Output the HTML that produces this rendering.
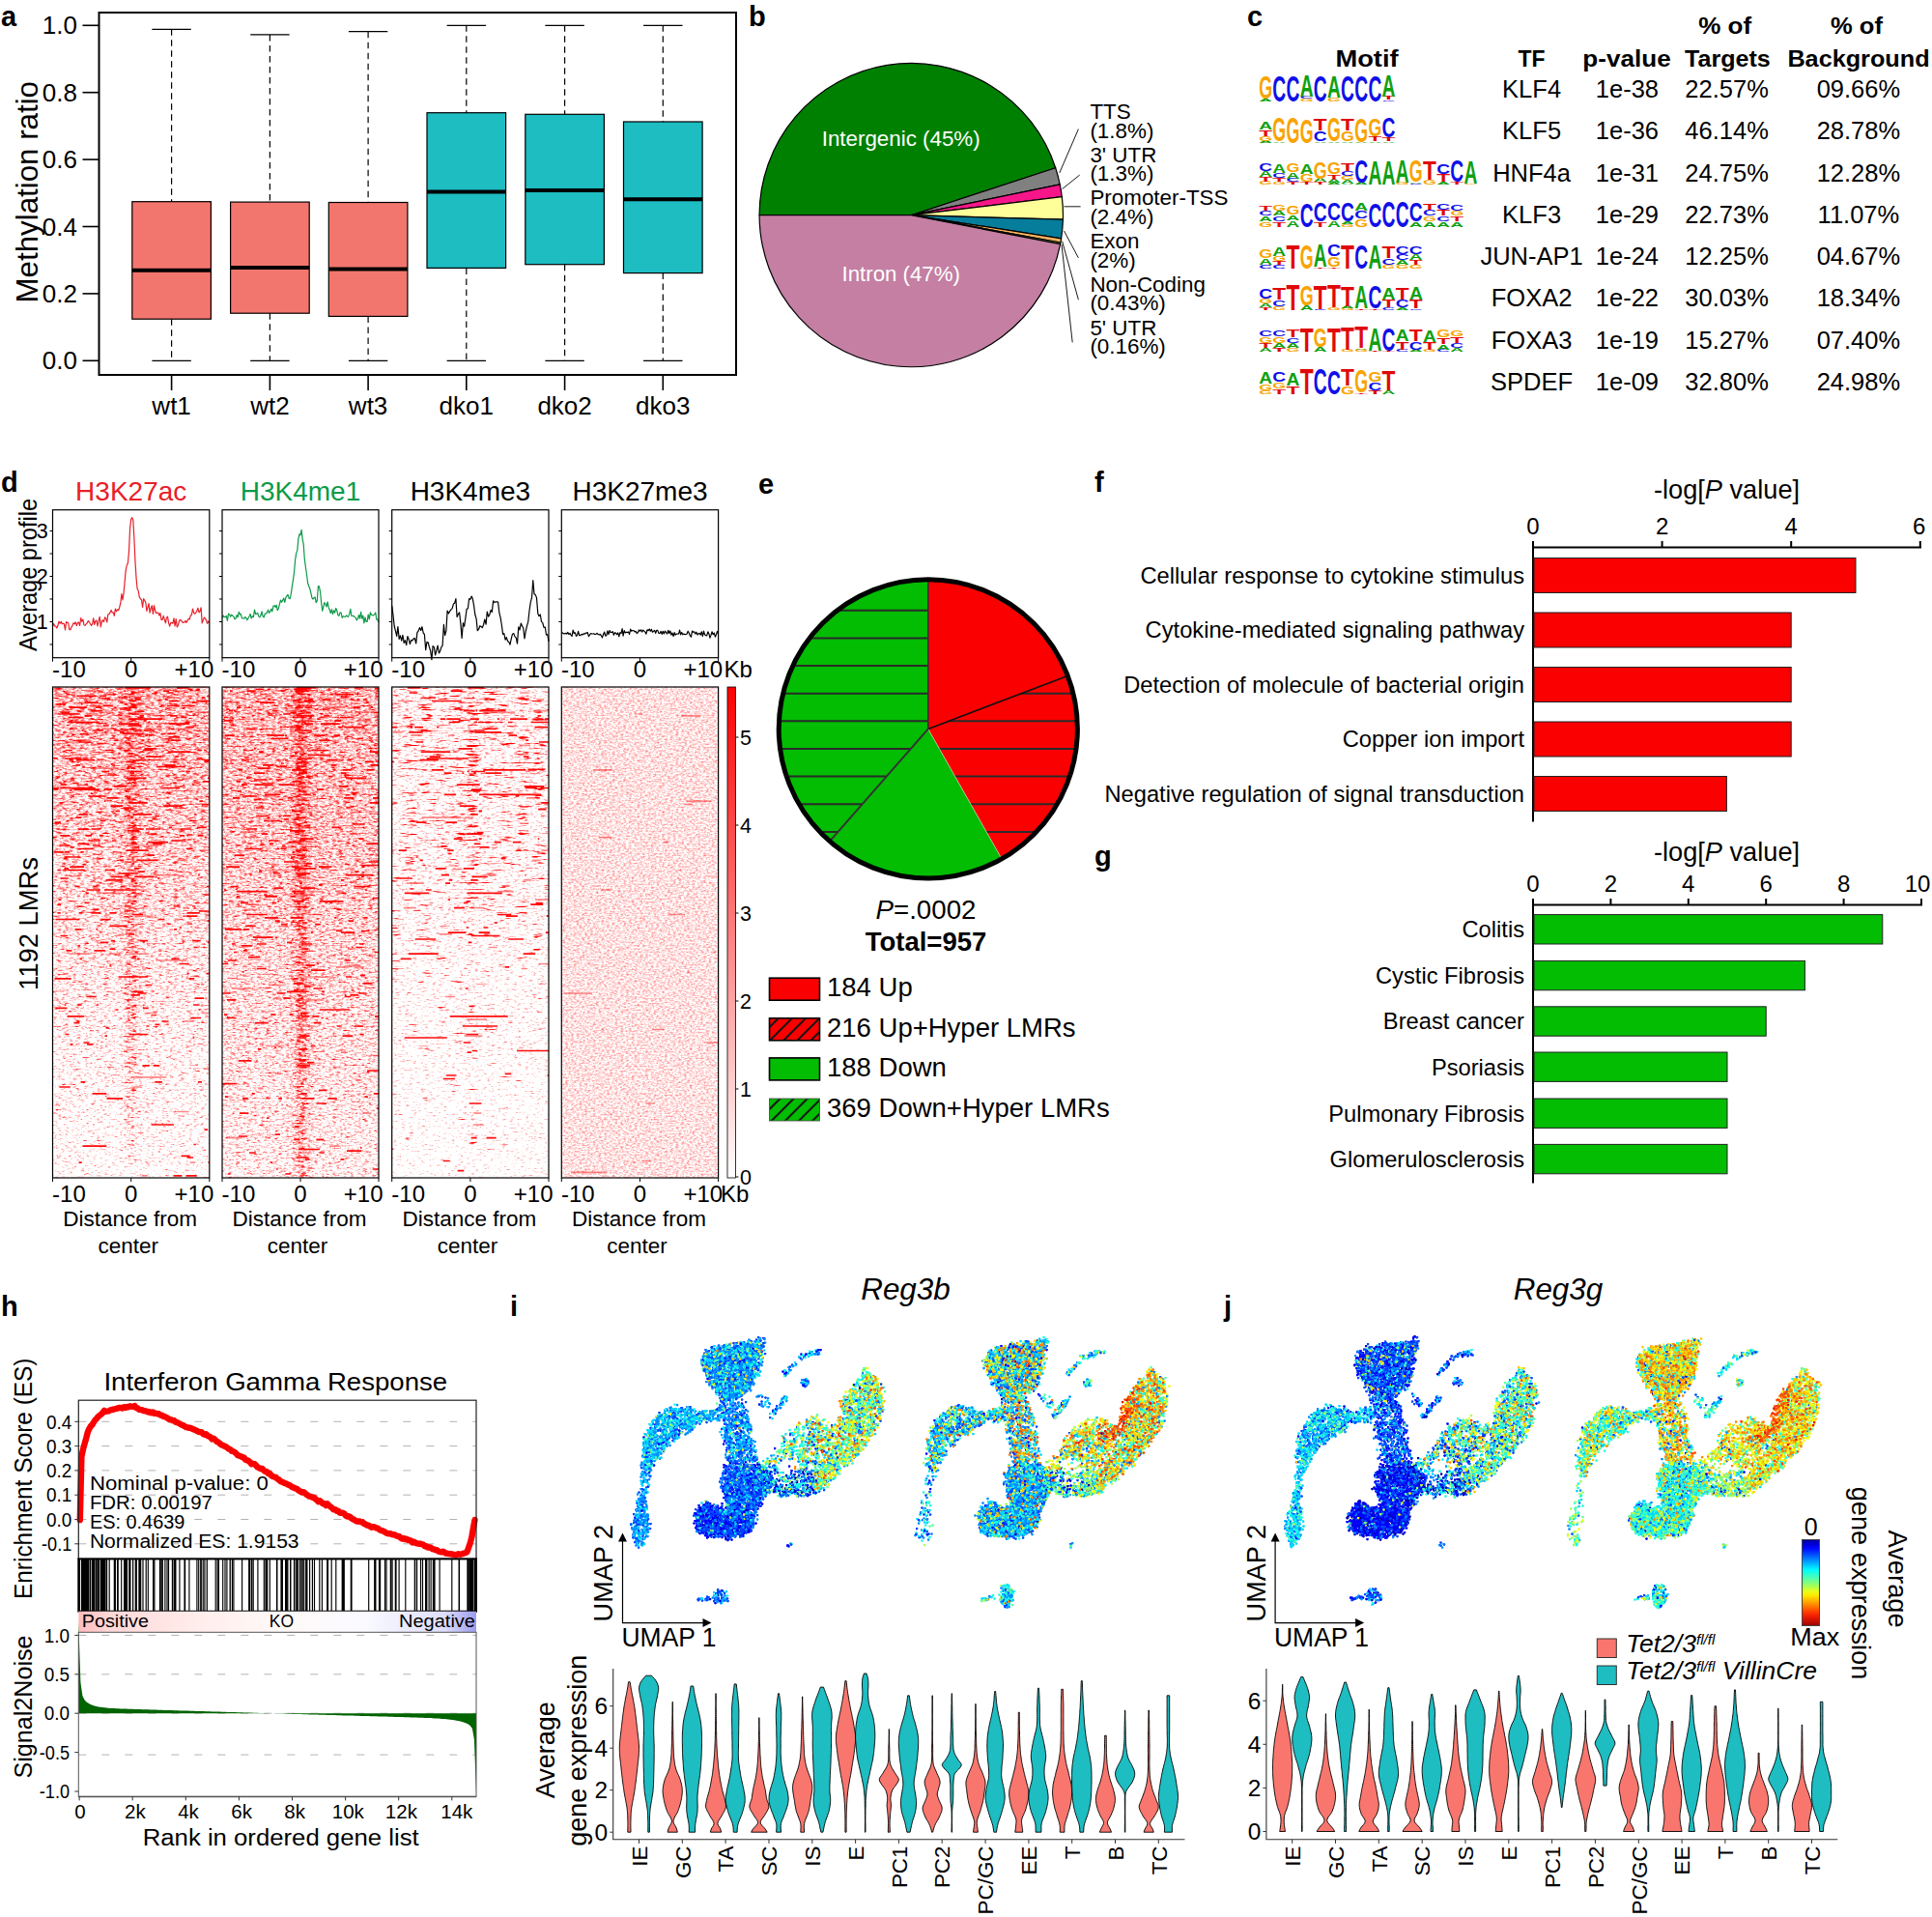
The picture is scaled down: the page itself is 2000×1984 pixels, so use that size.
<!DOCTYPE html>
<html><head><meta charset="utf-8"><title>Figure</title>
<style>html,body{margin:0;padding:0;background:#fff}svg{display:block}text{font-family:"Liberation Sans",sans-serif}</style>
</head><body>
<svg width="2000" height="1984" viewBox="0 0 2000 1984">
<rect width="2000" height="1984" fill="#fff"/>
<text x="1" y="26.5" font-size="29" font-weight="bold">a</text>
<path d="M177.6 30.3V208.7M177.6 330.2V373.3" stroke="#000" stroke-width="1.2" stroke-dasharray="6.5 4.5" fill="none"/>
<path d="M157.4 30.3h40.4M157.4 373.3h40.4" stroke="#000" stroke-width="1.3"/>
<rect x="136.8" y="208.7" width="81.6" height="121.5" fill="#F3766E" stroke="#000" stroke-width="1.2"/>
<path d="M136.8 279.8L218.4 279.8" stroke="#000" stroke-width="4"/>
<path d="M177.6 388L177.6 404" stroke="#000" stroke-width="1.6"/>
<text x="177.6" y="428.7" font-size="26" text-anchor="middle">wt1</text>
<path d="M279.4 35.9V209.1M279.4 324.2V373.3" stroke="#000" stroke-width="1.2" stroke-dasharray="6.5 4.5" fill="none"/>
<path d="M259.2 35.9h40.4M259.2 373.3h40.4" stroke="#000" stroke-width="1.3"/>
<rect x="238.6" y="209.1" width="81.6" height="115.1" fill="#F3766E" stroke="#000" stroke-width="1.2"/>
<path d="M238.6 277L320.2 277" stroke="#000" stroke-width="4"/>
<path d="M279.4 388L279.4 404" stroke="#000" stroke-width="1.6"/>
<text x="279.4" y="428.7" font-size="26" text-anchor="middle">wt2</text>
<path d="M381.1 32.7V209.5M381.1 327.4V373.3" stroke="#000" stroke-width="1.2" stroke-dasharray="6.5 4.5" fill="none"/>
<path d="M360.9 32.7h40.4M360.9 373.3h40.4" stroke="#000" stroke-width="1.3"/>
<rect x="340.3" y="209.5" width="81.6" height="117.9" fill="#F3766E" stroke="#000" stroke-width="1.2"/>
<path d="M340.3 278.6L421.9 278.6" stroke="#000" stroke-width="4"/>
<path d="M381.1 388L381.1 404" stroke="#000" stroke-width="1.6"/>
<text x="381.1" y="428.7" font-size="26" text-anchor="middle">wt3</text>
<path d="M482.8 26.3V116.7M482.8 277.4V373.3" stroke="#000" stroke-width="1.2" stroke-dasharray="6.5 4.5" fill="none"/>
<path d="M462.6 26.3h40.4M462.6 373.3h40.4" stroke="#000" stroke-width="1.3"/>
<rect x="442" y="116.7" width="81.6" height="160.7" fill="#1DBDC2" stroke="#000" stroke-width="1.2"/>
<path d="M442 198.6L523.6 198.6" stroke="#000" stroke-width="4"/>
<path d="M482.8 388L482.8 404" stroke="#000" stroke-width="1.6"/>
<text x="482.8" y="428.7" font-size="26" text-anchor="middle">dko1</text>
<path d="M584.6 26.3V118.3M584.6 273.7V373.3" stroke="#000" stroke-width="1.2" stroke-dasharray="6.5 4.5" fill="none"/>
<path d="M564.4 26.3h40.4M564.4 373.3h40.4" stroke="#000" stroke-width="1.3"/>
<rect x="543.8" y="118.3" width="81.6" height="155.4" fill="#1DBDC2" stroke="#000" stroke-width="1.2"/>
<path d="M543.8 197L625.4 197" stroke="#000" stroke-width="4"/>
<path d="M584.6 388L584.6 404" stroke="#000" stroke-width="1.6"/>
<text x="584.6" y="428.7" font-size="26" text-anchor="middle">dko2</text>
<path d="M686.3 26.3V126M686.3 282.6V373.3" stroke="#000" stroke-width="1.2" stroke-dasharray="6.5 4.5" fill="none"/>
<path d="M666.1 26.3h40.4M666.1 373.3h40.4" stroke="#000" stroke-width="1.3"/>
<rect x="645.5" y="126" width="81.6" height="156.6" fill="#1DBDC2" stroke="#000" stroke-width="1.2"/>
<path d="M645.5 206.3L727.1 206.3" stroke="#000" stroke-width="4"/>
<path d="M686.3 388L686.3 404" stroke="#000" stroke-width="1.6"/>
<text x="686.3" y="428.7" font-size="26" text-anchor="middle">dko3</text>
<rect x="102.5" y="13" width="659.5" height="375" fill="none" stroke="#000" stroke-width="2"/>
<path d="M85.5 373.3L102.5 373.3" stroke="#000" stroke-width="1.6"/>
<text x="80" y="382.3" font-size="26" text-anchor="end">0.0</text>
<path d="M85.5 303.9L102.5 303.9" stroke="#000" stroke-width="1.6"/>
<text x="80" y="312.9" font-size="26" text-anchor="end">0.2</text>
<path d="M85.5 234.5L102.5 234.5" stroke="#000" stroke-width="1.6"/>
<text x="80" y="243.5" font-size="26" text-anchor="end">0.4</text>
<path d="M85.5 165.1L102.5 165.1" stroke="#000" stroke-width="1.6"/>
<text x="80" y="174.1" font-size="26" text-anchor="end">0.6</text>
<path d="M85.5 95.7L102.5 95.7" stroke="#000" stroke-width="1.6"/>
<text x="80" y="104.7" font-size="26" text-anchor="end">0.8</text>
<path d="M85.5 26.3L102.5 26.3" stroke="#000" stroke-width="1.6"/>
<text x="80" y="35.3" font-size="26" text-anchor="end">1.0</text>
<text font-size="32" textLength="229.5" lengthAdjust="spacingAndGlyphs" transform="translate(38.7 313.5) rotate(-90)">Methylation ratio</text>
<text x="775" y="27" font-size="29" font-weight="bold">b</text>
<path d="M943.3 222.7L786.1 222.7A157.2 157.2 0 0 1 1092.7 173.7Z" fill="#008000" stroke="#000" stroke-width="1.2" stroke-linejoin="round"/>
<path d="M943.3 222.7L1092.7 173.7A157.2 157.2 0 0 1 1097.2 190.9Z" fill="#808080" stroke="#000" stroke-width="1.2" stroke-linejoin="round"/>
<path d="M943.3 222.7L1097.2 190.9A157.2 157.2 0 0 1 1099.3 203.6Z" fill="#F7168A" stroke="#000" stroke-width="1.2" stroke-linejoin="round"/>
<path d="M943.3 222.7L1099.3 203.6A157.2 157.2 0 0 1 1100.4 227.2Z" fill="#FFFF99" stroke="#000" stroke-width="1.2" stroke-linejoin="round"/>
<path d="M943.3 222.7L1100.4 227.2A157.2 157.2 0 0 1 1098.6 246.8Z" fill="#067D9B" stroke="#000" stroke-width="1.2" stroke-linejoin="round"/>
<path d="M943.3 222.7L1098.6 246.8A157.2 157.2 0 0 1 1097.9 251Z" fill="#FDB462" stroke="#000" stroke-width="1.2" stroke-linejoin="round"/>
<path d="M943.3 222.7L1097.9 251A157.2 157.2 0 0 1 1097.6 252.6Z" fill="#B3DE69" stroke="#000" stroke-width="1.2" stroke-linejoin="round"/>
<path d="M943.3 222.7L1097.6 252.6A157.2 157.2 0 0 1 786.1 222.7Z" fill="#C47FA3" stroke="#000" stroke-width="1.2" stroke-linejoin="round"/>
<text x="932.7" y="150.9" font-size="22.6" text-anchor="middle" fill="#fff" textLength="164" lengthAdjust="spacingAndGlyphs">Intergenic (45%)</text>
<text x="932.7" y="290.7" font-size="22.6" text-anchor="middle" fill="#fff" textLength="122.4" lengthAdjust="spacingAndGlyphs">Intron (47%)</text>
<text x="1128.4" y="123" font-size="22.4">TTS</text>
<text x="1128.4" y="142.5" font-size="22.4">(1.8%)</text>
<text x="1128.4" y="167.7" font-size="22.4">3' UTR</text>
<text x="1128.4" y="187.3" font-size="22.4">(1.3%)</text>
<text x="1128.4" y="212.4" font-size="22.4">Promoter-TSS</text>
<text x="1128.4" y="232" font-size="22.4">(2.4%)</text>
<text x="1128.4" y="257.1" font-size="22.4">Exon</text>
<text x="1128.4" y="276.7" font-size="22.4">(2%)</text>
<text x="1128.4" y="301.8" font-size="22.4">Non-Coding</text>
<text x="1128.4" y="321.4" font-size="22.4">(0.43%)</text>
<text x="1128.4" y="346.6" font-size="22.4">5' UTR</text>
<text x="1128.4" y="366.1" font-size="22.4">(0.16%)</text>
<path d="M1096.8 178.9L1116.4 133.6" stroke="#000" stroke-width="0.9"/>
<path d="M1099.6 195.6L1117.7 181.1" stroke="#000" stroke-width="0.9"/>
<path d="M1101.5 213.8L1118.6 213.8" stroke="#000" stroke-width="0.9"/>
<path d="M1101.5 239L1116.4 266.9" stroke="#000" stroke-width="0.9"/>
<path d="M1099.6 249.6L1116.4 310.2" stroke="#000" stroke-width="0.9"/>
<path d="M1099 252.9L1110.2 354.4" stroke="#000" stroke-width="0.9"/>
<text x="1291" y="27" font-size="29" font-weight="bold">c</text>
<text x="1415" y="69" font-size="24" text-anchor="middle" font-weight="bold" textLength="65.2" lengthAdjust="spacingAndGlyphs">Motif</text>
<text x="1585.6" y="69" font-size="24" text-anchor="middle" font-weight="bold" textLength="28" lengthAdjust="spacingAndGlyphs">TF</text>
<text x="1684" y="69" font-size="24" text-anchor="middle" font-weight="bold" textLength="91.3" lengthAdjust="spacingAndGlyphs">p-value</text>
<text x="1785.7" y="35.4" font-size="24" text-anchor="middle" font-weight="bold" textLength="55" lengthAdjust="spacingAndGlyphs">% of</text>
<text x="1788.4" y="69" font-size="24" text-anchor="middle" font-weight="bold" textLength="88.7" lengthAdjust="spacingAndGlyphs">Targets</text>
<text x="1922" y="35.4" font-size="24" text-anchor="middle" font-weight="bold" textLength="54" lengthAdjust="spacingAndGlyphs">% of</text>
<text x="1924" y="69" font-size="24" text-anchor="middle" font-weight="bold" textLength="147.2" lengthAdjust="spacingAndGlyphs">Background</text>
<text x="1585.6" y="100.9" font-size="25.5" text-anchor="middle">KLF4</text>
<text x="1684.4" y="100.9" font-size="25.5" text-anchor="middle">1e-38</text>
<text x="1787.6" y="100.9" font-size="25.5" text-anchor="middle">22.57%</text>
<text x="1923.9" y="100.9" font-size="25.5" text-anchor="middle">09.66%</text>
<text x="1585.6" y="144.2" font-size="25.5" text-anchor="middle">KLF5</text>
<text x="1684.4" y="144.2" font-size="25.5" text-anchor="middle">1e-36</text>
<text x="1787.6" y="144.2" font-size="25.5" text-anchor="middle">46.14%</text>
<text x="1923.9" y="144.2" font-size="25.5" text-anchor="middle">28.78%</text>
<text x="1585.6" y="187.5" font-size="25.5" text-anchor="middle">HNF4a</text>
<text x="1684.4" y="187.5" font-size="25.5" text-anchor="middle">1e-31</text>
<text x="1787.6" y="187.5" font-size="25.5" text-anchor="middle">24.75%</text>
<text x="1923.9" y="187.5" font-size="25.5" text-anchor="middle">12.28%</text>
<text x="1585.6" y="230.8" font-size="25.5" text-anchor="middle">KLF3</text>
<text x="1684.4" y="230.8" font-size="25.5" text-anchor="middle">1e-29</text>
<text x="1787.6" y="230.8" font-size="25.5" text-anchor="middle">22.73%</text>
<text x="1923.9" y="230.8" font-size="25.5" text-anchor="middle">11.07%</text>
<text x="1585.6" y="274.1" font-size="25.5" text-anchor="middle">JUN-AP1</text>
<text x="1684.4" y="274.1" font-size="25.5" text-anchor="middle">1e-24</text>
<text x="1787.6" y="274.1" font-size="25.5" text-anchor="middle">12.25%</text>
<text x="1923.9" y="274.1" font-size="25.5" text-anchor="middle">04.67%</text>
<text x="1585.6" y="317.4" font-size="25.5" text-anchor="middle">FOXA2</text>
<text x="1684.4" y="317.4" font-size="25.5" text-anchor="middle">1e-22</text>
<text x="1787.6" y="317.4" font-size="25.5" text-anchor="middle">30.03%</text>
<text x="1923.9" y="317.4" font-size="25.5" text-anchor="middle">18.34%</text>
<text x="1585.6" y="360.7" font-size="25.5" text-anchor="middle">FOXA3</text>
<text x="1684.4" y="360.7" font-size="25.5" text-anchor="middle">1e-19</text>
<text x="1787.6" y="360.7" font-size="25.5" text-anchor="middle">15.27%</text>
<text x="1923.9" y="360.7" font-size="25.5" text-anchor="middle">07.40%</text>
<text x="1585.6" y="404" font-size="25.5" text-anchor="middle">SPDEF</text>
<text x="1684.4" y="404" font-size="25.5" text-anchor="middle">1e-09</text>
<text x="1787.6" y="404" font-size="25.5" text-anchor="middle">32.80%</text>
<text x="1923.9" y="404" font-size="25.5" text-anchor="middle">24.98%</text>
<text transform="translate(1310.1 104.60) scale(0.961 0.192)" text-anchor="middle" font-size="20" font-weight="bold" fill="#10A010">A</text><text transform="translate(1310.1 101.80) scale(0.892 1.632)" text-anchor="middle" font-size="20" font-weight="bold" fill="#F8A400">G</text><text transform="translate(1324.2 104.60) scale(0.961 1.824)" text-anchor="middle" font-size="20" font-weight="bold" fill="#1010E8">C</text><text transform="translate(1338.4 104.60) scale(0.961 1.824)" text-anchor="middle" font-size="20" font-weight="bold" fill="#1010E8">C</text><text transform="translate(1352.6 104.60) scale(0.892 0.154)" text-anchor="middle" font-size="20" font-weight="bold" fill="#F8A400">G</text><text transform="translate(1352.6 102.36) scale(0.961 0.134)" text-anchor="middle" font-size="20" font-weight="bold" fill="#1010E8">C</text><text transform="translate(1352.6 100.40) scale(0.961 1.536)" text-anchor="middle" font-size="20" font-weight="bold" fill="#10A010">A</text><text transform="translate(1366.7 104.60) scale(0.961 1.824)" text-anchor="middle" font-size="20" font-weight="bold" fill="#1010E8">C</text><text transform="translate(1380.9 104.60) scale(0.892 0.230)" text-anchor="middle" font-size="20" font-weight="bold" fill="#F8A400">G</text><text transform="translate(1380.9 101.24) scale(0.961 1.536)" text-anchor="middle" font-size="20" font-weight="bold" fill="#10A010">A</text><text transform="translate(1395 104.60) scale(0.961 1.824)" text-anchor="middle" font-size="20" font-weight="bold" fill="#1010E8">C</text><text transform="translate(1409.2 104.60) scale(0.961 1.824)" text-anchor="middle" font-size="20" font-weight="bold" fill="#1010E8">C</text><text transform="translate(1423.4 104.60) scale(0.961 1.824)" text-anchor="middle" font-size="20" font-weight="bold" fill="#1010E8">C</text><text transform="translate(1437.5 104.60) scale(0.961 0.115)" text-anchor="middle" font-size="20" font-weight="bold" fill="#1010E8">C</text><text transform="translate(1437.5 102.92) scale(1.136 0.230)" text-anchor="middle" font-size="20" font-weight="bold" fill="#E00808">T</text><text transform="translate(1437.5 99.56) scale(0.961 1.536)" text-anchor="middle" font-size="20" font-weight="bold" fill="#10A010">A</text>
<text transform="translate(1310.1 147.90) scale(0.961 0.134)" text-anchor="middle" font-size="20" font-weight="bold" fill="#10A010">A</text><text transform="translate(1310.1 145.94) scale(0.892 0.346)" text-anchor="middle" font-size="20" font-weight="bold" fill="#F8A400">G</text><text transform="translate(1310.1 140.90) scale(1.136 0.480)" text-anchor="middle" font-size="20" font-weight="bold" fill="#E00808">T</text><text transform="translate(1310.1 133.90) scale(0.961 0.576)" text-anchor="middle" font-size="20" font-weight="bold" fill="#10A010">A</text><text transform="translate(1324.2 147.90) scale(0.961 0.115)" text-anchor="middle" font-size="20" font-weight="bold" fill="#10A010">A</text><text transform="translate(1324.2 146.22) scale(0.892 1.728)" text-anchor="middle" font-size="20" font-weight="bold" fill="#F8A400">G</text><text transform="translate(1338.4 147.90) scale(0.892 1.824)" text-anchor="middle" font-size="20" font-weight="bold" fill="#F8A400">G</text><text transform="translate(1352.6 147.90) scale(0.892 1.728)" text-anchor="middle" font-size="20" font-weight="bold" fill="#F8A400">G</text><text transform="translate(1366.7 147.90) scale(0.961 0.115)" text-anchor="middle" font-size="20" font-weight="bold" fill="#10A010">A</text><text transform="translate(1366.7 146.22) scale(0.961 0.768)" text-anchor="middle" font-size="20" font-weight="bold" fill="#1010E8">C</text><text transform="translate(1366.7 135.02) scale(1.136 0.864)" text-anchor="middle" font-size="20" font-weight="bold" fill="#E00808">T</text><text transform="translate(1380.9 147.90) scale(0.961 0.115)" text-anchor="middle" font-size="20" font-weight="bold" fill="#10A010">A</text><text transform="translate(1380.9 146.22) scale(0.892 1.728)" text-anchor="middle" font-size="20" font-weight="bold" fill="#F8A400">G</text><text transform="translate(1395 147.90) scale(0.961 0.115)" text-anchor="middle" font-size="20" font-weight="bold" fill="#10A010">A</text><text transform="translate(1395 146.22) scale(0.892 0.768)" text-anchor="middle" font-size="20" font-weight="bold" fill="#F8A400">G</text><text transform="translate(1395 135.02) scale(1.136 0.864)" text-anchor="middle" font-size="20" font-weight="bold" fill="#E00808">T</text><text transform="translate(1409.2 147.90) scale(0.961 0.096)" text-anchor="middle" font-size="20" font-weight="bold" fill="#10A010">A</text><text transform="translate(1409.2 146.50) scale(0.892 1.728)" text-anchor="middle" font-size="20" font-weight="bold" fill="#F8A400">G</text><text transform="translate(1423.4 147.90) scale(0.961 0.115)" text-anchor="middle" font-size="20" font-weight="bold" fill="#10A010">A</text><text transform="translate(1423.4 146.22) scale(1.136 0.384)" text-anchor="middle" font-size="20" font-weight="bold" fill="#E00808">T</text><text transform="translate(1423.4 140.62) scale(0.892 1.248)" text-anchor="middle" font-size="20" font-weight="bold" fill="#F8A400">G</text><text transform="translate(1437.5 147.90) scale(0.961 0.115)" text-anchor="middle" font-size="20" font-weight="bold" fill="#10A010">A</text><text transform="translate(1437.5 146.22) scale(1.136 0.288)" text-anchor="middle" font-size="20" font-weight="bold" fill="#E00808">T</text><text transform="translate(1437.5 142.02) scale(0.961 1.440)" text-anchor="middle" font-size="20" font-weight="bold" fill="#1010E8">C</text>
<text transform="translate(1310.1 191.20) scale(0.892 0.230)" text-anchor="middle" font-size="20" font-weight="bold" fill="#F8A400">G</text><text transform="translate(1310.1 187.84) scale(1.136 0.346)" text-anchor="middle" font-size="20" font-weight="bold" fill="#E00808">T</text><text transform="translate(1310.1 182.80) scale(0.961 0.422)" text-anchor="middle" font-size="20" font-weight="bold" fill="#10A010">A</text><text transform="translate(1310.1 176.64) scale(0.961 0.538)" text-anchor="middle" font-size="20" font-weight="bold" fill="#1010E8">C</text><text transform="translate(1324.2 191.20) scale(0.892 0.192)" text-anchor="middle" font-size="20" font-weight="bold" fill="#F8A400">G</text><text transform="translate(1324.2 188.40) scale(1.136 0.288)" text-anchor="middle" font-size="20" font-weight="bold" fill="#E00808">T</text><text transform="translate(1324.2 184.20) scale(0.961 0.384)" text-anchor="middle" font-size="20" font-weight="bold" fill="#1010E8">C</text><text transform="translate(1324.2 178.60) scale(0.961 0.672)" text-anchor="middle" font-size="20" font-weight="bold" fill="#10A010">A</text><text transform="translate(1338.4 191.20) scale(1.136 0.192)" text-anchor="middle" font-size="20" font-weight="bold" fill="#E00808">T</text><text transform="translate(1338.4 188.40) scale(0.961 0.230)" text-anchor="middle" font-size="20" font-weight="bold" fill="#1010E8">C</text><text transform="translate(1338.4 185.04) scale(0.961 0.480)" text-anchor="middle" font-size="20" font-weight="bold" fill="#10A010">A</text><text transform="translate(1338.4 178.04) scale(0.892 0.634)" text-anchor="middle" font-size="20" font-weight="bold" fill="#F8A400">G</text><text transform="translate(1352.6 191.20) scale(1.136 0.192)" text-anchor="middle" font-size="20" font-weight="bold" fill="#E00808">T</text><text transform="translate(1352.6 188.40) scale(0.892 0.576)" text-anchor="middle" font-size="20" font-weight="bold" fill="#F8A400">G</text><text transform="translate(1352.6 180.00) scale(0.961 0.768)" text-anchor="middle" font-size="20" font-weight="bold" fill="#10A010">A</text><text transform="translate(1366.7 191.20) scale(1.136 0.192)" text-anchor="middle" font-size="20" font-weight="bold" fill="#E00808">T</text><text transform="translate(1366.7 188.40) scale(0.961 0.230)" text-anchor="middle" font-size="20" font-weight="bold" fill="#10A010">A</text><text transform="translate(1366.7 185.04) scale(0.892 1.152)" text-anchor="middle" font-size="20" font-weight="bold" fill="#F8A400">G</text><text transform="translate(1380.9 191.20) scale(0.961 0.154)" text-anchor="middle" font-size="20" font-weight="bold" fill="#10A010">A</text><text transform="translate(1380.9 188.96) scale(0.961 0.230)" text-anchor="middle" font-size="20" font-weight="bold" fill="#10A010">A</text><text transform="translate(1380.9 185.60) scale(1.136 0.384)" text-anchor="middle" font-size="20" font-weight="bold" fill="#E00808">T</text><text transform="translate(1380.9 180.00) scale(0.892 0.864)" text-anchor="middle" font-size="20" font-weight="bold" fill="#F8A400">G</text><text transform="translate(1395 191.20) scale(0.961 0.096)" text-anchor="middle" font-size="20" font-weight="bold" fill="#10A010">A</text><text transform="translate(1395 189.80) scale(0.961 0.230)" text-anchor="middle" font-size="20" font-weight="bold" fill="#10A010">A</text><text transform="translate(1395 186.44) scale(0.892 0.288)" text-anchor="middle" font-size="20" font-weight="bold" fill="#F8A400">G</text><text transform="translate(1395 182.24) scale(0.961 0.384)" text-anchor="middle" font-size="20" font-weight="bold" fill="#1010E8">C</text><text transform="translate(1395 176.64) scale(1.136 0.576)" text-anchor="middle" font-size="20" font-weight="bold" fill="#E00808">T</text><text transform="translate(1409.2 191.20) scale(0.961 0.154)" text-anchor="middle" font-size="20" font-weight="bold" fill="#10A010">A</text><text transform="translate(1409.2 188.96) scale(0.961 1.632)" text-anchor="middle" font-size="20" font-weight="bold" fill="#1010E8">C</text><text transform="translate(1423.4 191.20) scale(0.961 1.728)" text-anchor="middle" font-size="20" font-weight="bold" fill="#10A010">A</text><text transform="translate(1437.5 191.20) scale(0.961 1.728)" text-anchor="middle" font-size="20" font-weight="bold" fill="#10A010">A</text><text transform="translate(1451.7 191.20) scale(0.892 0.154)" text-anchor="middle" font-size="20" font-weight="bold" fill="#F8A400">G</text><text transform="translate(1451.7 188.96) scale(0.961 1.632)" text-anchor="middle" font-size="20" font-weight="bold" fill="#10A010">A</text><text transform="translate(1465.8 191.20) scale(0.961 0.115)" text-anchor="middle" font-size="20" font-weight="bold" fill="#1010E8">C</text><text transform="translate(1465.8 189.52) scale(0.961 0.115)" text-anchor="middle" font-size="20" font-weight="bold" fill="#10A010">A</text><text transform="translate(1465.8 187.84) scale(0.892 1.536)" text-anchor="middle" font-size="20" font-weight="bold" fill="#F8A400">G</text><text transform="translate(1480 191.20) scale(0.892 0.384)" text-anchor="middle" font-size="20" font-weight="bold" fill="#F8A400">G</text><text transform="translate(1480 185.60) scale(1.136 1.344)" text-anchor="middle" font-size="20" font-weight="bold" fill="#E00808">T</text><text transform="translate(1494.2 191.20) scale(0.961 0.192)" text-anchor="middle" font-size="20" font-weight="bold" fill="#10A010">A</text><text transform="translate(1494.2 188.40) scale(1.136 0.576)" text-anchor="middle" font-size="20" font-weight="bold" fill="#E00808">T</text><text transform="translate(1494.2 180.00) scale(0.961 0.768)" text-anchor="middle" font-size="20" font-weight="bold" fill="#1010E8">C</text><text transform="translate(1508.3 191.20) scale(1.136 0.192)" text-anchor="middle" font-size="20" font-weight="bold" fill="#E00808">T</text><text transform="translate(1508.3 188.40) scale(0.961 1.536)" text-anchor="middle" font-size="20" font-weight="bold" fill="#1010E8">C</text><text transform="translate(1522.5 191.20) scale(0.892 0.115)" text-anchor="middle" font-size="20" font-weight="bold" fill="#F8A400">G</text><text transform="translate(1522.5 189.52) scale(0.961 1.632)" text-anchor="middle" font-size="20" font-weight="bold" fill="#10A010">A</text>
<text transform="translate(1310.1 234.50) scale(0.892 0.384)" text-anchor="middle" font-size="20" font-weight="bold" fill="#F8A400">G</text><text transform="translate(1310.1 228.90) scale(0.961 0.384)" text-anchor="middle" font-size="20" font-weight="bold" fill="#10A010">A</text><text transform="translate(1310.1 223.30) scale(0.961 0.384)" text-anchor="middle" font-size="20" font-weight="bold" fill="#1010E8">C</text><text transform="translate(1310.1 217.70) scale(1.136 0.384)" text-anchor="middle" font-size="20" font-weight="bold" fill="#E00808">T</text><text transform="translate(1324.2 234.50) scale(1.136 0.384)" text-anchor="middle" font-size="20" font-weight="bold" fill="#E00808">T</text><text transform="translate(1324.2 228.90) scale(0.961 0.384)" text-anchor="middle" font-size="20" font-weight="bold" fill="#1010E8">C</text><text transform="translate(1324.2 223.30) scale(0.961 0.384)" text-anchor="middle" font-size="20" font-weight="bold" fill="#10A010">A</text><text transform="translate(1324.2 217.70) scale(0.892 0.480)" text-anchor="middle" font-size="20" font-weight="bold" fill="#F8A400">G</text><text transform="translate(1338.4 234.50) scale(0.961 0.480)" text-anchor="middle" font-size="20" font-weight="bold" fill="#10A010">A</text><text transform="translate(1338.4 227.50) scale(0.961 0.384)" text-anchor="middle" font-size="20" font-weight="bold" fill="#10A010">A</text><text transform="translate(1338.4 221.90) scale(0.892 0.672)" text-anchor="middle" font-size="20" font-weight="bold" fill="#F8A400">G</text><text transform="translate(1352.6 234.50) scale(0.961 1.728)" text-anchor="middle" font-size="20" font-weight="bold" fill="#1010E8">C</text><text transform="translate(1366.7 234.50) scale(1.136 0.384)" text-anchor="middle" font-size="20" font-weight="bold" fill="#E00808">T</text><text transform="translate(1366.7 228.90) scale(0.961 1.344)" text-anchor="middle" font-size="20" font-weight="bold" fill="#1010E8">C</text><text transform="translate(1380.9 234.50) scale(0.961 0.480)" text-anchor="middle" font-size="20" font-weight="bold" fill="#10A010">A</text><text transform="translate(1380.9 227.50) scale(0.961 1.248)" text-anchor="middle" font-size="20" font-weight="bold" fill="#1010E8">C</text><text transform="translate(1395 234.50) scale(0.892 0.192)" text-anchor="middle" font-size="20" font-weight="bold" fill="#F8A400">G</text><text transform="translate(1395 231.70) scale(0.961 0.192)" text-anchor="middle" font-size="20" font-weight="bold" fill="#10A010">A</text><text transform="translate(1395 228.90) scale(0.961 1.344)" text-anchor="middle" font-size="20" font-weight="bold" fill="#1010E8">C</text><text transform="translate(1409.2 234.50) scale(0.892 0.576)" text-anchor="middle" font-size="20" font-weight="bold" fill="#F8A400">G</text><text transform="translate(1409.2 226.10) scale(0.961 0.576)" text-anchor="middle" font-size="20" font-weight="bold" fill="#1010E8">C</text><text transform="translate(1409.2 217.70) scale(0.961 0.576)" text-anchor="middle" font-size="20" font-weight="bold" fill="#10A010">A</text><text transform="translate(1423.4 234.50) scale(0.961 1.728)" text-anchor="middle" font-size="20" font-weight="bold" fill="#1010E8">C</text><text transform="translate(1437.5 234.50) scale(0.961 1.824)" text-anchor="middle" font-size="20" font-weight="bold" fill="#1010E8">C</text><text transform="translate(1451.7 234.50) scale(0.961 1.824)" text-anchor="middle" font-size="20" font-weight="bold" fill="#1010E8">C</text><text transform="translate(1465.8 234.50) scale(0.961 0.384)" text-anchor="middle" font-size="20" font-weight="bold" fill="#10A010">A</text><text transform="translate(1465.8 228.90) scale(0.961 1.344)" text-anchor="middle" font-size="20" font-weight="bold" fill="#1010E8">C</text><text transform="translate(1480 234.50) scale(0.961 0.384)" text-anchor="middle" font-size="20" font-weight="bold" fill="#10A010">A</text><text transform="translate(1480 228.90) scale(0.892 0.384)" text-anchor="middle" font-size="20" font-weight="bold" fill="#F8A400">G</text><text transform="translate(1480 223.30) scale(0.961 0.422)" text-anchor="middle" font-size="20" font-weight="bold" fill="#1010E8">C</text><text transform="translate(1480 217.14) scale(1.136 0.422)" text-anchor="middle" font-size="20" font-weight="bold" fill="#E00808">T</text><text transform="translate(1494.2 234.50) scale(0.961 0.384)" text-anchor="middle" font-size="20" font-weight="bold" fill="#10A010">A</text><text transform="translate(1494.2 228.90) scale(0.961 0.384)" text-anchor="middle" font-size="20" font-weight="bold" fill="#1010E8">C</text><text transform="translate(1494.2 223.30) scale(1.136 0.422)" text-anchor="middle" font-size="20" font-weight="bold" fill="#E00808">T</text><text transform="translate(1494.2 217.14) scale(0.961 0.422)" text-anchor="middle" font-size="20" font-weight="bold" fill="#1010E8">C</text><text transform="translate(1508.3 234.50) scale(0.961 0.384)" text-anchor="middle" font-size="20" font-weight="bold" fill="#10A010">A</text><text transform="translate(1508.3 228.90) scale(1.136 0.384)" text-anchor="middle" font-size="20" font-weight="bold" fill="#E00808">T</text><text transform="translate(1508.3 223.30) scale(0.892 0.384)" text-anchor="middle" font-size="20" font-weight="bold" fill="#F8A400">G</text><text transform="translate(1508.3 217.70) scale(0.961 0.422)" text-anchor="middle" font-size="20" font-weight="bold" fill="#1010E8">C</text>
<text transform="translate(1310.1 277.80) scale(0.961 0.288)" text-anchor="middle" font-size="20" font-weight="bold" fill="#1010E8">C</text><text transform="translate(1310.1 273.60) scale(0.961 0.480)" text-anchor="middle" font-size="20" font-weight="bold" fill="#10A010">A</text><text transform="translate(1310.1 266.60) scale(0.892 0.672)" text-anchor="middle" font-size="20" font-weight="bold" fill="#F8A400">G</text><text transform="translate(1324.2 277.80) scale(0.961 0.230)" text-anchor="middle" font-size="20" font-weight="bold" fill="#1010E8">C</text><text transform="translate(1324.2 274.44) scale(1.136 0.288)" text-anchor="middle" font-size="20" font-weight="bold" fill="#E00808">T</text><text transform="translate(1324.2 270.24) scale(0.892 0.384)" text-anchor="middle" font-size="20" font-weight="bold" fill="#F8A400">G</text><text transform="translate(1324.2 264.64) scale(0.961 0.672)" text-anchor="middle" font-size="20" font-weight="bold" fill="#10A010">A</text><text transform="translate(1338.4 277.80) scale(1.136 1.728)" text-anchor="middle" font-size="20" font-weight="bold" fill="#E00808">T</text><text transform="translate(1352.6 277.80) scale(0.892 1.728)" text-anchor="middle" font-size="20" font-weight="bold" fill="#F8A400">G</text><text transform="translate(1366.7 277.80) scale(1.136 0.096)" text-anchor="middle" font-size="20" font-weight="bold" fill="#E00808">T</text><text transform="translate(1366.7 276.40) scale(0.961 1.690)" text-anchor="middle" font-size="20" font-weight="bold" fill="#10A010">A</text><text transform="translate(1380.9 277.80) scale(1.136 0.115)" text-anchor="middle" font-size="20" font-weight="bold" fill="#E00808">T</text><text transform="translate(1380.9 276.12) scale(0.892 0.768)" text-anchor="middle" font-size="20" font-weight="bold" fill="#F8A400">G</text><text transform="translate(1380.9 264.92) scale(0.961 0.807)" text-anchor="middle" font-size="20" font-weight="bold" fill="#1010E8">C</text><text transform="translate(1395 277.80) scale(1.136 1.728)" text-anchor="middle" font-size="20" font-weight="bold" fill="#E00808">T</text><text transform="translate(1409.2 277.80) scale(0.961 1.728)" text-anchor="middle" font-size="20" font-weight="bold" fill="#1010E8">C</text><text transform="translate(1423.4 277.80) scale(0.961 1.728)" text-anchor="middle" font-size="20" font-weight="bold" fill="#10A010">A</text><text transform="translate(1437.5 277.80) scale(0.892 0.288)" text-anchor="middle" font-size="20" font-weight="bold" fill="#F8A400">G</text><text transform="translate(1437.5 273.60) scale(0.961 0.480)" text-anchor="middle" font-size="20" font-weight="bold" fill="#1010E8">C</text><text transform="translate(1437.5 266.60) scale(1.136 0.864)" text-anchor="middle" font-size="20" font-weight="bold" fill="#E00808">T</text><text transform="translate(1451.7 277.80) scale(0.892 0.230)" text-anchor="middle" font-size="20" font-weight="bold" fill="#F8A400">G</text><text transform="translate(1451.7 274.44) scale(0.961 0.384)" text-anchor="middle" font-size="20" font-weight="bold" fill="#10A010">A</text><text transform="translate(1451.7 268.84) scale(0.961 0.422)" text-anchor="middle" font-size="20" font-weight="bold" fill="#1010E8">C</text><text transform="translate(1451.7 262.68) scale(0.961 0.538)" text-anchor="middle" font-size="20" font-weight="bold" fill="#1010E8">C</text><text transform="translate(1465.8 277.80) scale(0.892 0.230)" text-anchor="middle" font-size="20" font-weight="bold" fill="#F8A400">G</text><text transform="translate(1465.8 274.44) scale(1.136 0.384)" text-anchor="middle" font-size="20" font-weight="bold" fill="#E00808">T</text><text transform="translate(1465.8 268.84) scale(0.961 0.422)" text-anchor="middle" font-size="20" font-weight="bold" fill="#10A010">A</text><text transform="translate(1465.8 262.68) scale(0.961 0.538)" text-anchor="middle" font-size="20" font-weight="bold" fill="#1010E8">C</text>
<text transform="translate(1310.1 321.10) scale(1.136 0.192)" text-anchor="middle" font-size="20" font-weight="bold" fill="#E00808">T</text><text transform="translate(1310.1 318.30) scale(0.961 0.288)" text-anchor="middle" font-size="20" font-weight="bold" fill="#10A010">A</text><text transform="translate(1310.1 314.10) scale(0.892 0.384)" text-anchor="middle" font-size="20" font-weight="bold" fill="#F8A400">G</text><text transform="translate(1310.1 308.50) scale(0.961 0.730)" text-anchor="middle" font-size="20" font-weight="bold" fill="#1010E8">C</text><text transform="translate(1324.2 321.10) scale(0.892 0.288)" text-anchor="middle" font-size="20" font-weight="bold" fill="#F8A400">G</text><text transform="translate(1324.2 316.90) scale(0.961 0.480)" text-anchor="middle" font-size="20" font-weight="bold" fill="#1010E8">C</text><text transform="translate(1324.2 309.90) scale(1.136 0.864)" text-anchor="middle" font-size="20" font-weight="bold" fill="#E00808">T</text><text transform="translate(1338.4 321.10) scale(1.136 1.824)" text-anchor="middle" font-size="20" font-weight="bold" fill="#E00808">T</text><text transform="translate(1352.6 321.10) scale(0.961 0.346)" text-anchor="middle" font-size="20" font-weight="bold" fill="#10A010">A</text><text transform="translate(1352.6 316.06) scale(0.892 1.440)" text-anchor="middle" font-size="20" font-weight="bold" fill="#F8A400">G</text><text transform="translate(1366.7 321.10) scale(0.961 0.096)" text-anchor="middle" font-size="20" font-weight="bold" fill="#1010E8">C</text><text transform="translate(1366.7 319.70) scale(1.136 1.728)" text-anchor="middle" font-size="20" font-weight="bold" fill="#E00808">T</text><text transform="translate(1380.9 321.10) scale(0.892 0.192)" text-anchor="middle" font-size="20" font-weight="bold" fill="#F8A400">G</text><text transform="translate(1380.9 318.30) scale(1.136 1.632)" text-anchor="middle" font-size="20" font-weight="bold" fill="#E00808">T</text><text transform="translate(1395 321.10) scale(0.892 0.154)" text-anchor="middle" font-size="20" font-weight="bold" fill="#F8A400">G</text><text transform="translate(1395 318.86) scale(0.961 0.154)" text-anchor="middle" font-size="20" font-weight="bold" fill="#10A010">A</text><text transform="translate(1395 316.62) scale(1.136 1.498)" text-anchor="middle" font-size="20" font-weight="bold" fill="#E00808">T</text><text transform="translate(1409.2 321.10) scale(1.136 0.115)" text-anchor="middle" font-size="20" font-weight="bold" fill="#E00808">T</text><text transform="translate(1409.2 319.42) scale(0.961 1.632)" text-anchor="middle" font-size="20" font-weight="bold" fill="#10A010">A</text><text transform="translate(1423.4 321.10) scale(1.136 0.115)" text-anchor="middle" font-size="20" font-weight="bold" fill="#E00808">T</text><text transform="translate(1423.4 319.42) scale(0.961 1.632)" text-anchor="middle" font-size="20" font-weight="bold" fill="#1010E8">C</text><text transform="translate(1437.5 321.10) scale(0.961 0.192)" text-anchor="middle" font-size="20" font-weight="bold" fill="#1010E8">C</text><text transform="translate(1437.5 318.30) scale(1.136 0.576)" text-anchor="middle" font-size="20" font-weight="bold" fill="#E00808">T</text><text transform="translate(1437.5 309.90) scale(0.961 0.864)" text-anchor="middle" font-size="20" font-weight="bold" fill="#10A010">A</text><text transform="translate(1451.7 321.10) scale(0.961 0.192)" text-anchor="middle" font-size="20" font-weight="bold" fill="#10A010">A</text><text transform="translate(1451.7 318.30) scale(0.961 0.576)" text-anchor="middle" font-size="20" font-weight="bold" fill="#1010E8">C</text><text transform="translate(1451.7 309.90) scale(1.136 0.864)" text-anchor="middle" font-size="20" font-weight="bold" fill="#E00808">T</text><text transform="translate(1465.8 321.10) scale(0.961 0.115)" text-anchor="middle" font-size="20" font-weight="bold" fill="#1010E8">C</text><text transform="translate(1465.8 319.42) scale(1.136 0.615)" text-anchor="middle" font-size="20" font-weight="bold" fill="#E00808">T</text><text transform="translate(1465.8 310.46) scale(0.961 0.903)" text-anchor="middle" font-size="20" font-weight="bold" fill="#10A010">A</text>
<text transform="translate(1310.1 364.40) scale(0.961 0.288)" text-anchor="middle" font-size="20" font-weight="bold" fill="#10A010">A</text><text transform="translate(1310.1 360.20) scale(1.136 0.384)" text-anchor="middle" font-size="20" font-weight="bold" fill="#E00808">T</text><text transform="translate(1310.1 354.60) scale(0.892 0.422)" text-anchor="middle" font-size="20" font-weight="bold" fill="#F8A400">G</text><text transform="translate(1310.1 348.44) scale(0.961 0.480)" text-anchor="middle" font-size="20" font-weight="bold" fill="#1010E8">C</text><text transform="translate(1324.2 364.40) scale(1.136 0.288)" text-anchor="middle" font-size="20" font-weight="bold" fill="#E00808">T</text><text transform="translate(1324.2 360.20) scale(0.961 0.384)" text-anchor="middle" font-size="20" font-weight="bold" fill="#10A010">A</text><text transform="translate(1324.2 354.60) scale(0.892 0.422)" text-anchor="middle" font-size="20" font-weight="bold" fill="#F8A400">G</text><text transform="translate(1324.2 348.44) scale(0.961 0.480)" text-anchor="middle" font-size="20" font-weight="bold" fill="#1010E8">C</text><text transform="translate(1338.4 364.40) scale(0.892 0.288)" text-anchor="middle" font-size="20" font-weight="bold" fill="#F8A400">G</text><text transform="translate(1338.4 360.20) scale(0.961 0.384)" text-anchor="middle" font-size="20" font-weight="bold" fill="#10A010">A</text><text transform="translate(1338.4 354.60) scale(0.961 0.384)" text-anchor="middle" font-size="20" font-weight="bold" fill="#1010E8">C</text><text transform="translate(1338.4 349.00) scale(1.136 0.538)" text-anchor="middle" font-size="20" font-weight="bold" fill="#E00808">T</text><text transform="translate(1352.6 364.40) scale(1.136 1.728)" text-anchor="middle" font-size="20" font-weight="bold" fill="#E00808">T</text><text transform="translate(1366.7 364.40) scale(0.961 0.384)" text-anchor="middle" font-size="20" font-weight="bold" fill="#10A010">A</text><text transform="translate(1366.7 358.80) scale(0.892 1.344)" text-anchor="middle" font-size="20" font-weight="bold" fill="#F8A400">G</text><text transform="translate(1380.9 364.40) scale(1.136 1.767)" text-anchor="middle" font-size="20" font-weight="bold" fill="#E00808">T</text><text transform="translate(1395 364.40) scale(0.892 0.154)" text-anchor="middle" font-size="20" font-weight="bold" fill="#F8A400">G</text><text transform="translate(1395 362.16) scale(1.136 1.690)" text-anchor="middle" font-size="20" font-weight="bold" fill="#E00808">T</text><text transform="translate(1409.2 364.40) scale(0.892 0.192)" text-anchor="middle" font-size="20" font-weight="bold" fill="#F8A400">G</text><text transform="translate(1409.2 361.60) scale(0.961 0.115)" text-anchor="middle" font-size="20" font-weight="bold" fill="#10A010">A</text><text transform="translate(1409.2 359.92) scale(1.136 1.536)" text-anchor="middle" font-size="20" font-weight="bold" fill="#E00808">T</text><text transform="translate(1423.4 364.40) scale(1.136 0.115)" text-anchor="middle" font-size="20" font-weight="bold" fill="#E00808">T</text><text transform="translate(1423.4 362.72) scale(0.961 1.632)" text-anchor="middle" font-size="20" font-weight="bold" fill="#10A010">A</text><text transform="translate(1437.5 364.40) scale(1.136 0.115)" text-anchor="middle" font-size="20" font-weight="bold" fill="#E00808">T</text><text transform="translate(1437.5 362.72) scale(0.961 1.632)" text-anchor="middle" font-size="20" font-weight="bold" fill="#1010E8">C</text><text transform="translate(1451.7 364.40) scale(0.961 0.192)" text-anchor="middle" font-size="20" font-weight="bold" fill="#1010E8">C</text><text transform="translate(1451.7 361.60) scale(1.136 0.576)" text-anchor="middle" font-size="20" font-weight="bold" fill="#E00808">T</text><text transform="translate(1451.7 353.20) scale(0.961 0.864)" text-anchor="middle" font-size="20" font-weight="bold" fill="#10A010">A</text><text transform="translate(1465.8 364.40) scale(0.961 0.192)" text-anchor="middle" font-size="20" font-weight="bold" fill="#10A010">A</text><text transform="translate(1465.8 361.60) scale(0.961 0.576)" text-anchor="middle" font-size="20" font-weight="bold" fill="#1010E8">C</text><text transform="translate(1465.8 353.20) scale(1.136 0.864)" text-anchor="middle" font-size="20" font-weight="bold" fill="#E00808">T</text><text transform="translate(1480 364.40) scale(0.892 0.154)" text-anchor="middle" font-size="20" font-weight="bold" fill="#F8A400">G</text><text transform="translate(1480 362.16) scale(1.136 0.576)" text-anchor="middle" font-size="20" font-weight="bold" fill="#E00808">T</text><text transform="translate(1480 353.76) scale(0.961 0.864)" text-anchor="middle" font-size="20" font-weight="bold" fill="#10A010">A</text><text transform="translate(1494.2 364.40) scale(0.961 0.192)" text-anchor="middle" font-size="20" font-weight="bold" fill="#1010E8">C</text><text transform="translate(1494.2 361.60) scale(0.961 0.384)" text-anchor="middle" font-size="20" font-weight="bold" fill="#10A010">A</text><text transform="translate(1494.2 356.00) scale(1.136 0.480)" text-anchor="middle" font-size="20" font-weight="bold" fill="#E00808">T</text><text transform="translate(1494.2 349.00) scale(0.892 0.538)" text-anchor="middle" font-size="20" font-weight="bold" fill="#F8A400">G</text><text transform="translate(1508.3 364.40) scale(0.961 0.288)" text-anchor="middle" font-size="20" font-weight="bold" fill="#10A010">A</text><text transform="translate(1508.3 360.20) scale(0.961 0.384)" text-anchor="middle" font-size="20" font-weight="bold" fill="#1010E8">C</text><text transform="translate(1508.3 354.60) scale(1.136 0.422)" text-anchor="middle" font-size="20" font-weight="bold" fill="#E00808">T</text><text transform="translate(1508.3 348.44) scale(0.892 0.480)" text-anchor="middle" font-size="20" font-weight="bold" fill="#F8A400">G</text>
<text transform="translate(1310.1 407.70) scale(0.892 0.288)" text-anchor="middle" font-size="20" font-weight="bold" fill="#F8A400">G</text><text transform="translate(1310.1 403.50) scale(0.892 0.480)" text-anchor="middle" font-size="20" font-weight="bold" fill="#F8A400">G</text><text transform="translate(1310.1 396.50) scale(0.961 0.864)" text-anchor="middle" font-size="20" font-weight="bold" fill="#10A010">A</text><text transform="translate(1324.2 407.70) scale(1.136 0.384)" text-anchor="middle" font-size="20" font-weight="bold" fill="#E00808">T</text><text transform="translate(1324.2 402.10) scale(0.892 0.480)" text-anchor="middle" font-size="20" font-weight="bold" fill="#F8A400">G</text><text transform="translate(1324.2 395.10) scale(0.961 0.768)" text-anchor="middle" font-size="20" font-weight="bold" fill="#1010E8">C</text><text transform="translate(1338.4 407.70) scale(1.136 0.576)" text-anchor="middle" font-size="20" font-weight="bold" fill="#E00808">T</text><text transform="translate(1338.4 399.30) scale(0.961 0.960)" text-anchor="middle" font-size="20" font-weight="bold" fill="#10A010">A</text><text transform="translate(1352.6 407.70) scale(1.136 1.824)" text-anchor="middle" font-size="20" font-weight="bold" fill="#E00808">T</text><text transform="translate(1366.7 407.70) scale(0.961 1.824)" text-anchor="middle" font-size="20" font-weight="bold" fill="#1010E8">C</text><text transform="translate(1380.9 407.70) scale(0.961 1.767)" text-anchor="middle" font-size="20" font-weight="bold" fill="#1010E8">C</text><text transform="translate(1395 407.70) scale(0.892 0.576)" text-anchor="middle" font-size="20" font-weight="bold" fill="#F8A400">G</text><text transform="translate(1395 399.30) scale(1.136 1.152)" text-anchor="middle" font-size="20" font-weight="bold" fill="#E00808">T</text><text transform="translate(1409.2 407.70) scale(1.136 0.115)" text-anchor="middle" font-size="20" font-weight="bold" fill="#E00808">T</text><text transform="translate(1409.2 406.02) scale(0.892 1.632)" text-anchor="middle" font-size="20" font-weight="bold" fill="#F8A400">G</text><text transform="translate(1423.4 407.70) scale(1.136 0.288)" text-anchor="middle" font-size="20" font-weight="bold" fill="#E00808">T</text><text transform="translate(1423.4 403.50) scale(0.961 0.576)" text-anchor="middle" font-size="20" font-weight="bold" fill="#1010E8">C</text><text transform="translate(1423.4 395.10) scale(0.892 0.768)" text-anchor="middle" font-size="20" font-weight="bold" fill="#F8A400">G</text><text transform="translate(1437.5 407.70) scale(0.961 0.288)" text-anchor="middle" font-size="20" font-weight="bold" fill="#10A010">A</text><text transform="translate(1437.5 403.50) scale(1.136 1.498)" text-anchor="middle" font-size="20" font-weight="bold" fill="#E00808">T</text>
<text x="1" y="509" font-size="29" font-weight="bold">d</text>
<text x="135.7" y="518.4" font-size="28" text-anchor="middle" fill="#E8202A">H3K27ac</text>
<path d="M54.5 648.1L55.6 645.5L56.7 647.9L57.7 648.1L58.8 650L59.9 647.6L61 643.2L62.1 645.3L63.2 643.2L64.2 645.8L65.3 645.2L66.4 645.8L67.5 651.8L68.6 643.5L69.6 644.5L70.7 644.5L71.8 651.6L72.9 651.7L74 648.8L75.1 647.4L76.1 644.7L77.2 645.8L78.3 643.9L79.4 647.6L80.5 644.4L81.5 644.1L82.6 647.5L83.7 639.6L84.8 643.3L85.9 641.1L87 647L88 647.3L89.1 645.9L90.2 645L91.3 642.5L92.4 643.7L93.5 645.8L94.5 647.4L95.6 645.8L96.7 639.9L97.8 646.4L98.9 642.8L99.9 642L101 648L102.1 642.7L103.2 638.3L104.3 648.9L105.4 642.9L106.4 641.8L107.5 643.6L108.6 638.8L109.7 640.1L110.8 644L111.8 635.8L112.9 635.6L114 633.9L115.1 631.4L116.2 634L117.3 633.8L118.3 637.4L119.4 630L120.5 632.8L121.6 630.8L122.7 631.7L123.7 628.5L124.8 624.2L125.9 614.5L127 620.8L128.1 613.3L129.2 601.4L130.2 590.4L131.3 585L132.4 582.7L133.5 571.1L134.6 546.3L135.7 537.6L136.7 535.6L137.8 538.4L138.9 557.2L140 581.6L141.1 598.7L142.1 609.2L143.2 611.5L144.3 617.9L145.4 619.8L146.5 620.8L147.6 628.5L148.6 619.7L149.7 621.4L150.8 623.5L151.9 632.4L153 628.7L154 624.6L155.1 634.1L156.2 629.7L157.3 626.7L158.4 635.3L159.5 626.7L160.5 631.3L161.6 634.7L162.7 634.2L163.8 634.2L164.9 636.9L165.9 634.5L167 641.3L168.1 641.3L169.2 637.3L170.3 641.3L171.4 644.8L172.4 639.3L173.5 638.1L174.6 644.7L175.7 648.1L176.8 644.3L177.8 644.6L178.9 645.3L180 639.8L181.1 648L182.2 640.6L183.3 649L184.3 647.5L185.4 642.9L186.5 641.3L187.6 642.2L188.7 643.9L189.8 644.4L190.8 644.2L191.9 642.4L193 644.4L194.1 642.2L195.2 640.3L196.2 641L197.3 637.1L198.4 636.3L199.5 630L200.6 634.1L201.7 635.3L202.7 634.2L203.8 632.4L204.9 629.3L206 633.9L207.1 632.4L208.1 628.9L209.2 644.9L210.3 641.9L211.4 639L212.5 640.1L213.6 642L214.6 645.4L215.7 642.9L216.8 644.8" fill="none" stroke="#E8202A" stroke-width="1.2" stroke-linejoin="round"/>
<rect x="54.5" y="527.7" width="162.3" height="153" fill="none" stroke="#000" stroke-width="1.2"/>
<path d="M51.5 667L54.5 667" stroke="#000" stroke-width="1"/>
<path d="M51.5 643.5L54.5 643.5" stroke="#000" stroke-width="1"/>
<path d="M51.5 620L54.5 620" stroke="#000" stroke-width="1"/>
<path d="M51.5 596.5L54.5 596.5" stroke="#000" stroke-width="1"/>
<path d="M51.5 573L54.5 573" stroke="#000" stroke-width="1"/>
<path d="M51.5 549.5L54.5 549.5" stroke="#000" stroke-width="1"/>
<path d="M54.5 680.7L54.5 684.7" stroke="#000" stroke-width="1"/>
<path d="M54.5 1219L54.5 1223" stroke="#000" stroke-width="1"/>
<path d="M135.7 680.7L135.7 684.7" stroke="#000" stroke-width="1"/>
<path d="M135.7 1219L135.7 1223" stroke="#000" stroke-width="1"/>
<path d="M216.8 680.7L216.8 684.7" stroke="#000" stroke-width="1"/>
<path d="M216.8 1219L216.8 1223" stroke="#000" stroke-width="1"/>
<text x="54.1" y="701" font-size="24">-10</text>
<text x="135.7" y="701" font-size="24" text-anchor="middle">0</text>
<text x="221.3" y="701" font-size="24" text-anchor="end">+10</text>
<text x="54.1" y="1244.4" font-size="24">-10</text>
<text x="135.7" y="1244.4" font-size="24" text-anchor="middle">0</text>
<text x="221.3" y="1244.4" font-size="24" text-anchor="end">+10</text>
<filter id="hf00" x="0" y="0" width="1" height="1" color-interpolation-filters="sRGB"><feTurbulence type="fractalNoise" baseFrequency="0.25 0.55" numOctaves="3" seed="3"/><feColorMatrix type="matrix" values="0 0 0 0 1  0 0 0 0 0  0 0 0 0 0  1 0 0 0 0"/><feComposite in2="SourceGraphic" operator="arithmetic" k1="0" k2="1" k3="1" k4="-1"/><feColorMatrix type="matrix" values="0 0 0 0 1  0 0 0 0 0  0 0 0 0 0  0 0 0 1.5 0"/></filter>
<linearGradient id="hg00" x1="0" y1="0" x2="0" y2="1"><stop offset="0" stop-color="#f00" stop-opacity="0.63"/><stop offset="0.25" stop-color="#f00" stop-opacity="0.585"/><stop offset="0.5" stop-color="#f00" stop-opacity="0.53"/><stop offset="0.75" stop-color="#f00" stop-opacity="0.46"/><stop offset="1" stop-color="#f00" stop-opacity="0.42"/></linearGradient>
<linearGradient id="hg00c" x1="0" y1="0" x2="0" y2="1"><stop offset="0" stop-color="#f00" stop-opacity="0.083"/><stop offset="0.8" stop-color="#f00" stop-opacity="0.067"/><stop offset="1" stop-color="#f00" stop-opacity="0.033"/></linearGradient>
<g filter="url(#hf00)"><rect x="54.5" y="711" width="162.3" height="508" fill="url(#hg00)"/><rect x="126.2" y="711" width="20" height="508" fill="url(#hg00c)"/><rect x="130.2" y="711" width="12" height="508" fill="url(#hg00c)"/><rect x="133.2" y="711" width="6" height="508" fill="url(#hg00c)"/></g>
<filter id="hf01" x="0" y="0" width="1" height="1" color-interpolation-filters="sRGB"><feTurbulence type="fractalNoise" baseFrequency="0.14 0.5" numOctaves="3" seed="21"/><feColorMatrix type="matrix" values="0 0 0 0 1  0 0 0 0 0  0 0 0 0 0  1 0 0 0 0"/><feComposite in2="SourceGraphic" operator="arithmetic" k1="0" k2="1" k3="1" k4="-1"/><feColorMatrix type="matrix" values="0 0 0 0 1  0 0 0 0 0  0 0 0 0 0  0 0 0 4.0 0"/></filter>
<linearGradient id="hg01" x1="0" y1="0" x2="0" y2="1"><stop offset="0" stop-color="#f00" stop-opacity="0.48"/><stop offset="0.25" stop-color="#f00" stop-opacity="0.455"/><stop offset="0.5" stop-color="#f00" stop-opacity="0.405"/><stop offset="0.75" stop-color="#f00" stop-opacity="0.36"/><stop offset="1" stop-color="#f00" stop-opacity="0.31"/></linearGradient>
<linearGradient id="hg01c" x1="0" y1="0" x2="0" y2="1"><stop offset="0" stop-color="#f00" stop-opacity="0.067"/><stop offset="0.8" stop-color="#f00" stop-opacity="0.053"/><stop offset="1" stop-color="#f00" stop-opacity="0.027"/></linearGradient>
<g filter="url(#hf01)"><rect x="54.5" y="711" width="162.3" height="508" fill="url(#hg01)"/><rect x="128.2" y="711" width="16" height="508" fill="url(#hg01c)"/><rect x="131.3" y="711" width="9.6" height="508" fill="url(#hg01c)"/><rect x="133.8" y="711" width="4.8" height="508" fill="url(#hg01c)"/></g>
<path d="M89.5 715.2h12.7M143.1 715.2h5.8M181.2 715.2h11.2M116.5 717h1.7M122.2 717h5M107.3 718.6h11.4M150.3 722h7.1M171.4 722h14.5M73.5 723.8h2.3M134.4 723.8h3.1M155.9 727.1h3M136.1 728.9h14M203.2 728.9h1.7M82.5 734h4.5M67.5 735.6h4M103 737.4h14.1M203 737.4h13.8M89.6 739h11.9M146.1 739h14.4M130.3 740.8h2.3M184.6 740.8h5.8M214.8 744.1h2M70.5 745.9h11.1M163.3 751h2.8M104.5 754.4h15.4M149.9 754.4h18.3M182.4 754.4h13.9M80.5 756h2.2M199.9 756h9.5M97.5 757.8h3.6M153.7 757.8h3M92.4 759.5h5.9M140.5 761.1h6.9M171.5 764.5h4.4M78.5 766.2h14.8M210.5 766.2h5.6M66.5 768h12.8M123.5 769.6h5.3M122.8 771.4h2.2M184.6 779.9h4.2M75.5 781.5h15.6M130.5 783.2h5.6M156.5 786.6h16M176.5 786.6h17.1M143.5 790h3.4M161.1 791.8h2.2M152.7 793.5h2.2M93.5 795.1h29.1M148.8 795.1h3.4M94.5 798.5h1.6M178.9 802h2.5M212.4 802h2.1M191.3 805.4h5.6M181.9 807h6.6M141.6 808.8h14.3M168.1 812.1h9.6M206.2 812.1h1.8M181.2 813.9h10.7M98.5 820.6h2.3M142.8 824h5.1M212.5 827.5h1.8M85.5 829.1h2.4M132.4 829.1h4.9M124.4 830.9h3.1M61.5 832.5h3.5M137.2 834.2h4.1M212.7 834.2h2.2M134.8 837.6h3.3M161 839.4h1.7M207.5 841h2.5M100.5 847.9h11.3M135.5 856.4h6.5M139.5 861.5h6.6M154.6 866.5h3.3M74.5 868.2h4.3M65.5 870h4.9M203.5 870h3.1M131.3 873.4h10.1M142.9 875h24.7M152.4 876.8h5.6M215 876.8h1.8M206.7 880.1h10.1M119.7 881.9h5.5M175.5 883.5h7.3M95.6 888.6h6.8M168.5 890.4h3.1M183.6 890.4h10.4M74.5 892h5.9M129.4 892h6.5M137.9 892h4M182 902.2h6.1M158.5 905.6h26.6M96.8 909h6.5M127.4 909h11.6M137.4 917.5h12.4M62.5 919.2h4.1M96.6 919.2h5.6M142.5 921h9.5M99.9 924.4h25.9M190.7 924.4h2.7M138.5 926h9.1M132.5 939.6h6.7M189.2 939.6h7M212 946.5h4.8M142.5 948.1h15.6M181.4 951.5h8.5M144.5 960h3.6M133.5 965.1h4.1M98.5 973.6h3.4M133 973.6h3.6M71.5 987.2h21.5M113 987.2h11.1M137.1 987.2h17.1M161.5 994h31.2M102.5 1000.8h5.4M146.9 1000.8h2.7M68.5 1007.6h2.2M188 1011h1.6M80.5 1016.1h4.6M149.5 1048.5h12.7M209.2 1048.5h6.8M189.5 1057h11.5M78.3 1080.8h1.7M99.4 1080.8h2M200.4 1080.8h1.9M133.5 1099.5h7.4M111.5 1104.5h6.6M210.5 1106.2h6.3M135.5 1114.8h36.8M137.8 1125h8.7M143.5 1150.5h2.6M183.1 1150.5h12.6M173.5 1160.7h2.2M196.8 1203.2h5.6M147.5 1216.8h5" stroke="#f00" stroke-opacity="0.45" stroke-width="1.7" fill="none"/>
<path d="M129.5 711.9h26.3M182.8 711.9h12.7M194.5 713.5h4.9M203.4 713.5h3.6M128.2 715.2h1.9M168.9 715.2h6.2M159.2 717h4M173.2 717h6.3M68.5 718.6h3.8M79.5 720.4h17.7M103.2 720.4h7.1M92.5 722h1.7M102.2 722h1.5M122.8 722h8.7M139.5 722h6.8M208.9 722h3.6M110.8 723.8h3.6M139.4 723.8h6.2M170.7 723.8h3.1M133.5 725.5h5.3M174.8 725.5h10.5M203.3 725.5h13.5M87.5 727.1h14.4M198.8 727.1h4.9M212.8 727.1h1.5M57.5 728.9h10.4M83.9 728.9h1.6M128.5 728.9h3.6M106.5 730.5h10.3M172.8 730.5h13M187.9 730.5h14M71.5 732.2h18.4M98.9 732.2h6.6M133.5 732.2h7.9M124 734h11.7M170.7 734h1.8M94.5 735.6h11.8M62.5 737.4h9.5M63.5 739h19.1M138.6 739h5.6M199.5 739h3M87.5 740.8h7.8M144.6 740.8h4.4M176.1 740.8h7.6M70.5 742.5h15.8M187.3 742.5h6M133.5 744.1h34.3M148.6 745.9h3.1M69.5 747.5h32.9M191.4 747.5h4.8M122.5 749.2h21.6M175.1 749.2h21.2M106.5 751h6.2M132.7 751h13.6M192.5 752.6h8.4M177.2 754.4h3.2M84.7 756h1.8M95.5 756h11.4M117.9 756h14.8M139.8 756h7M148.8 756h11.1M183.9 756h2M124.1 757.8h4.6M82.5 759.5h8.9M126.4 759.5h22.2M166.6 759.5h4.8M173.4 759.5h8M210.4 759.5h3.9M150.4 761.1h2.8M154.2 761.1h3.3M174.5 762.9h11.6M118.3 766.2h4.2M146.5 766.2h3M173.5 766.2h1.9M176.4 766.2h10.1M81.3 768h12.7M100.5 769.6h7.1M117.6 769.6h1.9M131.8 769.6h3.1M69.5 771.4h3.3M133.9 771.4h1.8M135.5 773h2.2M149.5 774.8h12.7M70.5 776.5h4.3M108.8 776.5h8.4M128.2 776.5h5.6M147.8 776.5h10.5M204.3 776.5h4.8M211.1 776.5h2.6M173.5 778.1h24.1M122.5 779.9h2.2M132.7 779.9h4.9M139.1 781.5h4.4M151.1 783.2h16.2M181.3 783.2h3.6M55.5 785h4.3M66.8 785h17.6M203.4 785h5.3M71.5 786.6h4.3M78.8 786.6h19.3M141 786.6h10.4M210.6 786.6h6.2M130.5 788.4h10.2M211.7 788.4h4.2M78.5 791.8h4.6M170.2 791.8h11.3M85.5 793.5h2M101.5 793.5h3.5M132 793.5h4.4M141.4 793.5h5.3M161.9 793.5h30M130.6 795.1h3.6M136.2 795.1h3.6M105.1 798.5h8M140.1 798.5h6.5M192.6 798.5h4.6M67.5 800.2h2M134.5 800.2h4.5M111.5 802h9.4M73.5 805.4h2.4M130.9 805.4h20.4M214.9 805.4h1.9M75.5 807h1.8M132.3 807h3.5M65.5 808.8h3.1M209.8 808.8h7M75.5 810.5h5.3M62.5 812.1h6.2M87.7 812.1h3.4M198.7 812.1h2.5M117.5 813.9h13.7M54.5 815.5h6.7M62.2 815.5h36.4M168.6 815.5h17.3M55.5 817.2h4.6M77.1 817.2h25.7M107.8 817.2h8.3M139.5 822.4h5.1M91.5 824h17.3M110.5 825.8h11.8M107.9 829.1h1.6M206.4 829.1h3.7M61.5 830.9h3.9M133.5 830.9h19.3M209 832.5h7.4M114.5 834.2h12.7M169.3 834.2h19.4M127.5 836h8.7M185.2 836h4.4M128.5 837.6h5.3M119.5 839.4h4.5M81.5 842.8h9.3M137.8 842.8h19.5M201.3 842.8h2.3M118.5 844.5h2M160.5 844.5h4.6M78.5 846.1h5.8M135.3 846.1h2.8M68.5 849.5h3.2M103.7 849.5h5.6M153.3 849.5h4.7M195.9 849.5h7.5M56.5 851.2h6.4M175 856.4h3M204 856.4h9.8M58.5 858h3.3M80.8 858h10.7M94.5 858h9.7M137.2 858h11.7M150.9 858h15.3M187.1 858h10.6M120.5 859.8h2.1M131.6 859.8h12.6M155.5 863.1h7M62.5 864.9h10M88.5 864.9h6.5M103 864.9h4M186 864.9h5M205 864.9h4.8M54.5 866.5h4.1M211.9 866.5h2.4M91.4 870h12.5M115.9 870h4.5M177.5 870h15M153.5 871.6h20.6M80.5 873.4h11.8M151.4 873.4h1.7M158.1 873.4h9.7M61.5 875h10.5M96 875h7.9M72.5 876.8h4.4M138.9 876.8h5.5M80.5 878.5h15.7M193.2 878.5h6.6M130.5 880.1h23.2M55.5 881.9h10.2M66.7 881.9h5.6M83.4 881.9h3.3M152.5 885.2h7.4M66.5 887h16.2M65.5 888.6h4.1M123.5 890.4h4.7M141.2 890.4h22.3M72.5 897.1h14.5M66.5 898.9h4.5M139 898.9h5.2M59.5 900.5h3.3M69.8 900.5h18.1M108.9 900.5h10.1M174.9 900.5h4.7M142.5 902.2h7.5M122.5 904h20.3M205.1 905.6h1.7M114.5 907.4h12.8M139.3 907.4h19.9M62.5 909h8.3M163 909h2.3M109.5 910.8h17.7M136.2 910.8h2.6M139.5 914.1h2.9M77.5 917.5h5M96.5 917.5h4.2M124.7 917.5h4.7M213.8 917.5h3M89.5 921h14.5M108 921h33.5M88.5 924.4h3.4M211.6 926h5.2M138.5 927.8h2.5M104.5 929.5h4.9M60.5 931.1h3M137.5 932.9h4M87.5 934.5h4.8M59.5 936.2h3.7M79.5 938h5.3M128.8 938h6.9M148.7 938h2.9M179.6 938h6.6M199.2 938h3.2M95.5 941.4h7M128.5 943h4.4M205.9 943h10.9M59.5 944.8h3.2M81.7 944.8h3.5M94.3 944.8h10.1M113.4 944.8h7.3M193.6 944.8h13.2M136.5 946.5h11.5M193.1 948.1h10.8M57.5 951.5h25.1M104.6 951.5h10M163.6 951.5h6.8M214.5 953.2h2.3M113.5 958.4h17.8M186.1 960h1.7M77.5 961.8h7M99.5 961.8h1.5M180.1 961.8h2.9M133.5 966.9h5.6M62.5 968.5h7.7M114.9 973.6h4.1M144.6 973.6h8.5M199.1 973.6h8.5M103.5 975.3h8.7M148.2 975.3h1.5M214.7 975.3h2.1M80.5 978.8h2.4M200.5 980.5h4M210.5 980.5h1.6M113.5 982.1h5.8M68.5 983.8h5.9M97.4 983.8h11.6M130.5 985.5h2.2M139.7 985.5h3.1M137.5 990.6h3.6M82.5 992.3h2.5M142 992.3h2.4M177.4 992.3h8.4M185.5 997.5h10.3M113.5 999.1h1.8M193.7 1007.6h2.1M213.8 1007.6h3M122.5 1011h30.5M56.5 1012.8h17.2M195.7 1012.8h5.4M150.5 1019.5h6.9M138.5 1026.3h9.9M142.5 1028h9M135.5 1029.8h9.4M89.5 1031.5h10.4M201.5 1033.2h9.4M66.5 1040h1.9M80.4 1040h4.3M99.7 1040h2.4M200.1 1040h6.4M57.5 1043.3h12M130.5 1043.3h4.3M147.8 1043.3h6M119.5 1045h3M205.5 1045h2M69.5 1051.8h17.7M137.5 1053.5h2.8M197.3 1053.5h10.7M79.5 1057h2.8M167.3 1057h7.2M76.5 1058.7h5.8M160.5 1060.3h4.7M151.5 1062h2.8M109.5 1063.8h3.3M67.5 1070.5h4M133.5 1070.5h20M108.5 1072.2h2.5M199.5 1074h1.7M86.5 1079h5.9M72.5 1080.8h2.8M90 1080.8h6.4M147.5 1102.8h7.3M158.8 1102.8h6.1M83.5 1119.8h4.8M160.3 1119.8h7.6M204.9 1119.8h4.1M61.5 1125h11.3M95.5 1131.8h14.4M110.5 1136.8h16.5M156.5 1164h23.5M211.5 1169.2h3.4M200.5 1184.5h2.4M85.5 1186.2h24.8M187.5 1196.3h9.2M193.5 1198h6.7M81.5 1203.2h3.3M215.4 1203.2h1.4M179.5 1216.8h8.9M192.4 1216.8h11.4" stroke="#f00" stroke-opacity="0.95" stroke-width="1.7" fill="none"/>
<rect x="54.5" y="711" width="162.3" height="508" fill="none" stroke="#000" stroke-width="1.2"/>
<text x="134.7" y="1268.7" font-size="22.5" text-anchor="middle">Distance from</text>
<text x="132.7" y="1297" font-size="22.5" text-anchor="middle">center</text>
<text x="311" y="518.4" font-size="28" text-anchor="middle" fill="#0B9A48">H3K4me1</text>
<path d="M230 639.4L231.1 637L232.2 638.6L233.2 638.7L234.3 637.5L235.4 642.3L236.5 635.1L237.6 636.1L238.6 638.2L239.7 636.2L240.8 637.2L241.9 637.9L243 640.8L244 640.3L245.1 636.6L246.2 638.6L247.3 633.3L248.4 635.9L249.4 635.7L250.5 639.9L251.6 640L252.7 640.2L253.8 638.6L254.8 639.5L255.9 641.8L257 639.8L258.1 637.8L259.2 635.6L260.2 640L261.3 637.7L262.4 638.6L263.5 631.1L264.6 635.5L265.6 635.3L266.7 634.4L267.8 637.9L268.9 638.8L270 636.8L271 632.8L272.1 638L273.2 638.8L274.3 635.3L275.4 634.9L276.4 634.2L277.5 631.1L278.6 634.4L279.7 632.9L280.8 630.3L281.8 632.8L282.9 627.3L284 626.7L285.1 628.4L286.2 626.2L287.2 631.6L288.3 629.7L289.4 625.3L290.5 621L291.6 623.3L292.6 621.4L293.7 619L294.8 623.3L295.9 618.3L297 616.6L298 615.4L299.1 619.2L300.2 619.7L301.3 614.5L302.4 606.9L303.4 600.3L304.5 592.8L305.6 579.7L306.7 572.6L307.8 569.6L308.8 558.1L309.9 552.8L311 553.8L312.1 548.4L313.2 558.1L314.2 563.4L315.3 578.7L316.4 587L317.5 594.5L318.6 603.2L319.6 606.2L320.7 609L321.8 613.4L322.9 618.7L324 620.1L325 618.7L326.1 617.9L327.2 623.6L328.3 621.9L329.4 606.5L330.4 606.8L331.5 612.3L332.6 623.5L333.7 632.3L334.8 628L335.8 623.6L336.9 625.2L338 627.9L339.1 622.9L340.2 628.7L341.2 631.1L342.3 634.5L343.4 630.6L344.5 635.6L345.6 631.9L346.6 634.1L347.7 629.5L348.8 631.9L349.9 636.7L351 637.3L352 633.8L353.1 634L354.2 639.5L355.3 637.7L356.4 638.2L357.4 638.5L358.5 636.9L359.6 638.2L360.7 638.1L361.8 635.1L362.8 630.3L363.9 637.5L365 637.5L366.1 637.4L367.2 638.8L368.2 639.1L369.3 642L370.4 640.4L371.5 636.5L372.6 640.2L373.6 633.4L374.7 640.2L375.8 637.2L376.9 644.8L378 638.9L379 643.3L380.1 643.3L381.2 636.1L382.3 640.9L383.4 633.8L384.4 636.2L385.5 636.6L386.6 636.9L387.7 635.9L388.8 634L389.8 641.2L390.9 641L392 644" fill="none" stroke="#0B9A48" stroke-width="1.2" stroke-linejoin="round"/>
<rect x="230" y="527.7" width="162" height="153" fill="none" stroke="#000" stroke-width="1.2"/>
<path d="M227 667L230 667" stroke="#000" stroke-width="1"/>
<path d="M227 643.5L230 643.5" stroke="#000" stroke-width="1"/>
<path d="M227 620L230 620" stroke="#000" stroke-width="1"/>
<path d="M227 596.5L230 596.5" stroke="#000" stroke-width="1"/>
<path d="M227 573L230 573" stroke="#000" stroke-width="1"/>
<path d="M227 549.5L230 549.5" stroke="#000" stroke-width="1"/>
<path d="M230 680.7L230 684.7" stroke="#000" stroke-width="1"/>
<path d="M230 1219L230 1223" stroke="#000" stroke-width="1"/>
<path d="M311 680.7L311 684.7" stroke="#000" stroke-width="1"/>
<path d="M311 1219L311 1223" stroke="#000" stroke-width="1"/>
<path d="M392 680.7L392 684.7" stroke="#000" stroke-width="1"/>
<path d="M392 1219L392 1223" stroke="#000" stroke-width="1"/>
<text x="229.6" y="701" font-size="24">-10</text>
<text x="311" y="701" font-size="24" text-anchor="middle">0</text>
<text x="396.5" y="701" font-size="24" text-anchor="end">+10</text>
<text x="229.6" y="1244.4" font-size="24">-10</text>
<text x="311" y="1244.4" font-size="24" text-anchor="middle">0</text>
<text x="396.5" y="1244.4" font-size="24" text-anchor="end">+10</text>
<filter id="hf10" x="0" y="0" width="1" height="1" color-interpolation-filters="sRGB"><feTurbulence type="fractalNoise" baseFrequency="0.27 0.55" numOctaves="3" seed="8"/><feColorMatrix type="matrix" values="0 0 0 0 1  0 0 0 0 0  0 0 0 0 0  1 0 0 0 0"/><feComposite in2="SourceGraphic" operator="arithmetic" k1="0" k2="1" k3="1" k4="-1"/><feColorMatrix type="matrix" values="0 0 0 0 1  0 0 0 0 0  0 0 0 0 0  0 0 0 1.5 0"/></filter>
<linearGradient id="hg10" x1="0" y1="0" x2="0" y2="1"><stop offset="0" stop-color="#f00" stop-opacity="0.645"/><stop offset="0.25" stop-color="#f00" stop-opacity="0.61"/><stop offset="0.5" stop-color="#f00" stop-opacity="0.57"/><stop offset="0.75" stop-color="#f00" stop-opacity="0.53"/><stop offset="1" stop-color="#f00" stop-opacity="0.495"/></linearGradient>
<linearGradient id="hg10c" x1="0" y1="0" x2="0" y2="1"><stop offset="0" stop-color="#f00" stop-opacity="0.1"/><stop offset="0.7" stop-color="#f00" stop-opacity="0.1"/><stop offset="1" stop-color="#f00" stop-opacity="0.083"/></linearGradient>
<g filter="url(#hf10)"><rect x="230" y="711" width="162" height="508" fill="url(#hg10)"/><rect x="300.5" y="711" width="22" height="508" fill="url(#hg10c)"/><rect x="304.9" y="711" width="13.2" height="508" fill="url(#hg10c)"/><rect x="308.2" y="711" width="6.6" height="508" fill="url(#hg10c)"/></g>
<filter id="hf11" x="0" y="0" width="1" height="1" color-interpolation-filters="sRGB"><feTurbulence type="fractalNoise" baseFrequency="0.16 0.5" numOctaves="3" seed="27"/><feColorMatrix type="matrix" values="0 0 0 0 1  0 0 0 0 0  0 0 0 0 0  1 0 0 0 0"/><feComposite in2="SourceGraphic" operator="arithmetic" k1="0" k2="1" k3="1" k4="-1"/><feColorMatrix type="matrix" values="0 0 0 0 1  0 0 0 0 0  0 0 0 0 0  0 0 0 4.0 0"/></filter>
<linearGradient id="hg11" x1="0" y1="0" x2="0" y2="1"><stop offset="0" stop-color="#f00" stop-opacity="0.465"/><stop offset="0.25" stop-color="#f00" stop-opacity="0.445"/><stop offset="0.5" stop-color="#f00" stop-opacity="0.41"/><stop offset="0.75" stop-color="#f00" stop-opacity="0.385"/><stop offset="1" stop-color="#f00" stop-opacity="0.36"/></linearGradient>
<linearGradient id="hg11c" x1="0" y1="0" x2="0" y2="1"><stop offset="0" stop-color="#f00" stop-opacity="0.083"/><stop offset="0.7" stop-color="#f00" stop-opacity="0.083"/><stop offset="1" stop-color="#f00" stop-opacity="0.067"/></linearGradient>
<g filter="url(#hf11)"><rect x="230" y="711" width="162" height="508" fill="url(#hg11)"/><rect x="302.5" y="711" width="18" height="508" fill="url(#hg11c)"/><rect x="306.1" y="711" width="10.8" height="508" fill="url(#hg11c)"/><rect x="308.8" y="711" width="5.4" height="508" fill="url(#hg11c)"/></g>
<path d="M259 717h7.1M263 718.6h1.6M274 720.4h7.3M301.3 720.4h3.4M239 725.5h2.1M341.3 725.5h6M367.3 725.5h5.2M333.9 732.2h22.9M305.4 734h4.2M380.8 734h3M294.9 735.6h14.7M343.2 735.6h3.4M239 737.4h3.3M257.3 737.4h3.1M283.4 737.4h6M357.8 737.4h7.5M374.3 737.4h7.4M256 739h1.9M295 744.1h2.3M311.4 745.9h12M369.1 745.9h14.3M345 752.6h2.4M365.9 754.4h4.5M251.9 761.1h2.1M309 762.9h5.6M305 766.2h3.4M309.4 766.2h7.9M314 773h5.1M276.6 774.8h3.9M252 783.2h5.7M353.3 785h2.6M377 785h1.7M391.4 786.6h0.6M314 791.8h3.6M375.9 810.5h6.5M306.2 812.1h7.4M248 813.9h4.8M307.8 813.9h6.1M344 815.5h2.9M284 819h8.4M272.3 824h12.1M306.5 824h3.4M271.6 827.5h4M346 829.1h3.9M242 841h2.2M347.2 841h5.8M362 841h6.8M320.1 844.5h6.2M232 846.1h12.5M296 851.2h11.1M299 853h1.7M312.5 856.4h15M249 861.5h15.1M354.1 863.1h3.3M361.4 863.1h8.3M259 866.5h5.3M235 870h2.9M264.9 870h6M316.3 871.6h11.8M299.4 875h4.1M350.5 875h1.8M291 876.8h6.1M342.6 878.5h2.4M369 878.5h1.9M246 881.9h2.7M298.3 885.2h3M368 890.4h3.1M384.1 890.4h7.9M242 892h4M332.1 898.9h7.6M359.7 898.9h7.2M278 900.5h19.2M343.2 904h3.5M309 909h10.6M379.6 909h5.5M362 912.5h7.7M366.2 919.2h9.5M318.4 922.6h15.9M347.4 922.6h8.5M339.3 924.4h2.7M294.7 926h29.4M268 929.5h3.8M313 931.1h6.7M237 932.9h4.5M246.5 932.9h5.1M264.6 932.9h4.8M254 936.2h14.3M312 939.6h6.8M253 941.4h12.8M318.4 946.5h13.3M304.8 956.6h5.3M318.7 960h2.3M310.2 975.3h6.3M319.3 978.8h2.2M358 980.5h3M360 982.1h7.7M313.8 985.5h1.7M379 989h10.4M357 992.3h2.3M360.9 999.1h12.5M318 1000.8h4.9M347.9 1000.8h13.5M368.4 1000.8h8.4M293 1011h1.9M313.9 1011h31.2M309.9 1012.8h5.1M286 1014.5h2.2M278 1019.5h14.3M315.3 1019.5h11.9M240 1023h22.4M364.9 1026.3h3M318 1029.8h6.8M283 1033.2h8.4M309.4 1034.8h26M309 1038.2h8.1M272.5 1053.5h4.3M306.8 1053.5h11.8M313 1062h12.9M311 1063.8h2M308.1 1065.5h4.3M275 1082.5h19.6M353 1089.2h6.8M385.9 1092.7h6.1M305 1096h3.6M306 1101.2h20.7M306 1104.5h6M345 1104.5h6.8M237 1108h4.2M285 1111.3h5.9M236 1116.5h1.8M368 1118.2h6.5M251.2 1121.5h6.3M347.3 1121.5h1.8M267 1126.7h5.6M291 1143.7h2.2M311.4 1152.2h3.6M375 1152.2h9.5M312 1159h3.8M234 1177.7h16.4M274.4 1177.7h5.1M314.6 1177.7h3.5M341 1186.2h10.7M310.9 1193h11.5M310 1216.8h3.4" stroke="#f00" stroke-opacity="0.45" stroke-width="1.7" fill="none"/>
<path d="M307 711.9h19.7M366.7 711.9h9.3M265 713.5h8.2M277.2 713.5h3M304.2 713.5h14M238 715.2h2.6M255.6 715.2h9M290.6 715.2h3.7M305.3 715.2h14.6M341.6 718.6h3.8M346.4 718.6h19.8M353 722h5.9M277 723.8h3.2M308.2 723.8h3.6M318.9 723.8h5M334.9 723.8h7.5M348.4 723.8h3.3M369.7 723.8h2.4M376.1 723.8h3.6M303.1 725.5h4M315 725.5h10.3M269 727.1h14.9M378.9 727.1h2.9M298 730.5h5.3M309.3 730.5h5.5M357.7 730.5h2M245 732.2h4M257 732.2h1.7M315.6 732.2h7.3M365.8 732.2h6.7M383.5 732.2h2.7M234 734h3.4M333.6 734h8.1M237 735.6h4M242 735.6h1.9M281.8 735.6h5M310.6 735.6h2.6M300.5 737.4h6.3M316.7 737.4h5M386.7 737.4h5.3M276.9 739h5.4M293.3 739h7.1M261 740.8h1.6M306.6 740.8h18.6M335.2 740.8h5.7M232 742.5h4.5M250.5 742.5h3.3M283.8 742.5h1.5M320.3 742.5h2.6M351.9 742.5h10.3M328.3 744.1h3.5M232 745.9h9.4M346.4 745.9h6.7M314 747.5h2.8M315 749.2h9M332 749.2h19.7M354 751h1.6M232 752.6h1.9M289.9 752.6h2.4M300.3 752.6h11.7M356.4 752.6h21M255 754.4h9.2M336.2 754.4h1.7M305 756h17.8M233 761.1h9.9M278.9 761.1h15.2M295.1 761.1h1.9M325.1 761.1h11.6M345.6 761.1h6.5M235 764.5h3.4M280.4 764.5h18.1M369.6 764.5h6.2M330.3 766.2h11.2M387 771.4h2.9M263 774.8h1.6M294.5 774.8h3.6M252 776.5h1.6M322.6 776.5h17.3M383 776.5h1.5M268 778.1h4.7M382.7 778.1h9.3M305 779.9h2.8M312 781.5h1.8M318.8 781.5h23.4M354.7 783.2h1.9M308 785h15.1M331.1 785h3.3M233 786.6h2.8M249.8 786.6h8.2M295.1 786.6h2.8M338.9 786.6h10.6M360.6 786.6h2.8M378 788.4h8.6M291 790h2.7M310.7 790h2.2M313.9 790h5.6M272 791.8h11M342.6 791.8h5.9M383.5 791.8h8.5M286 793.5h11M311 793.5h6.3M267 795.1h12.5M306.5 795.1h4.3M247 796.9h4M302 796.9h13.5M344.6 796.9h3M354.6 796.9h9M379.6 796.9h7.8M313 798.5h4.5M263 800.2h11M309 800.2h9.2M353.1 800.2h5.3M307 802h4.2M356.2 802h4.9M317 803.6h6.8M339.8 803.6h4.8M356.7 803.6h1.8M255 805.4h2M308 805.4h3.9M357.9 805.4h21.5M263 807h13.6M285.6 807h5M362.6 807h2.1M245 808.8h4.2M304.2 808.8h7.7M310 810.5h5.9M250 812.1h6.3M263.3 812.1h19.3M288.7 812.1h16.5M350.9 813.9h9.5M328 817.2h7.1M365.1 817.2h2.6M246 819h4M308.3 819h4.4M364 820.6h6.3M274 822.4h16.4M314.4 822.4h7.4M323.8 822.4h3.1M364.9 822.4h3.7M251 824h15.3M241 825.8h7.1M298.1 825.8h5M356.1 825.8h9.9M386 825.8h6M263 827.5h6.6M288.5 827.5h4.7M313.2 827.5h2.5M383 830.9h9M265 836h8.3M358.3 836h4.9M302 839.4h10.6M265 844.5h10M293 844.5h8.1M276.5 846.1h3.1M306.5 846.1h3.7M294 847.9h4.9M304.9 847.9h4.3M273 849.5h5.9M279.9 849.5h10.2M365.7 853h12.2M315 854.6h6.2M391.2 854.6h0.8M300 856.4h2.5M343.4 856.4h9.6M255 858h11.1M300 859.8h15.6M305.1 861.5h5M271 863.1h6.1M311 868.2h13.5M371.5 868.2h4.9M277.9 870h10.4M309.4 870h6.5M299 871.6h13.3M279 873.4h4.1M379.1 873.4h12.6M292 875h3.4M364.3 875h2.8M253 878.5h18.7M286.7 878.5h2.6M291.3 878.5h5.3M306 880.1h6.2M313.2 880.1h5.1M302.7 881.9h2.3M243 885.2h10.3M307.3 885.2h8.8M301 887h4.5M311.5 887h5.8M294 892h14.9M381.9 892h10M317 893.8h6.2M315 895.5h3.3M373.3 895.5h18.7M234 897.1h14.1M281.1 897.1h2.7M301.8 897.1h8M329.8 897.1h13.8M374.6 897.1h2.9M305 898.9h22.1M268 902.2h3.3M367.3 902.2h4.1M283 904h6.9M306.9 904h14.3M390.7 904h1.3M311 905.6h6.3M358.3 905.6h28.3M374 907.4h2.8M353 910.8h3.3M310 914.1h3M330 915.9h3.5M239 917.5h7.7M366.7 917.5h15.5M284 919.2h9.4M311.4 919.2h14.8M232 921h2M378 921h1.9M245 922.6h31.3M302.3 922.6h9.1M304 924.4h2M311 924.4h4.3M354 924.4h3.7M273 926h3.7M245 927.8h3.4M274.4 927.8h12.8M302.2 927.8h3.7M315.8 929.5h4M363.9 929.5h4.1M385.9 929.5h6.1M287.3 932.9h1.9M304.2 932.9h10.4M330.6 932.9h24.9M249 934.5h7.9M281.9 934.5h4.3M341.2 934.5h3.1M307.8 941.4h3.7M348.5 941.4h5M255 946.5h21.4M274 949.9h14M301 949.9h13.1M346.1 949.9h2.3M376.4 949.9h4.2M285 953.2h4.8M302.8 953.2h1.8M360.6 953.2h5.5M313 955h5.1M291 956.6h6.8M326.2 956.6h5.7M254 958.4h10.8M312 960h4.7M233 961.8h16.9M251.9 961.8h6.3M309.2 961.8h1.6M348 963.5h5.9M373.9 963.5h8.6M322 965.1h2.2M353.2 965.1h14.2M262 970.2h20.6M302 972h1.9M297 975.3h5.2M240 977h3.9M265.9 977h10M311.9 977h11.2M372 977h4.3M250 978.8h11.3M364 980.5h1.5M368.5 980.5h6.9M315 982.1h4M252 983.8h4.3M242 985.5h2.8M387.5 985.5h4.5M257 990.6h12.3M236 994h9.6M357.6 994h5.3M230 997.5h6.2M328.2 997.5h2M317 999.1h8.9M266 1002.5h9.8M322 1004.2h14.5M251 1006h1.8M311.8 1006h2.9M319 1009.3h1.8M372.8 1009.3h5.4M358 1011h6.2M304 1012.8h4.9M304 1017.8h10.4M375.4 1017.8h10.1M315 1021.2h6.7M324.4 1023h9.6M304 1024.7h4.6M363.6 1024.7h2.5M297 1026.3h17.1M333.1 1026.3h2.8M230 1028h8.6M286.6 1028h8.5M371.1 1028h8.4M356.8 1029.8h1.7M362.5 1029.8h8.5M357 1031.5h6.3M293.4 1033.2h7.4M310.8 1033.2h3.4M235 1034.8h9.4M306 1040h2.2M331 1045h31.1M311 1048.5h7.8M232 1050.2h3.2M280.2 1050.2h5.2M299.4 1050.2h3.8M311.3 1050.2h1.8M312 1051.8h8.4M323.4 1051.8h6.5M387.9 1051.8h4.1M235 1053.5h9.5M332.7 1053.5h2M264 1058.7h13.7M324.7 1058.7h7.6M348.9 1062h4.7M366.6 1062h9.7M254 1065.5h2.1M373 1070.5h3.6M310 1072.2h10.5M354.5 1072.2h10.8M311 1074h6M321.6 1082.5h4.9M284 1084.2h1.8M267 1085.8h3.2M310.2 1085.8h8.1M309 1091h2.8M315 1092.7h1.9M329.6 1096h1.7M247 1097.8h13.5M309.5 1097.8h6.8M318 1099.5h7.3M308 1102.8h12.9M380.2 1108h11.8M380 1109.7h2.1M230 1121.5h15.2M311.4 1121.5h2.9M307 1125h3.5M330 1128.3h8.5M261 1131.8h2.8M311.8 1131.8h6M386.8 1131.8h5.2M233 1135.2h3.4M377.4 1135.2h3.5M251 1136.8h6.2M288.2 1136.8h3.7M312.9 1136.8h12.6M339.5 1136.8h9.4M317 1142h1.7M327.7 1142h10.5M390 1147h2M248 1152.2h9.4M310 1155.5h5M276 1157.2h2.5M305 1165.8h4.7M311 1172.5h3M285 1174.2h5M247 1176h9.3M304 1179.3h6.5M327.5 1179.3h7.8M373 1187.8h1.6M309 1189.5h21.9M359 1191.2h15.2M258 1193h6.9M330.4 1193h5.4M307 1198h12.5M316 1199.8h4.6M352.6 1199.8h3.8M280 1203.2h2.2M286 1210h1.7M385.7 1210h6.3M236 1215h2.2M295.2 1215h5.7" stroke="#f00" stroke-opacity="0.95" stroke-width="1.7" fill="none"/>
<rect x="230" y="711" width="162" height="508" fill="none" stroke="#000" stroke-width="1.2"/>
<text x="310" y="1268.7" font-size="22.5" text-anchor="middle">Distance from</text>
<text x="308" y="1297" font-size="22.5" text-anchor="middle">center</text>
<text x="486.9" y="518.4" font-size="28" text-anchor="middle" fill="#000">H3K4me3</text>
<path d="M405.7 626.8L406.9 636.1L408.2 648L409.4 652.9L410.7 658.4L411.9 648.6L413.2 661.4L414.4 657.9L415.7 663.1L416.9 657.3L418.2 665.3L419.4 662.8L420.7 667.7L421.9 658.6L423.2 661.7L424.4 666.7L425.7 662.4L426.9 663L428.2 660.9L429.4 660.7L430.7 666L431.9 654.6L433.2 652.9L434.4 649.6L435.7 652.5L436.9 648.7L438.2 655.2L439.4 656.5L440.7 672.7L441.9 664.6L443.2 664.9L444.4 669.7L445.7 673.6L446.9 682.6L448.1 668.6L449.4 669.9L450.6 678L451.9 673.1L453.1 668.2L454.4 675.8L455.6 674.1L456.9 669.7L458.1 668.2L459.4 646.4L460.6 657.5L461.9 652.9L463.1 632.1L464.4 634.9L465.6 632.7L466.9 630.9L468.1 629.9L469.4 625.1L470.6 624.3L471.9 619.6L473.1 638.5L474.4 635.4L475.6 634L476.9 645.6L478.1 660.4L479.4 644.8L480.6 648.3L481.9 639.7L483.1 630.4L484.4 629.8L485.6 619.7L486.9 620.3L488.1 617.1L489.3 619.6L490.6 626.9L491.8 636L493.1 640.3L494.3 652.7L495.6 651.2L496.8 647.7L498.1 648.5L499.3 649.5L500.6 646.5L501.8 641L503.1 646.2L504.3 633.1L505.6 638.2L506.8 636.1L508.1 631.4L509.3 633.5L510.6 621.9L511.8 623.6L513.1 622.8L514.3 622.8L515.6 623.1L516.8 633.8L518.1 639.1L519.3 646.5L520.6 656.3L521.8 655.6L523.1 662.2L524.3 659.6L525.6 663.8L526.8 664.3L528 667.2L529.3 660.9L530.5 656.2L531.8 655.6L533 658.9L534.3 660.2L535.5 666.1L536.8 648.8L538 651.9L539.3 645L540.5 647.8L541.8 650.3L543 661L544.3 653L545.5 647.8L546.8 643.3L548 632L549.3 623.1L550.5 618.7L551.8 600.7L553 614.7L554.3 615.6L555.5 618.6L556.8 635L558 637.7L559.3 636L560.5 643.4L561.8 644.6L563 649.3L564.3 649L565.5 657L566.8 656.6L568 663.9" fill="none" stroke="#000" stroke-width="1.2" stroke-linejoin="round"/>
<rect x="405.7" y="527.7" width="162.3" height="153" fill="none" stroke="#000" stroke-width="1.2"/>
<path d="M402.7 667L405.7 667" stroke="#000" stroke-width="1"/>
<path d="M402.7 643.5L405.7 643.5" stroke="#000" stroke-width="1"/>
<path d="M402.7 620L405.7 620" stroke="#000" stroke-width="1"/>
<path d="M402.7 596.5L405.7 596.5" stroke="#000" stroke-width="1"/>
<path d="M402.7 573L405.7 573" stroke="#000" stroke-width="1"/>
<path d="M402.7 549.5L405.7 549.5" stroke="#000" stroke-width="1"/>
<path d="M405.7 680.7L405.7 684.7" stroke="#000" stroke-width="1"/>
<path d="M405.7 1219L405.7 1223" stroke="#000" stroke-width="1"/>
<path d="M486.9 680.7L486.9 684.7" stroke="#000" stroke-width="1"/>
<path d="M486.9 1219L486.9 1223" stroke="#000" stroke-width="1"/>
<path d="M568 680.7L568 684.7" stroke="#000" stroke-width="1"/>
<path d="M568 1219L568 1223" stroke="#000" stroke-width="1"/>
<text x="405.3" y="701" font-size="24">-10</text>
<text x="486.9" y="701" font-size="24" text-anchor="middle">0</text>
<text x="572.5" y="701" font-size="24" text-anchor="end">+10</text>
<text x="405.3" y="1244.4" font-size="24">-10</text>
<text x="486.9" y="1244.4" font-size="24" text-anchor="middle">0</text>
<text x="572.5" y="1244.4" font-size="24" text-anchor="end">+10</text>
<filter id="hf20" x="0" y="0" width="1" height="1" color-interpolation-filters="sRGB"><feTurbulence type="fractalNoise" baseFrequency="0.25 0.55" numOctaves="3" seed="5"/><feColorMatrix type="matrix" values="0 0 0 0 1  0 0 0 0 0  0 0 0 0 0  1 0 0 0 0"/><feComposite in2="SourceGraphic" operator="arithmetic" k1="0" k2="1" k3="1" k4="-1"/><feColorMatrix type="matrix" values="0 0 0 0 1  0 0 0 0 0  0 0 0 0 0  0 0 0 1.5 0"/></filter>
<linearGradient id="hg20" x1="0" y1="0" x2="0" y2="1"><stop offset="0" stop-color="#f00" stop-opacity="0.48"/><stop offset="0.3" stop-color="#f00" stop-opacity="0.46"/><stop offset="0.6" stop-color="#f00" stop-opacity="0.43"/><stop offset="1" stop-color="#f00" stop-opacity="0.39"/></linearGradient>
<linearGradient id="hg20c" x1="0" y1="0" x2="0" y2="1"><stop offset="0" stop-color="#f00" stop-opacity="0.02"/><stop offset="0.6" stop-color="#f00" stop-opacity="0.017"/><stop offset="1" stop-color="#f00" stop-opacity="0.01"/></linearGradient>
<g filter="url(#hf20)"><rect x="405.7" y="711" width="162.3" height="508" fill="url(#hg20)"/><rect x="477.4" y="711" width="20" height="508" fill="url(#hg20c)"/><rect x="481.4" y="711" width="12" height="508" fill="url(#hg20c)"/><rect x="484.4" y="711" width="6" height="508" fill="url(#hg20c)"/></g>
<filter id="hf21" x="0" y="0" width="1" height="1" color-interpolation-filters="sRGB"><feTurbulence type="fractalNoise" baseFrequency="0.06 0.45" numOctaves="3" seed="33"/><feColorMatrix type="matrix" values="0 0 0 0 1  0 0 0 0 0  0 0 0 0 0  1 0 0 0 0"/><feComposite in2="SourceGraphic" operator="arithmetic" k1="0" k2="1" k3="1" k4="-1"/><feColorMatrix type="matrix" values="0 0 0 0 1  0 0 0 0 0  0 0 0 0 0  0 0 0 6.0 0"/></filter>
<linearGradient id="hg21" x1="0" y1="0" x2="0" y2="1"><stop offset="0" stop-color="#f00" stop-opacity="0.41"/><stop offset="0.3" stop-color="#f00" stop-opacity="0.37"/><stop offset="0.6" stop-color="#f00" stop-opacity="0.31"/><stop offset="1" stop-color="#f00" stop-opacity="0.25"/></linearGradient>
<linearGradient id="hg21c" x1="0" y1="0" x2="0" y2="1"><stop offset="0" stop-color="#f00" stop-opacity="0.04"/><stop offset="0.6" stop-color="#f00" stop-opacity="0.033"/><stop offset="1" stop-color="#f00" stop-opacity="0.017"/></linearGradient>
<g filter="url(#hf21)"><rect x="405.7" y="711" width="162.3" height="508" fill="url(#hg21)"/><rect x="480.4" y="711" width="14" height="508" fill="url(#hg21c)"/><rect x="483.2" y="711" width="8.4" height="508" fill="url(#hg21c)"/><rect x="485.2" y="711" width="4.2" height="508" fill="url(#hg21c)"/></g>
<path d="M512.8 711.9h2.3M486.4 717h5.6M538.1 717h9.6M555.4 723.8h7.7M411.7 725.5h6.2M419.7 734h2.8M515.5 734h1.6M537.5 735.6h3.9M552.5 735.6h15.5M499.7 737.4h33.4M538.7 740.8h3.9M518.7 744.1h4.3M411.7 756h2.3M543.5 756h5.2M406.7 757.8h9.6M425.7 761.1h11.4M464.1 761.1h6.4M539.7 764.5h4.9M514.7 766.2h1.5M537.7 771.4h11.2M469.1 778.1h3.3M502.7 779.9h3.2M540.9 779.9h5.9M451.7 781.5h7.9M507.7 791.8h3.2M544 798.5h5.2M544.7 825.8h14M431.7 830.9h1.6M563.7 836h3.4M425.7 841h4.6M436.7 846.1h40.4M481.1 846.1h8.4M473.7 849.5h7.3M460.7 861.5h4.8M490.5 861.5h2.2M483.7 876.8h3M560.5 880.1h7.5M550.8 890.4h8.9M461.7 892h5.8M419.7 893.8h8.3M543 905.6h2M541.8 910.8h8.3M420.7 914.1h18.4M514.7 922.6h17.1M554 931.1h14M498.7 936.2h5.6M417.7 939.6h13.2M486.9 939.6h14.4M454.7 966.9h13.5M505.7 980.5h9M557.7 997.5h10.3M539.7 1002.5h5.8M460.7 1031.5h10.5M565.2 1031.5h2.8M485.7 1041.7h3.6M486.7 1045h2M483.7 1055.2h20.4M490.7 1067.2h2.1M480.7 1072.2h18.8M490.7 1152.2h7.7M489.7 1164h11" stroke="#f00" stroke-opacity="0.45" stroke-width="1.7" fill="none"/>
<path d="M421.7 711.9h13.7M484.4 711.9h16.4M466.7 715.2h10.8M423.7 717h8.7M443.7 722h7.4M489.1 722h1.7M501.7 723.8h3.8M506.5 723.8h6M446.9 725.5h30.8M479.7 735.6h11.9M492.6 735.6h1.6M496.2 735.6h27.3M556.6 740.8h3.3M455.7 744.1h5.6M462.3 744.1h14.4M486.7 744.1h9.2M514.9 744.1h1.8M528.1 744.1h17.8M563.9 744.1h4.1M474.7 745.9h5M464.7 747.5h10.9M490.6 747.5h3.5M495.1 747.5h5.8M517.8 747.5h2.1M525.9 747.5h4.6M549.6 747.5h18.4M405.7 752.6h5.8M424.5 752.6h2.7M429.1 752.6h9M452.1 752.6h2.3M553.4 752.6h13.6M491 756h10.6M423.3 757.8h14.5M491.8 757.8h27.2M526.6 761.1h8.5M544.2 766.2h2.7M430.7 768h7.2M557.9 768h10.1M474.7 774.8h14.5M435.7 778.1h30.4M444.7 783.2h11.2M541.9 783.2h5.5M441.7 785h43.1M555.8 785h2.7M434.7 786.6h19.1M405.7 788.4h2.2M455.7 793.5h3.2M446.7 796.9h12.6M500.3 796.9h44.2M546.5 796.9h9.2M483.7 798.5h2M487.7 798.5h14.4M459.7 800.2h7.8M478.5 800.2h1.7M490.2 800.2h2.6M502.8 800.2h16.5M472.7 812.1h24M542.7 813.9h20.4M543.7 815.5h12.1M559.8 815.5h8.2M487.7 817.2h10.8M557.5 817.2h3M489.7 819h7.2M459.7 822.4h12.4M496.1 822.4h64M533.7 824h3.7M560.3 830.9h7.7M475.7 834.2h15.7M484.7 837.6h2.4M557.1 837.6h8.4M495.7 839.4h3.4M486.7 842.8h8.1M430.7 851.2h10.9M461.6 851.2h11.5M486.7 854.6h1.7M493.7 861.5h6.9M482.7 863.1h16.8M469.7 868.2h9.1M495.8 868.2h2.9M556.7 868.2h1.6M511.7 871.6h7.1M530.8 871.6h8.8M490.7 873.4h6.6M496.7 876.8h9.6M412.7 880.1h8.4M463.1 880.1h6.6M534.6 880.1h4.8M463.7 883.5h4M430.7 887h2M518.7 888.6h4.8M434.7 890.4h3.1M437.7 895.5h2.7M450.7 898.9h11M479.7 898.9h11.2M456.7 905.6h8.3M488.7 907.4h16M409.7 909h17.2M464.7 910.8h3.6M487.3 910.8h7.5M461.1 914.1h4.9M440.7 921h5.9M418.7 924.4h25.6M483.3 924.4h36.6M463.7 931.1h2.3M482.7 932.9h4.4M479.7 934.5h4.8M554.5 934.5h7.2M549.3 936.2h13M469.9 939.6h11M514.7 946.5h14.5M523.7 948.1h12.1M565.8 948.1h2.2M511.7 955h3.3M482.7 960h2.7M500.4 960h5M463.7 965.1h18.9M495.6 965.1h11.4M565 965.1h3M487.7 968.5h29.8M429.7 972h21.5M526.2 972h16M484.7 975.3h3.8M422.7 987.2h31M541.7 987.2h12.5M414.7 992.3h10.9M522.7 1000.8h4.5M481.7 1023h2.9M465.7 1051.8h60M478.7 1062h36.4M501.7 1065.5h2.7M482.7 1070.5h12.5M418.7 1074h44.1M479.7 1079h7.7M488.7 1087.5h5.3M535 1087.5h33M483.7 1089.2h4.2M522.7 1111.3h6.3M461.7 1113h10.8M566.5 1113h1.5M458.7 1116.5h12.2M485.7 1142h12.8M487.7 1177.7h5.9M503.6 1177.7h10.1M458.7 1201.5h7.1M473.7 1211.7h6.6" stroke="#f00" stroke-opacity="0.95" stroke-width="1.7" fill="none"/>
<rect x="405.7" y="711" width="162.3" height="508" fill="none" stroke="#000" stroke-width="1.2"/>
<text x="485.9" y="1268.7" font-size="22.5" text-anchor="middle">Distance from</text>
<text x="483.9" y="1297" font-size="22.5" text-anchor="middle">center</text>
<text x="662.5" y="518.4" font-size="28" text-anchor="middle" fill="#000">H3K27me3</text>
<path d="M581.3 655.9L582.4 654.9L583.5 655.9L584.5 655.8L585.6 655.4L586.7 656.1L587.8 654.4L588.9 656.6L590 655.3L591 657.1L592.1 658.5L593.2 652.1L594.3 655.5L595.4 654.9L596.4 658.3L597.5 657.7L598.6 653.4L599.7 657.6L600.8 657.6L601.9 656.4L602.9 657L604 655.9L605.1 656.2L606.2 655.2L607.3 655.2L608.3 654.6L609.4 658.6L610.5 657.2L611.6 655.5L612.7 655.9L613.8 656L614.8 655.7L615.9 656.6L617 656.2L618.1 655.3L619.2 656.7L620.3 656.9L621.3 656.3L622.4 657.8L623.5 659.9L624.6 656.5L625.7 654.1L626.7 658L627.8 657.9L628.9 652.8L630 656.6L631.1 652.5L632.2 654.6L633.2 654.5L634.3 653.6L635.4 657.2L636.5 654.7L637.6 655.3L638.6 656.7L639.7 654.9L640.8 658.8L641.9 654.7L643 655.6L644.1 650.7L645.1 658.2L646.2 652.5L647.3 655L648.4 654.2L649.5 654.6L650.5 654L651.6 656.5L652.7 651.2L653.8 653.3L654.9 652.5L656 652.5L657 653.9L658.1 653.3L659.2 655.6L660.3 654.8L661.4 652L662.5 653.1L663.5 651.8L664.6 654L665.7 652.1L666.8 653.1L667.9 654.1L668.9 656.2L670 651.8L671.1 652.7L672.2 651.1L673.3 653.3L674.4 651.3L675.4 654.2L676.5 653.4L677.6 652.3L678.7 655.4L679.8 652.3L680.8 652.4L681.9 655.4L683 655.5L684.1 653.4L685.2 656.4L686.3 653.3L687.3 656L688.4 653.1L689.5 654.6L690.6 656L691.7 652.3L692.7 655.5L693.8 653L694.9 657.1L696 655L697.1 658.5L698.2 654.7L699.2 657.2L700.3 656L701.4 656L702.5 656.1L703.6 652.2L704.6 656.8L705.7 654.5L706.8 656.8L707.9 656L709 656.6L710.1 656.5L711.1 655.9L712.2 653.2L713.3 655.2L714.4 658L715.5 659.2L716.5 653L717.6 654.3L718.7 653.8L719.8 656L720.9 654.2L722 657L723 655.9L724.1 655.3L725.2 657.1L726.3 653.8L727.4 658.5L728.5 653.2L729.5 656.8L730.6 657.6L731.7 657.8L732.8 653.9L733.9 655.9L734.9 660.2L736 657.4L737.1 653.8L738.2 656.7L739.3 655.1L740.4 659.1L741.4 657L742.5 653.4L743.6 655.9" fill="none" stroke="#000" stroke-width="1.2" stroke-linejoin="round"/>
<rect x="581.3" y="527.7" width="162.3" height="153" fill="none" stroke="#000" stroke-width="1.2"/>
<path d="M578.3 667L581.3 667" stroke="#000" stroke-width="1"/>
<path d="M578.3 643.5L581.3 643.5" stroke="#000" stroke-width="1"/>
<path d="M578.3 620L581.3 620" stroke="#000" stroke-width="1"/>
<path d="M578.3 596.5L581.3 596.5" stroke="#000" stroke-width="1"/>
<path d="M578.3 573L581.3 573" stroke="#000" stroke-width="1"/>
<path d="M578.3 549.5L581.3 549.5" stroke="#000" stroke-width="1"/>
<path d="M581.3 680.7L581.3 684.7" stroke="#000" stroke-width="1"/>
<path d="M581.3 1219L581.3 1223" stroke="#000" stroke-width="1"/>
<path d="M662.5 680.7L662.5 684.7" stroke="#000" stroke-width="1"/>
<path d="M662.5 1219L662.5 1223" stroke="#000" stroke-width="1"/>
<path d="M743.6 680.7L743.6 684.7" stroke="#000" stroke-width="1"/>
<path d="M743.6 1219L743.6 1223" stroke="#000" stroke-width="1"/>
<text x="580.9" y="701" font-size="24">-10</text>
<text x="662.5" y="701" font-size="24" text-anchor="middle">0</text>
<text x="748.1" y="701" font-size="24" text-anchor="end">+10</text>
<text x="580.9" y="1244.4" font-size="24">-10</text>
<text x="662.5" y="1244.4" font-size="24" text-anchor="middle">0</text>
<text x="748.1" y="1244.4" font-size="24" text-anchor="end">+10</text>
<filter id="hf30" x="0" y="0" width="1" height="1" color-interpolation-filters="sRGB"><feTurbulence type="fractalNoise" baseFrequency="0.35 0.6" numOctaves="3" seed="12"/><feColorMatrix type="matrix" values="0 0 0 0 1  0 0 0 0 0  0 0 0 0 0  1 0 0 0 0"/><feComposite in2="SourceGraphic" operator="arithmetic" k1="0" k2="1" k3="1" k4="-1"/><feColorMatrix type="matrix" values="0 0 0 0 1  0 0 0 0 0  0 0 0 0 0  0 0 0 1.0 0"/></filter>
<linearGradient id="hg30" x1="0" y1="0" x2="0" y2="1"><stop offset="0" stop-color="#f00" stop-opacity="0.62"/><stop offset="1" stop-color="#f00" stop-opacity="0.61"/></linearGradient>
<g filter="url(#hf30)"><rect x="581.3" y="711" width="162.3" height="508" fill="url(#hg30)"/></g>
<path d="M660.3 739h4.8M705.3 740.8h20M614.3 796.9h19.3M710.3 829.1h26.3M708.3 832.5h8.9M620.3 866.5h12.9M686.3 871.6h5.9M703.3 900.5h1.9M701.3 909h1.7M622.3 921h11.4M692.3 946.5h16.8M738.3 985.5h2.8M711.3 1006h2.4M583.3 1028h29.6M622.3 1065.5h2.7M675 1065.5h12.8M731.3 1079h12.3M668.3 1142h9.4M664.3 1201.5h9.8M655.3 1203.2h2.9M591.3 1213.3h37" stroke="#f00" stroke-opacity="0.45" stroke-width="1.7" fill="none"/>
<rect x="581.3" y="711" width="162.3" height="508" fill="none" stroke="#000" stroke-width="1.2"/>
<text x="661.5" y="1268.7" font-size="22.5" text-anchor="middle">Distance from</text>
<text x="659.5" y="1297" font-size="22.5" text-anchor="middle">center</text>
<text x="749.5" y="701" font-size="24">Kb</text>
<text x="746" y="1244.4" font-size="24">Kb</text>
<text x="43.8" y="557.1" font-size="21.5" text-anchor="middle">3</text>
<text x="43.8" y="604.1" font-size="21.5" text-anchor="middle">2</text>
<text x="43.8" y="651.1" font-size="21.5" text-anchor="middle">1</text>
<text font-size="25" textLength="158" lengthAdjust="spacingAndGlyphs" transform="translate(38.4 674) rotate(-90)">Average profile</text>
<text font-size="27" textLength="138" lengthAdjust="spacingAndGlyphs" transform="translate(39 1025) rotate(-90)">1192 LMRs</text>
<linearGradient id="cbg" x1="0" y1="0" x2="0" y2="1"><stop offset="0" stop-color="#f00"/><stop offset="1" stop-color="#fff"/></linearGradient>
<rect x="753" y="711" width="8.4" height="508" fill="url(#cbg)" stroke="#000" stroke-width="0.8"/>
<path d="M761.4 1218L764.5 1218" stroke="#000" stroke-width="1"/>
<text x="766" y="1225.5" font-size="21.5">0</text>
<path d="M761.4 1127L764.5 1127" stroke="#000" stroke-width="1"/>
<text x="766" y="1134.5" font-size="21.5">1</text>
<path d="M761.4 1036L764.5 1036" stroke="#000" stroke-width="1"/>
<text x="766" y="1043.5" font-size="21.5">2</text>
<path d="M761.4 945L764.5 945" stroke="#000" stroke-width="1"/>
<text x="766" y="952.5" font-size="21.5">3</text>
<path d="M761.4 854L764.5 854" stroke="#000" stroke-width="1"/>
<text x="766" y="861.5" font-size="21.5">4</text>
<path d="M761.4 763L764.5 763" stroke="#000" stroke-width="1"/>
<text x="766" y="770.5" font-size="21.5">5</text>
<text x="785" y="511" font-size="29" font-weight="bold">e</text>
<clipPath id="ecl"><circle cx="960.8" cy="754.4" r="154.6"/></clipPath>
<path d="M960.8 754.4L960.8 599.8A154.6 154.6 0 0 1 1105.3 699.5Z" fill="#FB0000"/>
<path d="M960.8 754.4L1105.3 699.5A154.6 154.6 0 0 1 1037 888.9Z" fill="#FB0000"/>
<clipPath id="ec1"><path d="M960.8 754.4L1105.3 699.5A154.6 154.6 0 0 1 1037 888.9Z"/></clipPath>
<path d="M806.2 631.7h309.2M806.2 660.4h309.2M806.2 689h309.2M806.2 717.7h309.2M806.2 746.3h309.2M806.2 775h309.2M806.2 803.6h309.2M806.2 832.2h309.2M806.2 860.9h309.2" stroke="#2a2a2a" stroke-width="2" clip-path="url(#ec1)"/>
<path d="M960.8 754.4L1037 888.9A154.6 154.6 0 0 1 859 870.7Z" fill="#02BD02"/>
<path d="M960.8 754.4L859 870.7A154.6 154.6 0 0 1 960.8 599.8Z" fill="#02BD02"/>
<clipPath id="ec3"><path d="M960.8 754.4L859 870.7A154.6 154.6 0 0 1 960.8 599.8Z"/></clipPath>
<path d="M806.2 631.7h309.2M806.2 660.4h309.2M806.2 689h309.2M806.2 717.7h309.2M806.2 746.3h309.2M806.2 775h309.2M806.2 803.6h309.2M806.2 832.2h309.2M806.2 860.9h309.2" stroke="#2a2a2a" stroke-width="2" clip-path="url(#ec3)"/>
<path d="M960.8 754.4L960.8 599.8" stroke="#333" stroke-width="1.6"/>
<path d="M960.8 754.4L1105.3 699.5" stroke="#111" stroke-width="1.6"/>
<path d="M960.8 754.4L1037 888.9" stroke="#ddd" stroke-width="0.6"/>
<path d="M960.8 754.4L859 870.7" stroke="#333" stroke-width="2"/>
<circle cx="960.8" cy="754.4" r="154.6" fill="none" stroke="#000" stroke-width="5"/>
<text x="958.5" y="951.2" font-size="27.7" text-anchor="middle"><tspan font-style="italic">P</tspan>=.0002</text>
<text x="958.5" y="983.7" font-size="27.5" text-anchor="middle" font-weight="bold">Total=957</text>
<pattern id="hat" width="10" height="10" patternUnits="userSpaceOnUse" patternTransform="rotate(-45)"><path d="M0 5h10" stroke="#151515" stroke-width="2.1"/></pattern>
<rect x="796.5" y="1012.2" width="52" height="23" fill="#FB0000" stroke="#000" stroke-width="1.6"/>
<text x="856" y="1031" font-size="27.5">184 Up</text>
<rect x="796.5" y="1053.8" width="52" height="23" fill="#FB0000" stroke="#000" stroke-width="1.6"/>
<rect x="797" y="1054.3" width="51" height="22" fill="url(#hat)"/>
<text x="856" y="1072.6" font-size="27.5">216 Up+Hyper LMRs</text>
<rect x="796.5" y="1094.9" width="52" height="23" fill="#02BD02" stroke="#000" stroke-width="1.6"/>
<text x="856" y="1113.7" font-size="27.5">188 Down</text>
<rect x="796.5" y="1137" width="52" height="23" fill="#02BD02" stroke="#444" stroke-width="0.8"/>
<rect x="797" y="1137.5" width="51" height="22" fill="url(#hat)"/>
<text x="856" y="1155.8" font-size="27.5">369 Down+Hyper LMRs</text>
<text x="1133" y="509" font-size="29" font-weight="bold">f</text>
<text x="1133" y="896" font-size="29" font-weight="bold">g</text>
<text x="1787.5" y="516" font-size="27.2" text-anchor="middle">-log[<tspan font-style="italic">P</tspan> value]</text>
<text x="1787.5" y="890.5" font-size="27.2" text-anchor="middle">-log[<tspan font-style="italic">P</tspan> value]</text>
<path d="M1586 566.6L1989 566.6" stroke="#000" stroke-width="2"/>
<path d="M1587 562L1587 850.5" stroke="#000" stroke-width="2"/>
<path d="M1587 560L1587 566.6" stroke="#000" stroke-width="2"/>
<text x="1587" y="553" font-size="24" text-anchor="middle">0</text>
<path d="M1720.6 560L1720.6 566.6" stroke="#000" stroke-width="2"/>
<text x="1720.6" y="553" font-size="24" text-anchor="middle">2</text>
<path d="M1854.2 560L1854.2 566.6" stroke="#000" stroke-width="2"/>
<text x="1854.2" y="553" font-size="24" text-anchor="middle">4</text>
<path d="M1987.8 560L1987.8 566.6" stroke="#000" stroke-width="2"/>
<text x="1986.8" y="553" font-size="24" text-anchor="middle">6</text>
<rect x="1588" y="577.5" width="333" height="36" fill="#FB0000" stroke="#222" stroke-width="1"/>
<text x="1578" y="603.8" font-size="23.7" text-anchor="end">Cellular response to cytokine stimulus</text>
<rect x="1588" y="634" width="266.2" height="36" fill="#FB0000" stroke="#222" stroke-width="1"/>
<text x="1578" y="660.3" font-size="23.7" text-anchor="end">Cytokine-mediated signaling pathway</text>
<rect x="1588" y="690.5" width="266.2" height="36" fill="#FB0000" stroke="#222" stroke-width="1"/>
<text x="1578" y="716.8" font-size="23.7" text-anchor="end">Detection of molecule of bacterial origin</text>
<rect x="1588" y="747" width="266.2" height="36" fill="#FB0000" stroke="#222" stroke-width="1"/>
<text x="1578" y="773.3" font-size="23.7" text-anchor="end">Copper ion import</text>
<rect x="1588" y="803.5" width="199.4" height="36" fill="#FB0000" stroke="#222" stroke-width="1"/>
<text x="1578" y="829.8" font-size="23.7" text-anchor="end">Negative regulation of signal transduction</text>
<path d="M1586 936.6L1990 936.6" stroke="#000" stroke-width="2"/>
<path d="M1587 932L1587 1224.5" stroke="#000" stroke-width="2"/>
<path d="M1587 930L1587 936.6" stroke="#000" stroke-width="2"/>
<text x="1587" y="923" font-size="24" text-anchor="middle">0</text>
<path d="M1667.4 930L1667.4 936.6" stroke="#000" stroke-width="2"/>
<text x="1667.4" y="923" font-size="24" text-anchor="middle">2</text>
<path d="M1747.8 930L1747.8 936.6" stroke="#000" stroke-width="2"/>
<text x="1747.8" y="923" font-size="24" text-anchor="middle">4</text>
<path d="M1828.2 930L1828.2 936.6" stroke="#000" stroke-width="2"/>
<text x="1828.2" y="923" font-size="24" text-anchor="middle">6</text>
<path d="M1908.6 930L1908.6 936.6" stroke="#000" stroke-width="2"/>
<text x="1908.6" y="923" font-size="24" text-anchor="middle">8</text>
<path d="M1989 930L1989 936.6" stroke="#000" stroke-width="2"/>
<text x="1985" y="923" font-size="24" text-anchor="middle">10</text>
<rect x="1588" y="946.6" width="360.8" height="30.4" fill="#02BD02" stroke="#222" stroke-width="1"/>
<text x="1578" y="970.1" font-size="23.7" text-anchor="end">Colitis</text>
<rect x="1588" y="994.4" width="280.4" height="30.4" fill="#02BD02" stroke="#222" stroke-width="1"/>
<text x="1578" y="1017.9" font-size="23.7" text-anchor="end">Cystic Fibrosis</text>
<rect x="1588" y="1041.8" width="240.2" height="30.4" fill="#02BD02" stroke="#222" stroke-width="1"/>
<text x="1578" y="1065.3" font-size="23.7" text-anchor="end">Breast cancer</text>
<rect x="1588" y="1089" width="200" height="30.4" fill="#02BD02" stroke="#222" stroke-width="1"/>
<text x="1578" y="1112.5" font-size="23.7" text-anchor="end">Psoriasis</text>
<rect x="1588" y="1137" width="200" height="30.4" fill="#02BD02" stroke="#222" stroke-width="1"/>
<text x="1578" y="1160.5" font-size="23.7" text-anchor="end">Pulmonary Fibrosis</text>
<rect x="1588" y="1184.4" width="200" height="30.4" fill="#02BD02" stroke="#222" stroke-width="1"/>
<text x="1578" y="1207.9" font-size="23.7" text-anchor="end">Glomerulosclerosis</text>
<text x="1" y="1362" font-size="29" font-weight="bold">h</text>
<text x="285.3" y="1439" font-size="25" text-anchor="middle" textLength="355.8" lengthAdjust="spacingAndGlyphs">Interferon Gamma Response</text>
<path d="M81.3 1471.3L493 1471.3" stroke="#aaa" stroke-width="0.9" stroke-dasharray="8 16"/>
<path d="M77.3 1471.3L81.3 1471.3" stroke="#333" stroke-width="1"/>
<text x="74.3" y="1478.5" font-size="20.5" text-anchor="end" textLength="26.3" lengthAdjust="spacingAndGlyphs">0.4</text>
<path d="M81.3 1496.6L493 1496.6" stroke="#aaa" stroke-width="0.9" stroke-dasharray="8 16"/>
<path d="M77.3 1496.6L81.3 1496.6" stroke="#333" stroke-width="1"/>
<text x="74.3" y="1503.8" font-size="20.5" text-anchor="end" textLength="26.3" lengthAdjust="spacingAndGlyphs">0.3</text>
<path d="M81.3 1521.9L493 1521.9" stroke="#aaa" stroke-width="0.9" stroke-dasharray="8 16"/>
<path d="M77.3 1521.9L81.3 1521.9" stroke="#333" stroke-width="1"/>
<text x="74.3" y="1529.1" font-size="20.5" text-anchor="end" textLength="26.3" lengthAdjust="spacingAndGlyphs">0.2</text>
<path d="M81.3 1547.2L493 1547.2" stroke="#aaa" stroke-width="0.9" stroke-dasharray="8 16"/>
<path d="M77.3 1547.2L81.3 1547.2" stroke="#333" stroke-width="1"/>
<text x="74.3" y="1554.4" font-size="20.5" text-anchor="end" textLength="26.3" lengthAdjust="spacingAndGlyphs">0.1</text>
<path d="M81.3 1572.5L493 1572.5" stroke="#aaa" stroke-width="0.9" stroke-dasharray="8 16"/>
<path d="M77.3 1572.5L81.3 1572.5" stroke="#333" stroke-width="1"/>
<text x="74.3" y="1579.7" font-size="20.5" text-anchor="end" textLength="26.3" lengthAdjust="spacingAndGlyphs">0.0</text>
<path d="M81.3 1597.8L493 1597.8" stroke="#aaa" stroke-width="0.9" stroke-dasharray="8 16"/>
<path d="M77.3 1597.8L81.3 1597.8" stroke="#333" stroke-width="1"/>
<text x="74.3" y="1605" font-size="20.5" text-anchor="end" textLength="31.2" lengthAdjust="spacingAndGlyphs">-0.1</text>
<path d="M82.8 1573.1L84.4 1507.5L85.9 1500.3L87.5 1494.5L89.1 1489L90.7 1482.6L92.2 1479.1L93.8 1476.2L95.4 1474.7L96.9 1472.1L98.5 1469.6L100.1 1468.1L101.7 1466.1L103.2 1464.8L104.8 1463.7L106.4 1462.2L108 1459.9L109.5 1460.8L111.1 1460.6L112.7 1460.4L114.2 1459.4L115.8 1459L117.4 1458.8L119 1458.3L120.5 1457.8L122.1 1457.4L123.7 1456.9L125.2 1457L126.8 1457.6L128.4 1456.2L130 1456.9L131.5 1456L133.1 1456.3L134.7 1455.3L136.2 1455.6L137.8 1455.8L139.4 1455L141 1457.1L142.5 1457.3L144.1 1458.9L145.7 1459.1L147.2 1459.2L148.8 1460.1L150.4 1460.3L152 1460.7L153.5 1461.6L155.1 1461.3L156.7 1462.3L158.3 1461.4L159.8 1462.8L161.4 1462.7L163 1463.3L164.5 1463.3L166.1 1464.7L167.7 1464.7L169.3 1466L170.8 1466.1L172.4 1467.1L174 1468L175.5 1469.2L177.1 1469.2L178.7 1470.1L180.3 1470.3L181.8 1471.9L183.4 1472.2L185 1473L186.5 1473.8L188.1 1474.6L189.7 1475.3L191.3 1476.3L192.8 1477.1L194.4 1477.5L196 1477.7L197.6 1477.9L199.1 1478.8L200.7 1479.4L202.3 1480.2L203.8 1480.9L205.4 1481.8L207 1482.1L208.6 1482.3L210.1 1483.9L211.7 1484.8L213.3 1484.2L214.8 1485.9L216.4 1486.5L218 1487.5L219.6 1489.4L221.1 1488.8L222.7 1490.1L224.3 1491.8L225.8 1492.5L227.4 1493.7L229 1495.2L230.6 1495.8L232.1 1496.5L233.7 1497.2L235.3 1498.3L236.8 1499.6L238.4 1500L240 1501.9L241.6 1502.2L243.1 1503L244.7 1504.6L246.3 1506.3L247.9 1506.8L249.4 1507.3L251 1508.1L252.6 1508.6L254.1 1510.8L255.7 1511.3L257.3 1512L258.9 1513.3L260.4 1515.3L262 1514.8L263.6 1515.1L265.1 1516.7L266.7 1518.5L268.3 1519.3L269.9 1520L271.4 1519.9L273 1521.7L274.6 1522.9L276.1 1523.2L277.7 1525L279.3 1525L280.9 1527.2L282.4 1528.1L284 1528.5L285.6 1529.1L287.1 1530.5L288.7 1531.4L290.3 1533.2L291.9 1533.6L293.4 1534.3L295 1535.1L296.6 1535.5L298.2 1536.7L299.7 1537L301.3 1538.2L302.9 1539.2L304.4 1539.8L306 1540.5L307.6 1541.1L309.2 1542.6L310.7 1543.3L312.3 1544.6L313.9 1544.1L315.4 1545L317 1546.6L318.6 1547.5L320.2 1548.7L321.7 1548.9L323.3 1549.7L324.9 1549.6L326.4 1551.3L328 1552.6L329.6 1554.2L331.2 1553.3L332.7 1554.7L334.3 1556.3L335.9 1556.3L337.5 1558L339 1556.5L340.6 1558.4L342.2 1559.4L343.7 1560.6L345.3 1562.3L346.9 1562.2L348.5 1563.7L350 1563.6L351.6 1565.6L353.2 1565.9L354.7 1565.8L356.3 1566.4L357.9 1568.5L359.5 1569.5L361 1569.2L362.6 1570.1L364.2 1571.7L365.7 1572.4L367.3 1573.3L368.9 1574.3L370.5 1574.7L372 1574.4L373.6 1575.3L375.2 1575.3L376.7 1576.8L378.3 1577.5L379.9 1578.5L381.5 1578.7L383 1579.8L384.6 1580.7L386.2 1580.1L387.8 1580.4L389.3 1581.3L390.9 1581.7L392.5 1582.8L394 1583.8L395.6 1584.1L397.2 1584.9L398.8 1585.8L400.3 1586.7L401.9 1587.2L403.5 1587.1L405 1587.6L406.6 1588.4L408.2 1588.1L409.8 1589.3L411.3 1589.7L412.9 1589.9L414.5 1591.4L416 1592.5L417.6 1591.9L419.2 1593.1L420.8 1592.7L422.3 1593.8L423.9 1594L425.5 1594.7L427.1 1596.5L428.6 1595.7L430.2 1596.8L431.8 1597.4L433.3 1597.7L434.9 1597.6L436.5 1598.1L438.1 1598.5L439.6 1600.2L441.2 1600.2L442.8 1601.6L444.3 1601.3L445.9 1601.7L447.5 1603L449.1 1603.3L450.6 1604L452.2 1604.2L453.8 1605.5L455.3 1606L456.9 1606.4L458.5 1605.8L460.1 1606.5L461.6 1607.6L463.2 1607.8L464.8 1608.1L466.3 1608.2L467.9 1608.5L469.5 1608.8L471.1 1609.3L472.6 1609.2L474.2 1608.3L475.8 1608.7L477.4 1608.5L478.9 1608.1L480.5 1607.5L482.1 1606.9L483.6 1606.1L485.2 1601.3L486.8 1596.9L488.4 1590.4L489.9 1581.6L491.5 1573" fill="none" stroke="#FA0000" stroke-width="6.4" stroke-linejoin="round" stroke-linecap="round"/>
<rect x="81.3" y="1449.2" width="411.7" height="164.2" fill="none" stroke="#222" stroke-width="1.2"/>
<text x="92.9" y="1542" font-size="19.5" textLength="185" lengthAdjust="spacingAndGlyphs">Nominal p-value: 0</text>
<text x="92.9" y="1561.7" font-size="19.5" textLength="127" lengthAdjust="spacingAndGlyphs">FDR: 0.00197</text>
<text x="92.9" y="1581.6" font-size="19.5" textLength="98.5" lengthAdjust="spacingAndGlyphs">ES: 0.4639</text>
<text x="92.9" y="1601.6" font-size="19.5" textLength="216.7" lengthAdjust="spacingAndGlyphs">Normalized ES: 1.9153</text>
<path d="M82.4 1613.4V1667.7M84.5 1613.4V1667.7M85.2 1613.4V1667.7M85.4 1613.4V1667.7M85.8 1613.4V1667.7M85.9 1613.4V1667.7M85.9 1613.4V1667.7M86.4 1613.4V1667.7M87.2 1613.4V1667.7M87.3 1613.4V1667.7M87.5 1613.4V1667.7M87.8 1613.4V1667.7M88.6 1613.4V1667.7M89.1 1613.4V1667.7M89.7 1613.4V1667.7M90.6 1613.4V1667.7M91 1613.4V1667.7M92 1613.4V1667.7M93.6 1613.4V1667.7M93.6 1613.4V1667.7M95.4 1613.4V1667.7M96.2 1613.4V1667.7M96.3 1613.4V1667.7M96.7 1613.4V1667.7M97.4 1613.4V1667.7M99 1613.4V1667.7M99.3 1613.4V1667.7M99.8 1613.4V1667.7M101.2 1613.4V1667.7M102.3 1613.4V1667.7M104.2 1613.4V1667.7M104.6 1613.4V1667.7M105.3 1613.4V1667.7M105.4 1613.4V1667.7M106.3 1613.4V1667.7M107.4 1613.4V1667.7M108.1 1613.4V1667.7M108.9 1613.4V1667.7M109.1 1613.4V1667.7M110.6 1613.4V1667.7M113.2 1613.4V1667.7M118.3 1613.4V1667.7M119.4 1613.4V1667.7M121.6 1613.4V1667.7M122.2 1613.4V1667.7M125.7 1613.4V1667.7M128.6 1613.4V1667.7M129.3 1613.4V1667.7M129.4 1613.4V1667.7M130.3 1613.4V1667.7M131.5 1613.4V1667.7M133.8 1613.4V1667.7M134.9 1613.4V1667.7M134.9 1613.4V1667.7M137.6 1613.4V1667.7M137.7 1613.4V1667.7M140.3 1613.4V1667.7M140.6 1613.4V1667.7M141.3 1613.4V1667.7M143.9 1613.4V1667.7M144.2 1613.4V1667.7M144.5 1613.4V1667.7M145.7 1613.4V1667.7M148 1613.4V1667.7M151.2 1613.4V1667.7M153.3 1613.4V1667.7M158.6 1613.4V1667.7M159.9 1613.4V1667.7M165.5 1613.4V1667.7M165.7 1613.4V1667.7M166.2 1613.4V1667.7M167.7 1613.4V1667.7M168.3 1613.4V1667.7M170.9 1613.4V1667.7M173 1613.4V1667.7M174.5 1613.4V1667.7M178.4 1613.4V1667.7M180.1 1613.4V1667.7M180.9 1613.4V1667.7M181.9 1613.4V1667.7M185.9 1613.4V1667.7M191 1613.4V1667.7M191.6 1613.4V1667.7M195.9 1613.4V1667.7M203.9 1613.4V1667.7M205.7 1613.4V1667.7M207.7 1613.4V1667.7M208.3 1613.4V1667.7M210.2 1613.4V1667.7M211.9 1613.4V1667.7M214.2 1613.4V1667.7M214.3 1613.4V1667.7M223.2 1613.4V1667.7M225.1 1613.4V1667.7M226.4 1613.4V1667.7M230.7 1613.4V1667.7M233 1613.4V1667.7M234.9 1613.4V1667.7M238.1 1613.4V1667.7M238.3 1613.4V1667.7M240.4 1613.4V1667.7M241.9 1613.4V1667.7M250.6 1613.4V1667.7M257.7 1613.4V1667.7M258.5 1613.4V1667.7M260.3 1613.4V1667.7M260.7 1613.4V1667.7M262.2 1613.4V1667.7M266.9 1613.4V1667.7M273.3 1613.4V1667.7M275 1613.4V1667.7M276.1 1613.4V1667.7M276.7 1613.4V1667.7M279.3 1613.4V1667.7M286.5 1613.4V1667.7M286.9 1613.4V1667.7M291 1613.4V1667.7M291.1 1613.4V1667.7M291.7 1613.4V1667.7M292.4 1613.4V1667.7M295.6 1613.4V1667.7M296.7 1613.4V1667.7M297.9 1613.4V1667.7M300.6 1613.4V1667.7M300.9 1613.4V1667.7M304.5 1613.4V1667.7M304.9 1613.4V1667.7M306.8 1613.4V1667.7M307.6 1613.4V1667.7M308.2 1613.4V1667.7M310.3 1613.4V1667.7M311.9 1613.4V1667.7M313.2 1613.4V1667.7M314.7 1613.4V1667.7M316.7 1613.4V1667.7M317.2 1613.4V1667.7M317.9 1613.4V1667.7M320.6 1613.4V1667.7M323.4 1613.4V1667.7M325.5 1613.4V1667.7M330.8 1613.4V1667.7M333.4 1613.4V1667.7M338.7 1613.4V1667.7M339.5 1613.4V1667.7M343.2 1613.4V1667.7M347.8 1613.4V1667.7M354.2 1613.4V1667.7M355.2 1613.4V1667.7M356.3 1613.4V1667.7M363.3 1613.4V1667.7M364 1613.4V1667.7M381.7 1613.4V1667.7M387.7 1613.4V1667.7M388.1 1613.4V1667.7M388.9 1613.4V1667.7M392.5 1613.4V1667.7M393.3 1613.4V1667.7M393.6 1613.4V1667.7M398.5 1613.4V1667.7M400 1613.4V1667.7M404.3 1613.4V1667.7M404.7 1613.4V1667.7M406.1 1613.4V1667.7M409.3 1613.4V1667.7M409.3 1613.4V1667.7M410 1613.4V1667.7M413.1 1613.4V1667.7M419.8 1613.4V1667.7M429.3 1613.4V1667.7M429.7 1613.4V1667.7M431.6 1613.4V1667.7M435.5 1613.4V1667.7M437.5 1613.4V1667.7M440.6 1613.4V1667.7M441.2 1613.4V1667.7M441.4 1613.4V1667.7M441.7 1613.4V1667.7M441.8 1613.4V1667.7M444.1 1613.4V1667.7M446.1 1613.4V1667.7M448.4 1613.4V1667.7M448.8 1613.4V1667.7M449.4 1613.4V1667.7M450 1613.4V1667.7M455.1 1613.4V1667.7M467.8 1613.4V1667.7M475.1 1613.4V1667.7M475.3 1613.4V1667.7M475.5 1613.4V1667.7M483.9 1613.4V1667.7M484.4 1613.4V1667.7M485.7 1613.4V1667.7M486.1 1613.4V1667.7M486.7 1613.4V1667.7M487.3 1613.4V1667.7M487.8 1613.4V1667.7M488.7 1613.4V1667.7M488.7 1613.4V1667.7M489.8 1613.4V1667.7M491.4 1613.4V1667.7M491.6 1613.4V1667.7M492.2 1613.4V1667.7" stroke="#000" stroke-width="1.15"/>
<rect x="81.3" y="1613.4" width="411.7" height="54.3" fill="none" stroke="#000" stroke-width="2"/>
<linearGradient id="posneg" x1="0" y1="0" x2="1" y2="0"><stop offset="0" stop-color="#FFBCBC"/><stop offset="0.08" stop-color="#FFD8D8"/><stop offset="0.3" stop-color="#FFEDEB"/><stop offset="0.5" stop-color="#FFF9F7"/><stop offset="0.72" stop-color="#FAFAFF"/><stop offset="0.92" stop-color="#DEDEFC"/><stop offset="1" stop-color="#9C9CEE"/></linearGradient>
<rect x="81.3" y="1667.7" width="411.7" height="21.6" fill="url(#posneg)"/>
<text x="84.8" y="1684.4" font-size="17.5" textLength="69.2" lengthAdjust="spacingAndGlyphs">Positive</text>
<text x="291.5" y="1684.4" font-size="17.5" text-anchor="middle">KO</text>
<text x="492" y="1684.4" font-size="17.5" text-anchor="end" textLength="79" lengthAdjust="spacingAndGlyphs">Negative</text>
<path d="M81.3 1692.4L493 1692.4" stroke="#aaa" stroke-width="0.9" stroke-dasharray="8 16"/>
<path d="M77.3 1692.4L81.3 1692.4" stroke="#333" stroke-width="1"/>
<text x="72" y="1699.6" font-size="20.5" text-anchor="end" textLength="26.3" lengthAdjust="spacingAndGlyphs">1.0</text>
<path d="M81.3 1732.8L493 1732.8" stroke="#aaa" stroke-width="0.9" stroke-dasharray="8 16"/>
<path d="M77.3 1732.8L81.3 1732.8" stroke="#333" stroke-width="1"/>
<text x="72" y="1740" font-size="20.5" text-anchor="end" textLength="26.3" lengthAdjust="spacingAndGlyphs">0.5</text>
<path d="M81.3 1773.2L493 1773.2" stroke="#aaa" stroke-width="0.9" stroke-dasharray="8 16"/>
<path d="M77.3 1773.2L81.3 1773.2" stroke="#333" stroke-width="1"/>
<text x="72" y="1780.4" font-size="20.5" text-anchor="end" textLength="26.3" lengthAdjust="spacingAndGlyphs">0.0</text>
<path d="M81.3 1816.1L493 1816.1" stroke="#aaa" stroke-width="0.9" stroke-dasharray="8 16"/>
<path d="M77.3 1813.6L81.3 1813.6" stroke="#333" stroke-width="1"/>
<text x="72" y="1820.8" font-size="20.5" text-anchor="end" textLength="31.2" lengthAdjust="spacingAndGlyphs">-0.5</text>
<path d="M77.3 1854L81.3 1854" stroke="#333" stroke-width="1"/>
<text x="72" y="1861.2" font-size="20.5" text-anchor="end" textLength="31.2" lengthAdjust="spacingAndGlyphs">-1.0</text>
<path d="M81.3 1773.2L81.3 1678.3L83.4 1740.9L85.4 1754.9L87.5 1759.2L89.5 1761.4L91.6 1762.8L93.7 1763.9L95.7 1764.8L97.8 1765.5L99.8 1766L101.9 1766.4L103.9 1766.8L106 1767.1L108.1 1767.3L110.1 1767.5L112.2 1767.7L114.2 1767.9L116.3 1768L118.4 1768.1L120.4 1768.2L122.5 1768.3L124.5 1768.4L126.6 1768.5L128.6 1768.5L130.7 1768.6L132.8 1768.7L134.8 1768.8L136.9 1768.8L138.9 1768.9L141 1769L143.1 1769L145.1 1769.1L147.2 1769.2L149.2 1769.2L151.3 1769.3L153.3 1769.3L155.4 1769.4L157.5 1769.5L159.5 1769.5L161.6 1769.6L163.6 1769.7L165.7 1769.7L167.8 1769.8L169.8 1769.9L171.9 1769.9L173.9 1770L176 1770L178 1770.1L180.1 1770.2L182.2 1770.2L184.2 1770.3L186.3 1770.4L188.3 1770.4L190.4 1770.5L192.5 1770.5L194.5 1770.6L196.6 1770.7L198.6 1770.7L200.7 1770.8L202.8 1770.9L204.8 1770.9L206.9 1771L208.9 1771.1L211 1771.1L213 1771.2L215.1 1771.2L217.2 1771.3L219.2 1771.4L221.3 1771.4L223.3 1771.5L225.4 1771.6L227.5 1771.6L229.5 1771.7L231.6 1771.7L233.6 1771.8L235.7 1771.9L237.7 1771.9L239.8 1772L241.9 1772.1L243.9 1772.1L246 1772.2L248 1772.3L250.1 1772.3L252.2 1772.4L254.2 1772.4L256.3 1772.5L258.3 1772.6L260.4 1772.6L262.4 1772.7L264.5 1772.8L266.6 1772.8L268.6 1772.9L270.7 1772.9L272.7 1773L274.8 1773.1L276.9 1773.1L278.9 1773.2L281 1773.3L283 1773.3L285.1 1773.4L287.1 1773.4L289.2 1773.5L291.3 1773.5L293.3 1773.6L295.4 1773.7L297.4 1773.7L299.5 1773.8L301.6 1773.8L303.6 1773.9L305.7 1774L307.7 1774L309.8 1774.1L311.9 1774.1L313.9 1774.2L316 1774.2L318 1774.3L320.1 1774.4L322.1 1774.4L324.2 1774.5L326.3 1774.5L328.3 1774.6L330.4 1774.7L332.4 1774.7L334.5 1774.8L336.6 1774.8L338.6 1774.9L340.7 1774.9L342.7 1775L344.8 1775.1L346.8 1775.1L348.9 1775.2L351 1775.2L353 1775.3L355.1 1775.4L357.1 1775.4L359.2 1775.5L361.3 1775.5L363.3 1775.6L365.4 1775.6L367.4 1775.7L369.5 1775.8L371.5 1775.8L373.6 1775.9L375.7 1775.9L377.7 1776L379.8 1776.1L381.8 1776.1L383.9 1776.2L386 1776.2L388 1776.3L390.1 1776.3L392.1 1776.4L394.2 1776.5L396.3 1776.5L398.3 1776.6L400.4 1776.6L402.4 1776.7L404.5 1776.8L406.5 1776.8L408.6 1776.9L410.7 1776.9L412.7 1777L414.8 1777.1L416.8 1777.1L418.9 1777.2L421 1777.3L423 1777.3L425.1 1777.4L427.1 1777.4L429.2 1777.5L431.2 1777.6L433.3 1777.7L435.4 1777.7L437.4 1777.8L439.5 1777.9L441.5 1778L443.6 1778.1L445.7 1778.1L447.7 1778.2L449.8 1778.4L451.8 1778.5L453.9 1778.6L455.9 1778.7L458 1778.9L460.1 1779.1L462.1 1779.2L464.2 1779.5L466.2 1779.7L468.3 1780L470.4 1780.3L472.4 1780.7L474.5 1781.1L476.5 1781.6L478.6 1782.1L480.6 1782.8L482.7 1783.5L484.8 1784.5L486.8 1785.9L488.9 1789L490.9 1800.3L493 1854.4L493 1773.2Z" fill="#006400"/>
<rect x="81.3" y="1689.3" width="411.7" height="170.1" fill="none" stroke="#555" stroke-width="1"/>
<path d="M81.3 1859.4L493 1859.4" stroke="#555" stroke-width="1.5"/>
<path d="M82.1 1859.4L82.1 1863.4" stroke="#333" stroke-width="1"/>
<text x="82.9" y="1881.6" font-size="20.5" text-anchor="middle">0</text>
<path d="M137.2 1859.4L137.2 1863.4" stroke="#333" stroke-width="1"/>
<text x="139.9" y="1881.6" font-size="20.5" text-anchor="middle">2k</text>
<path d="M192.3 1859.4L192.3 1863.4" stroke="#333" stroke-width="1"/>
<text x="195" y="1881.6" font-size="20.5" text-anchor="middle">4k</text>
<path d="M247.4 1859.4L247.4 1863.4" stroke="#333" stroke-width="1"/>
<text x="250.1" y="1881.6" font-size="20.5" text-anchor="middle">6k</text>
<path d="M302.5 1859.4L302.5 1863.4" stroke="#333" stroke-width="1"/>
<text x="305.2" y="1881.6" font-size="20.5" text-anchor="middle">8k</text>
<path d="M357.6 1859.4L357.6 1863.4" stroke="#333" stroke-width="1"/>
<text x="360.3" y="1881.6" font-size="20.5" text-anchor="middle">10k</text>
<path d="M412.7 1859.4L412.7 1863.4" stroke="#333" stroke-width="1"/>
<text x="415.4" y="1881.6" font-size="20.5" text-anchor="middle">12k</text>
<path d="M467.8 1859.4L467.8 1863.4" stroke="#333" stroke-width="1"/>
<text x="472.8" y="1881.6" font-size="20.5" text-anchor="middle">14k</text>
<text x="290.7" y="1910" font-size="23" text-anchor="middle" textLength="286" lengthAdjust="spacingAndGlyphs">Rank in ordered gene list</text>
<text font-size="26" textLength="249.5" lengthAdjust="spacingAndGlyphs" transform="translate(32.8 1655) rotate(-90)">Enrichment Score (ES)</text>
<text font-size="26" textLength="148" lengthAdjust="spacingAndGlyphs" transform="translate(32.8 1840.5) rotate(-90)">Signal2Noise</text>
<text x="528" y="1362" font-size="29" font-weight="bold">i</text>
<text x="1267" y="1362" font-size="29" font-weight="bold">j</text>
<text x="937.5" y="1345.2" font-size="31.4" text-anchor="middle" font-style="italic">Reg3b</text>
<text x="1613" y="1345.2" font-size="31.4" text-anchor="middle" font-style="italic">Reg3g</text>
<marker id="m0" markerUnits="userSpaceOnUse" markerWidth="6" markerHeight="6" refX="3" refY="3"><circle cx="3" cy="3" r="2.75" fill="#0000b3"/></marker><marker id="m1" markerUnits="userSpaceOnUse" markerWidth="6" markerHeight="6" refX="3" refY="3"><circle cx="3" cy="3" r="2.75" fill="#0000fc"/></marker><marker id="m2" markerUnits="userSpaceOnUse" markerWidth="6" markerHeight="6" refX="3" refY="3"><circle cx="3" cy="3" r="2.75" fill="#0046ff"/></marker><marker id="m3" markerUnits="userSpaceOnUse" markerWidth="6" markerHeight="6" refX="3" refY="3"><circle cx="3" cy="3" r="2.75" fill="#008fff"/></marker><marker id="m4" markerUnits="userSpaceOnUse" markerWidth="6" markerHeight="6" refX="3" refY="3"><circle cx="3" cy="3" r="2.75" fill="#00d8ff"/></marker><marker id="m5" markerUnits="userSpaceOnUse" markerWidth="6" markerHeight="6" refX="3" refY="3"><circle cx="3" cy="3" r="2.75" fill="#1effe1"/></marker><marker id="m6" markerUnits="userSpaceOnUse" markerWidth="6" markerHeight="6" refX="3" refY="3"><circle cx="3" cy="3" r="2.75" fill="#5fffa0"/></marker><marker id="m7" markerUnits="userSpaceOnUse" markerWidth="6" markerHeight="6" refX="3" refY="3"><circle cx="3" cy="3" r="2.75" fill="#a6ff5a"/></marker><marker id="m8" markerUnits="userSpaceOnUse" markerWidth="6" markerHeight="6" refX="3" refY="3"><circle cx="3" cy="3" r="2.75" fill="#f1ff0e"/></marker><marker id="m9" markerUnits="userSpaceOnUse" markerWidth="6" markerHeight="6" refX="3" refY="3"><circle cx="3" cy="3" r="2.75" fill="#ffc800"/></marker><marker id="m10" markerUnits="userSpaceOnUse" markerWidth="6" markerHeight="6" refX="3" refY="3"><circle cx="3" cy="3" r="2.75" fill="#ff8500"/></marker><marker id="m11" markerUnits="userSpaceOnUse" markerWidth="6" markerHeight="6" refX="3" refY="3"><circle cx="3" cy="3" r="2.75" fill="#ff4200"/></marker><marker id="m12" markerUnits="userSpaceOnUse" markerWidth="6" markerHeight="6" refX="3" refY="3"><circle cx="3" cy="3" r="2.75" fill="#e41700"/></marker><marker id="m13" markerUnits="userSpaceOnUse" markerWidth="6" markerHeight="6" refX="3" refY="3"><circle cx="3" cy="3" r="2.75" fill="#a90800"/></marker>
<g transform="scale(.5)" fill="none"><path d="M1571 2796l-53 251 2 0 25-6 39 3 2-1 73-2 3 5-22 11-102-2-35 11 46 0 34-2 49-4 18 6 32 1-63 11-19-6-12 7-4 0-8-4-6-5-60 2 64 13 46 0 9-2 45 1 8-1-8 11-42 1-90 14-81 8 31 8 33 3 1-6 18 17-24-7-5 5-11-3-33 3-5 8 11-2 9-1 0 4 19-5 7-1 8 5 8-5 12 6 10-6 2 15-1 4-5-8-24 0-9 5-8-6-6 6-5-1-22-2-29 4 43 5 28 4 6 0 4-2 12 5-8 6-4-4-2-1-2 1-4 5-26 1" marker-start="url(#m0)" marker-mid="url(#m0)" marker-end="url(#m0)"/><path d="M1581 2770l-26 19 8 4-44-1-4 7 44 6 0-4 4-1-23 14-84 0 21 7 9-1 15 2 70-1-95 14 25 13 61-1 235 12-248-3-33-3-32 10 7 1-8 18 11-1 31 9-14 4 25 13 81-2 160-2-171 14-110 8 45 0-17 6-9 4-5 1-78-2-64-3-11 18 143-2 21-4 24 3-163 4 151 21-147 1-50 12 211-4-22 19-2-9 15 13 25 0 184 12-410 9 172-4 28 4 7 2 90 9-71-2-2-1-10 2-28 5-3-1-21-1 3 8 6 2 1-6 10 7 1 0 2-5 1-2 8-1 2 3 38 4 16 2 15-7 37 2 77 5-8 1-87 8-36-4-15 3-10-4-6 1-2 0-12-2-15 2-6 2-14 11 7-1 17 2 17-3 14 1 7-6 2 1 5-1 4 8 2-1 3 1 11 0 64-2 7-2 13 2-101 7-4-3-53 9-13 0-1-9-3 0-6 7-155 0 167 3 1 5 15 2 5-7 3 8 16-7 23 0 3 2 13-2 84 15-48-3-40-3-15 4-2-4-13 3-1-1 0 3-7 2 0 1-3-2-1-3-3 0-9 0-2 2-19-1-2 3-5 0 1 8 4 4 3-2 12-2 7 3 41-7 5 16-53 2-11-4-2-4-4 8-10-7-31 1-1 4-1-6-3 3-1 5-1-3-7 5 4-1 11 9 11 0 18-3 0 0 1 3 16-8 11 1 11 4 2-5 4 8 8-8 2 0 11 4 4 1 5-3-19 16-22-9-5 7-3 0-8-2-1 2-3 1-2-7-11 3-4 1-2 0-2 2-2 2-2-4-3 3 0-7-6 1-3 5-2-7-3 4-6-3-5 6-5 1-1-1-8-5 13 11 3 5 5-3 12 3 2 0 9-2 9-3 11 4 1-3 2-3 6 8 13-2 0-6 7 7 3-6 8 2 2-3 9 4 2 1 2-3-1 11-4-4-7 2-5 3-7-5-5 1-4 2-2-1 0 0-4 4-11 0-1-2-9 4-1-6 0 4-7 0-9 0-1 3-2-4-17 0 0-2-1 6-8-4-129 1 130 6 4-1 9 6 2-1 17 3 4 0 3-4 6-1 1-1 29-1 7 2 5 4 14-8-26 12-6-2-32 4-8-1-7-2-7 4-2-5-1 4-1 0-5-3-10 1-2 2-136 4 177 2 5 2-32 127 31 2" marker-start="url(#m1)" marker-mid="url(#m1)" marker-end="url(#m1)"/><path d="M1582 2770l-72 15 23-3 10 5 2-2 2-1 2-3 1 8 3-2 24-4 100 16-106-9-20 5-4 2-1-6 0 1-2 0-20 3-3 2-1-3-19 1-2 0-19-1-19 0 16 15 3-3 2 2 1-6 9 1 0-3 35 6 18 3 27-9 92 9-94 1-19 9-13-8-10 3-14 2-11-2 0-3-13 8-5-3-6-4-1-2-1 9-15 0-5-1 2 3 2 7 1-3 5 2 29-7 12 9 3-8 1 3 4 1 6 0 1 1 7-6 7 2 17 4 12 0 4 2 78-4-14 11-79 2-30-1-10 0-1-4 0 1-9 6-3 0-11-6-3 6-1-2-23 9 3 1 13-3 1 2 0-3 2 2 4 4 5-1 19-6 17 6 1-7 0 5 11-1 9-4 4 5 75-4 175 8-247 8-5-8-2 4-8-3-3 5-3-4-9 4-2 0 0-2-6-3 0-1-2 4-7-3-15 5-16 5 14 4 1 4 2-1 9-8 1 4 2 5 6-7 20 1 2 0 15-1 113 0 7 5 109 0 9 8-121-5-115 4-1-1-10 4-8 0-5-5-2 6-8-7-7 3-6-4-16 13 32-2 5 5 3-4 49 9-54 5-23-2 0 4-2-2-5-4-4 16 2-8 30 5 6-1 1-1 91 0 0 2 168 5-197 2-53-2-1 0-12 5-102-3-35 7-12 6 28-1 45 3 50-4 10 3 8-5 1 8 7-5 13 5 62-7 227-1-233 13-87 5-7-3-1 1-9-6-2 2-1 6-7-3-10-3-22 4-12-4-12-3-31 5-29 0-5-2-7 14 6-7 14 0 24 9 10-4 23-4 3 6 10-1 10-4 60 5 2-1 22-5 5 7 7-4 142 2 98-2 25 4-163 6-107-2-119-1-22 8-1-6-1 5-15-5-3 0-15-3 17 19 28-5 111 3 3-3 151 0 57 0 12-3 37 1-241 9-9 4-9 1-9 2-120-1-2-1-8 0 0 1-14-6-32 18 19-3 3-1 3 3 11-3 129 2 8 2 12-9 30 5 210 12-23-2-16 3-53-6-141 3-157 9 159 4 96-8 42 4 88 13-118 2-87-9-14 9-10-4-2-2-162 6-10-2 154 8 24-4 101-1 113 14-19-3-123 7-6-3-34 3-14-5-6-1-6 4 0-1-13 3-4-3-4 0-4 3-1 0-166-6-2 7-3 0-15-1 172 7 3-4 6 6 19-1 17-5 0 0 1-1 8 9 3-7 0-1 21 1 2 4 1-6 22 0 57 3 78 0-41 9-1 3-30-2-23 3-5-4-49 5-12 2-4-3-19-1-2 2-8-7-3 4-24 0 0-4-2 7-1-3-2 4-1-6-14-2-162 14 160 5 11 0 5-4 6 2 23-2 7-1 0 2 12 3 23-6 20 6 36-1 66-5-25 7-64 7-25-6-17 5-3-6-3 4-3 4-6-7-2 3-5 0-5 5-11-9-3 2-18 0-7 5-173 7 163 0 1-4 1 5 5 2 5-1 3 3 9-2 12-6 3 1 14 0 4-2 2 8 7 1 19-1 6 0 12-2 6-6 31 7 2-3 13 13-37-5-41 2-7-3-6-1-20 9-1-7-8 4-6-2-7 1-187 3-4 9 3-4 6 5 171-3 1 2 2 2 1-3 22 2 3-1 21-2 6 4 2-5-12 7-3 4-26-5-2 2-2 0-1 3-3 4-4-4-4-2-39 3-3 1-3-7-4 5-1 2-140-6-2 14 4-2 5 5 6-4 1-1 114-2 5 2 8 4 6-5 0 0 14 3 3-1 1 0 3 0 1-2 9 2 11-1 9-2 3 4 2 2 5 1 8-4 1-2 2 7 5 0 1-1 1-6 3 2 0-1 1-2 14-1 1 6-5 8-7-2-2-2-2 8-1-8-1 1-1 3-1-4-2 1-4 0-10 3-6-1-4-1-3-2-4 9-2-5-7-4-13 7-6-1-16-2-3-3 0 0-17 0-115 5-2-2-11 1-2 5 16 6 119 1 6 0 6-7 10 9 5-6 8 4 1-7 5 8 10-4 18-4 1 2 1 7 10-8 4 1 2 6 3-5 3 5 4 0 3-1 6 0-2 4-3 3-15-2-37 5-2-6-6 0-3 4-3 4-28 0-13-4-4-3-114 2-13 12 17 3 7-9 108 7 6 0 5-2 2 3 9-2 3-5 1 7 3-3 2 2 10-7 3 0 44 7 2 0 6-7 2 13-15 0-3 1-4 0-4-3 0 6-1-6-11 1-7 6-10-3-3-5-5 0-1 0-2 2-3 0-11 0-8 2 0-3-140 2-6 3 5 8 206-3-208 11 319 9-142 97-9 0-18 7 3 1 36 4-16 2-26-2" marker-start="url(#m2)" marker-mid="url(#m2)" marker-end="url(#m2)"/><path d="M1583 2772l-9-2-18 7-5-4-24 16 7-6 4 4 5-1 6-2 9-1 0 0 20 2-12 13-1-7 0 4-2-2-8-1-22-1-2 1-14 2-1-2-2 5-9-6-2 7-1-6-8 5-20-3-16 14 18-3 17-4 1 0 0 0 21 4 3-4 8 3 14-3 6 6 9-7 15 2-5 14-8-6-1 8-3-1-3-1-16 2-2 0-3-5-3-2-1-1-17 9-10-9-1 3-11 1-8 2-7-5-11 1 15 8 9 4 13 0 20-4 12 7 21-5 83 8-64 6-10-5-8 0-18 3-10-1-8 2-17-3-1 5-31-7-2 11 15 1 1 3 13-2 3 5 5-1 1 2 2-9 12 2 1-2 12 1 7 8 12-4 2-4 5 8 2-4 67 1 173 6-241 5-8-5-5-1-7 0-2 2-4-2-28 1-12 0-7 2 0-2-2 2-8 7 9 0 4 8 12-8 15-1 5 5 10-1 16 0 15-3 1 5 249-3 8 2 3 10-15 1-23 1-2-7-230 0-3 9-9-6-11 4-1-7-2 4-12-2 252 16 24 9-169-1-52-5-36-1-10 2-16 7-3-7-2 0-4 0-5 17 4-6 28 6 5-4 87 3 4-1 2-1 161-2 39-1-72 12-172-5-41 2-10 0-6 3-90 1-1 2-5 0-12-4-19 4-4 4 11-2 30 9 0-8 0 3 19-1 6-2 2 7 1 1 14-7 5-2 15 9 24-6 11 3 21-5 245 0 3 1 14 9-2-1-26 2-6 2-14-4-15 7-198 0-1-5-5 2-6-2-21 5-8 0-21-1-29 1-1-1-15-6-7 9-49-8-9 8-4 4 11-3 22 5 12-2 11-3 18 1 1 1 73-2 11 3 3-3 162 8 80-8 40 10-7 5-1 0-37 2-19 0-214-6-13 0-22 5-70-3-12 3-1-6-13 4-5-4-25 9-11-3-11-4-6 13 21 0 1-3 17 2 35 1 341 5-8 8-62 1-53-9-94 7-8-1-1 3-9 0-36-9-94 7-17 2-3-8-2 6 0-3-20-2-4 1-8 0 0 6-3-2 5 8 9 0 2 3 8-3 5 0 129-4 12 1 18 4 7 0 1 0 133 1 25-7 21 0-187 17-167 0-16-6-2 8-4-7-3 12 14-3 157 4 2-3 7 2 9 4 3-4 4-3 21 6 85-6 27 2 0-1 85 1-28 13-115-2-4 5-74-2-8-3-161-3-4 3-11 0-8 3 4 6 14-3 171 3 10 1 13 1 5-4 5 1 0-1 107 2 93 0-43 9-7 6-147 0-18-7-9 6-1 0-26-5-9 5-154-3-14 1-7-2 3 14 16-3 160 2 19-4 34-2 4 4 5 3 4-1 101 1 6 1 45 5-42 6-16-1-80-4-13-1-14 4-5-4-221 6-4 10 0-3 174-5 7 6 8-5 4 6 5-4 9 0 15-1 1 5 11-6 16 1 52 3 61 1 15-5-21 16-45 0-47-2-15-5-16 3-5-4-4 2-33 4-3 3-16-5 0-4-172 17 184-3 20 4 15-8 2 0 7 7 10-5 14-2 116 2-119 17-1-4-25-3-6 6-11 0-3-1-14-2-1-5-1 7 0-4-10 5-1-3-184 9 228-4 1 7 0-1 8-1 1-3 2 5 3 0 9 0-9 8-4 4-9-8-7 8-12 0-2-2-2-1-4 2-1 1-5-7-4-1-6 2-31 1-13 1-134 4-4-5-3 13 11-7 3 2 1 1 108 4 19-5 11 7 9-7 10 3 16-4 6 8 12-5 5 0 1 5 4 0 8-1 7-5 7 4 4 3-3 3-3 4-8-6-4 1-2-1-4 6-8-2-8-2-4 3-35 0-3-2-13-1-3 4-2 1-11 1-118 0-3-8-4 8-15 8 0-5 5 5 4 2 4-4 9-2 1 0 125 3 17-5 4-1 5 3 20-2 31 3 3-2 9-2 6 0 1 4 1 5 0-5-4 10-12-1-2 0-15 4-9-5-8 3-1-2-4-2-17 6-10-7-14 6-12-3-133 8 0 3 130-1 15 2 7 4 3-2 0 0 12-7 10 2 32-1 1 2 8-1-3 16-9-3-7-5-24 1-26 0-4 1-126 7-1-7-6-2-18 4-2 6 8 5 6-2 16-3 166 3-177 10-11-2-1 4 171 101-11 6 20 5 3-4-7 12-1 1" marker-start="url(#m3)" marker-mid="url(#m3)" marker-end="url(#m3)"/><path d="M1549 2776l-29 10 8 2 19 0 6 0 24 1 115 5-135 2-8-3 0-1-18 5-7-5-37 4-10 1-3-6-19 18 4-7 0 0 20 6 14-2 20-1 16 0 36-5 3 8 128-5-121 16-10 0-14-4-6 2-8-6-3 2-2 3-20 3-24 3 31 1 8 2 13 0 4-4 2 0 1 0 20 3-22 7-6 7-46 1-29 4 24 4 10-1 13-3 32 6 1-1 11-1 5-5 12 5 59-5 0 1 171 12-10-5-3 1-256 2-10-2-3 2-29-1-7 5 0 0-11-6 61 13 4 4 3-8 4 8 258 11-257-5-17-4-1 3-13 6-8-8-16 1-4 4 16 9 28 3 237-5 5-2 32 10-49 1-244 12 108-1 179 2 22 5-16 0-268 9-1-9-129 6-30 6 16 1 7 5 2-6 8 6 48 1 14 0 31-4 31 0 67-5 1 4 169 0 18 5 20 3-119 0-144-1-67 5-22 1-28-3-4 3-8-1-6 0-1-6-1 0-7 7-6-3-6 11 9 4 3-4 1-5 3 8 2-8 6 8 11-7 3 3 9-2 11-1 88 2 12 3 3 2 131 0 82-5 19-3 1 19-18-1-244-5-27 4-61 1-4-5-2-1-1 2-27-2-9 3-4-2-28 1-11 2 0-6-4 14 2 1 3 3 3-1 19 1 4 0 34-3 91-3 7 2 40-4 93 6 47 0 119-6-283 17-14-3-103 1-33 3-8-1-6-7-7 0-19 16 9-5 3 5 17-1 3-2 13 6 4-6 133-1 22 3 109 1 140-1-151 13-3-6-8 0-97 0-14-1-140 3-3 0-16 4-5-4-4 2-4 0-6 8 3-1 25-2 11 0 142 1 1 6 20-1 80-6 20 7 79-6 46 6-42 11-102-3-81 1-26-5-155 2-19 6 7 2 5-1 170 6 6 1 17-6 5-2 89 0 19 5 31 3 2 9 0-4-28-2-63 7-64-5-2-3-190 8-1 0 207 7 30 3 130-5 25 2 3 4-33 9-148-2-207-1-2 0-12-1-2 0 193 13 21 0 9-5 3 0 29 1 10 2 19-3 67 2 24 3 20-6-36 18-122-6-65 5 7 2 55 7 15-7 0 2 34-1 62 5-48 10-1 0-9-5-45 1-49 7 0-8-1-1-187 10 192 1 44 6-17 6-234 3 11 10 175-3 37 15-18-3-3-2-57 5-17 1-108 0-25 10 136-7 54 6 35 0-204 5-10 2-20 1 12 4 14 1 184 6-179 7-3-4-6 3-6 4-1 11 8 11-10-5 164 111 15 5-5 8" marker-start="url(#m4)" marker-mid="url(#m4)" marker-end="url(#m4)"/><path d="M1509 2789l179 6-131-2-10 0-12 6-49-1 0 1-25 5 55-4 55 10-77 3-24-2-1 4-17 4 6 2 40 4 52-5 10 1 229 11-252-2-5 4-14 3 8 12 260-4 1 3 8-1 8 2-5 9-18-2-285 3-10-1-12-6 5 14 32-2 4 3 22-3 233 4 4-3 2-3 16 1-258 13-25-2-5 8 8 1 21 4 266 1 9-5 9 0 3 9-16-2-5 9-18-5-158 13 128 2 33-1 25-8 5 6 3 1-16 5-401 4-13 7 35 1 346 1 11-3 32 6-24 4-11-1-15 2-231 5-96-4-67 15 330-3 83-5 23 15-34-6-65 6-51-5-6 8-253-4-28 2-17 0 50 9 107 0 132 0 145 6-80 5-19 0-285-6-7 3-53 7 178 5 163-3 77 3 7-1 16 2-24 3-15 7-6-2-21-2-22 1-5-1-20-3-6 0-41 4-81-2-21 4-1 3-4-3 126 12 26-7 12-1 9 9 14-9 31 8 41 6-24 2-15-3-28-2-11 8-20-1-7-1-42 0-270 1-18 4 199 5 77 1 51-3 39-3 37 17-16-3-16-5-1 6-35-2-63 3-16-7-16 2-1 5-27-1-201-4-2 4 238 11 27-7 6 7 52-2 41-4 1-2-2 19-11-9-12 3-102 4-248 4 176 1 186 4 16-3 2-2-73 17-56 0-28-7-36 17 69-4 31 3 36-1-23 7-100 3-27 7 5 5 63-4-3 10-30 19-27 6-199-5 5 13 202 11-212 8 176 11 31 3-187 16 143 111" marker-start="url(#m5)" marker-mid="url(#m5)" marker-end="url(#m5)"/><path d="M1487 2793l60 7 4 9 3 5-95 12 8-6 67 3 16-3 240 16-228 3-22-1-38-7-47 2 29 10 310 2 7-2 0 3 14 7-10 1-264 4-19-4 13 8 259 17-1-8 0 3-274-2 288 17 1-5 11 1 6 14-2-3-28-1-8 4-3-3-1 2-7-4-28 8 8-1 6 1 15 2 12 2 15-1 4 2 12 2 6-4-430 23 63-4 312-3 5 6 10-4 25 16-11-8-127 11 73 1 40 4 25 7-53 1-3 4-44-1-59-3-236-1-29 2 19 5 246 6 1-3 65-4 5 7 15 4-21 2-35 1-9-3-9 1-6 5-39-5-272 14 314-1 109 2 9-3-14 12-23-6-10 5-23-3-1-1-17 0-15 0-38 15 14 3 63-4 11-1 2 3 5-3 41 3-29 8-33 4-53-8-2 8-34 0-25 0-44-4-194-2-2 8 316 2 23 2 26 3 12-1 23-2-10 7-2-1-28 0-23 0-30 2-9-1-304-1 229 13 71-1 80 6-13 3-95 4-80 3 38 7 60-4 80-1-85 17-66 11 47-5 30-3 47 3-183 18 22 0-89 27 70 0 16-8-16 10-22 8 15 34-45-2" marker-start="url(#m6)" marker-mid="url(#m6)" marker-end="url(#m6)"/><path d="M1494 2804l-9 18 33 13-8 3-19 1 310 13-14 1-288 12 1-3 269 4 38 1-277 6-42-3 279 16 38-6 16 0 2 8-57 12 40 1 5 3 7 3-7 7-383 13 48-5 340-1-18 13-338 5-76-4-15 3 2 3 375 4 27 2 11 5-1 3-3-1-20-4-17 6-67 3 18 5 46-4-236 19 211 10 35-1 2 9-16 1-57 1-304 3 282 3 55 2 13-3 13 8-15 2-28 4-188-3 4 13 146-8 46 13-4 1-116 5 1 8 141 3-136 16 34-6 13 8 42-6 10 6 14 5-4-1-76 8 32 3 8 5 0 3-201 16 9 15 26 5-8 13" marker-start="url(#m7)" marker-mid="url(#m7)" marker-end="url(#m7)"/><path d="M1570 2775l-35 18-28-1-1 5-16 9 307 41-11 3-232 7-24 4 246-1 15 10-8 5-3 2-2 1-253 1 236 9 21-4 39 0-18 6-2 1-3 0-2 20-7 3-1 0-15 5-4-2-10 0-259 0 274 4-96 18-8 6 91 4 23-1 33 7-14-3-30 1-6 6-1-8-34 5-9 2-28 1-27-8 9 17 125-5-43 8-129 14 7-1 8-1 3-3 1 3 0 2 14-3 26-1 94 8 16-9-20 14-15 3-6 1-44-5-53 1-33 1-11 7 19 6 116 6-22-3-10 5-133 11 58-7 18 3 64 14-7 1-13-2-20 11 12-1 24 0 0 3 3-3-28 11-48 1 44 3 10 6 8-3-14 9-9 3-29 18-95 5-92 50" marker-start="url(#m8)" marker-mid="url(#m8)" marker-end="url(#m8)"/><path d="M1527 2779l-46 20-10 43 38 24 289 4-9 6-2 1-8 2 31 3-63 10 30 8 1 11 27 28 2 1-58 11-104 14 50 4 31 0 38-9 8 5 4 10-26 3-24-6-3 3-20 2-15-3-14 1-26 11 113-6 26 8-82 7-23-2-17 16 77-3 2 1 43-7-239 19-12-3 172 10 56-3-29 11-7 3-62 1 38 20 6 3" marker-start="url(#m9)" marker-mid="url(#m9)" marker-end="url(#m9)"/><path d="M1563 2802l-47 23 278 44 22 6-54 1-259 13 269-5 11-2-45 18 16 5 67 8-314 6 276 5 39 1-4 7-62 3-17 13 33 5-11 16 27-4-97 9-50 15 60-9 53 17-73-5-10 7 68 12-24 4-111 20 103 12" marker-start="url(#m10)" marker-mid="url(#m10)" marker-end="url(#m10)"/><path d="M1799 2892l-39 5-21 43-27 17-5-1-14 1 24 7 55 2 31-6 8 0-133 64 65 4-35 21" marker-start="url(#m11)" marker-mid="url(#m11)" marker-end="url(#m11)"/><path d="M1812 2927l-32 8" marker-start="url(#m12)" marker-mid="url(#m12)" marker-end="url(#m12)"/><path d="M1534 3028l43 8-6-3-46 5-12-3 18 14 73-5 6 4 59-3 6 2-21 7-26 0-31 0-16-1-80 8 107 1 5 3 48-1 15 2 5 2-41 7-41-5-9 3-60 11 16 3 102-2 12 4 3-6 10-2-58 14-80 6 14 7 12 3-10 1-76 5-8 1-9 3 23 1 5 0 28 5 7 2 18 9-9-6-62 4-10-5-11 5 5 4 2 7 14 0 58 0 21-2 4-1 9 12-22 0-39 1-26-1-19 0-10-1 30 6 68 2-33 12-8-4-1-1-10 0-3 9-7-1-7-1-1 1-12-8 43 16" marker-start="url(#m0)" marker-mid="url(#m0)" marker-end="url(#m0)"/><path d="M1474 2788l225 6-122 4-72-6-42 10 98 6-40 5-21 0-6 6-27 5 8-3 13 4 20-5 47 4-63 10-18 5 29 6 4 0 46-1-61 13 2 12 60-3-51 8-12-4 14 10 15 2 52 25 37 9-105 4 101 6-103 9-139 14 171-6-25 7-92 5-62 14 12-8 259 7 53 10-274-8-57 6 150 13 47-3 136-1 4 5-142 1-31 5-8 6 124 6 26 11-132 5 5 5 66 0 80-2 15 3-123 9-6-1-7-3-3-1-24 3-16 7 15 1 0-4 5 6 11-3 34-1 5 6 9-4 85 4-78 7-12-2-1-2-2 4-4-4-4 1 0 5-25-5-8 3-18 0-22 2-6 3 31 6 1-1 3 3 1-3 16-6 0 5 13 1 18 3 8-2 9-1 3-3 1-2 104 2-55 12-40 1-14-1-1-4-6 7-10-6-7 3-3 3-6-1-45 0-3 1-6 0-5 1 25 6 42 0 6-5 0 8 2-4 6 5 1-2 20 1 2-8 39 8 9-4 18 10-102 3-10-6-5-1-3 1-4-1-7 3-27 5 19 9 7 2 1 0 15-2 8-6 4-1 1 0 11 13-7 4-10-4 0 1-2 2-6 1-8-1-3-2-10-2-4 0-3 6-6-1-2-3-45 4-6-6-1-2-7 8-11-2 1 10 7-5 4 1 6-1 1 5 9-5 5 0 0 4 9 2 3-6 2 0 9 0 2 1 4 3 3-3 10 7 4-6 2-3 3 9 18 0 11-5 6-2-8 17-2-4-6 2-2 2-10-4-7 3-1-2-7-4-3 2-11 3 0 2-13-1-4-1-4-6-11 2-11 1-3 1-2 3-5 1-11-3 1 12 4 1 10 0 6-2 1-4 4 5 32-2 2 3 5-7 1 1 4 4 6 1 2-4 6-1 6 1 1 2 5 0 1-4 5-1 1 5 0 2 1-1 10 9-8-2 0 3-7-6-5 8-2 0-20-8-15-1-7 1-1-1-13 2-13 1-3 0-2-2-14 8-4-4-106-3 101 10 10 3 3 1 5-2 0 5 6-2 5-6 9 1 7-2 4 1 3 7 0-2 8-1 24-5 13 6 5 1 4-7 4 0 0 11-17 4-2-5-2 1-8 3-4 5-2-7-2-1-4 5-16-3-1 1-5 1-1-4-8 2-2 0-2-2-3 6-9-3-2 4-8 130" marker-start="url(#m1)" marker-mid="url(#m1)" marker-end="url(#m1)"/><path d="M1570 2768l-15 8-36 13 0-9 2 6 5 0 8-3 14 4 5-1 0-1 25-2 113 16-115-4-22-3-17 5-7 1-4-6-16 1-25-1-6 0-3 5-8 10 4 0 19 1 2-2 39-1 1 0 14-3 10 2 0 1 3-4 106 6 24-6 3 2 2-3-117 19-23-4-4-2-2-3-1 9-4-8-12 6-9-2-3 1-2 3-9-3-8 1-26 0-23 5 5 0 13 3 20-4 4 6 17-6 6 0 18-1 7 1 7 7 10-6 7 6-1 4-1 1-29-2-9 4-6-4-7 3-4 3-8-3-1 3-1-3 0-3-18 5-7 3-15-6 4 9 41-2 8 0 10 7 34 1 70-1 182 1-140 7-123 4-24-2-5 2-4-5 0 0-2 5-3-6-6-3-1 2-2 2-12-3-1 8 0-8-3 5-2-5-13 9 13 6 1-5 12-1 1 1 21 8 2-3 4 0 9 3 2-6 4 4 10-7 2 5 114-1 11-1 117-1 3 3 12 0 4-2-265 16-11-4-1 4-24-1-6 1-4-1-1 1 0-4-6-4-2 8-4-1-4-6 19 9 2 6 25-1 3-3 6-2 0 7 279-2-290 7-16 4-10 1-1-6 122 10-4 12-8-4-81 3-31-1-77 5-8-3-31 3-15 7 2 5 26 0 4-4 23-1 32 2 1 1 26 0 28-7 2 7 2-3 21-2 230 1-218 10-46 1-47 1-25-3-30 5-11-6-18 0 15 14 10 2 17-6 0 8 21-9 19 7 53-1 21 3 11-7 1 5 1-5 0 1 236 5 51-7-53 11-215 7-53-3-73 3-2-6-7 5-14-8-8 6 0 2-23 1-19-4-20 13 12 0 5-3 5-4 12 2 30 6 103-4 16 2 14-6 103 7 59-4 82-1 11 6-118 8-120-1 0-2-27-2-22 2-124 5-10-5-15-4-8 14 11 3 1-5 24 7 130-2 3-1 12-5 28 4 177 13-196-7-29 6-154-2-11-2 194 15 3-8 2 0 12 8 72-2-80 11-7-4-13 4-17 0-147 0-3-1-1-3-8 8 159 0 6 5 176-2-21 15-74-3-13 3-42-1-1-2-8-6-4 6-7 1-2 2-2-4-9 2-8 12 2-2 11-2 13 2 8-5 58 7 49-1 17-3 49 3 29-6-33 9-67 8-29-9-20 8-4-5-3 3-17-6-2 1-5-1-19 5-10-2-12 1-6 3-1 0-9-4-165 15 9-4 150 3 4-7 9 4 7-2 1 1 7-2 3 2 2 6 4-7 6 0 4 7 0-7 1 6 0 0 1-6 2 3 3-2 7 4 16-4 4 2 4-5 2 0 4 5 8-5 10 0 38 0 38 2-32 11-1 1-46-4-11 7-1-1-21-3-1 4-8-5-2 0-3 3-1-3-4 7-5-4-7-3-1-1-3 8-4-5-5 3-14-3-1 2-166 3 187 5 1-4 16 1 1-1 0 0 8 4 1 5 5-1 1-5 6 0 6 0 13 6 1-4 22 3 8-2 82 1-44 5-4-2-28 6-36-1-20 4-4-1-2-6-2-2-8 5-11 1-7-4-11-1-9 8-183 4 179-3 15 2 3 7 3-1 1 1 1-6 2 1 3 5 1-6 3 0 7 0 6-3 0 2 5 3 3-5 8 3 5-1-5 13-1-5-5 6-4-6-12 2-1 7-2-4-9 4-14-3 0-3-49 2-1-1-3 3-145 1 2 8 2-5 3 6 6 1 106-4 12 1 1 4 0-7 6 4 7 2 13-4 1 3 3-2 2-5 5 5 23-5 4 8 3-7 12 7 4-1 8-3 5 4 1 1 6-6 1-2 5 1 6 14-6-5-10 3-1 4-1 0 0-8-4 9-1-4-12 1-6-6-14 8-2-4-6-4-4 5-15 3-8-3-3-5-1 9 0-3-5-4-3-1-2 8-11-1-15-6-97 5-6 2-22 8 4 1 9-7 14 6 117 0 2-6 17 4 7-3 4 6 25-5 2 1 8 3 4-1 14-2 16-2 0-1 3 14-4-4-2 5-1-5-1-1-3 3-1 3-1-4-8 7-2-7-2-2-2 9-3-1 0 1-3-7-8 6-6 0-8-1-3 2-5-7-2 5-6 2-1-2-9-3-24-3-5 5-1-3-4 5-110-8-2 2 0 5-6-7-2 4-12-2 134 8 14 9 4-7 7 6 2-2 15-3 2 3 17-5 2 1 2 2 16 0 9 0 3 4 1-1 9-7-7 12-7 4-2 1-8-2-1-4-2-1-3 4-29-3-1 0-8 1-3-2-5 2-25-2 0 0-117 16 156-5 23 4-188 18 165 93-40 13 47-1 13 6-8-1-7 0-27-2-20 0" marker-start="url(#m2)" marker-mid="url(#m2)" marker-end="url(#m2)"/><path d="M1573 2774l-53 11 5 3 15-5 20 3 1-3 11 1 120 15-134 0-15-2-3 2-10-5-11-2-44 3-19 11 13 2 2 1 2-6 33 2 11-2 19 1 16-2 9 6 12-6 83 8-91 7-2-3-2-2-12 6-1-3-2-3-8 3-1 4-2-9-16 9-12-8 0 3-32 1-5 1 7 4 10 6 0 3 23-1 9-4 27 4 5-3 25-4-8 9-20 2 0-2-1 7-2-5-1 3-9-1-45-4-7 5-3-1-1 1-1 2-13 1-2 8 8-3 15 6 15-5 1 4 4-3 0-3 17 5 11 0 1-4 7-2 2 0 12 5 5 1 7-3 231 15-242-1-24-3-14-5-2 8-29-8-5 8-1 0-6-7-2 8-12 1 21 8 6-7 19 7 7-8 10 3 0-1 10-1 3 6 9-1 1 0 0 0 7-1 6-1 98-2 138 8-243 8-14-1-3-5-4 5-14 2-5-5-2-3-1 3-2 2-2 3-5 0-10-2-9 1-8-4 31 10 5 5 2-2 12-4 8 5 2 1 8-7 245 7 13-6 9 3-57 12-125-4-107-2-15 4-104 12 104-1 6-7 2 5 294-4 11 18-18-1-14 1-300 0-61-2-3 2-7-1-7 1-9-2-18 2 16 9 20-1 6-2 16-4 8 2 1 3 30-3 42 6 3-1 15 0 68-8 141 6 59 2 14-2-20 12-131 1-143-7-8 4-14 2-3-1-19-1-7 1-7 1 0-8-1 3-4-3-8 6-1 0-7 3-4-1-19-1-3 1-13-7-13 0-10 5-27 5 4 2 7 5 7-2 1-5 12 2 4 5 10-7 15 1 10 1 87-1 24 4 130-1 27 0 68 0 14 3-3 5-1 3-85 1-12-4-15 1-108-1-7 3 0 2-18-1-1-4-8-1-15 1-113-3-2 1-8-1-20 10 16 4 3 3 15-7 11 3 110-3 167 9 52-3 1-1 21 0 37-4-65 14-45-2-24-2-40 4-74-2-18 4-2-4-23 3-3 3-1-8-120 1-1 6-7 0-3-3-3 4-6-7 0 7-2-6-2-3-1 13 9 4 1-3 2 4 5-8 134 5 27 4 18 0 227 8-16 0-30-6-56-1-11 9-104-6-33 1-1-3-9 5-132-4-29 1-5-2-8 0 8 9 6 4 151-4 7 9 10-4 13 1 12 1 160 0 25-6-18 12-34-2-130 1-21 5 0-6-177 5-2-1-18-3-1 0 12 17 165-6 4-2 2 6 22-7 7 1 22 7 24-4 74 1 86 8-31-3-173 4-7 3-2 0-203-3-5-1 6 10 9 0 156 2 10 1 11 1 9 1 0-8 5 3 1-2 5 3 4-1 1 6 1-9 11 2 14-2 22 7 57 0 56 0 6 0-84 9-55 0-7-5-10 2-1 0-2-3-16 8-2-3-3 4-30-4-11 2-3 12 1-8 28 4 16-2 8 0 18 6 7-1 19-1 33-2 23-3 14 4 7-4 0-1 44 6-22 4-30-1-3 7-73-3-15 4-23-6-1 3 0-5-15 9-15-4-11 2-165 11 162-5 0-2 5 4 2 3 3-4 1-4 3 4 16 4 4-6 5 0 27 6 1-5 13-2 49 6 2 1 32-8 3 7 18 0-15 5-1 1-15-3-36 8-33-8-6 9-21-3-1-2-1 3 0-5-34-2 0 0-12 9-1-5-180-1-1 7 3 0 2 2 189 6 14-5 2 6 4-1 1-3 17 3 13-3-10 7-1-2-2 0-14 9-6-1-13-3-198 0-3-2-3 5 133 9 4-4 18 2 4-3 5 1 8 2 5 4 17-6 2 1 1 3 15 1 14 0-4 6-1 4-4-5-2-2-4 1-3 2-3-1-33 2-1-2-23-3-3 0-1 2-12 5-113 2-7-1 0-3-15 1 16 11 107 2 1-3 6-4 4-2 0 7 62-1 4-6 3 2 2 7 14-4 12 4 5 6-5 3-19 1-22-4-6-3 0 2-5 3-8 1-11-8-9 6-21-4-5-2-119 3-3 1 0-2-14 10 1 3 4 3 0-5 22 2 6-3 125 1 4-2 2 1 0 7 13-7 12 7 5-1 10-2 3-6 4 7 3-7 4 9 9-6 6 4-10 6-35 4-31-1-123-5-14 2 0 2-6-1-10-3 154 10 73-1 98 15-309 2 0-6 148 116 10-7 4 14-29-2" marker-start="url(#m3)" marker-mid="url(#m3)" marker-end="url(#m3)"/><path d="M1533 2778l-32 7 23 4 17-1 2-4 1-3 37 6-22 9-2 2-2 1-9-8-2 8-6-8-13 3-21 5-4-9-10 7-1 2-25 8 24-5 5-2 10 1 4 5 13 0 6 2 15-1 8 0 21-3 5 10-24-4-8 7-2 2-32-3-23-4-17-2-5 5-4 2-2-5-6 10 18 7 8-9 14 2 1 0 2 4 57 2 4 0 2-5 76 15-86 1-65-8-9 17 24-2 20 2 9-2 1-2 1-2 17 5 7-7 5 7 243 11-15-7-252 2-5 6-2-1-4-6-4 3-2-2-29 7 9 7 22-6 5 4 2-5 8 0 1 0 137 3 157 9-32 2-244-3-12 4-7 1-16 3-12 0-20-1 11 8 21 1 1-1 245-2-175 15-91-8 16 12 70 4 168-3 47 5-185 4-5 3-100-2-85-2-34 4-16 11 18 1 33-3 1-1 7 5 5-5 25-4 2 8 6-7 7 4 3 1 6 3 37-1 2 0 8-6 255 12-105 1-85 1-51-1-1 3-5-6-2 2-14 5-23-3-7-6-7 3-1 0-23 2-20 2-4-1-1 1-7-4-15-2-14 7-6-2-16-1-12 2-7 0-1-7 10 14 20 5 12-8 1 6 24-2 8-5 48 0 16 4 39 0 3-1 149-2 66-1 45 12-272 2-8 1-6-5-6 3-88 3-4-3-40 4-1-4-43 15 6-8 18 2 21 6 14-4 161-2 209 2 31 10-41 3-33-2-211 0-5-1-8 2-128 3-32 9 15-6 5 5 8-4 191 4 190-3 33 0-228 12-219-4 18 12 1 4 5-6 11 6 1-3 162 0 0-2 16-3 3 0 123 5 20 3 13-8 56 0-19 10-86 1-97 7-18 0-178-5-5 0-6 4 0-7-2 1-9 8-8-4 1 10 9-2 6 2 214-2 17 1 83-3 88 4-15 10-36-2-140 6-29-4-197-3 236 13 5-5 0 5 1-3 18 5 118-6 5 1-156 17-7-3-221-6 179 15 45-1 7-2 12 0 13 5 33-1 25 2 13 0 20-1 11 2 2-8-21 14-5 2-16-5-17 6-87 0-30-8-14 5-159-1-15-1 8 9 2 7 2 0 177-6 48 4 19 0 22 0 2-6 34 6 32-7-102 12-19 2-39 1-5 11 23 2 4-5 18 8-231 6-5 9 161 0 32 2 22-3 17-1 4-4-30 19-191-3-3-2-12 5 3 10 159-8 28 6 8 1 6-4 5 1-190 6-18-1-13 5 10 14 5-3 13-5 138 0 31 14-180-1-2 25 166 97-4 4 3 8" marker-start="url(#m4)" marker-mid="url(#m4)" marker-end="url(#m4)"/><path d="M1572 2778l-64 8 58-6 0 4 6 4 4-3-21 6-23 5-14-1-32 4-3 0-22 4 206 7-91 5-20 1-52-3-23 4-4 9 8 2 46 0 8 0 20-3-53 17 63 5 223-1-228 5-2 1-34 6-24 0-7-4-21 5 294 10 5-9 12 5 1-5 1 16-28 1-1 5 26-2 22 12-26-2-3 7-21-3-9-4-231 4-121 13 138 0 220 0 40 2 29-7-12 8-6 3-5 4-14-5-34 1-230 3-25 2-61-1-38 1-19 10 66-4 300 0 1-4 67 12-13-2-43 4-2 0-293 4-11-2-6-4-15 6-15-1-29 3 29 0 31 0 74 6 26 0 232 6-20 1-49 3-4 1-14 0-16-5-13 1-283-1-15-2-6 1-17 11 8 1 191 3 103 2 95-3 11-3 40 7-30 5-66 4-1-8-30 7-8-7-11 8-107-5-202 6 15 5 4 3 13-4 5 2 250 2 38 1 7-4 7-2 3 0 1 5 44 1 14-1 51 5-15 6-13-6-394-1-30 18 27-1 161-8 91 4 24 2 3 0 2-4 1 2 21-1 94 1 13-4-11 18-8 1-31-6-29 1-5 1-8-3-8 5-13 2-4-5-53 7 59-1 82 7 3-3 0 2-28 10-13-5-41 0-149-1-166 4 185 7 140 7 7-5 10-1 15 3 3 3 7 11-6-3-8-4-106 3-7 11 40-2 48 2 8 1 13-3 1 2 1 0 2 4-109 4-14 11 33-2 25 6 6-5-58 11-29 37-64 2-44 0-5 32 10 142 53-5" marker-start="url(#m5)" marker-mid="url(#m5)" marker-end="url(#m5)"/><path d="M1551 2787l22-6-42 17-36-7 26 12 40 16 230 13-5 4-280 2 23 8 274 7-1 1-269 1-16-5-29 13 2 1 0 2 44 3 0-4 254 3 8-3 21 3 4 8-26-3-6-1-260 4-12 3-1 3 18 3 232 1 2-2 41 5 15 4-25 5-35 1 0-2-244-5-17 1-6-3-13 15 269 4 6-6 1 0 20 6 3 0 7-5 32 12-3 0-7-1-7 3-3-5-19 6-303 0 11 10 262-8 13 0 1 3 20 0 35 5-2 8-31-7-23 8-5-6-363 15 346-5 14 7 47 2-54 0-40 8-18-2 75 7 32-1-30 8-23 2 0 2-40-1-26 4-157-7 195 17 32 1 37 2-22 8-35-4-64-4-58 14 3-3 8 1 9-3 5 1 87 8 0-9 23 9 38-6-29 15-11-8-119 0-52 17 36-3 72 4 50 8-17 1-28-6-78 3-3 2-25-3 5 8 19 1 67 5 26-3 16 2 8 6-9 5-139 0 2 5 10 5 21 0 97-2 1-2 14 10-6-1-43 1-18 5-123 11 72-4 12 2 44 2 19-8 6 2-142 20-24 22 34 13-25 1-70 10 41 8-18 4" marker-start="url(#m6)" marker-mid="url(#m6)" marker-end="url(#m6)"/><path d="M1558 2784l-62 21 290 32-294 0-21 5 318 16-14-1-9 10 50-4-5 14-11-5-308 8 25 8 279-2 4-1-13 13-20-2 28 10 16 6-25-2-2 2-38 8 52 12-8 3-10-5-73 8-261-8 296 13 37 2 1-3 13 4 13 7-46 5-5 1-10-9-67 18 7-1 9 2 57-5 23-3 31 3-54 11-11 1-65 2-311 11 337-7 59 3 25 3-11 11-6 0-9-8-412 14 283 1 143-1 2-3-18 14 0-2-90 0-7 2-325 1 349 6 27 10-187 7 21 2 170 2-116 15 107 9 11-7-81 12-29 0-80 6-9-1 79 8-37 47-11-2-48 30" marker-start="url(#m7)" marker-mid="url(#m7)" marker-end="url(#m7)"/><path d="M1536 2789l29-2 13-7-29 13-39 23 40 6 246 10-2 0-291 10 314 12-304-2-32 5-11 3 8 4 60 2 281-3 6 2-4 11-13-3-1 1-45 4-212-5-13 1-17 12 241-3 47 1-46 15 14 5 26-4 3 12-56 6 30 8 0 0 0-6 8 3 30-2 2 16-12-6-124 16 19-6 63 6 7-4-19 10-6-1-70 7-146 5 22 1 102 0 104-1 6 1 32 8-28 2-21 9 23-2 7 1 3 14-41-6-16 5-17 1-10-5-7 3-77 13 46-8 21 9 14-8 27 0 22 3 20 4-30 7-2 3-93-7-53 16 127-7 10 4 35 5-10 2-23 6-57-1 53 16-17 3-148 17 93 9 47-1-152 50-81 38 8-1 28 0" marker-start="url(#m8)" marker-mid="url(#m8)" marker-end="url(#m8)"/><path d="M1513 2781l24 12-6-1-23 49 33-1 255 5 24 44-58 1-22 15 15-5 54 3-9 10-15 4-21 1 1 7 28-5 3 1 26 16-301-5 169 12 1 0 44-4 18 6-56 11 41 8 58 5-30 1-49-1-1 6-37-5-18 11 38 2 7-4 49 19-26 7 10 3 21 7-123-1-31 12 99-4 37 4-24 24-188-1 159 12 1 7" marker-start="url(#m9)" marker-mid="url(#m9)" marker-end="url(#m9)"/><path d="M1499 2830l300 30 19 32-64 0-11 8 19 0 47 14-10-3-24 21-39 2 1 9 3 13-18-2-40 14 71 9-21-1-28 3 30 6 34-1 8 0-2 14-11 1-99 0 3 5 91 13-44-4-21 34 20 2-25 5-162 86" marker-start="url(#m10)" marker-mid="url(#m10)" marker-end="url(#m10)"/><path d="M1825 2873l-5 6-17-2-23-2 25 39-108 36 6 12 38 10-40 9 71 18-59 23-5 51" marker-start="url(#m11)" marker-mid="url(#m11)" marker-end="url(#m11)"/><path d="M1736 2967l-35 35" marker-start="url(#m12)" marker-mid="url(#m12)" marker-end="url(#m12)"/><path d="M1558 2825l256 65-214 30-65 43-23 66 83 17 86 12-1-6-17-2-16 9-48 0-53 1 34 3 60 5 29-4-19 6-22 4-18 4-63-8-19 5-20 13 96-2 22 0 0-5 11 2 35 10-21-2-26-1-2 2-6-2-66 2-4-2-22 27-72 10 8-1 7-3 79 9-9 6-14-5-13 3-9-1-9-4-21 0 5 11 22 4 36-5 14 6 8 7-60 3-16-2-1 3-2-5-3 6-3-6-21 9 1 4 6-3 4 3 20 0 8-2 23 5 18-9 1 1 1 18-2-8-23-1-61 1 47 121-6 10-18 8" marker-start="url(#m0)" marker-mid="url(#m0)" marker-end="url(#m0)"/><path d="M1499 2785l196 9-136-3-13 6-12-6-19 6 44 4 7 8 93-6-128 7-11 6-50 5 15 3 29 1 107 14-78-9-78 13 62 1-19 12-11-6 8 17 1-7 17 9 12 8-26 20-15 29 31 2 10 1-138 24 9 8 118 7 201 1-215 9-158-2-19-1 186 12 35-7 123 19-73-1-50-5-5 4-210 10 192-1 200 2 3 9-174 2-37 10 193 6-144 4-2-7-3 6-4-4-8 5-31-1-3 1-18-5-167-3 8 17 159-3 9 2 48-3 1 1 6 3 6-2 6-4 26 0 48 5 20 12-86-4-17-4-2-1-13 1-8 1 0 3-12-5-24 4 3 14 2 1 6 0 11-1 2-8 12 3 2 5 1 0 2-4 12 1 2 1 5 1 6-4 10 4 4 0 71-2 2 2 14 11-6 1-10-5-53 3-44 0-3-3-4 0-8 4-2-1-14 1-10-4-9 2-5 5 2 6 5-4 2 6 15-6 3 1 0-1 32 6 6-6 9 0 21 0 7 2 53 2 16-6-35 10-74 2-3 4-4-4-2 6-2-6-7 0-33 6-5-8-2 6-13-7 33 15 18 0 22-3 1 8-3 2-43 4-1-3-8 6 0-8-1 4-33 2-29 2-127 5 119-3 4 7 6-1 1-2 7 2 4-4 1-1 6 6 9-4 6 3 2 0 14 0 4 0 7-4 4 4 4 1 2 1 9-6 2-1 4 7 1-1 8 8-3 1-1-2-2-5-3 6-2-1-2-5-7 6-6 2-1 0-7 1-5 0-9-8-1 4-8 0-4-1-2 2-6 3-3-4-5-5-4 4 0-4-4 6-6 2 0 0-19 3 5 2 13 2 0 3 12 1 6-3 8 0 3 0 1-6 5 0 16 1 13 6 5-5 12 4 6-3 3-2 0 7 1-1 2-6 2 1 8 11-12 4-13 2-9-1-3-6-5-2-4 4-2 4-3 0-5-7-2 4 0 2-11-5-35 1-10 2-1 2-2 0-11-4 8 13 5-5 2 6 3-7 8 7 0-4 4 5 14-2 0-3 3 5 7-5 3 3 6-1 0-5 4 3 3 5 22 1 9-1 4 1 6-8 1 7 5-3-2 5-4 0-10 9-1-3-11-6-9 2-3 3-6 0-1 4-31-8-2 2-4 4-7 2-1-6 2 10 38-1 13 5-29 110-2 15-3 6" marker-start="url(#m1)" marker-mid="url(#m1)" marker-end="url(#m1)"/><path d="M1566 2773l-26 5-42 10 12-3 15-5 3 6 13 2 7-5 4 6 17-4 7 0-9 14-1-2 0 1-5 1-17-1-16-5-5 5-37-1-2-1-1 1-9 1-8 1-3-2-4 4 12 1 0 7 9-3 23-6 1 6 3-2 17 5 3-5 7 5 1-8 4-1 17 5 7-2 1 3 1 2 19-6 71 7 16-6-13 9-89-2-8 6-11-5-13 6-4-5-16 3-10 2-1 0 0-1-15 0-2-6-21 16 8-4 12 6 11-4 3-4 9 5 16-5 0 2 5 0 8-2 4 2 13 7 3-8 3 5 10-4 67 3-70 11-1-4-11 5 0-3-2 4-9-1-29-4-9-2-19 6-18 2-13-1 8 11 6-6 11-3 33 6 14 0 2-5 9 6 25-4-16 9-3-1-3 0 0 3-11 1-7 1-12-4-1 4-2 2-6-2-3-5-1 4-5 0-28 0 0 10 7-4 7 5 8-2 10 0 1-4 7 7 7 2 5-9 4 7 1 1 6 0 4-6 1 2 4 0 4 1 7-4 3 1 241 5-272 7-10-2-4 7 0-9-20 14 13-1 13 3 5 2 8-7 1-1 1 6 9-2 278 15-39 0-5 0-146 0-2-4-2-4-39 2-52-3-22 6-1-6-19 4 4 7 49 1 33-1 41-1 180 9 10-3 9-4 7 15-223 2-57-1-21-1-7-7-11 8-3-5-1-3-129 19 18-2 4-3 49 4 3-2 302-6 53 14-56 2-201-1-20-1-6 3-9-5-9 1-69 2-3-1-32-3-8 1-28 13 12 4 5-5 1 2 4 3 60-5 63 5 41-6 3 1 200 3 30 0 30-4-24 13-7 3-39-2-58 0-142-1-8-6-8 0 0 7-3-5-26 6-64-5-35 2-28 4-5 2 29 2 1 6 3-7 12 5 120 1 12-3 9-4 2 5 174 2 73-1-85 4-68 8-8-9-102 6-22-1-157 1-5 2-6-8 10 16 23-5 4-1 126 0 22 9 1-8 8 4 137-5 110 1-11 13-80 4-13-7-134 1-38 5-140 1-8 0-14-6 8 9 180 2 1 5 9-7 8 3 153 0 62 13-43 1-161-3-20 3-14-7-12 7-172 1-12-4 15 10 158-3 11 7 7-4 6-2 21 0 16 6 115-4 32 2 2 2-147 5-30 4 0-5-22 6-176-4 167 14 1 0 15-6 0-3 12 7 12-7 16 7 8-2 2-1 11 0 61 2 54-4-2 12-15 5-9-2-15 0-28-1-2 1-46 0-1-6-10 2-9 6-2-8-12 5-7 0-2-6-9 1-7 4-1 1-16-2-162 2-13 9 160-5 11 5 8-4 2 7 21-2 17-4 3 2 4 2 1 2 1-3 7 0 11-2 15 0 12 5 72-2-42 5-20 2-25 6-3-6-3 1-1-4-1 1-10 6-1 0-3-4-6 3-9 2-9 1-10-7-9 1-11 6-6-7 0 5-8 2-9-1-169 11 14 0 160-9 27 2 2 7 2-3 9 1 1 0 31-3 2 5 0-8 1 2 11 1 0 4 20-5 40 2 63-1-29 9-7 1-10 2-3-1-8-5-9 0-55 7-6-6-6 3-5 0-1 5-17-6-6 0-21 1-2 4 0-3-5 1-6-1-3 1-3-6-2 4-175 9 8-3 183 1 5 0 4-1 2 2 1 0 20 7 1-5 8 2 2-4 2 1 5-1-12 11-7 4-2-1-9 2-9-1-8 2-4-4-53 3-134-3-3 1 2 9 2-5 123 0 6 8 36 1 12-1 0-1 5-3 3-3 5-1 3 9 6-5 8 3 5 1 1-5 2-2 6 0 5 16-4 1 0-5-1 2-1 4-10-5-4 0 0 2-2 3-9 0-1-9-2 0-14 9-5-9-1 0-8 1-1 0-2 2-2-3-3 3 0 5 0-2-2-3-6 2 0 2-4-6-4 5-9-1-7-3-3 5-3 2-8-1-5-1-124-3 8 11 1 2 21-3 99 4 3 0 2-4 23-1 7 1 9-3 1 8 5-9 6 5 3 3 2-6 3 2 2 3 9-2 1-1 14-4 10 1 4 2 1 2 5-4 1 7 2-3 2-3-1 14-6-1-1 0-9 2-20-5-15 5-3-2-2-1-11 1 0 2-2-2-15-5-2 4-2-2-137 4-11 0 3 12 0-6 19 4 5-2 115 4 7 0 7-8 2 6 2-4 3 5 5 1 1-4 2 4 6 1 18-2 8-5 10 2 3 1 2-2 1 1 0 6-2 4 0-2-13 7-7-9-1 5-3 1-1-6-8 6-180-6 13 12 137-1 35 4 4-3 3-2 20 0-212 10 163 101-6 18 7-1 0 1 7-6-14 8" marker-start="url(#m2)" marker-mid="url(#m2)" marker-end="url(#m2)"/><path d="M1584 2779l-12-9-78 19 8-1 3-3 1 1 4-3 20 5 5-5 8 5 1-4 14 0 2 3 0 0 3-2 17-5 115 19-14-1-1 1-103-9-22 6-9 3-26-9-8 7-6 2-6-4-9 1-1 0-7 1-8-2-13 0-2 13 5-3 16 3 4-3 4-1 18 1 1 4 0-3 4 1 13-2 2 2 1-4 3 5 5-5 3-2 6 1 12 3 3 2 1-7 2 1 4 0 5 4 2 0 88 0 26-2-28 11-81-3-23 2-10-2-2 3-34 3-5-6 0 1-1-1-5 6-2 1-9 0-10-8-10 9-16-4 20 5 10 7 10-7 0 9 3 0 16-6 0 6 3-6 20-2 10 3 2-2 7-2 3 3 7-3 9 6 70 2-5 8-63 3-10-9-13 1-4 5-7 0-23 0-25-6-5 2-6 1 0-3-16 8-5-3-3 2 31 5 3-2 8 8 16-2 1-2 2-2 15 3 20-4 117 15-6 0-129-1-21 4-4-1-27 0-3-8-1 8 21 11 1-9 16 9 7-9 8 8 18-5 117 1-139 8-11 4-1-6-5 9-15-1-2-4-2-4-10 11 12 3 10-2 11 4 6-4 249 3 54 3-29 8-46 1-220-5-2-2-7 0-5 0-3 3 0 14 65-1 15-2 2 2 152 0 65 6-28 5-17 1-16-8-170 1-65 1-19 0-2 6-2-6-1 2 0 5-8-1-49 1-20-1-20-2-5-3-12 6 35 10 14 0 4-4 44-4 11 0 17 6 1-3 10 0 25-4 8 8 209-5 6 4 7-7 4 18-223 1-11-6-22 0-59-3-39 7-3 1-21 1-4-8-9 2-5 2-11-1-2 13 9 1 12 0 11-6 19 7 26-2 70-2 25-1 18 5 128-2 123-2-16 8-27-1 0 7-76 0-12-3-131-1-7-5-30 9-85-2-7 0-1-1-4-2-53 3-2 5 4 3 15 4 2-6 3-1 1 3 2-2 13-2 26 8 2-2 81-5 31 5 6-4 211 2 29 2-10 11-26-1-34-2-154 3-6 0-5-7-4 2-34-1-2-1-111 0-16 0 1 12 133-2 1 7 0-7 14 6 0-2 15-3 5 0 3 1 8 6 2-7 4 2 73-1 58-3 76 10-39 5-97-3-87 5-1-2-5 2-4-7-156 3-34-3-6 4-8 6 4 0 17 2 5 0 2 7 143-4 13 3 8-2 15 2 1-1 1-6 82 0 17 6 104 0 17-6 15 9-136 2-44 1-30 4-4-4-45 0-3-3-12 7-1-6-141 2-4-3-16 4-12 13 15-2 2-5 9 4 182 2 12-6 154 8 13-1 13 0 6 2-7 5-58-4-99 1-54 5-4-4-164-2-8 6-6 5 164 4 10 0 9 2 2-5 16 3 8-4 3 7 18-6 2-1 8 2 79 5 26-4 4 0 5 4 8 6-34 2-11 1-10-2-47 2-1 2-5-2 0-3-11-1-2-2-1 0-4 8-7-6-15 5-9-2-2 3-1-9-20 1-173 3-4-4-3 0-8 2 10 15 5-5 152 0 10 4 6 2 1-4 13 1 53 2 21 0 62-2 16-4 36 5-26 5-10 0-22 1-60 6-16-1-9 0-2-3-4 2-13-6-16 8-20-2-1 1 0 1-8-1-7-4-7 6-166 3 173 6 1-8 4 6 24-5 6 4 0-3 4 1 2 0 4 6 0-8 5 8 12-3 1 2 5-2 25 1 94 0-71 8-65-1-7 3-19-3-8 5-16-7-181 1 11 10 3 4 1-2 173-3 4-2 8 2 14-1 1 2-13 15-1-1-16-7-22 7-14-4-130 5-5-7-9-1-3 1 4 13 4-1 4 2 121 0 20 3 20 1 0-2 9 2 8-8 22 7 14 1 17-9-17 16-7-4-4 1-12-1-4-1-3 2-77 6-107-9-9 5-2 6 119 2 2-2 20 2 10 2 3-2 8 3 3-3 7-3 20 2 11 6 3-4 6-2 4 4 29-1-48 11 0-6-26 3-9 0-20 5-4-1-118-3-2 2-14-1-10 2 12 9 129-2 10 1 2-3 9 7 17-8 11 3 17-2 15-1 4 5 10 0 6-4-28 11-7 4-8 2-7-5-18 4-5-8-3 1-5 0-3 2-142-1-1 4-12 7 4-2 7 4 3 0-12 8 182 116-20 5-2-3-32-1-4 2" marker-start="url(#m3)" marker-mid="url(#m3)" marker-end="url(#m3)"/><path d="M1573 2773l-3 4-91 9 45-3 15-1 32-2 120 19-141-1-25-8-42 7-14 7 2 2 17-2 15 0 7 2 17-3 13 1 12 0 4 2 117-3 9 1-121 14-47-2-20 0-2-3-1-2-2-1-3 1-7 14 18-4 12-1 9 7 5 0 13-7 11 1 17 2 3 1 58 12-95-1-9-3-10-2-8 5-2-5-27 16 12-6 12 1 18 4 33-4 3 2 1 6 16-4 0-1 56 2 183 13-138-4-110-5-12 6-7 0-4-4-15-2-39 9 5 5 3-4 14 6 18-1 148-4 103 2-229 7-10 3-4 5-2-6-1 5-12 2-20 7 2 1 4 0 12-3 4 5 13-9 3 3 3 0 254 10-23 3-144-2-120 2 258 9 17-5 48 12-19 2-281-1-15 1-22-3-110 18 26-8 0 8 8-1 38-1 8-7 2 1 8 4 15-5 15 9 8-7 86 4 10-6 169 3 17 7-2 1-271 5-27-5-3-1-25 6-14 3-4-7-4 1-5 2-3 2-2-6-22 0-35 0-7 6-21 11 6-4 22-3 2 3 12 5 13-5 25 1 8 2 1-5 86-2 181 9 28 0 26-5 51 14-9-7-11 5 0 3-7-5-36-1-192 0-18-2-17-1-6 1-11 7-61-4-7-4-3 5-10-4-7 1-10-1-14 6-6-5-22 0-18 8 2 2 3 5 1-7 5 8 35 1 6-3 7-2 26-4 85 3 1 6 39-2 250-1 11 2-11 4-81 3-24 4-157-2-11 1-21 1-127-9-31 2-10-1-3 11 4 2 2 3 5 2 3-6 7 3 19-6 9 7 1-1 146 0 20-6 91 2 73 6 28-1 28-5 17 0 4 4-55 6-94 3-97 0-13 3-8-4-19-3-132 4-39-5 15 12 7 3 190 3 74-4 40 2 68-1 19 3 26 4-80 2-106 5-24-1-19-1-29-6-172 8-5-7-2 5-7-1 2 12 8-1 8-6 163-1 46 6 5-4 175 0 9 8-142 7-34-2-14 0-19 3-17-1-184 2 185 8 14 1 14 0 71 0 118-5-20 14-135 1-5-6-76-2-168 11 1 6 175-1 63-2 8-3 11 2 114-1 12-1-66 15-39 0-30-6-56 3-191 13 235-3 41-2 87 0-113 11-44 6-225 9 197 1 31-4-4 11-220-2 2 14 4-4 6 2 1-2 126-3 14 2 20 6 42-2 1-1 7 6-2 1-16-2-59 9-144-7 13 11 160 2 32 3-196 5-4-3-7 12 12 3 1 1 0 2-13 10 159 3 0-1 18 116-21 0 16 17" marker-start="url(#m4)" marker-mid="url(#m4)" marker-end="url(#m4)"/><path d="M1564 2789l-41 7-40-4-7 3 4 6 14-1 59 0 8 6 9 2 8-5 84 2-87 14-76-5 44 15 7-7 7 2 11 0 58 13-72-7-44 5-43 0-8 0 13 6 18-1 62 0 251 16-269-3-10 0-11 3-48-6 0 1 15 17 18-1 48-1 233-1 32-4-32 18-227-6-67 4-1-2-1 11 53-5 235 5 9-1 7 1 33 8-17 4-45-1-141 3 141 3 4 2 1 2 5-6 9 2 28 6 6-1 0-5 18 15-43-1-9-6-265 2-90 4-27-1-17 1 117 11 29-2 255-6 40 2-12 15-10-4-34-2-5 7-53 1-234-8-70 8 3 6 10-2 7-2 29 3 72-1 7-1 163 6 67 0 17-7-70 16-14-7-26 5-123 1-45-2-66-4-34 6-28 9 143 2 122-7 16 5 13 2 48-1 7-6 3 3 35 4 7-6 0 6 29 1 2 1-27 5-10 4-2-2-5-1-6-2-2-3-47 3-19 3-289-5-55 14 175 1 42-4 135 0 28-1 39-1 38 4-12 8-24-2-11 7-45 0-20-6-5-1-154 1-143 5-12-2-23-2 177 10 102 3 29-2 4-1 10 0 79 1-21 10-72-3-95 1-32 6 25 3 218 9-69 7-110-6-45 1 36 14 93 1 59 12-18-8 0 1-94 8-26-4-14 2-14 4 13 0 12 1 8 6 32-3 28-5 53 3-5 8-20 2-19-3-14 2-18 2-47-3-1 8 4 5 102 5-3 3-362 27 12 5 194 7-35 23-21 1-29-1 192 42-149 105" marker-start="url(#m5)" marker-mid="url(#m5)" marker-end="url(#m5)"/><path d="M1566 2785l-4 13-25 0-81 9 48-5 30 8-54 7 66 4-6 11 247 16 14-2-285 6 19 11 247 3 13 3 7-2 16 5-5 2-27 4-245-7 217 17 62 1-4 7-16-6-33 9-1-4 21 13 20 3-10 7-20-3-9 3-18-2-3 2-251-4-10 1 264 9 29 4 13-6 15 5-1 5-6-2-1 5-18-4-4-1-10 5-3 4-6-2-312-6-58 11 130 4 227 0 7 1 0-2 17 4 6-9 11 5 18-3 2-1-9 16-20-1-28 0-37 3-1-8-22-1-26 9-14-1-263 1 119 10 204-9 52 9 34-3 11-6-46 17-15-4-13 5-336-5-27-3-17 14 285-2 11-2 27 2 5 7 7-5 37 3 23-1 2-4 11 7-3 1-9 0-22 2-8 0-22 7-65-8-287 10 2 1 391 1 14 2 7-2 4-2 4 6-40 10-14-6-54 4-300 2-19 12 378-5 8 0 17-3 8 7-14 3-2 6-24-4-126 4-1-3 25 11 103-4 2 2-172 10 23 13 123-2 29-1-7 8-13 6-7-2-18-2-1 1-35 5-133 9 67-4 120-3-167 24-13 15-54 14 93 25-78-3" marker-start="url(#m6)" marker-mid="url(#m6)" marker-end="url(#m6)"/><path d="M1529 2803l-42 22 36-5 278 36-10 2-289 0-18-8 334 16-24 4-15 4-9-4-236 8 224 2 31 0 19 9-36 3-11 2 0 8 38 7-1 1-13 6-40-2 11 15 48-9-11 16-4 0-431-4 31 17 268-2 80-4 61-2-47 16-1-2-38 0-337-4 397 13 16 6-76 9-74 10 73-4 6 0 9 1 46-6 6 3 2 16-56 0-46 0 64 8 19 11-2 1-5 0-66-7-31 2-323-2 258 16 86-8 39 2-30 12-30 4 7 2 4 15-155 13 48-4 12-2 133-2-9 10-5 8-24 3-117 27-11 10-33-2 2 6 16 3 16 0-58 14-30 20" marker-start="url(#m7)" marker-mid="url(#m7)" marker-end="url(#m7)"/><path d="M1509 2796l-42 5 111 8-118 16 86-4-82 23 80 15-22-4 258 10 4 3 16-5 10 4 3 0-22 21 23 0 11-2-64 8 0-2 0 24-8-2 49 9 13 5 6 5-4 0-7-3-10 8-49-1-61-4 24 11 28 4 3-1 0-2 23-5 17 1 13 2 2 11-9-2-2 5-29-4-246 13 209-6 38 2 12 17-52-3-59 1-39 4 91 7 2-1 63-1-6 8-16-4-17 3-28-1-9 3-65-3-9 11 64-1 31 5 22-1 7-5 7 6 9 1-2 8-72-3-24 2-157 4 99 1 43 0 47 2 13 0 19 1 13 5-3 2-26 6-141 4 114 9 29-7 2-1 7 12-10 6-11-2-4-1 6 10 4 7-26-1-129 16-19 56" marker-start="url(#m8)" marker-mid="url(#m8)" marker-end="url(#m8)"/><path d="M1483 2803l-26 19 36-1 22 34 245 22-239-7 305 23-10-3-27 18 26-4 11 6-38 1-10 8-18-3 44 13-135 14 23-2 3 8 58-5 14 0-18 15-17-8-33 0-18 3 123 18-24-2-13 2-75 1 38 14 68-5-29 12 9 10-14 11-10-5-65 0-8 0-29 5-62 10 7 0-45 9 149 7 28 13-10 5-27 7-232 77" marker-start="url(#m9)" marker-mid="url(#m9)" marker-end="url(#m9)"/><path d="M1549 2782l263 68-13 1-31 31 13 9-22 13 66 15-80-2 22 12 40 19-72 4-204 4 236 4 5 5-149 12 134 5 33 8-48 0-17 4-21-1-12 10 74 1-58 8-93 9 92 6-61 9 82 5-33 14 5 22-4 3" marker-start="url(#m10)" marker-mid="url(#m10)" marker-end="url(#m10)"/><path d="M1576 2796l184 104 2 41 22 26-23 7-123 15 137-1-95 19 22-1-40 18 47 30-3 5" marker-start="url(#m11)" marker-mid="url(#m11)" marker-end="url(#m11)"/><path d="M1511 2808l59 1 1 81-173 81 174 61-3 0 12 15 1-1 12 0 69-4 10 8-28 2-55 5-70-6 152 23-65-1-12 5-24-5-42 10 95 6 11-2 8-3 2 3 25-2 7 3 7-4-20 12-129-5 38 9-124 27 1-5 3 4 0 0 12-2 22-1 35 3 23-1-24 14-6-5-2 5-4-4-5-3-46-1-2 4 20 10 9-4 21-1 15 8 23 9-19-5-3 0-5 3-4 2-2-7-5 9-1-6-3 0-1-1-43 5-5 8 14-4 26 5 13 3 12-1 9 0 24 0-26 4-8 0-9 7-52-8" marker-start="url(#m0)" marker-mid="url(#m0)" marker-end="url(#m0)"/><path d="M1534 2781l14 1 143 15-199 8 176-2 9-2-137 15-8 1-1 1-11-4-22 14 35-3 35 5-21 2-69 0-2-1 23 18 20-2 15-7 91 3 3-2-105 9-1 5-33 2-24-3 10 15 25-5 39 3 124 1 2-1 103-1 12 7-271 12-11 20 38 0 223 8-152 3-122 1-55 7 93 15-24 1 184 4-157 8-22 8 3 5 216 7-359 17 9-3 127-3 44-3 150 5-5 14-148-5-30 11 30-4 21 15-21 15-3 7-15 1-24-7-145 1 173 13 40 3 105 2-78 0-29 5-2 3-7-7-5-1-7 6-7-3-35-4 3 16 1 3 1-8 9 5 6-6 3 5 16-3 8 4 6 2 0-8 15 5 4 4 8-7 2-1 106 4 19 1-38 8-84 2-4-6-11 0-24 4-17-3-16 8-18 8 30-1 2-1 2 3 1-1 17-5 8 7 2-6 2-2 4 6 6-3 15 0 2-1 32 5 49-8 20 10-104 0-8 2-11 0-20 4-15-4-1 6-4 0-1-5-18 0-2 1-7 6 6 6 33-2 21 1 8 9-15 1-7 3-12-3-1-1-59 5 0 0-2-7-13 4-128 11 118 0 3 1 11-1 2-7 1 8 2 0 2-5 5 2 0 1 12-6 9 5 4 1 28-2 15 4 1-8 6 6 2-2 12 15-3-2 0-1-3 0-5 2 0-1-9-5-4 2-1-3-4 7-6 1-3-7-9 0-9 0-2 2-1 3-8-6 0 6-12-2-2 3-16-1-2-7-1 5-10 4-2-9-9 4-2-1-124 8 124 7 5-1 9-5 1-2 0 9 3-7 3 5 14 0 1-6 1 3 2 1 1-3 5 4 1-4 3 6 2-3 3 1 9 3 3-5 22 4 3-4 5 2 6 2 3 1 7-9 4 5-10 9-2 1-4-3-5-1-3 8-11-6-6 0-3 1 0 0-1-3-3 7-2-4-1-1-1 0-3 6-14-7-1 0-2 2-1-1-11-2-1 0-5 7-9 0-4 0-10 1 1 6 5 3 4-4 6-3 5 7 30-5 4 1 1-1 8 3 5 0 0-2 1 3 7-3 5 5 1-2 4-5 19 1 2 2 1 0 4 3-15 6-12 0-19-3-1 4-13-4 0 5-3-3-11-2-3 5-14-2-11-2-1 0 14 9 12 1 29 6 125 11-2 0-139 115" marker-start="url(#m1)" marker-mid="url(#m1)" marker-end="url(#m1)"/><path d="M1575 2775l-102 14 15-1 0-3 37 1 43-1 1 0 12 2 0-7-18 16-13-4 0 3-7-2-14 5-7-8-2 0-5 1-17 7-7-6-1-2-22 6-1 13 36 0 20-2 9-3 1-4 13 2 27 0-3 10-15 3-8-2-2 3-24-1-1-5-3 6-5-4 0-1-4 5-7-2-8 4-3 1 0-9 0 1-4 1-12-1-8-1-5 0-6 16 5-2 1-1 0 1 6 4 0 1 3-6 21 3 7-2 2-3 7 1 9 7 1-8 0 0 18 5 11-1 0 3 90 1-66 3-21 4-12 1-5 1-3-5 0-2-1 7-1-7-5 5-31-2 0 0-13-1-8 6-3-5-8 1-1 1 12 5 1 0 16 8 8-7 23 7 1-1 1-4 7-2 7 4 20 1 3-4 4 6 65-3 175 5-128 8-5-1-1-1-109-6-1 2 0 1-17 2-30 0-1-3-36-2-4-1 3 13 2-1 16 3 16-5 11 7 8 2 14 0 5-8 2 2 2 0 1 2 275 0-5 14-8-1-11-8-249 4-23-1-2 2-19-5-19 0-13 0 16 14 5 4 3-3 3-5 8 7 11-1 270-6 6 1 2 6-27 12-19-1-217-1-11-3-17 0-13-1-1-2 5 14 0 2 19 2 15 0 255 8-3-2-245-2-9-3-5 5-15 1-22-2-60-2-21 9 2 1 34 6 73-7 8 8 7-1 2-3 280 6-40 4-17 3-221 0-1 1-7-5-12 5-16-1-10-7-4 0-22 5-62 0-4-3-4 1 18 13 7 0 16-3 28 0 9-3 65 3 234 2 10 7-59-3-168 8-1 0-38-3-1-5-81 9-35 0-23-7-14-2-14 6 164 6 2-2 15 7 147 2 112 3-103 1-182 0-110 0-43 2 11 12 9 2 24-7 116 2 18-4 97 4 90-3 54 7 2-6 5-1-220 18-11-2-2-1-9-3-14 3-10-4-168 6-7-1 10 9 20-1 169 0 23-4 8 4 200-4-43 10-29-1-132 6-5-4-7 4-1-4-29 3-5 3-3-3-170 1-3 0 11 8 166 1 7-2 17 4 20-6 5 3 4-3 50 2 124-2-44 11-27 7-67-6-11-3-32 8-3-3-1-2-8 3-1-1-2 0-1 2-35-2-165 4-9 8 189 1 5-1 9-7 3 9 10-5 19-3 1 8 2-1 2-4 3 3 115 0-4 7-13-4-80 6-12 1-5-6-5 3-15 5-16-2 0-7-1 6 0 3-12-3-4 1-6 0-1-7-19 9-171-9 168 12 14 3 0-5 1 4 16 3 2 1 1-2 1-4 6 3 8 1 11 2 20-6 18 0 4-1 21 3 64-1 0 3-4 11-11-3-22 5-2-4-2 3-47-1-7 1-9-6-5 6-4-2-4 0-4-2-10-2-1 7-5-1-2-6-6 5-7-4-1 4-1-6-10 1-18 1-2 0-6 2-164 7 167-1 6 3 1 0 3 2 23-6 14 3 4 2 1 4 2-3 10 3 13-5 1-3 1 7 10-8 6 0 41 0 24 6 12 0 15 4-57 2-11 2-51-1-6 4-9-5-10 0-23 5-17-5-173 4 4 13 132 0 39-9 0 5 3 1 19 2 6-5 2 2 7 0 2-2 21-3 3 6 15-3-9 7-4 2-11 2-5-3-6 2-5 1-11-4-1 8-3-1-30 0-34 1-139 8 122 0 1 3 10-4 3 3 9-6 5 7 2-7 8 1 0 3 1 3 0-4 2-2 11 2 13-1 1 3 0-4 4 0 6-2 7 4 1 2 6 1 15-7 3 2 3 8-4 1-3 4-6 2 0-3-2 4-13-3-2-5-3 3-2-3-1 4-1-4-8 4-2 0-6-1-1-1-7 4-8-6-3 2-8-2-22 2-6 2-116 3-5-2-1 0 122 7 6 0 4 1 3-3 10 1 6 6 4-2 8 2 4-5 3 5 3 0 2-8 5 4 18-1 6 5 15-6 13-2 3 13-1 1-6-2-7 5 0-6-4 6-16 0-8 2-2-4-4-4-6 7-8-1-19-1-9 0-17-3-5 1-101 0-15-1-11 2-2 4-2-8-11 4 13 8 20 4 114-1 4-6 0 9 4-6 3 4 1-2 1-1 1 0 6 0 8 4 1-1 5-4 8 6 8-7 2 7 3-2 4 2 8-4 1 2 3-6 16 5 4 2 3-8 4 2 4 7-25 2-1 1-4 0-2 2-8 2 0-4-4 5-3-7-1 3-7-1-1 6-4-6-27 0-157 11 7 2 3 0 10-5 151 0 50 1 106 16-138 101-4-5-5 1-4 0 0 2-1-6-22 18 29-8 1 1 12 8-28 5-14-2-10 1-8-1" marker-start="url(#m2)" marker-mid="url(#m2)" marker-end="url(#m2)"/><path d="M1565 2776l-2 1-76 10 14-2 9 0 35 0 2 0 1 3 3-6 3 1 10 2 4 0 6 6-8 0-15 5-37-6-4 7-1 0-3 1-21 1-1-1-28 10 2-1 3 1 1-2 2-5 3 5 13 3 4-6 1-3 7 3 2 3 5-6 2 0 4 8 5-7 4 4 5-2 15 1 23 1 9 4 2-4 7 0 99 2 12-5-134 9-25 6-14-1-7-2-16-1-9 1 0-2-14 4-2 4 4 6 13-6 1 3 13 3 3 3 5-7 13 7 13-1 2 0 2-3 2-2 11 2 1 2 3-5 12-1 14 5-16 6-14 3-9-1-5-3-1 3-8-2-2 5-15 1-2 0-17 1-23-5 0 4-2 9 16-7 3 8 0-2 16 3 4-5 9-2 2 4 11-2 26-4 0 2 3 1 4-2 229 1 11 7-137 7-101-6-5 0-5 2-7 4-4 0-3-5-1 4-22-5-20 8-7-2-4-5-12 16 1-7 19 8 0 0 24-3 1 3 7-5 4 6 7-1 1-5 1 1 1 2 7 2 1 1 9 0 259 7-257 2-15-3-2 2-12 0-8-5-1 7-12 0-5 0-11-7 1 16 26-1 1 0 2-1 2-1 9 3 1-5 3 5 8-6 30 7 241 5-12 4-10-2-169-2-31 0-63-3-8 0-2 2-10 0-2 1-13 1 26 8 110-3 134 7 4-4 49-1 7 15-44 0-15-2-148-1-7 0-91 2-22-5-2 1-3-2-1 9-1-2-79 1-3 1-10 0-9-5 28 7 2 1 3 6 2-4 30 3 2-3 2 2 14-5 1 6 5 0 4-3 23 1 7 1 3-5 8 1 7 5 14-6 237 7 7-2 5 2-38 7-207-1-15 5-7 0-11-2-3-2-8-1-10 0-16-2-7 3-1 4-2-2-6-3-1-3-22-1-3 2-5 3-68 2-2 8 4-4 17 4 1-3 21 4 13 3 1-1 2-3 1-4 15 7 2-6 53-2 21 1 8 8 25-3 155 3 74-6 5 2 21 4-128 1-120 0-7 2-28 0-4-2-2 7-4-5-78 0-80 14 24-6 2 4 11 5 2-1 5 0 6-2 4 1 23-1 3-5 2 2 72 6 5-2 276-2-82 7-76 6-117-2-1-3-3-2-101 6-5 0-7-5-11-2-12 3-10 2-25 12 12 2 13-1 181-3 5 4 9-2 2-1 91-3 23 1 45 7-162 5-3 2-5-7-8 4-1-2-6 6-158 0-22-4-4 4-12 1 22 1 6 8 9 0 3-9 152 8 13-8 23 3 150 4 41-4 20 8-55 8-63-3-100 2-29-7-163 1-10-1-6 1-15 1 10 12 191-3 4 6 118-3 38 2 40-5-5 10-155 3-12 0-3-1-3 3-9-5-10 0-2 6-200 1-3-9 1 16 182-2 35-4 3 1 19 1 1 4 38 0 115-3-28 8-37-1-81 6-2-1-30 4-4-8-1 1-10 1-21 3-2 0-1 1-10-3-158 0-11 3 3 9 8 0 157-3 9 3 7-2 7-2 5 7 4 0 3-2 10-6 21 4 6 2 5 2 6-7 8 0 5 2 80 3 49-3-27 6-14 3-59 1-19 0-5-3-6 7-2-4-12 4-3-4-6 4-18-1-4-4-1 5-9-5-12 5-20 7 2 4 25-1 10 1 7-1 14-5 1-3 18 8 2-8 9 3 36 2 10 3 12-8 0 2 2-2 5 8 22-3-50 11-5-4-30-2-13 0-1 3-9 6-8-8-12 3-1 4-19-8 0 4-197 2-11 6 1 2 2 1 4-1 3 1 177 1 1-2 9 3 2-2 9 3 23-2 2 1 0 9-18-5-29 8-53 0-117-5-20 14 16-1 129-3 43-3 2 4 4 2 1 2 2-6 2-3 2 1 9 8 14-7 23 1-4 10-9 6-1-6-17 4-4-7-4 5-1 4 0-4-16-3-5-2-7 0-6 0-33 2-117 3-2 0-7 2 0-3-11 4-5 0-1 8 9-5 5 4 7 2 145-1 37 0 20-2 10 0 12-3-1 18-4-9-1 4-7 1-8-1-17-4 0 9-46 0-12-1-133-5-17 7 5 3 17-3 3 8 173-4 33 2-46 7-15 6-35-9-7 0-110 2 0 4-1-2-8 2 0-4-9 9 3 8 15 5-4 2-11 3 166 107 21 7-12 5-7-2" marker-start="url(#m3)" marker-mid="url(#m3)" marker-end="url(#m3)"/><path d="M1538 2779l-53 10 9-2 9 2 60-5 4 3 15 8-9 2-25 0-3-2-7 0-3-4-5 1-7 6-8-6-42 2-7 8 40 4 11 3 13 0 4-6 16-1 1 4 14 0 0-3 90 5 23-4 1 0 1-4-134 16-11-6-13 1-26 4-1-5-21 6-4 1-4 0-2-4-5 7 8 4 6-1 67 1 1 5 6-5 3-1 2 1 1 3 4-2 89-5 1 6-73 12-4-8-18 5-25 4-1-9-3 0-24 8-20-8-2 3-6 3 15 4 11 7 6 1 20 0 35 1 5-4 233 6-11 5-226-5-62 1-12 5-12 9 22-6 10 0 22 2 2 4 2 1 16-2 116-4 6 4 132-3-30 14-231-6-13 7-24 2-9-2-3-7-5 5-1 5 17 0 5 9 1-5 16-4 52 8 53 4-2-1-1 6-108 1-15 3 82 1 179 1 15 4 40 9-230-4-55 0-127 6-11-2-30 12 11 1 8-6 18 6 15-4 0-5 11 5 9-2 26 6 332 5-299 0-7-2-17 7-30-2-5-4-7 5-4-8-8 5-3 3-40-6-6 2-16 5-3 2 27 6 8-3 12 5 1-7 26 7 10-3 2-3 237 3 130 10-257-3 0-2-121 6-9-3-16-1-28 1-12-3-10 6-3-6-6 15 7-3 0 2 33 4 6-9 1 8 102-4 18-3 4-1 6 13-117 4-1-5-18 1-28 5-22 0 10 2 40 5 13-2 132 1 5-1 8-2 8 7 2-1 109-3 85 5 48 3-57 1-80 0-18 4-78 0-1 0-16 1-7-6-21 4-140 3 0-7-2 0-21 3-15 0-1 3-5 4 2 5 11-5 13 4 8-2 147-1 53-1 125 0 87-2-18 16-52 1-17 1-88-6-82 1-151 4-4 1-12-3-5-4-13 13 4-4 179 1 227 2-9 12-32 1-117 2-7-1-1 0-238-1-12 13 201 0 18 0 20-3 24-1 117 1-69 8-8 2-20-2-27-2-1 2-18-4-40 5-199 10 1 4 9-3 179 2 24-4 2 4 25-3 34-1 38 14-76 0-16 1-31-9-175 0-11 5 177 5 62 0 39 1 55 3 42-4-58 12-66-2-30 8-5-3-20 3-6-5-185-1-2-1-7 7 193 9 48-5-26 13-88-4-130 13 139 4 40 0 14 0 9 0 27 3-7 2-42 1-7 0-45-1-127 0-3 6 0-2-3 3 203 0 2 14-203 7 22 1 178 6 2 6-54-1-141 0-5 5-4-4-6 3 11 7 4 1 7-2 0 13 170 98-51 15 26-7" marker-start="url(#m4)" marker-mid="url(#m4)" marker-end="url(#m4)"/><path d="M1506 2789l4-2 27 1 139 9-126-6-34 8-14-6-5 6-15 0-1 4 74 5 8-2 111-1-136 5-52 5-28 8 48 4 1-6 15 7 34-2 5-6-34 12-9 1-54 6 28 5 12 4 11-7 11 4 13-5 29 2 56 6 170-8 3 1-20 14-249 4-54 2 4 6 19-7 20 9 255 0 20 3-4 3-23 0-216-5-22 9-22-9 0 7-14-5 7 15 24-7 8 8 288 5-12 4-4 2-32-9-3 5-141 0-123-4 29 16 244 1 12-5 1 4 6-3 1 2 1 11-21-5-174 15 167-2 20 1-16 7-2 3-23 0-9-1-306 2-13-1-14-6-59 19 33-7 14-1 277 4 5-3 7 4 94-1 22 4-28 6-60 1-57 3-115-8-163 12 1 2 134-1 6 4 109 0 17 0 42-5 8-2 58 0 22 2-13 9-33-2-17 9-10-4-29 2-19-5-4 3-291-4-10 4 19 5 252 8 9-7 12 3 47-4 4 0 21 8 27-4 35-1 8 3-29 5-50 2 0-2-34 7-6-5-4-2-9 3-299 11 264 1 49 2 61-3 0 4 36-1 4-8-21 18-13 1-37-7-37 3-1 0-91-3-43 1 65 16 141-2 5 2 18-5-29 14-7-7-9 0-38 2-9-2-320 5 229 11 103-1 21-3-103 15-7-6 25 12 21 3 54-5 17 1 0 14-11 1-28-6-4 1-1 5-4-1-4-3-44-4-18 9-18 5 75 1 26 2 5-1 23-2-32 12-80-6-92 36 9 3 55 17-106 17 52 6" marker-start="url(#m5)" marker-mid="url(#m5)" marker-end="url(#m5)"/><path d="M1504 2783l6 6 37 3-59 13 31 1 48 3 2 0-87 7-22-5 15 15 4 3 17 3-4 7-28-9 2 17 318 1 28 11-16-2-2 1-305 2 9 4 25-2 19 2 274 6-19 3-8 13 3-3 40-3-10 14-1-4-2 6-13-4-2 3-58 3 9 2 25 8 27-5-13 12-23-2-24 4-4-3-355 12 304 2 69-6 61-2-28 15-107 2-152-2-84-5-25 0-48 19 45-6 253 2 69-1 45-2 23 7-18 2-29 5-330-4-43 0-11 14 318-2 14-1 6-3 10 0 9 3 33-2 21 12-34-1-24 7-1 0-35-4-41-3-307 2-14 4 353 5 19 0 6 4 38-6 3 3 24 1 2 0 3-2 7 0-18 9-2 6-63-4-12 5-57-4-295 6 310 1 67 0 21-2 3 9-8 5-78-3-25 2 20 8 44 4 29-1 8 3 6-3 10 9-17-2-17 2-2 2-10 0-11-1-160 2-192-4-1 12 228 1 3 2 88-5 27-2 1 3 10-3 3 2 10 5 11-5 15 9-34 0-104 16 94-2 3 4 16 9-84 2 26 8 39-7-76 9-7 6-101-5-6 24-59 26 30 27" marker-start="url(#m6)" marker-mid="url(#m6)" marker-end="url(#m6)"/><path d="M1554 2779l-6 17-19 12-40 34 326 16-6 0-9-4-8 4 3 10 25 8-23 3-11 0-15 0-18 26 8 3 1-7 21 1 29 5-23 11-31 0-384 11 378-2 42 2-26 3-9 7-78-6 11 10 66 1 17-1 10-2 19 6 14 0-35 11-14-4-23 3-20-3-31-1-19-1-265 13 294 3 36-6 16-1 5 1 41 0-46 10-11 2-404-3 436 10 5 16-138-7-12 4-7 11 101 1 0 1 34-2-172 19 1 5 140-5 11-2 3 7-197 11 154 9 10 1-13 3-7 1-78 0-88 9 98 0 12 3 15-4 18 17-79 5 61 13-109 21-29 23" marker-start="url(#m7)" marker-mid="url(#m7)" marker-end="url(#m7)"/><path d="M1572 2782l-1 15-6-5-104 11 18 5 12-6 62 4 21-4-45 43 267 3 11 1-8 4 0-3-12 9-244-5-41-1-25 13 313 3 11 1-263 13 213-2 19 0 39-1-15 16-21-6-13 4-265 2 269 5 3 5 6 0 17-1 16-4 22 3-440 23 402 6-36 6-13-3-47 3 68 5 3-1 5 0 14 6-23 10-11-1-47-5-52-3 75 10 17 4 26-3 21 4 5 13-3-3-5-2-9 1-17 1-33 3-15-6-3 11 22 6 4-9 27 9-254 16 17-3 12-1 88 2 52 5 56-5 12-2 22 14-13-5-32 13 1 5 23-8 4 2-30 17-12-4 6 10 24-1-16 9-5 3-16-2 6 13-8 3-22 1-43 11-95 53" marker-start="url(#m8)" marker-mid="url(#m8)" marker-end="url(#m8)"/><path d="M1532 2813l-14 0-57 16 99 4-91 0 76 15-78 10 350 8-50 13 6 5 27 5 20-8-69 27 6-4 74-4-38 17-113 15-156 14 190 18 19 2 1-4 73 7-87 6-27-1 45 12 27 3 1-4 25-3-14 9-4 3-69 2-4-2-35 12 22 1 61-1 30-2-39 15-76 0-37-5-23 10 94 2-1 23 8-2-19 4 3 31" marker-start="url(#m9)" marker-mid="url(#m9)" marker-end="url(#m9)"/><path d="M1485 2796l328 59-5 4-14-5 0-3 30 24-13 2-25-1 28 23-21 0-49 11-3 1 14 9 47 8-62 5-86 12 17-2 12 5 91-2 17 15-32 10 0 0-83 12 18 1 75 7-3 21-26-2-94 30 46 33 1 7" marker-start="url(#m10)" marker-mid="url(#m10)" marker-end="url(#m10)"/><path d="M1811 2915l-52 5 58 15-129 11 7 1 63 21-12 11-9-7-63 15 19-7 91 0-68 19" marker-start="url(#m11)" marker-mid="url(#m11)" marker-end="url(#m11)"/></g>
<g transform="scale(.5)" fill="none"><path d="M2148 2775l-62 92 64-6-67 17 22 10-166 97 4 25 243 43 64 19-29 5-52 7 58 3-67 20" marker-start="url(#m0)" marker-mid="url(#m0)" marker-end="url(#m0)"/><path d="M2280 2798l-116-6-11 5-8 0-90 21-5-8 40 18 63 5-74 1-12 3 15 5 45 12-37 0 21 10 18-2 3 3-9 13-37 7-94 29 64 14 22-4 8-1 272 3-173 8-199 14 10-5 26-1 86 6 156-2-143 8-187 11 26-5 162 5-2 12-11 40 36 15-10 4-205 7 160 6 33-4 55 2 147 0-72 7-75 1-6 2-78 9 59 0 10-4 2 2 17 3 19-2 56 9-5-1-115-2-8 7-206-8 174 16 28-4 10 1 95 9-99 0-17 3-2 2-21-3-5 3 9 6 12 1 1 10-12-4-36 7-18 12 2-8 80 6 6-1 9-2-11 12-5-4-31 6-47-4 64 9-62 8-6 7-10 7 30-2 2 3 56 0 19-6-13 14-17-3-27 4-37 135" marker-start="url(#m1)" marker-mid="url(#m1)" marker-end="url(#m1)"/><path d="M2129 2777l-3 11 1 0 40-2-15 12-100-3 1 9 4 1 4 0 8-1 10 0 49-3 10 11-26 0-25 0-16 7-26-1-10-1 22 8 28 4 8-9 5 7 5-1 4-3 11 3 23 2 1-6-3 12-6 5-18 0-9-4-5-2-4 1-4 5-1-7-43 10 4 6 4-4 42 2 5 0 11-3 3 4 3 0 11-3 8-4-15 12-11-1-29 8 6 5 3 2 0 2 16-8 14 0 120 1 3 6 151-1-258 13-26-7-5 5-9-4-37-2 11 16 6-6 6-1 21 4 46 5-29 4-23-2-2 7 0 1-22-7 324 24-44-4-151-2-98 0-29 6-85 3-37 8 50-2 13 3 80-1-43 9-6-6-24 8-69-8 7 11 23 5 49-1 61-5 16 5 9-3 17 2 247-2 14 7-48 5-52-4-209 5-74-1-21-2-46 1-25 9 7-1 7 2 13 6 25-7 17 4 9-1 102 0 233 1 29 13-226-4-1 2-48-1-105-5-14 2-9-3-45 12 16-1 46-1 1 0 131 8 198 0-50 6-1 3-118-6-213 3-1 11 27-3 3 2 237 7-48 3-204 4 277 2 19 9-96 3-4 3-16 1-10-5-4 6-2 1-5-3-8 4-6-2-1 9 10 3 1-8 5 8 27-4 1 0 17 2 10-7 3 6 10 2 48-7 67 18-25-3-26-5-81 3-2 3-12-7-1 7-9-1-12 1-20 0-9 2 29 10 5-3 35 2 5-1 7-4 89-2-7 10-32 5-44-5-22 6-7-1-28-4-5 0-3 7 0-4-6-3-5 13 54-4 74 3 6 1 18-2 2 0 21 1-39 11-1-3-27 1-7 4-47 1-4-2-10 2-22-3-6 1-5 3-8-3-11 0 12 5 4 3 7-4 0 2 10 0 2 7 31-1 8-4 2 0-10 15-27-6-4 6-6-9-32 9-23-2 0 0-19 2-136-9 152 14 2 4 8-5 30 6 3-2 12-3 5 5 5-9 12 6 3 2 9-1-10 8-15-1-1 0-2 1-3 2-6-6-8 8-4-8-17 2-1 1-6 4-15-6-4 4-20-6-3 0-108 5-16 11 9-1 116-4 9 0 15 6 8-5 13 1 1 3 10 1 1-3 1-3 1 8 4-4 10 0 9 2 0-1 13-2 2 5 7-9 5 2 0 2 1 10-4-3-18-1-19 8-12-3-1 0-8 0-2 1-5-6-9 9-6-7-6 1-18-3-1 7-4-1-134 8 20 5 127-6 5-1 6 1 3 4 60-5 13 0-10 9-6 4-8-3-2 0-2 2-3-1-39 3-1-5-15 7 53 5 118 13-126 95-8 27" marker-start="url(#m2)" marker-mid="url(#m2)" marker-end="url(#m2)"/><path d="M2170 2777l-47 2-42 8 37-1 4-4 5-2 24 0 134 18-18-1-128 1-73-1-15 3 17 3 3 4 21-1 19-1 14 3 15-5 9 6 11-1-38 5-48 4-19-7-2 5-1 1-12 4 16 9 10-1 3 1 5-5 15-4 20 5 12 2 4-5 7-1 2 8 8-9 2 8 14 4-30 4-6 3-5-1-17-7-1-1-23 9-1 5 6 2 7 3 6-7 2-1 5-1 20 1 7 7 9-1 10-3 0 5 3-6 101 12-109 0-7-4-29 0-12 8-13-8-3 4-7-4-10 12 19 5 20-4 309 14-8-7-14 3 0 4-36-8-215 4-7-1-36 3-14 3-15-1 13 5 1 0 1 4 13 0 1-7 1 2 20 5 244 3-143 1-101 4-6-2-6 6-23-8-4 18 23-5 26-1 45 2 189 5-360 9-10-3-15 11 33-7 23 3 4-1 15-2 28 5 103 3 4 1 13-7 148 2 48 11-10 1-18-5-289-1-9 1-7 6-10-2-61 0-12-5-27 10 10 7 4-3 16 1 2 2 8 0 19 1 281-8 122 1-6 12-31-1-4 5-89-2-143-5-26 2-30 6-86 1-4-1-33-2-3 3-7-5 0-2-6 5-2-2-1-2-1 1 6 15 38-5 12 3 93-7 18 4 4-2 25 2 254-1-62 9-95 1-98 1-11-4-160 7-15 1-8 0 0 11 10-1 0-6 17 6 131 1 33-3 212-3 3-2 14 4-143 14-93-4-191 4 180 8 37-4 66 3 9-1 62 5-143 5-3-4-196-1-8 13 317 0 16 2 54 1-170 13 0-7-5 7-28-6-11 4-172 8 4-2 148-1 10 2 10-4 14 9 0 0 4-6 18-3 18 2 1 2 2 4 84-3 38 4 21 2-4 3-13 2-18 0-30 2-70-1-16 0-2-5-20 5-5-7-2 1-1 6-28 0-6 1-169 11 152 0 27-1 44 1 18-4 8 2 2-3 5 1 61 5-18 8-52-1-4-7-9 8-4-2-9 2-8-4-7 1 0 0-8-2-1 3-6-1-2-4-10 7-2-8-4 2-14 6-157-5 170 15 0-8 3 0 15 3 9 2 12-3 16 2 1 1 3-1 9 3 8-7 78 0 3 7 11-2 6 4-17 3-2 0-5 3-38 2-60-2-4 0-8-2-10 0-7 2-2 4-8-1-15 1-3-3-6-2-168 6 200 0 0 9 8-6 27 2 2-4-9 13-23 3-8-6-2 3 0-1-4 3-11 0-36-1-14 3-129 8 113-2 3 1 11 0 3-3 5 7 28-1 12 1 4 0 24-2 0 2 6-8 2 1 15 3-13 13-2-3-4 0-8 2-4-4-15 4-7-1-8-5-9-1-6 4-5-4-7 1-2 5-2 2-3-1-1-2-8 2-12-7-1 5-122-4 131 15 1-3 8 5 5-6 25 6 8 1 5-9 0 3 13 5 8-3 3-3 0 3 11-2 6-1 11-1 2 2 4 1 0 1-18 10-19-2-1 4-3-3-2 5-9-4-1-3-3 2-6-3-14 5-20 0 0-6-3 4-9 1-10 11 1 1 3-6 8-1 16 3 15 1 8-2 2 5 22-6 4 0 1 5 12-5 3 3 2 0 0-4 1 8 1-4 6 2-2 4-3 1-15 5-4 1-5-4-15 4-6 0-1-2-11 1 0-3-11 2-15-5-6 6-1-4-121 4 148 4 16 105 0-3 10 8 4 22-8 1-2-2-4 3 5 7" marker-start="url(#m3)" marker-mid="url(#m3)" marker-end="url(#m3)"/><path d="M2153 2777l-1-6-30 6 3 6 20 2 134 14-11 0-113-5-22 4-4-5-4 1-5 0-26-2-8 1-39 11 18-4 5 4 3 3 2-4 34 0 24 1 4-2 1 4 22-4 81 6 16 0-112 9-18-2-6-2-8 1-1 0-8 1-9-3-12-2-29 3-9 16 14-1 23 0 28-2 2-3 6 3 3 1 97 12-67-5-2 0-12-2-16 3-39-4-13 5-6 1-9-5-4 11 6-3 0 9 18-6 5-3 3 1 12 1 8-1 21 6 270 0-259 3-16 9-25-1-1-2-17-5-6 8 0 5 2-4 14 1 10 6 20-5 8-2 127 5 145 0 7-5-18 19-19-8-238-1-5 8-11-3-9-1-2-1-2 2-17-3-9-2-1 6 27 10 9 0 234-1 18 2 40-1-292 9 0 4-29-1-4 11 20-2 19 2 12-2 4-2 50-2 179-2 46 2 1-2-51 13-293 3-83-6 52 13 19-2 8 5 15-1 18 1 15 2 82-2 158 5-240 7-70-3-32 3-5 4 16-1 22 3 227 4 120-9-4 11-125 4-123 4-173-4-8 2-12 2 23 10 14-8 20 1 12 2 103 1 13-4 17 8 196-1 13 0 15 2-26 7-56-2-39 1-100 3-15-5-43 4-133 1-31 8 3-4 13 2 156-4 5 2 11 0 15 6 1-6 5 6 11-8 87 7 46-3 66 11-22-3-186 6-195-4-2 2-2-4-5 13 2 2 2 0 169-2 22 3 72-5 122 4 42-5-15 14-227 0-177-1-8-1-1 7 4 1 1 4 173-2 9-4 222 9-49 2-135 4-10 1-8-7-23 6-8-1-2 2-1-4 0 4-7-1-6 12 48-8 8 4 22 5 101 5-7-2-89 6-9 0-22 0-3-4-13-2-2 6-25 1-1 0-14-8-2 1 31 15 17-3 7-2 14 3 11-4 0 3 104 4 33 0-18 4-11 5-110 1-3-2-8-5-15-1-15 1-4 3-18 1-10 9 2 3 22-5 51-2 4 6 0-6 2 7 108-1-115 11-5 0-1-5-1 3-1-5-3 7-4-6-52 15 3 0 13-4 7 3 10-3 1-1 18 3 3 0 9 4 5-7-3 14-26-4-6 0-20 7-16-3-1-4-2 8-33-8-139-1 119 15 2-2 1 1 3 5 3-2 19-1 1 2 0-6 6 4 4-3 2 3 10-6 37 7 5 0 12-3 2 15-2-3-4-4-4 7-3-1-8-4-25-4-9 1-5-1-1 7-2 0-25-1-9-5-3 7-7-1-138 7 137-1 11 0 4-2 3 6 2-2 5 1 16 0 10-6 12 6 7-5 1 2 6 4 6-4 1-1 5 4 4-2 1-3 15 11-5 6-1-1-4-3-1 0-1-2-55-2-6 3 0 5-6-8-4 0-4 6-18-1-4-5 15 13 14 5 3-6 15 5 2-6 10 5 4-1 12-4 11 6 0 0 6-7 1 1 4 2-15 7-7 7-11 2-2-1-3-3-15-1-4-4-14 2-5 2-16-4-121 8-12-2 178 5 131 18-131 87 0-6 1 8-11 12 11 3 1 1 7 9 0-1-7 5-4-1-6-2-38-4" marker-start="url(#m4)" marker-mid="url(#m4)" marker-end="url(#m4)"/><path d="M2133 2780l20 11-43 5-30-6-7 4-19 11 51 1 45-2 1-1 113 6-110 8-24-7-11 4-41 3-33 10 18 2 54-4 13-3 17 0 10 7 6-8 56 12-68 6-20 0-14 0-9 0-17-5-22 0-12 0 9 6 19 0 30 9 2-1 13-2 259 0 3 8-29 1-216-5 0 0-8 1-69 1-14 15 20 2 176-5 3 1 134 10-283-5-9 2-2 7-24-3 57 4 212 1 35-1 33 13-235-2-54-1-4 7 82 11 138-6 2 1 45 4 10 10-38-2-7 3-145-6-1-1-3 7-31-8-57 5-96 7 40 0 66 6 63-5 184-2 3 5 5-5 4 8 18-4-2 11-19-2-24-2-166 1-52 5-69-3-24-1-20 4-74-4-5 13 23 0 4 0 40 2 231-2 110-7 29 6 5 9-1 2-22 2-7-8-11-1-9 4-63 4-182-3-77-3-14-1-3 2-57-2 29 18 122-5 191 2 64 0 34-6 3 15-32-4-64 8-24-4-123-5-151 7-23 2-35-2 10 9 30 2 121-1 50-7 90 7 115-6 17-1 12 10-10 1-14 2-28 5-40-1-27-3-41 6 8 5 14 4 89-4-86 19 27 5 67-8-11 11-27 6-26-7-161 5-174 0 181 13 7-1 189 8-99-6-31 5-32-1-58-1 21 15 4-7 15-1 7 6 27 3 10-3 44-5 64 7 4-2 14-5-12 14-31-2-12 5-3 1-5-6-92 1-15-4-29 6-6 0-8-5 7 10 82 2 103 6 2-1-118 7-3-5-1 9-29-2-13-1-20 1-171-2 175 6 13 18-21-2-168-1 211 17-2 5-63-5-30 1-6 12 20-4 44 10-1 12 4 1 23 7-25-2 119 24-126 98-1-2-7 0 0 5-4-1-2 5 0 2 11 1 2-2-7 12-5 2 4 9" marker-start="url(#m5)" marker-mid="url(#m5)" marker-end="url(#m5)"/><path d="M2127 2786l3-1 19 9-69 2-32 6 203 10-201 4 7 10 99 5-15 2-91-3 61 16 3 3 2-2 4-3 261-4-1 16-231-2-16 0-29 0-41 2 65 12 13-3 112-3 158 16-11-2-14 3-12-7-7 7-3-8 0 3-257 0-24-3-8 16 296 0-7 5-258 1-12 0 287 14 25-4-44 14 30 13-60 4-326 6 133 1 123 7 22-8 2 2 103-2 0 9-81 2-11 1-353 9 20-1 131 3 186 6 9-5 40 5 21 0 35 5-12 0-7 1-22-3-53-2-27 4-19 5-5-7-32 17 115-8 19 4 19 1 2 1 4-3-6 7-14 5-13-3-52-3-21 5-15-5-10 5-19 4-10 10 85 0 0-7 21 7 2-3 13-2 26 8 0 2-16-2-19 4-54-2-145-1-4 2-178 10 187 4 103-8 2 2 58 1 5 3 20-3 16 3-229 8 32 7 2 0 134 7 16-7 14 5 14 0-12 8-13-5-60 7-29-3-3 1-50 1-26 0-30 1 204 5-43 11-13-1 0-2-1 1-50 3-22 5-10-5-67 3 98 6 2 6 12-4 7-1 46-3 1 2 5 1-28 6-5 3-102 4-200 12 109 19 95 4-21-2-8 2-37 10 39 1 26 1-202 15 148 146 12 16" marker-start="url(#m6)" marker-mid="url(#m6)" marker-end="url(#m6)"/><path d="M2119 2779l-59 10 48-6 5 2 28-4 1 7 24-8-81 14-13 7 32 6 13 0 7-1 32-4-80 9-5 10 5 4 10 0 40-1 25-3 5 3-8 9-18 6-60-7-3 3-13 0 26 7 9 1 3-2 45 5 243 2-290 7-16 1 31 11 303-6 4 12-289-2-4 5-12-3 0 5-33 1 2 5 275-3 8 13-155 12 130 8-141 3-114 2-76 7 47 0 66 1 268 1 15-6-41 8-293 8-99 6 3 0 60 2 363 2 15-3-92 6-67 8-273 0-30 10 14-7 5 3 13-5 138 9 14-5 12 2 109-3 81 16-224-3-138 7 126 6 133-5 12 0 101-2 25 7-274 10-154 2 199 8 178-3 48-2-255 22 24-4 175 12-18-4-62 9-86-1-206-7-3 6 210 10 2-3 33-2 74-1 13 6 5 0 30 2 8-9 7 1 7 8-8 8-68-7-82 3-74-3 31 13 56 6 109-4-28 5-48 9-7-5-5 4-39 0 14 5 0 2 21-3 8 4 36-5 19-1-9 11-3 6-50-6-273 1 240 16-95 14 30 4 41-4-1 17-47-5-17 9 7 2 22 7-35 9 52 1 11 2-66 15 10 103 18 33-1-3" marker-start="url(#m7)" marker-mid="url(#m7)" marker-end="url(#m7)"/><path d="M2133 2779l-66 9 82 3-82 2 62 14 17 0 10-7-12 18-93 1-5 9 53-8 39 0 2 0 8 8 233 7-7 4-305-4-10-3-16 6 13 9 17-7 9 7 21-7 2 1 20 5 24 2-20 7-2-1-2 4-40-4-20 5-2-9 306 12 0 6 27-8 13 2 1 16-288-8-4 4-1 1-16 0-8-2-7 12 45-5 237 4 15 4 18-2 11-3 4 13-18-6-22 2-299 1 34 16 248-8 4-1 4 7 10-6 11 4 14-1 10 0-6 11-10 2-27 0-24-7-208 17 217-1 13 0 25-2 11 0-27 12-12-6-18 6-14 3-50-2-213 0-88 1-8-3 27 12 90 1 149-2 8 3 1-8 87 3-75 8-5 4-32 2-265-1-10 0 169 11 129-4 110 4 29-6-49 14-2 3-76-6-283 2-49 11 47-4 130-1 108 5 126 1 28-5 7 1-6 11-24-2-39-2-42 7-327-3 264 6 7 5 23-2 33-1 2 6 36-8 19 14-67-3-5 4-6 3-30-6-9 0-252 9 300-1 45 6 11 1 10-3 5-1 5 1 2 5 10-5-11 13-39 2-30 0-90-2-40 0 8 8 11-1 47-4 65 5 29-1-13 11-9 2-30-6-11 2-136 16 159 4-30 6-24-1-31 11 44-6 71 3-26 11-14 1-34-3-106 11 5 3 22-5 32 1-103 8 4 10 98 6-131 15 53 2-14 18" marker-start="url(#m8)" marker-mid="url(#m8)" marker-end="url(#m8)"/><path d="M2127 2796l-2-4-16 3-8-2 17 14 16-5 24 5-15 12-17-5-30-1-8 0-33 7 79 6 253 12-253-4-3-1-29-2-26 1 0-2-5 9-4-6 18 16 1-2 297 12-240-2-3-6-18 8-12-4-40-3 60 10 226 6 18 1 3-6 5 0 13-3-40 16-238-3-40 0 5 13 281-6 4 0 5 6 22-6 13 18-15-4-43 12 10-2 55 5-40 9-7-1-19-5-353 7 41 5 101 3 202-7 1 1 31 0 28 0-22 14-15-5-83 7-8-2-213-3-99 16 120-8 34 2 29 4 124 2 22-4 4 2 38-4 17 0 2-1 19 1 2 3 0-2 10 5-135 10-153-3-110 3-18 0-11 7 3 4 31-4 107 1 35-6 94 7 12-7 3 8 10 0 15-8 79 3 20-1 7-1 17 8-1 5-9-2-11 0-11 3-6 2-95-7-114 8-8-3-15 2-140 1-25 4 147 7 6-2 42-2 56-1 0-3 11 1 43 5 87-5 26 0 3 7-7 6-1-4-16 3-84 4-28-3-19-2-101 1-9 9 150 4 34-6 39 0 20 6 1-2-18 9-82 2-100 2-45-3-162-4 222 15 107 3 52-9-20 11-13 7-4-4-11 5-9-7-6 0-14 16 24-3 35-5-32 12-103 3-6 4-30-4-5 1-37 5 16 0 196-1-181 16-19 12 32 1 138-6-179 24-26 19 3 4-19 8-11-4 43 15 46-8 17 9-14 6-29-1-39 2-10 1 15 9 11 8-5-4" marker-start="url(#m9)" marker-mid="url(#m9)" marker-end="url(#m9)"/><path d="M2146 2779l-47 6 7-5 6 9 29 0 18 8-1-7-36 7-1-5-75 9 5 3 2 5 31-1 62 1 6 1-27 27-7-3 0 0-6-3-37 1-12 13 31-2 50 4 215 7-299-2 41 14 4-1 259 0 16-3 6 2 2 4 1-5 6 1 6 2-271 11-9 1-40 5 290 1 25 7-17 7-25 7 2 1 45 0 7 1-1 5-51 5-4-3-5 0-5 2-5 2-6-2-199-2-15-2 0-2-2 1-127 7 25 8 64-3 46-3 223 7 6-5 1 6 22-1 14 7-58 5-3-7-4 2-195-2-23 2-8-4-70 6-12 11 8-2 82-2 20-2 207 5 1 0 19-6 6 8 26 5-38-3-57 4-176 4-27-7-130 0-12 17 62-6 77-1 13 2 20-3 14 6 96-4 16-2 43 8 25-1 2-5 36 1-6 12-20 1-6-5-33 6-2 1-37 0-15-8-88 2-138-2-33 17 135-1 2 3 24-2 14-5 81 5 24-4 26 4 0-3 7-4 4 3 10 5-93 5-81 1-25 2-174-3 21 16 167-6 0 6 13 0 71-2 71-5 54 1-53 14-30-7-54 8-257-4 220 14 164-2 25 7-12 4-75-1-13-3-142 6 23 6 49 3 132-4 16-2 1-1-229 15 41 6-33 19 185 4-165 14 30 13-11 2-32-3-57 14 73 10-90 2 89 29 13 2 6 0-82 7 27 6" marker-start="url(#m10)" marker-mid="url(#m10)" marker-end="url(#m10)"/><path d="M2102 2788l3 34-2 15-2-6-44 11 334 10-303 10 58 7 207 7-246 1 277 8 21 9-29 5-22-5-3 3-1 1-7-8-263 7 251 9 6-3 7 0 5 0 0 5 6-2 56 1-28 11-9-3-28 2-7-1-5 0-4 1-5-4 11 16 1-4 8 3 56-7 3 5 4-5-20 18-61-2-254-1 276 5 34 1 0 5 6-6 7 3-82 8-19 7-11-9-35 6-136-2 139 8 54 4 6 3 37-9 33 0-77 10-2 8-14-1-15-1-24-3-122 4 109 6 8 2 133 8-45 1-1 5-44-1-2-3 44 6 17 10-46 8-112-3-230-5 329 17 38-2-29 15 28 10-45 13 1 2" marker-start="url(#m11)" marker-mid="url(#m11)" marker-end="url(#m11)"/><path d="M2359 2875l-16 17-19 10 21 3 8 4-32 6 4 36-12 3-3 7 23 15-38-2-10 4-9 14-3 22" marker-start="url(#m12)" marker-mid="url(#m12)" marker-end="url(#m12)"/><path d="M2060 2835l18 57-4 4-47 35 87 105 58 12 91 26-97 9 3-1 27-2 62 10-12 0-117 76" marker-start="url(#m0)" marker-mid="url(#m0)" marker-end="url(#m0)"/><path d="M2073 2786l40 3 19 0 35 5-53 2-1 2-20 9 3-1 59 8-15 5-87-8 42 16 2-2 23 0 19-2-9 16-38-2-40-7 32 19 6-4 5 3 14 2-53 13 24 2 10 4 16-3-33 9 18 23-3 3 290 18-410-5 4 7 79 7 42-5 22 15 0-5-21 4-19-5-105 4 57 15-81 17 26 21 120-4 37 0-180 12-16 8 293-4-126 34 18 9 24 0 34 5 63 0-6 8-45-2-2-5-55 15 22-2 28 0 0 15-18 1-237 3 235 4 47-1-88 5 1 18 34-1-53 9-61 0 14 12 16 0 30-1 0 0 50 2-27 5-79 4-2 3 1 8 96 3-22 1-26 4-64-2 0 7 82-1 14 3 11-2-52 9 2 119 1 12 2 15-13-2" marker-start="url(#m1)" marker-mid="url(#m1)" marker-end="url(#m1)"/><path d="M2153 2775l-88 13 25-3 72 4 2 0-34 8-34-3 0-4-4 19 21-1 3-6 9 7 23-1 6 11-19-8-2 0 0 0-22-1-19 5-1 3-31-3-6 0-2-2 21 7 2 0 23 8 18 0 12-3 257 13-161-5-66-1-31-2-17 1-3 1-6 2-31 2-14-3-4 6-1-1 8 6 22 0 15 2 13-5 12 0 92 5 189 4-263 2-14 6-16-3-52-3-4 13 42 3 1 0 13-7 22 6 123 0 2-6 142 10-285-1-14 8-9-5-8-3-17 5 48 13 231 9-238-2-121 13 109-7 313 1-51 12-263-1-16-1-70 2-16-2 1 9 36 5 4 2 2 0 41-7 114 5 144-3 44 3 24 4-53 4-237 0-80-4-89 19 11-6 51-3 7 6 3-4 82 1 239-1 2 0-42 17-166-5-29 5-5-4-92 1-23-3-35-3-16 13 43 6 27-1 135-3 5 3 75-2 143 3-68 8-61-7-92 9-18-3-152-4-10 6-12-3 0 8 147 5 27-7 151 11-24-1-145 9 133 3 82 2-209 10-150-3-15-1-13 7 13 10 2-7 4 6 198-5 138 5 38-3-199 14-20-5-167 5-1 0 172 6 13 1 14 4 3-3 1-6 59 17-29 1-27-8-13 5-19 4-1-4-4 1-10 2-4-7-3 8-168 2 14 2 178 4 2-6 1 4 2-1 6-1 29-1 11 4 4-1 0 2 1-1 9-4 56 2 10 4 30-7 39 1-26 11-33 5-27 1-39 0-8-5-23-3 0 7-25-7-23 3-8-1-10 2-1-4-1 8 8 10 5 0 7-5 1 1 14-2 12-1 15 0 0 7 79 0 29-2 10-7-51 14-15-3-42 4-4-3-3-2 0 6-1 3-32-7-4 0-22 0-175 3 185 13 9-7 2 8 2-6 6 2 19 4 4-6 17-1-3 14-10 0-3-2-1-2-12 2-10-1 0-1-15 3-8 1-38-3-9 2-143 6 135 8 1-3 4 3 2-9 5 0 2 0 5 7 5 2 15-6 2 1 1-2 5 6 14-7 14 5 5-4 6 7 14-8 5 6 2 8-14 1-21-3-5 4-9-7-8 9-3 0-17-7-16 4-12-3-15 15 5-7 16 6 18-1 10-6 3 6 1 1 10-7 15 4 3 4 9-3 1 2 2-4 10 3 3-2 6-2 2 11-27-2-11 3-4 3-2 0-3-1-3 3-22-3-5-1-21-4-4 6 2 10 16 1 6 0 14-7 2 3 4-4 29 8 4-4 9 1-23 11-3-4-9-2-1 1-6 0-28 8-6-4-130 0-14 5 175 5 6 116-9 25 6-4" marker-start="url(#m2)" marker-mid="url(#m2)" marker-end="url(#m2)"/><path d="M2162 2779l-65 6 15 3 11-4 3 4 149 9-133 1-3-8-7 1-41-1-12 2-32 12 6 3 18-4 17 1 4-3 10 1 2 0 1 0 5 2 15 5 5-6 2 4 1-3 12 3 110-2 11 0 20-5-136 18 0-6-7 3-9-3-2 1-7 1-20-4-4 6-1-1-12-5-3 4-19 5-5-3-6 2 9 7 23 1 52 1 91-7-71 14-15 0-11 2-2-2-3-3-7 5-32-6-7 4 0-3-36 4-9-3 29 11 5 2 4 1 3-4 9 6 18 0 19-4 5 3 2-1 18-1 60-2-96 7-27 9-1-4-6-1-29-2 55 14 10 0 17 0 2-1 267 9-48 0-219 2-5-3-6 2-52-1 35 10 0 4 310 1-313 1 57 10 48 5 138-3 42 4 5 13-31-6-168-1-68 4-13-3-1 1-26 0-133 11 3 2 13-4 9 4 2 1 38-6 57-2 60 14-60-4-52 6-8 1-64 10 14 2 24-4 30-3 5 7 0-3 14-4 93 2 202 3 8-5-6 14-60-3-29 6-108-9-13 5-2-1-5-1-112 5-14-8-24 6-7-1-24 5 29 0 14 4 20-1 91-3 20 3 6 5 205-3-43 11-32-5-136 2-137-1-20-1-2 1-17 2 8 13 174 1 172 0 26-5 37 15-84-7-43 6-8-2-3-2-12 2-52 3-17-6-156-1-27 7-3 1-3 5 155 4 20-1 78-3 39 15-17-7-96 4-191 11 167 0 21-2 183-1 41 1-181 14-7-4-7-4-1 7-4-7-14 2-5 4-10-3-8 3-12 2 1 3 1 2 12 0 5 2 26-3 12 5 5-1 121 2 40-4-9 7-68 7-3 0-19-3-47 0-16-1-3-5-3 5-1-2-10 6-12-4 0-1-14 5-5-5-10 4 1 4 0-1 4 6 6-3 13 1 1-3 9-2 0 8 11-2 1-3 1-3 2 2 3 7 9-2 1-2 0 3 81-2 50-4-25 10-28-1-11 6-7 0-20-1-18-1-5-5-12 8-1-7-8 1-3 1-3-1-16 3-3-3-6-2-8 3-1 6-19-2-2-7-3 1-5 5-166-4 163 15 2-7 2 2 3 5 15-7 10 6 6-5 5 7 3-7 3 3 11-3 15 0 53 4 48-5-127 15-2-5-15 3-1 6 0-5-4 2-4-2-5 5-7-2-50 5 66 6 2-2 9 1 16-4 15-3 1 8 7-8-18 11-12 7-7-5-13 1-5 4-6-2-37 2-2 0-10-5-2 4-4 0-10-6-8 18 2-1 19-1 6-6 4 8 21-2 7-1 6-2 14-4 5 0 21 5 12 4 3-4 10-4-9 9-4 2-3 7-3 0-8-5 0 4-4-6-1 1-16 3-25-3-2 5-2-3-2 3-8-8-2 2-12 3-2 3-3-1-9-2-129 8 129-3 5 7 10 0 26-1 3 1 9-3 7 0 1 5 3-1 2-5 7 1 4-1 1 3 3-2 2 0 16-2 13 4-11 4-4 2 0-1-7 0-8 1-8 1-14 2-1-5-16 9-5-4-1-1-6 3-9-5-10 6-5-1-147-4 130 10 4 4 10-4 7 1 2 1 3-3 3 2 9-3 2 0 1 8 13-8 11 1 18 0 6 5 1-1 1-2-7 13-7 2-9-1-2-7-12 2-1-2-9 0 0 7-15-7-10 0-156 7 17 5 10 4 167-5 9-2-21 109 6 4-35 11 34 5 3-3-4 4-8 6" marker-start="url(#m3)" marker-mid="url(#m3)" marker-end="url(#m3)"/><path d="M2082 2789l45-6 149 14-127 2-45-8-17 2-13 1-2-1-3-2-20 5 4 4 0 7 9-4 5-3 12 3 48 0 14 4 5-5 1 5 15-3 5 8-9 3-20 0 0-5-7 9-66-1-23 2 1 1 8 3 7-2 3 4 6-5 17 0 28 7 7-6 39 10-16 7-34 0-2-2-35-1-11-2-9-3 12 16 31-5 1 7 22-8 2 3 12-3 10 2 249 14-252-3-6 1-39-3-4-2-4 9-3-2-9-2-14 1 30 9 22 2 38-7 109 8 110-1 7 2 3-5 30 2-293 6-26 2-4-2-16 12 4 0 6-3 13 6 14-3 14-1 10-2 257 3-175 13-92-1-12-6-4 7-2-3-2 9 103 2-12 11-68-5-14 8-11-7-3 2-10 5-28 0-43-4-20-5-5 1-7 5-4 1-16 7 2 1 6 0 10-4 8 6 48 1 13-1 12-4 7-2 25 8 12-3 5-3 84 0 152-1-230 14-33 3-66-2-45 0-7-7-7 1-3-1-3 8-3 10 1-8 9 5 22-4 15 6 9-5 27 4 0 0 4-5 63 4 22-5 15 8 245-6-4 16-106-5-166 0-16-1-67-1-16-1-23 8-12 0-14 1-12-9-9 17 1 2 16-1 14-4 0 5 15-2 19 0 127-2 6-5 11 9 147-6 44 5-26 6-55 4-19-6-12 0-102 3-8 3-157 0-10 2 143 5 24-4 9 8 20-6 166-3 65 9-46 10-48-3-22 1-148-4-152-1-14 7-8 3 13 6 7-7 145 1 42-1 9 3 193 6-4 0-76 6-110-5-15 2-9-1-179 1-17 5 175 11 12-4 32 4 106-1 23-4 42-2 9 5-68 9-17-1-71 0-41-2-1 5-5 0-202 1-12-6 184 10 45-2 2-1 1 0 16 2 99-1 41 5 4-6-14 12-80 0-35 4-11 0-5-1-1 4-3-6-9 1-1 5-8-1-6-7-7-1-14 3-13-3-5 1-160 5-16-1 164 11 13-3 1 5 8-1 17 2 9-8 13 8 8-9 2 1 13 0 1 8 0-9 13 2 2 6 82 7-43-5-53 8-1-1-6 0-34-5-1 7-1-5-9-4-1 7-27 5 9 3 3-2 1 0 3 1 11-2 24-2 6 0 3 3 5-3 11 5 0-3 44 6 68-7-35 16-74-4-1 3-8 0-13 2-21 0-33 0-6-5-3 3-177 11 189-3 3 5 12-6 25 6 3-5 4 1-3 5-6 7-34-3-1 3-3-3-179-4-2 18 142 1 6-6 12 6 18-3 24-2 6 1 20 7-1 7-3-2-5 1-3-2-28-3-3 3-14 2-13-5-4 1-24 5-10-1-131-3-1 13 125-2 7-1 7 1 71-4 16-1 10 4-9 13-10-2-11 2-3-3-1 4-2-8-4 5-4-6-4 3-4-3-26 2 0 0-16 2-3 3 0 0-10-1 1 11 9-7 34 9 5-4 7-4 35-1 4 2-5 12-5 1-11 0 0 4-16-3-24 3-16 0 0 0-154-6 9 9 177-1 134 22-140 80-37 25 39-2 1-3 0 0 14 9-5 7-11-9-5 1 4 9 8 3" marker-start="url(#m4)" marker-mid="url(#m4)" marker-end="url(#m4)"/><path d="M2107 2788l25 1 15 10-22-3-6-2-54 10 94-4 82 8 29-7-128 9-22 5-39 4-33 2 35 7 46-2 8 0-2 5-10-1-13 4-6 3-45 6 75 2 7-1 223 14-218-6-7 7-29 0-14-9-27 8 7 7 10-3 15-2 30 2 259 0 19 3-286 12-18 0-21 1-9-8 42 13 13 0 229-1 33 7 3-2 8-3-198 14-47-6 189 8 33 4-208 9-47 3-12 2-134-1 70 10 15-2 126-3 145 5 62 0-365 9 0 1-5-4-8-3-17 8-1 1-31-5-35 10 62-4 282 2 46 5 44 0 31 6-34-1-14 7-28 0-71-5-299 6 14 6 16-4 332 4 3 1 11 1 12-1 37-5 1 0 7 7-26 3-39 1-19-2-61 5-300 0-10 5 3 2 272 0 83 5 49 1 27-2 8-5-13 17-244-6-14 1-138-4-49 8 306 7 58-4 27 3 18 0 10-4 4 4 6 5 4 2-87 0-69 5-255 3-17-1-7 1 21 8 8-6 274 7 103-3 28-4-63 17-28-3-20 1-98 2-7 1-45-7 8 10 67 5 5 2 44-3 80-6 15 4 2 4 8-6-15 10-6 2-5 5-13-9-49 0-61 3-79 6-5-5 33 6 54 9 1-6 69 4 21 1 46-3-68 5-70 7-34-1-12-5-16 0-12 8-3-7-178-1 187 13 43-2 57-1 7 4 3 2 13-1 7 0 34 1-63 7-34-2-36 2-10-4-74 19 69 4-15 0-38 12 12 0 33 1 6 6-7 3-62-5-21 9 4 7 1-6 73 5 24-2 9 4 10 7-80-1-147-3 114 17 41-2 10 1 31-4 1 5 9-5-8 14-2 2-42-8-20 5 22 114 9-2 14 7-5 1-36 14 10-8 6 3 3 3 9-5-1 10-5 3-36-5 32 10 10 2" marker-start="url(#m5)" marker-mid="url(#m5)" marker-end="url(#m5)"/><path d="M2137 2782l6 7 9-9-37 19-17-2-12 8 57 9-42 2-42-2-17 8 7 4 4-1 31 4 10-3 25-5 23 18-83-7 60 17 277 5-16 0-249 16-42 10 256 13-241 8 16-1 60 8 173-2 5-5 4-1 9 4 35-3 2 14-3-3-19 5-4-6-5 3-1 2-307-3-109 10 68 6 17-1 364 3-9 8-31-8 0 7-394-4-23-3 332 16 45 1 7 1 70-7-46 13-128 4-265-2 0 1 32 2 225 9 57-6 21 1 23 3 23-3 33 15-98-1-6-5-18 3-8 0-116-6-34 1-9 3-168 13 291-5 72-1 29 0 7 4 31 10-35-5-35 4-48-2-102-1-180 16 314 0 6-7 93 8-34 11-28-7-11-2-28 6-32-3-96 1-212 3 243 9 80-4 104-2-27 15-139-1-27 2-49 13 53-3 7 0 28 0 0 3 80-7 24-2-8 16-3-5-9 8-32-6-96-2-14 15 55-5 61 4 37 1 9-2-64 13-30-1-10 0-26 0-23-5-64-1 99 17 7 0 61-1 4 2 28-7-72 13-4-2-66 0 19 12-19 12-79 4 23 6 19-4 27 17-17-3-201-3 195 7 9 3 15 0-14 10-82 8 74 11-30 3-29-3 163 28-126 97 3 3 3 22" marker-start="url(#m6)" marker-mid="url(#m6)" marker-end="url(#m6)"/><path d="M2131 2782l15 1 14 10-34-2-57 4-26 13 2-1 54-3 24-3 3 1 12 2 113 1-91 10-8 1-13-5-93 5-7-2 6 9 4 4 14-7 77 3-30 16-33-6-4 2-16 3-12-4 43 15 68-9 219 8 1-3-235 14-44-7-4 4-21 6 43-2 9 7 241-7-267 13 276 15 30-3 9 8-13 3-19 2-11 1-254-5-9-1-5 7 73 5 241-3-18 8-35 3-245 4-61-1-87 2-5-1-18 11 62-5 370-3-272 10-43 6-42-3-43 2-11 0 30 12 111-2 229 0 8 2 41 4-107 5-55-2-132 3-127-4-13 8 264 7 41-4 51 4 4 0 20-1 33-5 8 3-132 13-281-5 374 12 29-1-24 10-25 1-67 3-108-6-183 1 357 9 29 8-118 0 0 2-305 8 184 2 232 8-88 0-58 5-266 4 0 0 192 3 2 5 36 1 147-7 3 16-134 2-80-4 108 14 65 0 21-3 32-4-118 17-81-5-32 6 112 6 23-5 23 6-15 9-37-6-83 1 22 26-47-4-160 16 175-1 43 11-7-1-69 1-38 6 22-2 10-2 21 7 36 3-31 6-32 10 1-3 1 3 19-3 63-2 7 1" marker-start="url(#m7)" marker-mid="url(#m7)" marker-end="url(#m7)"/><path d="M2108 2783l56-3 111 19-123-9-48 5-8-1-42 12 9 1 0 2 12-7 3 7 53-7 20-2-5 17-13 2-32-5-7-2-35 14 11-4 22 5-42 21 46-6 282 17-15-2-248-6-10 6-7 1-34-4 312 8 35-2-17 16-13 0-32-6-220 5-11-2-21-2-4 16 12-3 8 2 1-4 10-2 259 17-47-4 3 8-263 9-110 4 80 8 301 2 1 0 13-4 8 1 29 1-22 8-115 9-6 0-255-1-40-2 40 12 78-7 205 3 16 5 69-1 31 10-6-3-59 2-92-6-258 8-40 1 64 5 244-5 9 5 64-5 25 2 1 1 24-3 6 16-7 2-11-5-10 1-10 5-2-5-18 2-16-5-8 2-12 2-22-5-305 0 254 10 36 2 43-2 27 6 55 7-44-1-8 5-74-5-36 7-282-3 189 11 118-3 27 3 8 1 12-1 10-7 12 6 30 3 4-5 14 8-56 2-22 4-39-5-2-3-11 5-12-1-10 5-85 7 70-1 7 1 17 5-23 5-12-5-50 1-192 1 0 10 187 6 175-6 12 6 1 2-54 4-37 1-107 1-15 10 11 1 31 1 122-6 8 1 5 5 0-1 4-6 11-1 7 4-17 9-12 3-21-2-5-5-7 0-25 0-43 17 86-7 11 0-58 16-6-6-65 11-86 26 3-1 18 3 79-6-71 9 25 12-14 6-15 4 22 137-11-1-5 21" marker-start="url(#m8)" marker-mid="url(#m8)" marker-end="url(#m8)"/><path d="M2092 2786l26 3 3-7 12 5 25-7-46 11-37 11 73 17-16-2-12-3-32-2-35 12 12 5 31-6 14 3 23 2 7-7 23 10-55 5-13-3-13 6-19-3-4 3 0 1 48 5 282-3 6 13-15 3-275-5-20 11 276 5 44-1-27 10-10-2-264 2-5-2-30-1 13 6 1 6 14-1 13 3 231-5 12 0 56 9-32-3-15 5-261 0 235 11 23 3 5-4 2-2 15 6 16 2-15 0-46 5-209-3-30-3-10 0-94 15 99-4 239 0 7 7 63-1-8 4-47-1-1 1-205 7-16-7-12 7-143 2 117 7 1-4 173 6 10-7 119 0-20 15-29-4-36-1-9 6-47-5-123 5-157-5 136 13 150-3 11 3 10 3 4-1 7 0 28-8 35 6 4-1 42-2-26 12-6-5-59 9-29-6-26 4-4-3-1-1-10-2-94 0-164 12 171 0 125-3 24 9 73-7-38 16-10-4-46-2-1 4-151 2-5-6-20 3 2 8 6 6 116 0 3-9 88 8 23 0 0-3 18 11-36 2-19-2-47-3-6 3-5 3-6-9-99 1-28 0-183 10 190 0 126 3 14 3 56-1 38 7-103-1-55 7-84-8-19 3 83 12 84 1 9-1 23-3 5 7-11 4-29-4-9 4 36 19-7 10 4 2 7-3-124 37-17-6-69 10 48 6 20 8-9-3-46-1-34-3-1 1 11 9 78 2-44 9-7 7-36 10 25-4 2 5 54 2-9-1-51 9-2 130 3-5 5 14" marker-start="url(#m9)" marker-mid="url(#m9)" marker-end="url(#m9)"/><path d="M2163 2778l-18 16-3 3-50-1-29 11 25-1 64-3-22 15-25-1-5-5-31 2-2-1-26 14 14-2 3 4 94 0-24 13 10 0 14 3 228-3 13 4 11 6-10 0-286-2 6 10 238 8 15-1 18 1 11 0 2 11-33-4-17 3-262 9 273-1 49-4 4-1-15 9-18 7-24 1-21-3-225 14 2-9 228 5 32 3 19 5-4 2-20 2-1-7-22 4-216-2-34 3-7 13 2-8 246 0 27 4 33-1 7 0-26 16-21-5-4 0-9 0-21-2-190-2-4 0-8 0-2 9-96-8 11 13 67 3 188-4 7 4 82 11-10 1-67-6-175 3-27-4-83 7 89 10 5-1 17-4 6 0 4 2 4 3 151-5 12 4 8-6 31 5 2-3 13-3 45 0-26 12-23-3-1 8-26-5-44 0-58 4-109-4-146-3-31 11 274 0 60 7 7 0 97-1-21 12-47-3-5-2-15 1-4-4-23 8-30-2-15-3-71 4-218 4 26 7 168 0 5-1 83 1 11-5 110-2 7 0 9 0-4 11-22 2-6-2-4 0-42-2-13 1-19-2-30 3-60 5-17-1-17 2-2-6-176 15 170-8 220 5 20 5-62 2-108 5-93 11 230-6 4-2-30 11-162 8-7-1 37 9 31-5 97 7 7-3 11-5-12 10 0 3-134 23-5 6-61 20 46 5-16 4 19 19-95 10 44 8-22 1" marker-start="url(#m10)" marker-mid="url(#m10)" marker-end="url(#m10)"/><path d="M2092 2815l-47 14 90 15-10 9 283 9-38 9-16 2-2 3-5-3 9 7 32 10-39 5-8 0-240 10 8-2 275 2 12-3 13 10-47 7-24 0-2-9-7 1-197 7-17 0 218 5 0 4 2-4 37 6 30 1-9 7-54-6-14 5-4 2-195-6 191 16 1-8 1 5 8 0 4-4 13 7 38 1 9-3 6 7-26 0-42 2-10 3-20-5-23 5-20 9 18 0 19-2 2 1 1 2 0 1 1-6 17 3 4-1 10-2 62 3-2 9-4 2-93-6-3 1-140 3 55 6 61 8 31-9 24 17-1 12 22-9 22 8-95 5-118 0-222 1 202 9 210 3-26 10 0 8-164 13 123 15" marker-start="url(#m11)" marker-mid="url(#m11)" marker-end="url(#m11)"/><path d="M2114 2838l-41 33 272 11 7 37-30-2 10 7 56 8-63 10 1-2 1 9-3 8-19 16-29 6-158-3" marker-start="url(#m12)" marker-mid="url(#m12)" marker-end="url(#m12)"/><path d="M2100 2826l9 39 53 183 6-3 34 4-53 2 62 25-7 3-81 10 48-1-23 61-80 17" marker-start="url(#m0)" marker-mid="url(#m0)" marker-end="url(#m0)"/><path d="M2165 2773l-46 13-20 12-31 0-22 3 79 17-50-5-27 4 23 12 16-2 39 10-18 0-44 6 0-1 39 12 3 15-12 8-9-4 65 13-67 15 28 2 87 1-74 10-18 5-132 8 108-2 289 0-267 10-10-2-17 1-14 4-128 2 50 5 23 9-67-2 1 16 156-3 19 2 5-4-7 13-168 12 194 1 4-8-21 20 19 8 84-5 115 12-93 32-50 9-34 0-5 2-236 6 244-2 5 2 4-1 36-2-75 17-28-3-21 8 20 4 3-3 15 3 73-8 25 7-66 10-30-3-20 15 11-3 10 2 13-4 15 8-23 1-95 4 2 11 8-6 27 5 67 7-46 2-52-5 79 23-23 3-26-5-11 3-26-1 43 15 50-6-86 12-127-5 160 134 9 10" marker-start="url(#m1)" marker-mid="url(#m1)" marker-end="url(#m1)"/><path d="M2165 2774l-40 2-10 12 22 6-7 4-11-1-6-7-4 8-30-8-30 13 2 0 27 0 20-1 21-1 14 7 3-5 118 3-12 5-91 3-11-4-1 2-64 8 33 7 12-3 13 5 95-1-12 11-77-6-14 1-7 2-32-5-3 2-4-3-2 8-24 0-3 0-1 1 44 4 39-1 13 3 9-3 56-2-66 19-3 0-2-9-23 8-14-7-1 6-6-3-4-4-15 5-9-5 0 10 35 6 16 2 0 7-14-4-4 5-1 3-27 9 8-8 3 8 19-6 252 1-198 12-47-5-35 13 49-3 242 18-364-1-32 10 11 0 6 1 22-1 46-5 77 3 62-1 157 15-170-8-58 7-23-2-9 3-23-6-30-3-30 7-21 1-26-5-1 1-13-1 1 7 19 5 23-4 5 6 97 1 30-8 216 7 63-3-47 11-7 0-110-3-90 1-154-1-4 3-7-1-6 5-17-2-19 2-5-3 45 11 112-5 29 0 7 1 205 2-373 9-5-4-1 0-1 2-18 6 2 6 7 4 34-6 147 6 252-4-31 6-27 0-68 8-324-5-1 6 13 3 0-1 160-1 4 2 7-1 100 8 100-8 51 10-2 1-256 6 225 7-130 13-5-1-35-1-4-4-8 2-2 1-7-3-11 7-10-7-4 2-20 14 14-2 14-5 19 2 4 0 0 2 0-4 20 8 26-5 46 12-50 2-16-4-1 0-6 2-7-1-48 4-12 4 4 2 0 0 14 3 34-2 34 0 1-6 19 2 1 0-27 16-17-3-7 4-2 0-8 0-29-3-15-1-4 1-14-4-153 16 164 0 16-1 3-2 1 0 7 0 7 1 5-4 4 1 43 0 16 6 60-3-3 8-20-2-63 6-24-6-1 7-15 0-22-4-1 14 5-1 10-5 13 6 1-6 7 6 8-1 6-8 9 12-11-2-9 5-8-1-5 1-1-3-15 6-15 1-55-3-1 11 23-7 13 7 22-5 19 3 3-5 0 4 24 0-1 13-2 0-3-6-2 5-9 0-4-6-14 1-13 7-1-4-1 3-10-4-13 0-4-2-2 4-2 1-11 0-4 2-1-4-142-3 122 10 8 6 1-7 10 3 1 6 2-7 29 3 5-2 3 5 11 0 7-3 6-1 7-1 12 2 22-4-16 10-14 5-7 0-8-3-22 4-2-1-6 2-14 0-15-6-1 2-6 3-4 1-3 10 2-8 5 0 2 1 1-1 29 2 43 0 0 4 5 0 17 3 9-8-18 10-24-1-10 3-16-2 0-1-28 4-8 0-13-3-133 5 198 4 23 3-31 126 2-8 2 2-9 11 0 3-2 7" marker-start="url(#m2)" marker-mid="url(#m2)" marker-end="url(#m2)"/><path d="M2162 2779l0-1-5-1-5-2-57 8 25-1 11-1 11 5 22 6-4 1-5 4-22 0-2-6-2 3-17-2-5-2-11 2-13 6-9-4-11-4-2 9 15 9 11-7 31 4 13-2 14 6 12-5-6 11-40-1-19-4-19 8-19-4-2 12 23-2 35-4 38 1-7 12-33 4-19-3-1 0-24 4-14-3 6 10 1 0 17 3 81-4 253 11-157 1-100-5-35 4-33 3-17 8 7-6 6 8 1-6 27-2 8 4 6 5 23-4 243-2 8 10-31 3-226-6-7 5-36 0-15-5-8 1-5 2 7 10 8-2 14 8 19-7 250 4-26 11-231-6-15 0 20 9 87 9 1-9 179 2 34 9-55-1-167 4-95-1-35 5-85-3-7-3 16 17 11 0 18-7 2 1 8 3 48-4 7-2 33 9 9-2 1-7 285 3-20 14-11-5-260 7-40-3-13-5-11 5-12 0-13-2-9 5-28 0-30-9-11 13 51 0 6 1 15-3 73 3 18-2 13 2 2 1 216 2 16 1 29-2 11-4-10 9-17 8-38-1-213-2-102-5-14 6-1-7-3 6-19-1 0-2-12 2-2-4-7 3-18 0-5 1-4 2-2 10 3 1 26-8 29 3 94 2 14 4 5-6 39 0 209-2-8 9-26 0-67 8-30 0-109 1-154-9-37 10 16 9 39-5 166-3 153-1 33 0 48 7 3-4-108 14-38-1-88-6-15 0-1 8 0-7-14 6-2-3-170-4 0 3-2 2-5 3-2-2-7-4-3 12 10 1 1 3 13-1 183-1 112-6-61 18-52-7-30 6-160 8 7 3 157 1 9-3 12-1 176 4 33-1-203 4-12-2-2 5-1-2-15 5-7 0-172-4 171 6 33 9 3 0 9 0 15 0 7-2 31 1 100-5 11 1-65 7-69 6-11-2-1-4-9 6-19 2-7-9 0 1-32 0-1 4-1 2 0-4-156 3-14 8 171 4 46-4 2 2 21-1 5 2 5-5 17-1 10 3 60 1 31-3-18 17-6-9-18 8-16-1-32 0-17-6-2-1-3 9-11-8-1 7-19 1-1-1-4-4-7-1-29 1-16 9 11 1 19 2 4-1 11-4 3-1 29 4 5-1 4 3 6-5 30 5 66 1-13 6-16 2-39 3-40-8-9 0-1 8-33-2-5 0-13 0-1-1-15-3 21 16 15-8 4 2 17 7 1-2 5-7 2 7 1-7 1 5-9 10-4-4-11 5-1-1-37 4-46-4-4 4-125-9-3 12 122 4 8-6 19 2 10 6 17 0 27-4 5 5 6-3 1 3 5-5 19 0 0 1 1 3-7 10-8-3-4 4-3-2-8 2-10-9-3 4-16 0-10 5-2-5-4 4 0-3-2 2-8-5-3-2-14 2-8 7-3-5-2 4-12-2-9 1 24 3 17 4 6-1 1 2 13 1 30 3 1 0 3-3 1 2 2-3 2 4 6-2 11-3 9-4 1 2-3 9-4 1-1 7-10-8-5 0-1 1-6 2-3-3 0 8-3-7-7 0-15 2-1 2-3 0-11-6-19 4-1-3-9 3 0 5-14-2-2-4-120 14 5 1 121-2 19-4 2 0 0 6 3-6 34 3 3 0 3-4 11 7 7 1 2 0 12-8 3 3 4 12-10-4-9 6-4-8-5 4-4-4-4 1-5 2-15 5-7-7-22 6-2-1-121-1 155 7 2-2 5 118-42 7 26 2 2-7 6 2 1 9-39 0 44 15" marker-start="url(#m3)" marker-mid="url(#m3)" marker-end="url(#m3)"/><path d="M2163 2776l-5-1-45 1-32 13 12-3 16 3 4-1 22-4 12-1 2-3-3 16-4 3-67-5-13-2-6 7-9 7 7-3 25-2 3 1 0 2 0 0 4-3 9-1 10 6 0-3 16 6 4-5 2 3 6-7 9 3 1 3 10-3 1-1 102-2 12 5-26 6-109 1-23 0-6-2-19 6-15-4-2 4-3-2-13-3-2 15 4-3 6 1 15 5 11-6 12 2 13 2 20-5 7 1 1 1 6 3 17-4 65 2-73 11-2-4-25 5-11-4-1 2-9-1-11 5-12-8-20 4 45 5 6 0 5 1 266 4 5 11-280 1-15-2-4 1-31 3-7 2 14 2 1 0 17 3 21-1 8-5 21 9 4-9 221 4 11 5-20 6-229 1-8 3-11-9-9 9-12 0-12-4 6 13 4-7 11 6 11 0 10-4 259 1 36 11-202 4-119-7-2 9 121 7 174-4 7 3 24-2-24 5-256 5-16 0-4 1-21 2-9 1 0-1-9-2-95 6 7 6 4-2 21-4 11-1 39 2 13 5 43-2 17-3 3 5 1-2 258 13-122-5-131 0-54 1-20 4-2-5-12-1-1 3-37 0-34 3-29-9-5 16 5 0 17 3 89-5 56 1 11 0 228-5 21 3-265 14-18-3-88-1-10 3-37-2-23 2 8 8 25 3 12 0 5 0 14-5 2 7 5-2 12 1 86 0 12 1 201-3 34-5 35 12-5-2-44 6-43 1-62-7-113 7-2-1-136 1-22-5-18 6-10-6 8 8 157 0 129 6 22-6 5 6 29 2 66-7 20 1-44 7-68 1-142 8-8-7-5 3-4 4-135-8-6 4-30-4 5 16 2 2 17-3 153-5 10 2 17 1 2 0 8 1 10 2 63-3 117 1 0 14-2-8-101 8-99-1-20-8-145 1-9-1 153 17 7-2 8 4 144-4 45 1 15 0 0 0 11 13-192 0-6-1-16-7-8 5-6-2-182 1 0-2 8 15 163-6 6-1 20-1 5 1 3 7 125 1 52-5-24 8-136 6-17-4-3 1-30 1-15-4 22 13 31 0 5-4 29 8 107-5-7 7-21 4-68 3-1-6-6 3-2-4-20 5-3-6-8 3-6 1 0 2-39-5-1 12 9-1 0 0 7-2 17 1 2 1 28 3 2-5 1 5 10 2 4-5 5-1 2 3 84 7-12 2-2 0-4-3-23 4-53-1-9-3-10 0-9 4-17-2-7-1 2 10 3 8 17-6 2-2 19 8-28 8-12-5-11-1-8 2-33 4-7-7-31 9 16 1 19 4 0 0 9-3 6 1 7 5 21-3 2-4 4 8 25 10-3-8-32 7-20-2-2 1-48 2 16 10 16-1 14-5 14 3 19 4 1-2 14 2 1-8 1 3 16-3-9 13-7 5-7-3-2-2-2-1-20-2-12 1-28 7-6-2-3-3-136-3 0 14 118 0 2-3 11 1 29 2 3-1 1 5 10-1 1 1 6-9 14 6 3-3 23 3-63 5-9 5-3-4-9 2-20-2-118 0 166 117 2-7 6 2 9 15-2-7-5 0-5 2-48 14 3 0 14-2 24-3 13-3 5 1-20 18" marker-start="url(#m4)" marker-mid="url(#m4)" marker-end="url(#m4)"/><path d="M2169 2778l-2-6 120 25-18-1-119 0-56 4 22 9 120-3 28 2-12 4-7-1-95 6-15-6-44 1-33 12 11 4 26-7 6 8 18-3 37 2 76-7-12 14-118 3-34-2-19-4-1 1-3 13 25-4 43 6 32-7 65 3 168 0 6-2 12 11-8 2-260-2-28 3-8-1-1 2 10 4 51 4 93 1 12-6 100 4 22-1 4 0 20 1-28 14-19 0-257-7-7 2-4 1-8 5 7 8 16 2 8-2 250 1 34-1 8 10-19-1-19-6-13 3-6 12 47 4 5 4-31 5-10-2-167-2-193 5 57 3 6 4 9 0 21-6 3 1 13 6 261 2 3-6 37 6-27 6-3 1-332-5-12-1-27 3-45-3-20 7 27 4 103-1 211 0 18 9 104-6-66 8-325 6-54-7-22 10 9 9 1-4 40-3 107 5 21-4 8 5 24-1 113-3 80-4-96 15-40 2-64-7-198 4 11 13 179 1 88-8 44 1 49 4 35 1 6-3-15 11-216 3-13-7-160 13 148 3 29 1 68-5 120 7 10-9 8 6 19-5 10-1-99 14-9-1-42-2-275 6 0-5-4-2 18 11 343 1 2 1 11 5 43-7-81 10-78 2-68 10 175 0 4 5 17-6 8-2-33 19-22-3-35-2-38 1-72 3-2-1-24-6-7 2-8-3-6 3-163 10 176-3 39 2 7 7 19 0 4-8 29 8 83-1-111 2-22 6-26 2-13-7-190 18 249-2 37 0 15 1 29-1 6 6-117-2-37 4-174 14 213-6 24 14-29-5-94 7-111-8-11 15 185 2 12-6 4 1 21 8-84 3-130 2-11-5 139 9 17 3 21 9-12 7-158-2-5 11 6 0 116-7 4-1 16 2 68 1 2 5-57 10-157 11 179-5-7 97 2 4 8 12-54 12 46-7 6 6 6-1" marker-start="url(#m5)" marker-mid="url(#m5)" marker-end="url(#m5)"/><path d="M2150 2775l-39 20-36-5-13 10 14 0 37 2 39 5 3-3 228 26-263 0-45 11 26 6 11-6 301 11-330 5-17 8 1 0 5-3 286 0 26 12-240 0-12 4-13 1-21-9-28 9 21 4 294 15-221-2-78-4 255 9 47 1 27-2-221 22 169-2 30 4 10 5-24 10-38-5-74 5-15-2-302 9 57 0 13 0 62 3 26-8 281 13-1 3-5-7-21 4-29-4-7 5-28-3-334 1-38 2 46 8 128 3 21-2 123-3 21 4 96 6-2 4-8 3-9-5-17-3-34 5-30-2-3 0-4 6-287 9 155 0 99-3 43 1 60-6 33 8 6 0-31 2-12 5-4-2-43-3-32 6-318-3 187 12 103 1 18 3 73-6 2 5 28 5-21 0-23 3-44 0-16-5-29 7 110 8 16 11-14-6-16 4-174-1-9 4-22 6 60 4 102-6 1 5 4-2 17-3 33 2-42 8-45 2-43-2-25 14 11-1 2-1 109 11 0 2-16-1-27 1-12 0-48 0-5-3-10 5-59-4 89 12 18-4 37 8-38 5-8-3-70-2-5 10 6 5 1-3-18 10-18 1-175 2-7-4 191 11 5 7-9 5-14 2-5-1-38-5-128 15 204-4 16 2-27 12 7 4-54 19 33 110-60 25" marker-start="url(#m6)" marker-mid="url(#m6)" marker-end="url(#m6)"/><path d="M2123 2788l1-3 32 8-34 0-75 9 49 2 14 5 43 10-74-7-17 15 22-7 15 0 38 0-71 11-3 18 32-8 117-1 168 14 0 3-20 2-249-5-59-2 46 8 30 8 13-2 263 0-5 12-5-1-41 0-251-3-8 11 17 4 264-1 38 11-54-9-262 19 103-5 152 6-382 11 5 3 24 5 29 0 52-3 8 8-8 4-95-6-37 5-1 9 31-1 36-4 1 2 233 3 15 2 74-7 11 3 4 5 8 10-9 0-41-1-8-2-339-4-31 0 296 11 20-2 1-1 95 7 38 0-248 8-179 14 389-9 24 5 9-5-9 13-24 4-29-7-80 3-316 6 31 2 147-1 103 9 9-2 28-7 26 9 90 4-12 3-68-2-24 1-13-3-43 7-250 4 196-1 51 1 50 1 57 1-102 12-60 0 31 4 2 7 36-8 67 9 4-7-41 16-20-8-31 3-29-2 30 11 66 6 22 0 30 3-14 1-19 3-11-2-37 5-37-5-47-1-30 17 115-6 34-3 11 6 6-4 5 0-20 9 0 2-36-2-35 1-37 7-58-6 4 11 71-2-41 25 2-1-88 22 33 1 30 9-55 1-134 39 172 95-3 23" marker-start="url(#m7)" marker-mid="url(#m7)" marker-end="url(#m7)"/><path d="M2130 2799l-28-2-16-6-21 15 54 1 6 0 5 3-27 7-9-6-1 8-16-4-23 4 72 5 6 7-20 6-29 8 51-3 1-1 4 6 242 0 2-1 12 3 7 6-143 3-168 5 0 4 1-5 268 5 61 2-11 2-3 2-2-1-60 17 11-2 28-1 32 0-32 5-4 3-14 3-4-1-17-5-236 0 246 12 8 3 7-3 29 0 15 4-33 7-7 3-30-4-19 4-319 0-29 2 16 3 409-2-28 11-39 0-358 4-20 13 2 1 17-1 134 0 168-7 53 2 49 5-31 11-1-5-97-4-242 1-4 6-74-3 292 11 18-2 105-1 1-1 5 5 11 2-19 8-4-5-54 3-26 3-53 9 29 2 43 1 71-7 19-1-6 15-15-3-57-3-30 3-34 5-19-2-7-5-98 5 23 4 83 6 6-3 6-2 88 0 7 3 28 0 1-4-11 16-1-3-12 5-46-6-7 1-23-2-4 2-2 4-34-6-11 5-253-1 179 6 53 2 6 1 112 0 25 1 6-1 2-2 8 0 7-2 9 10-46 7-2 0-109 1-9-5-2 4-71-6 179 9 18 1 3-1 5 9 12-2-31 5-48 3-2 2-94 11 103-4 23-2 6 13-14 1-4-3-13-2-11 7-83-3-30 0-9 7 53 4 23-6 22 1 5 9-172 28 89 15-65-3-5 5-44-3 31 8 97 7-36 6-26 2-35 10 16 15" marker-start="url(#m8)" marker-mid="url(#m8)" marker-end="url(#m8)"/><path d="M2143 2775l-62 11 15-5 7 4 34 4 4-5-45 23 22-1 8 0 32 1-2 7-57-1-42 5-6-1 15 3 52 0 261 15-272 4-37 0-4 0 43 6 39 1 5-1 231-3-3 15-3 1-242-4-1 0-9-2-47 0-8 2-5 2 303 12 8 4-23 0-228 0-41 4 0 9 0-1 27-4 251 8 11-4 19-2 8-2-13 13-9 5-2 0-29 1-244-9-13 4-4-4 41 12 236 12-12 1-242 2-30-1-114 10 17 0 95-1 251-2 11 4 43-5 4 1 7 6-24 1 0 3-9 1-4 4-12-3-2 4-11 0-240-4-100 8 106 4 19-3 162-4 13 0 57 6 6 1 18-3 3 4 18-8 7 9-20 9-46-1-4-3-317 5-9-6-13 2-40 14 23-4 19 3 110-3 32 1 83-1 19 0 35-5 60 7 48-7 4 6-91 6-47 4-4-6-111 9-34 0-144-8-3 16 19-1 123-3 6 3 37-6 142 8 74-4 20 3 0 0-6 12-9-4-12 3-29-8-45 0-339 17 184 1 13-2 68-3 11 3 17-6 88 9 31 6-49-2-49 3-37-4-88 0-187 3 335 13 27-4 20-4 18 1 5 8-24 7-60 0-5-6-11 5-306 3 200 3 167 7 5-3 8 3 10-3 3 0-30 14-11-9-103 15 15 0 85 9-6 0-95 4-55-7-18 5 143 9-116 11 16 17-84 10 49 5 10 9-78 1-9-3 19 16-28 10 69 8 3-9 43 3-34 10-53-2" marker-start="url(#m9)" marker-mid="url(#m9)" marker-end="url(#m9)"/><path d="M2161 2795l-48 0-6-4-13 8-17 0-4-5 0-4 15 19 46-6 9 10-20 5-8 1-68-2-3-5 85 14-13 7-25 0-1 0-21 2-11-3 28 13 9 2 10-5 275 2 1 5 3 7-2-2-245-2-1 3-37 3-23-6 24 8 260 2 17 5 7 1 9 5-15 4-12 2-1-6-232-3-2 2-60-1 304 20-13-1-8 5-6 2-260 1-7 8 282 0 13-5 14 4 10-5 9 5-30 10-5-4-7 2-29 1-1-1-7 6-213-1-61-2-61 12 137-3 203-5 4 2 6 1 6 6 6-6 43 7-3 2-13-1-8 0-1 4-1-1-2 0-10-4-25 0-11 4-195-3 189 10 65 2 6 4-11 12-9-8-4 2-17-3-34 7-9-1-44-5-154 5 6 6 4 6 15-3 162 3 10 1 49-3 2 1 26-3-4 6-7 6-5-5-1 3-10 4-47-3-89-1-11-2-242-2-16 15 146 2 7-1 16-6 103 4 17-4 11 3 23 6 17-2 8-6 7-1 9 3 22-3 43 0 4 4-104 7-2 1-43 7-1-8-10 1-26 7-81-7-16 4-150 12 353-4 8 5 5-7 23-2-31 19-11-1-57-3-6-2-82 15 98-1 31-6 49 3 0 7-38 6-26-4-160 2 67 6 122 8 14-6 3 10-12 8-162 11-11 1 2 15 107-5 36 5-44 2-132 3-39 51 44-4" marker-start="url(#m10)" marker-mid="url(#m10)" marker-end="url(#m10)"/><path d="M2124 2792l-42 26 62 2 243 15-343 1 31 10 289 15 27 4-36 7-3 0-230 12 261-2-45 10-211 10 236 5 26-3 22-1-12 8-20 8-272-4 223 5 5 0 7 6 38 0 12-4-1 13-5 3-59-2 0-6-328 19 29-4 218 1 42 2 34-6 3 0 4 4 5-3 14-1 39 2-27 11-29-3-25 4-12 2-346-2 329 10 5 1 9-1 19-3 8 5 67 5-24 5-51-8-199 11 36 4 94-3 123 0 0 11-9 1-101 11 9 0 29-1 44-1 2-2 6 4-29 5-19 0-60 2-132 17 197-3 5-6 2 5 33 0-91 10 71 6-13 14-5 2-24-2 1 24-130 18-8 64" marker-start="url(#m11)" marker-mid="url(#m11)" marker-end="url(#m11)"/><path d="M2354 2877l-18 17 10 8 1 0-3 22 33 4-56 9 17 11 43-8-4 14-72 14 4-6-1 11-75 13" marker-start="url(#m12)" marker-mid="url(#m12)" marker-end="url(#m12)"/><path d="M2092 2782l103 259 21 24 38 9-16 2-80-3 8 11 75-1-130 75-21 9 26-3-13 12" marker-start="url(#m0)" marker-mid="url(#m0)" marker-end="url(#m0)"/><path d="M2089 2789l9-2 6 0 28 1 5 11-26-4-25 12 5 1 41-3 24 6-54 7-24-7-2 5-33 2 39 7 49 2 22-2-85 6 81 21-23 0-9-2-7 5-41 0-2 5 80 6-79 6 130 36-161 18 365-5-374 15-15-4-64 7 110 2-86 13-24 11 22-1 310 3-157 9-34 1-106-7 146 23-212 16 180-3 3 5-171 2 218 17-35 3-11-1-178 4 196 10 21-4 17 6 23 11-36-2-36-5 7 8 6 6 39-2 35 1 45 3-24 7-95-2-34 13 24-2 59-4 37 9 2-6 5-1 24 13-151-1 51 25-21-7-51 13 44-1 27 8-15-2-81 1 30 14 20-5 3 7 12-4-14 14-14-4-165 15 130-6 11 0 45 0-180 14-17 6 187 131" marker-start="url(#m1)" marker-mid="url(#m1)" marker-end="url(#m1)"/><path d="M2161 2775l-55 12 47-1 2 10-10 3-3-8-5 2-7-2-15 1-29 1-9 14 25 2 8-4 2-3 0 6 11-5 19-2 0 2 4-2 114 0 1 4 18-5-180 14-3 4-17 0-10-4-13 1-1 4-4 4 7 2 1-4 48 5 4-5 8 6 6 1 8-2 15-2 77 2-82 10-5-2-3 0-4 5-74-7-10 14 39 0 1-4 3 3 38-5 6 2 14 6-10 9-3-6-64 7-7 6 0 4 8 0 6-3 53 1 2 3 255-6-247 8-18 2-36 1 307 10-291 8-15 11 86 1 3-3 197 15-270 3-24-7-6 6-91-8-20 11 99 8 36-6 26-2 260 15-274-2-30 5-34-2 0 0-18 2-42-8-4 3-18-2 44 9 23 8 337-1-256 2-20 6-87 2-19-5-4 5-17-1-8-4-19-2 24 17 6-4 1-1 25 1 115 2 247 11-1-4-4-2-4 1-217 0-24 0-145 7-28-5 169 10 11-2-10 10-6-1-5 16 130 0 28-4 60 3 38-5-87 16-21-5-98-2-195 0-18 13 177 4 22 2 15-3 51 0 105-4 40 6-44 2-146 3-3 2-3 0-2 4-13-3-202-1 0 5 164 3 9 5 21-7 1 6 130-4 64 4-25 6-107 5-7 1-27-6-3 6-33-2-11-7-7 8-12 0-4-7 11 17 13-8 43 7 9-1 1-2 5 2 12-1 2 1 5 0 30-1-15 9-15-4-15 3-4 3-14 3-7-3-2 3-2-2-52-4 5 15 4-3 1 4 3-7 10 1 14 6 5-5 3 5 9-8 38 0 1 2 18 5 27-3-58 8-8-1-8 7-4-7-14-2-2 2-1 1-1-3-4 9-4-6-19 4-13 2 6 2 1 4 5-3 6 4 5 3 8-7 21 1 21-3 3 9-16 5-3-2-4-2-5 7-6-7-6 9-3-9-15 3-4-1-41-2-9 1-16 10 12 0 6 7 23-7 35 5 6-4 0-2 8 9 0-1 16-2 8 3-2 3-2 1-10 5-15-4-23 2-14-4-15-1-11 3-19 2 0-4-115-2-9 5-11 11 133 1 5-5 7 0 5-1 10 2 4 5 2-8 1 6 13 2 10-6 3 2 17-4 2 7 0-4 27 0 2 6 0 3-3 5-2-3-18 3-3-4-18 2-14 1-2-2-2-3-4 7-7-2-10 0-2-6-16 8 0-2-5-2-6-1 10 11 18 1 6 4 2-7 21-2 13 2 0-2 1 6 1 3 14-5 18 7-42 6-8-5-12 2-8-3-3 1-14 2-3 5 46 1 12 5-16 112-5-7-2 13 5 12-7-4 6 11" marker-start="url(#m2)" marker-mid="url(#m2)" marker-end="url(#m2)"/><path d="M2100 2783l27 5 2-1 33-3-11 13-20-4-22-3-9 8-21 1-13-1-4 1-11 3 5 2 13 2 10-3 31 5 2-4 4 1 12 2 14-3 2-2 8 3 91 1 11 2 17-7-125 18-3-7-29 6-7 1-7-5-6 2-1-2-9 3-16-4-7 2-1 2-2-7-13 0 2 15 24 0 53-3 12 1 91 3 7-5-102 17-2 1-54-3-7-1-8-5 0 13 26-1 5 2 4 4 6-3 1 3 2 1 11-3 13 1 261-7-238 13-28-2-9 8-3-8-10 8-17-4-17 2-4-1-12-4 21 14 12-1 39 1 16-3 108 6 108-8 32 2 2 15-23-6-244 7-17-7 0 5-35 0-9-5 21 16 333 2-40 3-27 4-263-1 124 5 132 2 12 3 2 2 54 3-307 1-91 1-5 2-7-1-6-2 13 16 0-3 7 4 1 0 2-8 33 8 0-3 13-5 3 5 13-2 21 1 29-2 6 3 264 7-33-1-26 1-158 1-57-3-8 3-11-4-26 3-77 2-45 2-21 10 8-5 2 0 0 4 68 3 77-9 182 9 52-6-14 9 0 6-224-8-76 3-11-2-16-1-12 4-33 1-2 14 39-5 16-2 91 2 216-1 56 6 12 3-44-1-37 6-62-5-116 1 0 1-1 2-134-6-33 8-5 9 36-3 123 1 26 2 135 0 88 0 22 2-18 6-20-5-18 3-36-1-21 1-116 5-32-7-137-1 0 3-29-1-17-2 0 9 14 8 5-1 258 3 5-7 120-1 37 4-26 6-100 8-141-4-143-2-13 3-17 13 176-4 15 0 12-3 137 2 14-1 48 10-16 0-12 5-6 0-154-3 0-3-22-2-10 6-185-6 168 19 3-5 7-1 2 6 18-5 8-1 30-3 3 8 7-5 156 2-156 11-45 1-11-5-15-1-11 5-1 11 8-3 2-1 5 3 11 2 18-8 2 7 9 0 7 1 14-1 11-3 33-2 50-1 10 5-11 4-6 8-53-4-6-4-10 3-2-2-6-1-9 4-8-2-2 7-42-5-4 0 0 5-1-7-8 3-2-2-2 3-2 11 16-2 3-1 4-2 16-2 2 8 1-7 2 2 10 3 5-1 3 4 9-5 1 3 5 0 34-6 4 3 48-2-9 14-12-2-79 0-5 2-9-2-1-3-10 2-28 5-2-3-9 1 18 7 4 0 6 1 16-3 3 6 2 0 1-5 2 5 3-5 6 5 10 1-10 5-9-2-11 0-16 1-27 6-36-7-13 10 6 6 1-2 5 4 1-9 0 4 9 3 47 1 3 1 2-4 11-4 11 7 13 0 1-6-2 11-3 3-4-3-10 3-21-4-6-1-2 8 0-7-13 7-8-9-1 5-5-2-5 1-2-4-4 3-10 3-5-3-19 5-105 6 106-3 7 6 0 0 4-6 9 4 1-4 3 8 12-3 1-3 10 2 2-3 9 6 3-4 1 2 18-1 10 1 3-5 8 1 18 17-14-7-3 2-5-3 0 4-6-1-15 1-3 3 0-6-9 7-1-7-1 4-23-6-28 9-3-2-7-1 11 4 10 4 8 3 14 0 20 2 6-2 2-1 3 0 4-1 10-4 8 6 4 6-5 0-2 4-11-7-3 8-13-4-4 2-10-1-5-4 0 5-2-6-1 1-20 5-2-5-10 3-3-3 39 9 145 14-147 93 11 9-7-3 15 14 1-3 0-1 2-3 0 4-7 10-42-4 39 17" marker-start="url(#m3)" marker-mid="url(#m3)" marker-end="url(#m3)"/><path d="M2166 2777l-5-3-15 4-80 10 52-6 8 7 31-2 7-1-9 7-24 3-29-1-24 2-13 1-4-3-4 11 5-6 27 5 16-4 4 3 29 1 1-4 6 1 9 4 3-3-20 12-1-4 0-1-13 3-10 5-7-8-19 7-2 0-15-2-19-1-13 12 48-5 7 2 24 4 3-3 18-3 0 3 75 11-56-4-37 7-1-7-11 6-41 1-4 5 4 3 9 1 22-5 1 5 3-4 4-3 53 3 57-3 0 0 182 19-22-7-242-1-8 4-10-4-54 14 17-1 2-2 10-1 10-1 18 9 11-5 2 3 117 0 2 1-173 17 33-4 6-1-5 15-5-2-20 3-9 2 21 2 3 3 254 0 1 0 10 6 19-6 11 3-34 11-26-4-134 0-32-1-58 6-16 1-2-2-1-5-7 4-74 3-5-5-23 0-3 4-9 4 7 4 19-4 16 5 34-5 23 7 3-9 10 1 17 3 29 4 250-6-25 14-225 2-52-1-50 0-47 1-6-8-14 1-24 11 6 0 3-2 37 3 37-1 3 3 12 0 30-1 25 3 4 1 262-5 15 11-18-1-341-1-54 0-2 4-30 10 16 0 14 0 4-5 3 5 13 3 130-6 20 0 2 2 102 2 31 1 23 1 79-7 19 1 11 5-16 6-149-2-253 3-26-4-4-1-1 5-5-5-9 0-11 15 21 3 22-4 6 3 126-4 26 6 137-2 57 2 42 0 5-9-17 11-232 5-171-5-20 8 14 3 16-1 257 4 19 2 23-4 24 6 9-5 46-2-19 15-89-4-13 2-4-2-67 4-1 0-3-4-22 0-164 0-24 14 207-7 14 2 56-2 49 4 66 7-23-1-46 5-101 2 0 2-3-5-8 3-3 0-199-6-9 14 174-4 1 0 28 1 9-1 5 4 5 0 0-4 10 2 3 5 36-5 1 5 45-1-2 9-90 1-15-3-13 3-6 2-27-2-3 0 22 7 9-2 15 6 5-7 7 6 5 2 11-3 85-3 16-2 7 1-2 10-86-2-48 2-2 7-19-2-13-1 5 13 23-8 2 3 2-4 1 1 17 8 97-8 3 1 30 4-36 8-33 1-49 0-15-3-2 3-13-5-20 3-12 3-1-2-50 15 4 0 3-1 48-1 0-4 40 2 7 4-13 7-35-6 0 6-48 1-1-3-126 12 122-6 9 2 1 4 40 3 17-1 9-4 7 0 3 1 8 0 3 4 1 6-9 3-2-8-16 2-5-2-15 5-16 3-5-8-1 4-2 4-1-7-5 8-13 0-7-3-11-5-119 7 134 2 5 9 9-9 2 8 5-8 7 1 2 4 14-1 7 2 7-4 8 6 14-8 3 8 12-3 3 0-8 12-29-7-2 5-9-4 0-1-6 9-1-1-30-6-2 4-14-4-8 4-4 2-118-6 117 15 6-7 1 0 3 0 2 0 25 7 7-2 9 2 5-3 6-4 7 9 9-1 1 1 16-9-6 11-7 5-6-2-7-3-10 2-2 3-27-6-15 0-14 3-2 1-135 6 184 5 23-5-20 103 7 11-4 3-9 0-50 12 49 0 7 10-7-6-40-1 47 10" marker-start="url(#m4)" marker-mid="url(#m4)" marker-end="url(#m4)"/><path d="M2161 2768l8 11 99 19-172-2-12-5-22 4 8 14 11-5 32-2 6 3 8-3 117 10-139 2-1-1-15-2-44 4 3 10 9 3 3-6 75 0 0 1 102-2-113 15-31-1-16-5-6 9-14-6-6 13 13-2 17 2 17 0 10-6 281 17-138 1-185 8 25 0 11 2 22-6 272-1-253 13-43 2-25 2-12-5 23 11 4 2 12 2 251-8 14 5 25-2 9 10-60 4-179-3-84-4 40 12 8 5 245-6 36-1 2 0-53 15-283 4-12-2 0 0-57 7 15 5 26-6 19 5 48-4 251-2 23 4 15-3 8 3-272 5-2 8-135-3-24 3-28-5 16 10 50 0 251 1 94 1 35 9-39 0-1-1-244 1-159 5 311 1 73 3 2-4 29 3 12 13-4 2-47-6-62-2-31 3-282 1-25 5 22 7 192 2 102-1 12-7 5 7 72 0 9-1-17 9-41-2-140-1-209 0 3 17 7-4 197-3 138 0 2 2 27 5 38 10-14-2-1 1-11-3-10-1-206 10 43 3 83-7 79 3 3 6 32 6-45 2-141 1-2-2-27-4-4 4-10-5 20 9 31 6 1 3 5-2 106 2 3-5 9 3-84 4-29 4-8-2-27 6-7-4-5-3 6 12 24 5 7-1 12-4 108 10-37 5-11-3-44 1-9-5-5 3-9 1-84 8 74-2 8 0 61 1 5 6 35-3-33 7-69 4-33-5-10-2-4 9-17 0-7-4-1-3 46 24-10-3-13 0-70 6-11 3 57 1 16 6 13-6 18 0-5 16-10-1-4-5-5 6-7-5-15-2-63 7-7-5 62 16-1 5-25-5-5 2-15 13 39-5 4 2 16 2 17-1 18-2-21 10-43 6-18 0-130 5 185 3-24 99 11 14-14 0-10-3-17 7 21 2 16 6-7 1-4 2" marker-start="url(#m5)" marker-mid="url(#m5)" marker-end="url(#m5)"/><path d="M2094 2778l176 22-216 21 84 7 94-7-95 18-89 9 320 5-112 4-122-6-3 3-39-1-6 3-28-5 20 10 45 5 126-6 1 5 149-2-9 10-15 6-212 8 192-3 52 10-290-2-4 5 228 11 35 1 6-2 24-4-6 12-31 1-177-6-116 1-52 12 49 0 53-1 66 0 163 6 19-1 8 7-35 5-11-8-371 18 401-3 5 1 11 0 8-6-5 16-19 1-3-2-79-2-274 6 210 0 29 3 37 2 24 2 49-1 31 4-37 0-13 1-385 14 154-5 37 1 67 4 17-3 32 0 81 6 16 1 11-6 0 15-4-8-49 4-44 5-45-5-281 3-13-5-12 3 290 5 1 0 74 2 6 0 5-1 16 4 6 4 11-1-10 3-59 5-148 1-183-2 335 12 2-3 23 2 55 0-237 12-14 2 2 0 19 4 61-1 65 1 6 5 9-1 4 10-32-1-67-5 0 11 9-2 1 8 18-1 61-5 7 1 48-3-75 15-6 2-60-7 0 0-77 0 70 10 16 6 9-6 62 1 17 5 0-2-9 5-61 2-43 15 7-4-16 14-40-1-50 21-13 9 23-3 16-2 11 0 55 3 2 9-29 5-184-1 167 10-14 12-17-7-19 4 44 119-16 13-6 3-32 1" marker-start="url(#m6)" marker-mid="url(#m6)" marker-end="url(#m6)"/><path d="M2080 2789l203 9-222 0 18 9 56 8-43 2-13 2-17-3-19-6-7 7 1 8 14-4 66 7 20-6-28 17-8-7-2-2-12 2-18-2-13 2 9 17 19 0 7-2 53-1-47 22 12-4 31-1 246 1 20 9 0 4-285 0-5-1-42 3 31 2 2 7 21-5 275 3-293 7-20 6 253 16-365 13 6 1 87-8 50-1 241 2 16 5 17-3-28 11-182-1-93 0-54 4-71 11 57-7 91 3 134-2 79 6 26-2 10-3 18-3-119 10-18 6-113-6-127 1-16 15 305-4 37 4 43-2-16 10-11 4-236-4-138-4-11 0-22 10 32 4 305-2 25 1 24-1 18 1-28 14-70-7-311 0 166 12 244 6-5 9-13-8-8 5-20 0-53 4-34-9-7 4-293 14 356-8 46 5-14 11-52 3-7-3-9-1-53 3-86 9 14 0 78-2 63 3 2-2 6-1 56 11-28 3-31-4-18 3-12-1-37-4-7-1-10 1-7 1-23 8 21 2 87 0 12 5 14 0 35-6-28 16-39-1-17-6-51 6-47 11 124-8 17 10-106 0-70 16-19 9-45 18 104 10-60 10-17-2-9 3 5 13 16-3 28 5-57 143" marker-start="url(#m7)" marker-mid="url(#m7)" marker-end="url(#m7)"/><path d="M2130 2797l-40 6 7 3 3 1 139 2-85 8-9-5-34-2-42 0-1 4-7-3-9 6-9-1 5 10 9-3 88 0 15 10-17 5-19 0-9-8-20 8-19-2-4-1-29 4 25 1 1 2 81-2 246 4-271 12-31 2 0-1-18-4 36 13 288 2 10 4-287 5-7-2-5 3-10-7-17 15 21-5 272 2 10 1 7 9-2 6-1-2-17-4-14 3-21-1-8 9 58 4 22-6-40 11-295-1-113 11 127 4 255 2 26 0 5-5 16 14-16-6-21-1-287 8-34-7-66 1-2 9 49-2 111 6 121-2 21 1 6 2 9-6 53 3 10 2 0-3 10 3 15 3 33-4 2 2-31 10-1-3-18-1-20 6-79-2-1-3-22-3-224 1-86 10 30-2 24 2 161 2 172-2 35 0 0 3 9 3 19 8-9 0-27-5 0 2-4-2-69 2-11-2-326 14 281-3 14-1 48 6 2 0 17-5 27 6 15 0 44 3-81 3-75-2-1 3-275-1-7 14 280-7 47 3 58 2 30 6-119 7-39-1-255 0 340 5 11 1 17 3 7 5-14-2-34 3-9 3-11-3-55-1-8 5 0-3-243 5 197 9 27-7 132 0 18 4 1-1-37 8-110 0-60 9 102-1 65 0-5 18-36-2-134 9 14 0 86 2 22 2 40-2 4 0 9 5-34 2-6 1-137-4-47 25 26 8-38 18 13 1 11 19 55 1" marker-start="url(#m8)" marker-mid="url(#m8)" marker-end="url(#m8)"/><path d="M2143 2782l-27 13-12 2-11-4-17 6 60 9 23-7 6 11-118 5 5 8 30-5 6 2 18 4 6 0 27 3 2-5 82 6-69 2-98 5-2-3-9-2 18 16 19-3 15 1 47 1 9-5 224 0 31 15-20 2-15-1-231-6-2-2-55 8 0 1-26-9-5 1 37 15 0-1 20 4 21-4 2-5 10 8 220-3 30-5 9 8-51 6-218-2-34 5-37-4 37 11 248 4 35 4-27 5-254 8 271-2 37 9 0-1-11-1-2 4-9 0-44 0-5-3-5 0-4-1-355 2 90 12 44 0 286-4 18 0-39 15-21 3-239-6-25-2-30 7-17-6-98 17 169-7 231 5 21 2 17-7 22 14-39-2-4 5-8 0-62-5-27 3-7 3-164-7-11 7-74-7 104 15 122-4 1 5 69-6 27 5 4-6 14 8 27-5 15-2-4 12-28-1-2-2-6 1-1 6-20-4-38 0-30 5-1-9-45 9-115 4 139 3 12 2 14-2 28-5 62 3 4 1 11 4-21 6-5-1-18 2-31-6-4 5-186 6 125 3 28-1 25 6 74-1-1 2-13 5-64 0-1-4-24 7-48 1-96-9 150 18 39-8 6 3 10 0 1 0 12 9-33 2-109 5-6-8-57 15 15-1 69 3 64 1 12-3 18-3-3 7-7 6-201 4 8 0 186 18-167 8 27 3-28 6-21 6 0-1 29 17-11 8-47 12-2-5-3 5-11-5-1 0-5 1 91 22-1 1-24-4-65 5-1 154" marker-start="url(#m9)" marker-mid="url(#m9)" marker-end="url(#m9)"/><path d="M2115 2785l20-3 19 2 3-1 3 2-23 8-19 6-38-9-13 4 47 7 10 1 13 3 16-5-25 16-51 9 30 3 18-1 11-5 18-2 232 16-256 3-8 8 4-6 249 5 16 2 2 7-17-5-291 3-34 0 69 14 269-7 18 14-24 4-246-3-21 2-14-3-1-3-3 1-11 10 261 5 10-7 18 0 13 4 5 10-36-4-2 2-11 2-3 1-2 1-162 2-70 0-14-1-10-7 22 19 9-9 230 2 62 13-3 2-37-7-4 0-9 5-30-5-124 1-15 7-69-6-132 6 120 10 6-2 236-6 7 1 37 0 9 3 9-2-20 10-1 0-35-2-12 6-9 1-13-4-188 3-31 1-6-1 267 6 21 6-38 8-17 3-16-1-4-2-4 2-22-4-180 4-150-3 12 14 158-9 5 1 118 4 6 0 7-1 15-2 74 2-75 6-54 6-275-4-6 2-16 5 193 5 1 2 113 3 67-5 83-3-17 12-2 4-8-3-40-4-71 3-1-1-113-1-7 3-143 0 120 11 6-1 10 3 104-2 7 3 104-1 12 10-67-6-61 5-28-2-50-3-2-1-26 3-13-2 200 18 7-2 46-6 3 4-57 14-23-7-162 5 89 3 26 0 81 0 8 14-134 0-4 1-70-4 17 18 5-8-2 19 53 10-82 4 46 6-20 12-73 12-13 25 63-9 20 19-40-1 10 22 4 135" marker-start="url(#m10)" marker-mid="url(#m10)" marker-end="url(#m10)"/><path d="M2109 2793l-10 24-17-2 43 10 5-3-23 8 271 16-255 10 267 9 20 13-16-2 3 15-42 5-9 3-8-2-1-6-4 7-4-1 26 12 26-5 22 8-17 6-7-5-24-2-6-1-7 5-5 1-257 6 243 2 17-4 28 8 19 11-24-6-27 0-1-2-2 2-7 4-2-5-213 17 137-2 29 2 86-6 22 15-60-5-12 0-5-1-4 7-190 4 187 1 22-4 48 6 25-2-88 9-22-1-67-1-236-1 151 10 94 6 53-5 72 5 5 10-9-3-140 1-104 12 263 1-10 6-220 2-38 10 182-5-6 14 6 12 7-3-10 9-123 13 24-1 92 0-183 37 56 16-11 28 9-4" marker-start="url(#m11)" marker-mid="url(#m11)" marker-end="url(#m11)"/><path d="M2345 2884l-12 14 49 7-48 17-5 9-2 15-43 21 4-5 27 1 17 9-27 6-14-4-7 10 45 15" marker-start="url(#m12)" marker-mid="url(#m12)" marker-end="url(#m12)"/></g>
<g transform="scale(.5)" fill="none"><path d="M2898 2792l-53-1-29 17 3-8 25 6 15-6 17 7 3-2 48-2-78 14-21-6-18 16 24-4 10 4 46 1 109-6-14 11-66 5-37-1-25 11 4-5 9 3 2-6 14 3 24 1 3 4-7 5-49 6-4 10 37 6-10-2-25 2 22 16 169 56-172 11 13 13 49 47-66 8 35-6 11 5-19 7-20 5-4 12 9-9 46 7 98-4-42 8-41 4-1 3-11-5-40 5-4-3 23 14 18 0 2-6 6 1 1-4 40 8 35 1 14-7 3 0 6 13-27-4-19 5-2-3-6 6-14-2-20-3 0 4-6 1-19-4-51-1-4 3-17-4-5 6 8 5 12 1 9 1 1 1 33 2 1-9 8 5 8 4 5-6 0 0 7-3 6 1 10-1 0 0 0 4 20-4 5 5 14 1 5-4 10 5 12 6-63-2-27 3-31 0-6 2-21 0-2-2-13-4 43 18 17-1 13 6-20-2-12 7-2 1-10-7-26 3-59 6 9 5 5 0 16-6 4 4 1 4 2 0 4-4 5-4 17 1 6 0 8 8 10-5 8-2 23 1-6 13-5-2-2 1 0-3-1 5-7 0-6-6-19 7 0-5-22 0-3 3-2 2-10-3-6 0-9-5-4 0-16 6 0 13 4-3 16-1 3-1 1 0 20 1 22-2 7 6 5-9 14 4 11 3 4-2 10-3-19 11 0 6 0-1-2-8-1 7-6-7-7 2-8 3-3 0-3-4-1 6-7-3-2-4-1 4-4 2-10-1-5 3-2-4-6 0-5 0-7 0 0-2-1 0-5 7-2-6-1-2-9 15 4-2 10-2 1 4 7 2 2-3 3-1 10-2 4 5 2 0 8 1 0 1 1-4 6-5 1 6 1-2 4-1 3-3 33 4 4-2 1 1-24 9-6 2-1 3-4-5-4 7-22-8-3 4 17 12" marker-start="url(#m0)" marker-mid="url(#m0)" marker-end="url(#m0)"/><path d="M2926 2769l-49 19 22-6 14 0 4 6 0-8 3 9 14-3-10 6-4 1-15 4-22-2-10 3-6 0-10-6-14 7-13-5-1 5-19-1 5 2 7 0 4 8 4-7 9 4 12 1 14 2 1 0 5-5 16 4 17-4 1 4 13-7 1 4 121 0-37 9-90 2-15 4-12-4-20 4-1-3 0-5-1 5-9-4-13 0-5 4-29-5 2 12 8-2 1 7 13-2 43 2 2-7 9 3 1 3 10-3 2 3 3-1 20-2 5 9-26 6-7-6-3 1-1-2-8 0-7-2-12 0-2 8-7-1-6 0-1-5-10 5-6 1-9-6-1 1-9 6 32 1 4 1 3 1 8 3 8 3 8-3 20 0 7 0 1 4 13-8 4 6-2 5-1 2-1-3-11 2-12 6-13-6-4 5-2 1-25-4-2-1-12 3-1-1-2 3-1-9-2 6-7-3 6 16 5-7 0-2 3 6 1-1 27-5 3 3 10 2 9-1 15 5 17-9 96 1 108 5 50 12-272 0-9-2 0 3-22-6-2-1-30 10 10 4 6-1 11-5 4 5 23 1-9 11-3-4-5-1-1 7-9-4 15 6 56 5 212 4-183 4-198 3-16-3 65 11 61 4 12-9 60 9 11-9 184 5-281 14-4-5-29 5-35-8 64 13 6 2 14 1 0 1 2-5 14 4 6-2 217 10-220-5-44 0-150 10 151 2 10 5 33-1 9 3 120-6 121 2-30 10-202 2-66-4 17 10 16 2 3-2 11-3 11 0 7 5 99 12-141-1-9-5-132 3 156 12 11 2 5-7 2 0 12 8 101-1 72 1-72 7-52-3-68-2-3 8-1 0-3-6-12-1-7-1-16 6 24 5 7 4 4-6 6 7 12-2 114-3 43 12-145 3-15 2-4-8-4 6-4-1-4-5-2-1-4 8-6-3 0 2-1 0-21-1 5 13 0-6 1 6 0 0 1-3 8 3 4-1 4-8 1 5 7 3 7-7 0 5 3-5 1 5 0-5 1-1 7 2 14 4 5 1 8-1 33-2 48-3 64 0 4 6-26 7-9 0-42 3-1-7-11 8-42 1-12-8-4 5 0-1-9-5 0 8-1 0-12-3-1 3-2 0-4 1 0 0-4-3-1 1 0-5-22-1-1 1 0 1-11 3-2 3-3-1-2-4-1 6 10 4 0 4 1-7 1 7 3 1 11-4 5 0 16 0 7-4 8-1 0 4 0-3 3 6 16-5 2 0 5 4 2-6 1 4 67-2-55 10-20 7-12-2-18-1-1-1-16-1-10 0-7 3-8 2-4-4 0-2-1 6-6 0-1-2 0 0-1 2-6-7-4 10 2 5 4-2 4 1 10-2 1-1 2 0 5 4 3 0 2-7 10 9 13-6 4 5 7-4 3 4 1-4 0-1 7 0 4 0 2 1 9 1 67 2 7 2 15-5 14 4-110 4-14 6-9-8-2 1-3 0-6 6-9-4-2 2-4-1-7-4-18 1-3 3-1-1 0 1-1 4-2-5 6 9 8-2 5 0 4 7 5-3 21 1 8-4 1 5 9-4-5 16-3-5 0 0-1-1-4 0-1 6-3 0-2 0-14-7-2-1-5 2-4 1-10-2-1 1-14 7-23-2 0-2-2-1-1-3-5 8-12-7-1 3-4 8 4-3 1 1 2 3 1-1 12 6 4-6 4-1 2 7 3-3 2 0 1-3 9 3 5 1 5-3 1 2 2-5 0 4 5-3 2-1 7 5 10-1 3-4 1 3 3-3 0 8 1-6 2-1 21 2 7-3-8 12-7-2-2-1-2 3 0 4-1-5-2 1-2 2-2 0 0-3-1 4-3 3-4-5 0-1-3 1-1-3-6-1-1 5-1 4-5-4-3-2 0 1-1 2-4-4 0 2-3 3-2-1 0-3-3 2 0 4-10-2-2 0-2-4-4 2-1-2-6 1-20 4-3-6 0 4-2 2-4-5 1 10 1 2 4-4 1 6 4-3 4 0 0 1 3 4 2-3 0 2 1-1 2-2 3-1 2-2 7 3 1-4 12 5 7-1 3-3 1 5 2 0 3-6 0 4 4-4 2 6 3-3 4-2 0 6 3-8 4 8 1-1 1-5 2 1 1 3 10 3 4-5 0 3 0 2 1-5 3 0 2 6-4 6-2-3-6 1-1 0-13-3-2 1-6 4-1 1-3-5-1 5-8 2-2 0-1-5-6 0-1 0-3-1-2-3-11 0-4 4-5 3-3-1-1-6-3 4-9-4-1 7 0 0-2-2 0 0-4-2 0-1-1 1-2-1-2 4-1 7 3 3 4-3 5 4 3-3 0 5 1-9 2 6 3-2 1 1 12 3 1-2 11 2 0-2 1 3 1-6 2 3 14-3 1 6 4-3 1-6 7 8 0-2 8-1 7 1 2 2 1 1 5-2 3 0 2-5-10 10-7 2-21 1-12-3-6 3-4-3-3-2-3 5-6-5-2 0-1 8-7-2-3-5-13 2 50 10 8-2-49 124 18-3 3 5 2-2 6-4 5 11-1 5" marker-start="url(#m1)" marker-mid="url(#m1)" marker-end="url(#m1)"/><path d="M2926 2777l-78 11 9-1 38-3 3 2 3 0 3 0 17 3 2-8 0 12 0-2-5 0-4 5-2-1 0 0-8-3-1 6-2-6-2 2-1-4-1 3-2-3-1 2-9 6 0-6-11 2-2 3-21-5-1 1-4 2-11 2 4 10 0-5 4 5 5 1 5-3 16 2 24-4 8 2 20 4 1-8 96 7 10-3-19 10-91 1-10 3-16-1-16-3-21-1-2-1-6 3-14 1-4-1-4-2-21 12 33-3 13 2 17 2 30 1 3 0 16-4 2 4 81-3-78 10-3-2-2 5-5-7-4 4-1-5-3 0-12 2-10 6-17-6-7-1-22 1-7 7-9-2-8 4 11 3 2-4 12 1 2-1 5 8 1-7 2 0 15 1 9 3 24 2 8 0 249-4 13 8-9 7-239-5-8 6-21-6-5 2-13 2-11-1-5 3-4-2-3 2-5-8-1 0-3 2-1 1-11-2 2 9 0 5 3-1 7-2 7-1 18 4 10-2 5 5 12-4 6-4 9 2 3-2 216 5 47 10-54 3-213-8-7 2-14 4-4 2-7-8-2 3-6 5-18-7-10-1-2 5 2 12 20-5 1-2 16 3 8-2 2 2 1-3 239 8 42-3 13 6-57 3-146 1-95-1-4-4-1 5-3-6-12 9-1-4-2-4-14 6-3 7 14 3 5 1 35-4 82-2 177 0-2 13-4-1-42-1-142 1-82-2-15-1-5 7-9-8-1 3-101 15 16-6 66 6 16 0 49-4 62-1 211 9-3-2-6 7-34-6-6 4-217 3-3-1-5-6-23 0-15 2-45 5-19-6-2 2-11-2-40 0-18 11 7-3 7 0 46 1 6 0 63 1 8 7 20-9 266 8 10-1 13 3-37 1-101 1-29 5 0-3-100 1-4-4-34 8-10-6-80 2-14-2-3-2-4 1-48 1-9 9 8 3 7-4 10 8 19-8 5 3 2 4 0-6 116 4 7-4 8 4 118 3 3-5 3-1 68-1 36 5 31 2 4 10-1-8-66 1-87 5-80 2-13 0-14-1-5-4-7 3-117-4-14-2-5 5-5-3-18 4-4-3-1 2 6 7 13 6 152-5 26-2 3 1 120 6 5-7 25 2 57 0 29 2-55 6-37 1-5 4-75 0-74-7-19 2-5-1-148 8-7-6-26 9 37-1 140 6 1 2 1-7 31 4 9 3 1-2 1 2 7-8 52-1 23 6 13 0 23-5 12 2 50 13-38-3-79 4-74-7-11 6-5 0-173-6-5 0-5 8-3 1-10-1 13 2 168 2 12 3 7 1 5 2 58 1 13 0 100-2 2 1 19 2-21 8-3-2-158 2-203 7 150 4 15-2 7 2 2-5 16-3 14 5 5 1 2-2 3 0 7 1 8-1 9 0 152 9-40 3-86 0-13-2-2 3-11 1-2-5-4 5-2-7-27 2-14-1-6 5-3-8-11 2-6 2-13 3 17 5 24 6 9 0 3 0 37-6 1 4 54-5 31 3 10 3 23-7 10 5-58 6-88 3-1-1-13-2-14 0-9 3-5 4-3 1-18 3 4 0 29 6 0-1 27 1 1 1 3-8 12 1 3 4 31-5 22-1 9 1 9 0 3 5 2 2 10-4 5-4 4 9 17-8-13 12-3-2-3-1-13 6-91-1-5-2-5 2-10 4-6-8-26 0-5 8-185 1 176 7 2-7 23 8 6-1 5-6 2 8-1 3-15 0 0 1-6 2-13 1-38-4-9 7 0-9-132 13 134 1 7 3 9 1 5-7 33-1 1 2 5 7 8-3 1-5 8 0 16 5-3 8-25-2-7-2-2 4-17-3-32-1-10 1-6-1-138 18 129 1 5-9 24 1 12 7 8 0 8-8 18 5 5-5 14 5 2 4 10-9 12 5-60 6-19 0-1 4-177 4 2 5 2 3 138-5 0 1 2 5 18-1 26-6 4 4 25-4-7 10-6 8-14 0-35-2-142-3-9 0 228 6 97 17-7-4-150 102-23 12 20-3 16-3 11 6-2 5-22-2" marker-start="url(#m2)" marker-mid="url(#m2)" marker-end="url(#m2)"/><path d="M2870 2781l9-1 17 6 4-6 17 1 11-1 113 17-127 0-13-3-33 4-33-7-10 15 19 0 19-4 12 5 22-6 5 5 16-6 2 9 95-3 17-2 11-3-33 10-81 8-15-1-2-6-17 2-4 0-23 4-46 0 64 5 9-2 6 1 12 1-8 7-26 5-28 3-6-3-10-5 0 4-18 2 12 9 40-5 4 1 11 6 19-1 17-6 1 19-16-9-2 6-7-3-3-2-3 4-63 1-5 0 6 11 16 1 2-4 49 3 131-2 134-5-316 15-4-4 15 13 7 4 14-3 15 4 232-6 57 7-6 5-12 3-301 1-7 5 35 0 263-1 1 7-12 9-33-2-221 0-33 2 0-3-6 2-22-1-70-4-14 2-12 13 2-6 2-2 17 5 29 3 84-4 9 3 90-7 153 11-249 6-5-7-38 9-32-3-2 0-24-4-3 7-1-8-30 4-9 4-5 2 17 0 23 7 2-3 32-4 87 0 23 0 139 8 116 4-27-3-1 8-21-8-28 4-62 2-2 1-142-3-14-1-83-2 0 8-4-1-12-2-10-5-13 1-22 7-15-8 17 15 35-1 17-5 75 0 61 3 148 2 20 2 73 0 9-1-260 11-5-4-3-1-10 1-8 1-11 5-94-6-62 0 0 11 153 5 11-1 8-5 105 0 9-2 20 2 96 3 33 9-235-1-12 0-20 0-1-3-142-1-39 13 193-1 14 3 180 3 11-2 6-3 24 4 4-5 5 2-1 12-37 1-7-7-39 1-27 2-55 0-37 5-50-8-170 13 163 0 7 5 21-7 147 7 2 2-113 9-22-7-4 0-21 5-15 2-167-8 220 18 3-4 19-5 58 5 23-3-57 16-40-6-55 1-19 4 33 7 21 1 15 4 28-2 75-6 42-1 6 5-12 12-26-3-7-4-2 7-1 1-4-4-1-2-13 5-18 1-5 1-19 0-5 0-3-4-23 3-67 0-182 8 165-3 65 0 8 0 2-3 26 5 0 0 11-2 13-2 3-1 39 8 10-4 17-1-137 16-219 0-11 4 1 1 1 4 0-1 137 1 55-6 54 14-17-2-31 0-66 0-123 2-7 1 6 10 122-3 50 2 26-6 12 5 1 3 17 8-16 3-33-1-29-3-9-1-17 1-131-1-14 7 14 6 214-5-1 16-7 1-17-2-12-4-16 5-21 1-152 5 2-3 1 2 10 0 133-3 19 6 61-1-7 7-1 1-8-1-202 14 15-6-18 18 140 105 22 4 21-3" marker-start="url(#m3)" marker-mid="url(#m3)" marker-end="url(#m3)"/><path d="M2851 2785l31 4 6-4 149 12-117 0-23-7-69 15 33-5 3 2 25 0 11 7 8-7 12-2-35 18-38-1-31 8 2-2 327 12-164 4-87-2-13-2-2-5-39 9 1 1 138 6 166-5 8 0-14 13-242-4-34 0-12 8-16 11 15 0 284 4-260 1-25 15 5-8 29 0 248 18-149-2-4 1-40 1-193 8 359 1 15-3 42 2 0 7-23 0-177 1-100 1-27 1-6 1-12-3-44 4-31-1-4 0-19 11 61-6 13 1 20-2 11 7 4-6 13 5 12-2 36-5 224 1 15-1 46 11-33 1-196 1-106 4-26-5-20 4-17 1-7-5-29-1-14-1-11 5-10 13 16-6 2-3 14 9 16 0 10-1 2-8 6 0 14 5 6-5 11 2 3 3 5-2 15-2 38 4 29 3 270 7-33 4-30-8-73 6-153 1-84-4-12 5-17-3-25-2-1-4-16 2-2 2-26 13 8 2 1-6 6-1 12 0 5 0 5-1 2-1 12 2 19 0 108 7 7-8 132 0 91 3 5 5 16-2 8-1 4-4 23 4 7 6-61-1-52 0-323 3-16 1-11 0-5 2 32 11 4-4 12-2 259 0 12 2 12-4 18 3 20 2 25-5 14 4 15-3 17 1 4 2-17 7-23 1-3 1-109 4-1 1-285 1-4-2 8 11 2-4 18-4 183 6 6-3 99-3 12 2 89 10-45 0-26 4-11 2-27-5-29 4-19-4-34 1-218 0-6-1-9 3 12 12 13-8 0 6 171-1 2-1 174 9-26 2-15-3-73 1-22 3 6 4 38 2-9 9-277 5 311 4 70 2 4 4-29 12-44-7-48 4-248 0-4 3 206 6 53-3 32 1 28 7-333 9-4 10 228-6-215 16-6-3-8 10 14 2 4 2 201 8-38-5-19 7-148-3-12 1-16 11 11 0 10-7 8 4 10 14-12-4 10 11 185 6-191 7-3-7-6 7 0 2 0 7-9 13 146 108 41-1-18 3" marker-start="url(#m4)" marker-mid="url(#m4)" marker-end="url(#m4)"/><path d="M2832 2801l37 1 13 3-10 6 23 9-11 12-9 11 287 10-6 6-23-3-1-3-7 7 20 1 25 9-36 8-220-3-59 1-17-2 30 13 262-4 15-1 11 3 15-2-19 14-34-5 29 16-33 3-6 8-3-4-320 4-37-9 2 17 21-7 17 5 38 2 19-7 276 9 13-2 1-3 16 4 9-7 1 6-40 4-6 4-318 2-6-1-27-6-16 1-5 17 9 1 7-4 17-5 9 9 2-9 236 9 10-4 6-4 25 8 32-1 39-3 23-5-71 19-32-4-273-2-36 3-42 9 2 0 359 2 28-3 59-1-38 12-3 0-1-4-54 3-4-4-9 7-18-6-2 2-1-2-1 4-291-5-36 3-5 16 299-1 9-4 17-3 7 1 24 1 3 6 15-6 32 5 3-7 10 5 3-6 14 4 12-1 0 9-2-2-12 4-8 5-41-5-18-4-5 9-17-7-59-1-267 0-9 7-3 3 278 5 16-2 11 3 91-4 26 9-42 1-45 0-7 0-1 5-54-5-13 3-255 3-7-5 4 10 328 2 49 3 14 5-393 1 0 3-9 0 255 3 11 3 28 1 16 2 80-5-14 9-15 3-9 5-5-3 0 3-90-9-66 19 105-7 64 1 29 0-57 7-328 11 1 1 242 5 2-1 17 7-262 5-9-5 7 21-19 14 24 6-8-1-21 2 5 13 17 20-24 6 10 6 4 18 172 96" marker-start="url(#m5)" marker-mid="url(#m5)" marker-end="url(#m5)"/><path d="M2905 2778l-45 11 18 8 23 10 9 12-23 2-29 15 51 7 16 4 233 9-297-6-18 3-24 1 297 8 45 2 4 7-11 1-313 1 321 14 16 2-10 4-9 6-35-4-16-5-353 18 360 1 0-9 56 5-425 16 362 5 30-6 31 1 5 14-41-1-374-3-39 6-2 5 110 1 201 1 66-2 4 6 12-7 30 5 2 2 11 10-1-3-45-4-37 8-71-8-221 8-65-3-5-5 25 11 300-1 77 2 22 0-9 12-5 3-3-5-102-2-14-1-98 6-211 12 347-2 69 0 33-4 14 0-96 11-69-3-275 6 294 8 79-4 24 10-156 8-253-2 414 7-21 10-18-1-14-2-3 2-2 5-15 1-109-6-244 15 346-1 3-3 55-2-41 11-3-1-7 8-99 0-4-2-8-4-59 2 54 14 75 0 36-8 0 5 2 7-1 1-34 2 4 11-73 6-263 28 189-1 34 15 12 6-231 47" marker-start="url(#m6)" marker-mid="url(#m6)" marker-end="url(#m6)"/><path d="M2888 2793l-5 21-40 13 80 10-70 3 7 2 291-2 5 5-23 11-298 8 12-1 286 14-239 0 216 7 26-3 29 3-14 11-13-3-9 6 45 17-42-3-1 3-15-3-3 2-14 15 2-2 52 10-7-3-1-3-342 6 240 8 69-2-335 16 2 4 232 4 2-1 74-2 13 3 32-1 12 8-128-2-12-1 5 16 60-5 65 6-41 10-100-3-19 4 0 3 23 7 58-6 42 2-39 7-86-1-40 18 5-3 135 12-12-6-7 0-95-1-14 2-1 6-4-8-10 6 107 15-170 17 176-8 7 6 7-1 0 4-10 8-30 0-13-4-118 15 76-8-274 43 142 2 85-6" marker-start="url(#m7)" marker-mid="url(#m7)" marker-end="url(#m7)"/><path d="M2840 2795l-4 10 44-1-41 12-3-1-19 9 346 31-30 4 31 17-9-5-27 2 18 8 5 6-11 8-290-4 249 31 4 5 3-3 2 0 7 4 51 5-31 2-1 4-7-2-3-7-2 6-108 9 66 1 62-4 29 10-57-1 0 8-32-3-57 3-1 10 23-2 26-3 9-2 39 6 34-4-32 9-1 6-21-8-50 3-49 15 24-2 112 9-124 13 4-9 12 25 76 7-56 4-4 8 10-3 3-1-138 18 113 11 16 10-7 9-129 28-115 24" marker-start="url(#m8)" marker-mid="url(#m8)" marker-end="url(#m8)"/><path d="M2918 2807l-97 9 322 23-260-1-53 5 8-2 318 18-312-4 297 7-4 14-263 5 271-1 14 2 21 4-13 14 10 14-1 3-24-1-19-3-28 9 60 8-58 1-4 8 22 2 19 0 9 14-59-3-84 16 72-4 42 13-70 9 3-6 15 4 32 9-127 5 40 36 24 49-164 81-39 8" marker-start="url(#m9)" marker-mid="url(#m9)" marker-end="url(#m9)"/><path d="M2918 2812l234 46-230-8 248 18-319 18 318 16-65 27 54-7 8 7-116 20 54-7-78 14 30 8 58 8-58 12-82 24 121-2 14-6 24 2-56 8-55 5-25 11-42 7 82 12-10 25" marker-start="url(#m10)" marker-mid="url(#m10)" marker-end="url(#m10)"/><path d="M3159 2852l-10 58-86 64 46 7 6 23-64 50" marker-start="url(#m11)" marker-mid="url(#m11)" marker-end="url(#m11)"/><path d="M2900 2779l-64 10 15-1 33 1 47-5-7 33-77 10 11 1 45-6 7 5 81-2-135 11-25 1-12-1 36 6 30 4-15 9-8-2-1 1-33 0 19 10 39 5 3-1-30 8-24-4 31 10-6 26 105-1-91 13 75 13-55 0-40 2 29 24 5 1 7 5 7 9 7 9-32 26 224 7-60-3-149 1-21 0 38 13 158 7-136-1-2 4-11-5-41 5-13-5 10 10 15 6 14 0 9-4 2 5 7-3 21-5 54 5 10 3 58-4-33 8-54 1-35-3-8 0-3 2-11 3-3-2-1-2-25 3-4-1-14-4-12 12 6 5 20-3 1-1 4 3 28 0 2-4 19-1 6 8 49-3 25-4 2 3 6 3 4 0-20 7-56-2 0 3-9-3-11-1 0 3-14-4-1-1-2 4-26-3-23 17 9-2 1 1 25-6 7 5 5-1 17 1 10-5 0 1 12-2 2 1 8 1 2 3 21-4 6 4 4-2 1 2 17-5 13 13-12 0-83-3-48 3-14 5-4-2-7-5-10 0-38 15 61-2 12-4 18 0 19 15-13-4-2 0-45 8-46-1-21 9 13-5 1-1 4 1 1 1 1 5 15-4 2-2 15 5 10-1 11-3 17 1 10 3 1 2 2-4 3-5 15 19-5-1-5-6-3 5-8-2-6 1-4 0-2-2 0-1-12 4 0 0-1-6-6 4-7-3-4 5-20 2-6-8-6 3-5 2-12-5-1 5 2 7 9-2 12-1 18 5 3-2 3 0 13 2 6-3 9 2 11 1 6 4 4-3 4-5 2 0 1 1 1 9-4 4-10-5-11 3-33-3-5 0-4 6-19-4-2 0-21 3-2-5 8 13 4 6 18-8 7 6 35-7 4 4 26-1-17 8-7 6-9 1-1-2-6-1-15-1-23-2-2 1 0 1-16 2 18 4-22 130" marker-start="url(#m0)" marker-mid="url(#m0)" marker-end="url(#m0)"/><path d="M2926 2769l3-3-101 20 28 2 7-8 7 9 11-2 4 1 7 0 13-4 8 2 2 2 12-3 4 10-11 0-9-5-6 2-5 0-14-1-4 3-7 3 0 1-18-5-6 1-1 0 0 2-14-3-4 6-3-5-13 11 2 1 2-2 37 5 17-7 1 0 3 3 20 2 22-4 4 3 94-3 15 1-105 7-5 6 0-3-6 4-2-6-4 4-2-1-4-1-3-4-7 0-6 3-4 2-10-5-3 6-2 1-16-6-7 7-3-2-11 3-7-8-4-1-5 0-5 9 1 7 10 3 24-2 2-1 1-3 11 6 2-7 6 1 0 5 8-1 10-5 5 1 1 5 13-6 12 1 4-2 3 0-5 18-1-5-2 5-6-9-12 7-12 1-1-1-5 2-3-5-7-2-7 2-6 2-10 0 0 1-9-1-7-6-3 9-2-6-2 6-7-4-4-3 8 14 3 0 4-6 10 3 17 0 3 6 4-6 2 3 3-1 2 4 7-1 7-8 8 2 0 2 6-4 5 5 224 11-217-5-3 2-2 5-3-5-1 2-15-3-13 1-4-3-37 1-1 1-11 4 16 4 9 2 4 0 10 6 8-7 20 6 3-7 13 5 0 3 11 1 254 9-273 0-7-2-15 2-22 0-8 0 9 9 0 1 1-2 13 1 13 2 277 5-181-3-3 7-46-8-54 2-8 5-7-1-14 4 2 7 47 0 51-2 28 2 163-3 26 1-13 5-4 2-205-2-38 8-17-7-5 6-11 1-6-6-3 0-33 6 17 8 18-1 16-2 17-2 59 7 2-6 181 6-189 5-46-2-103 10 82 7 29 0 145-4 76 9-111 0-127 0-13 6-9 0-8-9-15 0-62 0-5 6-48-6 7 15 119-3 9 1 7 6 197 4-163 5-28-6-1 3-1-1-3 3-16-2-107 3-14 5 2-1 120 6 9 0 15 0 224-1-214 4-20 5-2 2-182 3 177 0 22 2 32 0 81 1 32 0 2-4 45 6 46-3-107 7-107 9-11-6-9 3-3-5-27 0-178 15 202 3 7-9 4 2 18 5 142 2 46 5-78-3-104 6-28 1 0-5-30 3-5-6 2 16 1 1 24-5 2 7 4-1 3-7 0 3 3 0 4 1 2-3 3-2 2 2 4 4 1-5 5 8 3-3 2-2 1 2 10 13-3-3-9 2-7-8-5 0-1 3 0-1 0 7-5-6-3 6-1 0-6 0-1-6-2 4 0 2-21-5-4 1-5-1-11 3-3 11 13-1 1-1 8 3 6-9 4 4 16 1 2-4 7-1 1 2 5-1 5 3 0 1 5-1 5-4 0 8 3-2 11 2 66-7 44 7-31 3-4 8-14-9-17 4-6 1-12 3-20-1-4-1-18 2-1-7-10 1-5-1-20 3-5 4 0-6-10-1-4 7-3 1-3-6-5 1-7 13 13-1 9-3 1 5 8-7 1 6 6-4 1 5 14-2 6 0 2 0 0 3 8-5 1 5 86-7-83 14-6-6 0 8-7 0-9-6-4-2-1 1-4 3-6 5-5-5-1 1-6-3-6 4-5-5 0 6-4-2-3 10 3-1 11 0 5 0 5 0 7-4 10 5 11-4 4 6 2-1 5-2 6 2-4 9 0-2-3-1-2-2-2 2 0 4-1 0-1-3-7-3 0 9-17-3-5-5-1 0-1 4-9-5-2 1-1 6-4-6-49-1-2 4-132 7 117 6 9-6 5 2 4 4 3 2 19-2 4 1 4-5 2-3 16 9 3-9 2 7 1-3 2 0 5-2 1 6 3-3 4 1 2-2 8 4 10-3 2 1 8 2 0 6-2 1-1 0-2 4-17-7-4 1 0-3-1 8-1-1-2-7-3 5-5-3-3-2-4 6-2-5-25 5 0-4-9 2-2 2-13-3-4 0-4 2-3 3 0-5-3 2-3-3-3 7-6-3-2-3 2 15 12-8 1 0 8 9 1-6 1-3 7 7 2-4 7 6 6-3 2-6 16 0 2 9 0-9 2 0 7 2 0 3 8-4 2 5 1-2 2-1 0 6 7-7 1 4 0-5 0 8 0-7 1 5 4-7 6 7 1 2 9 0 5 3-2 3-3 2 0 1-2-8-2 1 0 0-2 6-2-1 0-3-1 4-1-2 0-1-2 1-2 2-2-2-3 0-3-4-3 0 0 3-4 4-8-1-8 1-1-5-2-1-13 7-7-2-7-7-2 9-4-1-1-1-12-3-1-1-7 5-7-1-9 3 3 4 7-1 0 6 2-9 11 5 6-4 2 4 3-3 1 6 2-8 11 7 6-7 4 7 0 1 6-3 3-2 5-1 7 5 8-5 9 3 1-1 9-3 0-1 2 2 2 7 6 3-27 0-3 0-3 3 0-3 0 4-2-4-9 7-8-1-1 0-1-8-1 2-1-1-1 8 0-8-1 3-3 5-4-2-3-4-3 3-3-1-11 0-3 2-2-6-9-1-2 2 24 14 22-2-5 105 0 10-13-4-1-3-18 15 6 0 12-4 14-2 8 2 3 8" marker-start="url(#m1)" marker-mid="url(#m1)" marker-end="url(#m1)"/><path d="M2937 2776l-11-2-10 5-16-1-30 2 51 3 8 6 1 2-1 5-5-3-11 4-1-5-1-1-3 1-15 1-11 2-6-1-9-1-6 6-1 0-9-7-2 6-15 1-18-1 3 8 5 2 14-6 16 4 6-6 1 0 2 8 3 0 5 0 6 0 1-4 10 3 0 2 9-6 0 6 4-5 13 5 7-7 3 2 1 0 81 3 18-7 2 5 4-2-117 15-3 0-9-3-12-5-5 0-7 2-12 5-5 2-8-1-5-1-4-3-1 4-2-7-21 1-3 6-4-6-7 14 5-1 10-4 12 3 17 1 19 0 15 4 8-4 3 0 5 3 99-7 157 18-169-3-90 1-19-3-4-2-5 6-4-7-37 2-3-1-2-1-1 2-11 4 10 11 4-5 1 0 8 0 8-1 1 0 1 6 9-1 2 0 14-7 13 0 21 4 1-4 7 5 14-5 216 2-120 16-4-5-102 1-11-1-10-3-7 2-8 5-31-1-10 3-10-8 3 12 5 0 7-2 15 4 4 3 3 1 12-2 1-3 4 4 5 0 3-7 5-1 18 3 5 4 236 5-244 5-2-4-5 1-7 1-7-5-8 5-7-2-6 3-1-4-23 0 3 13 13 3 4 0 14 1 0-3 2 3 10-4 249 13-255-2-2-5-2 0-14 4-6 4-3-9-8 7 27 7 25 7-12 0-23 7-13-7-61 8-16-1-18-1-31 11 13-5 42 4 15-5 40 6 10-6 24 2 3-1 25 2 55 0 148-1 0 4 56 9-36-6-277 1-6 4-1-3-36-3-3 7-8-5-2 3-1-5-23 4-47 5 48 3 83 2 9 2 5 3 22 0 5-6 17 5 1-4 190 2 37 0 11-4 11-1 10 12-109-1-149 7-9-5-3-4-6 1-8 3-99 5-9-5-45 4-1-4-29 7 8 6 4-5 13-1 10 7 24-5 105 3 5-4 4 2 11 3 129-5 24 0 26 0 8 6 78 4-247 6-3 0-9-6-3 0-5 6-26-3-1-5-136 3-11-1-3 2-14 13 29-6 1 4 4-3 7 1 164-2 9 8 119-8 26 7 9-2 20-1 50 0-69 12-25-5-36 7-26-7-110 0-135 6-2-2-9 0 0-6-9 8-2-5-1 2-14 11 22-2 176-4 10 8 8-5 0 4 9-2 0-5 164 7 39 9-80 2-11 0-110-5-9 3-16 1-18-3-1-4-2 8-171-4 0-2-17 4 17 8 2 0 165-4 11 0 1 7 14-6 1 6 6-3 12 3 37-6 12 0 98 6 2-2 19 12-23-1-24 2-75-2-44-3-10-1-7 1-3 2-12-4-1 5-188 3 197 1 1 0 12 6 9 2 1 0 107-5 4-3 7 8 51-3 16-1-56 7-20 1-74 2-12-1-2 4-10-4-28 4-17-3-2-4-9 9-5 3 3 6 1 1 56-1 135 1-96 7-27-5-2-1 0 3-11 1-4-2-2-1-8 3-1-1-21 5-6-7-4 5-25 2-162-2 169 13 9-1 11-7 0 1 1 6 54-6 3 4 4-5 2-1 5 6 2-6 10 7 15-5 36 5 29-5-74 9-40-1-1 5-7 0-2-2-7 0-10-1-17 6-202 2 207 4 3 1 3 2 2-2 9-2 20 3 2 6-8 3-7-4-13 2 0 2-10 0-1 0-1 4-7-8-193 0-1 13 117 5 8-3 5 1 2-3 2-3 2 3 8-1 6-2 12 5 15-2 4 0 1 2 1-2 5-2 3 1 7 5 5-1 31-2-5 10-3 2-10-5-3 2-2 5-23-8-1 3-7 3-53-3-10 1 0-4-125 3 132 14 50 0 46 0 0-8 0 6 4 1 0-7 7 13-2-3-9 4-5 4 0-6-24 6-5-6-19 7-7-2-13 0-11-2-135 1-13-5 128 15 17 1 19 1 13 1 23-6 10-1 19 1 6 0-19 14-3 2-21-1-4-1-3 1-15-8-1 0-8 7-18-7-5 2-3 0-127-2 3 11-7 16 166 92-23 16 24 14" marker-start="url(#m2)" marker-mid="url(#m2)" marker-end="url(#m2)"/><path d="M2866 2784l26-4 4 3 17 4 2 2 8-7 11 3-4 13-22-3-9 4-15-1-9-7-14 4-6-3-6 4-1 0-9 0-7 4 3 5 6-4 30 8 4-8 23-1 121 6 4-5-115 14-1-1-8 3-11-7-7 8-38 1-7-2-10-1-14 12 45-2 45-1 18 12-13-2-43 4-6-1-5-4-29 3 0 1-16-6 14 8 3 5 10 4 23-8 2 1 20 1 26 2 4-1 5-2 236 5-270 12-6-3-13-5-2-1-7 8-18-3-13-1 36 6 35 5 2-5 6 4 0 2 251 1 5 2-2 3-12-2-244 8-14-3-39 8 6 4 5 1 2-5 0 5 13-1 8-1 268 5-16 7-256-4-12-4-12 7 42 12 230-8 19 4 24 2 7 6-290-3-38 3-9-1-79 3-23 6 9 5 1-6 3 6 9 3 10-7 12-1 0 8 21-4 50 0 25 0 17-1 254 8-21 6-231-4-9 2-16-4-4 6-127 0-3-5-23 15 7-2 6 3 8 0 2-6 78-1 3 0 9 2 37 3 26 0 138 2 25 0 113 4-12 5-39-4-87-1-13-3-118 7-7-7-40 5-60 0-29 3-28-7-18-1-3 2-5 14 8 2 4-8 17 4 24 5 107-6 22 2 149-4 18 0 82 6-34 8-216-3-11 5-20-5-112 3-11-3-6 5-3-7-24 14 14 3 23-4 10-2 3-1 352 1 11 1 5 7 33-4-17 12-2-1-9 0-35 3-53-5-28-2-285 2-12-4-1 2-15 4 3 8 2 0 15-3 13-1 0 2 176-2 4 7 51-1 76 0 75 2-20 7-10 4-34-6-148 4-12-4-193-3 190 19 188-9 42 2-12 8-167 7-45-6-201 16 17-6 160 8 5-7 10 5 17 1 19-7 1 2 26 1 9 1 64 2 10 0 13 1 12-3 19 4-105 9-9 1-7-2-51-3-10-2-13 2-26-2-154 11 185 1 25 2 8-3 71 1 44 1 29-5 3 14-35-4-74 6-265 0-2 13 12-8 179 0 27 5 15-3 12 1 32-1 25 2 21-2 11 3 7-5-159 10-8 6-166-7 0 4-5 0 187 11 63 3-10 3-5-1-101 5-137 2 8 3 137 2 16-2 20 1 44 6-2 12-1 0-86-2-5-1-6-1-2-2-14 1-117-3-7 1 12 14 12-3 117-1 31 6 64 7-232 5 6 3 11-3 3 7 182 1-12 10-30-3-138 2-16-1-9 13 3 1 136 119 2-3 10 4" marker-start="url(#m3)" marker-mid="url(#m3)" marker-end="url(#m3)"/><path d="M2917 2797l-22-5-7 0-50 2-2-1-20 4 44 4 17 7 3 1 158-8-152 11-36 2-32-2-10 9 103 3 82 1-148 14-15-3-11-6-3 17 92 9-29-1-29 3-22-6 23 16 9-2 14 1 28-7 7 2 216 4 36-2-30 7-240 3-59 2 47 8 227 4 59-3 4-3-34 16-288 2 35 1 3 1 1 2 55 5 25-3 11-4 147 7 40 10-276-6-26 1-3-2-1 7-35-2-4 2-65 0-18 0-7 1 2 6 8-3 23-3 3 0 12 5 12 4 8-1 2 1 13 0 17-6 7 0 1 1 4-1 32 5 24-7 48 6 226 12-40-6-346 2-13-1-28 4-10-2-14-5-15 17 1-5 10 6 47-2 37-5 276 7 83-1 3-8-22 11-14 0-19 4-31 4-75 0-134-9-109 7-14 1-46 11 22-7 24 7 5-3 7-5 4-1 99 2 41 5 150-3 36-1 12 0-44 11-7-2-49-1-9 0-229 1-8-2-13 2-1-2-1 0-7 1-8 7-10-7-13 0-8 15 28-3 0-1 23 5 234-5 114 4 46-2-37 14-6-1-69-6-42-1-4 6-250 0-2-1-4-2-21 2-7 1-3 11 28-4 132-2 145-1 94 0-67 19-58-9-2 6-63-1-189 2-1 2 256 7 135 1-70 10-324-2-15-1 158 15 62-8 38 2 1 3 73-3 63 4-36 4-8 2-23 1-16 4-64-7-252 8-2 9 9-5 335 5 33-2 12-6-68 13-28-3-57 2-32 4-25 2-181 1 0-1 7 3 1-1 245 4 20 2 15 2 4-6 36 17-84-6-246 4 2 7 4-3 189 5-202 19 15 2 0 0 5-4 133-2 52 8-190 10-22 7 10-5 1 2 14 3 5 3-7 6-9 4-1-3-2 2-14-5-1-1 3 14 1 3 2-2 2-7 1 5 14-1 1 9-3 3-1-4-16 9 8 1 4 5 4 8-4-3 156 97 5 3-2 0-8 6 7 12" marker-start="url(#m4)" marker-mid="url(#m4)" marker-end="url(#m4)"/><path d="M2869 2788l178 6-218 28 46 3 28 3-69 8 77 11 236-6 2-1 20 18-40-2-236-1-56 4-17-3 327 12 22-5-11 12-18-1-18 5-11 8 47-3 4 2-1 7-2 3-36-5-9 4-220 9 205-4 75 11-29 8-29-1-18 0-245-7-16 4-52 0-12 1-56 12 4-2 35-2 22 4 24-1 15-3 23 4 260-6 27 0 0-2 17 7 9-7 5 7 10 0-20 5-322 7-10-5-1 2-10 3-72-2-2-1-1-3 32 9 25 5 308-5 49 7 23-2-111 9-286 0-26-1-2-2-6 0 6 11 6-3 236 7 16-4 7 5 19-2 23 1 23-7 18 2 18-1 52 13-30-5-85 4-44-1-12 4-241 0-9-7-2 6-14-2-22 0-10 15 314-9 60 4 49 1 1 1 13-5-10 9-21 4-33 1-353 1 193 8 137 5 35-9 5 3 14 4 16-2 2-5 3 9 5-3-3 6-17 2-2-2-65 7-336-3-12-6-5 3 20 13 240-6 7 6 111 1 5 0 10-2 4 2 11 2-30 9-4 0-2-5-353 14 300 1 47 1 8-3 5 2 1-6 22 5 3 3-8 0-2 1-33 2-4 2-43 0-56 0-13-4-236 4-2 3 245 8 117 3-13 1-169 9-177 6 256 0 42-4 32 12-339-3-14 39 13 18 1 0-17 6 15 13 11-3 139 7-160 0 0 0 2 15" marker-start="url(#m5)" marker-mid="url(#m5)" marker-end="url(#m5)"/><path d="M2872 2787l25-7-3 58-16-1-44 1-25-8 61 15 38 0-58 9 49 11 9-3 234 4 6-1 28 14-1-6-6 5-6-3-3-3-270-1-15 15 257 3 45-9-19 14-3 2 0-4-3 0-28 6 13 2 7 4 5-1-37 9-354 3-21 9 15 3 83 1 300-4 24 2 1 0-14 8-10 2-1-4-318-1-66 8-27-2-11 6 313-2 82 6 5-5 40 12-14-3-14 7-59-1-23-2-162-3-172 6 65 8 242-5 8-1 19 6 7-4 40 3 35 1 6-1 10-1 14 6-25 4-11 4-79-2-22 7 18 4 71-1 10-3-6 7-6 9-37-2-4 1-66 0-133-2-166-4 266 16 152 7-90-1-15-4-135 10 10 5 222-1-12 6-3 6-19 3-29-3-356 2 11 3 313 7 42 6-53-4 38 13 36-3-39 14-20 4-14 15-111 8-219 27 7-2 9 7-1 2-14 17 197 12 4 5" marker-start="url(#m6)" marker-mid="url(#m6)" marker-end="url(#m6)"/><path d="M2890 2804l9-3 9 18-42 0-47-3-11 12 66-7 15 0 256 24-10 9-295 12 74-4 231 2-17 10-16-3-260 17 287-4 10 3 1 0 9-6 12 8-42 15 7 5 5-9 20 2 3-1-3 10-379 13 7 1 303-1 53 8-21 1-88 6-322 7 317-6 88 2 46-1-53 11-267 1 239 10 12 3 43 6-25 6 0-8-9 7-98-5 6 12 13 5 2-7 8-1 13 7 61-5 9 0 7 3-44 13-22-4-54 4-285 7 273-1 10-1 66 0 48 10-87-2-62 7 94 5 9 19 24 1-50 10-4-1-1 0-40 1-95-2-42 17 197 2-157 65-87-1 83 35" marker-start="url(#m7)" marker-mid="url(#m7)" marker-end="url(#m7)"/><path d="M2837 2796l6 17 8 15-19 18 72 2 242 8 4 11 11 11-19-5-39 31 40 5-18 8-22-5-6 2-362 6 372 6 13-5 4-1 17 2 4 6 1 11-104-3-282 2 395 10-23 8-82 3-30 9 72-3 42 3 28-8-23 17-70-1-5 0-11 4 11 0 28 3 7 0 10 0 35 4-65 9-65-6-9 5 41 11 80 3-33 5-58 0-6 3-1 0-22 7 61 1 44-4 2-1-38 18-52-5 24 14-119 8-7-2 125 24-43 7-183 67 14 22" marker-start="url(#m8)" marker-mid="url(#m8)" marker-end="url(#m8)"/><path d="M2824 2814l10 8 14-1-9 22 0 3 325 6-18 16 36 10-291 6 220 1 61 0-39 21 15-5 0 5-5 4 11 23-39-1-17 2-212 8 269-2-61 11-32 6-17 11 3-5 77 7-34 4-1-2 43 11-58 7-390 36 336 2 45 30-23-2-33-3 19 11 33 1 18-3-31 20" marker-start="url(#m9)" marker-mid="url(#m9)" marker-end="url(#m9)"/><path d="M2880 2853l249 34 12 19-31 10-6-6-93 39 25-4 59 14-1-5-5 3-76 10 80-5 24 7-25 3 19 9 23 3-140 7 36 18-80 10 114 1 32 2-4 8-25 1-237 134-7 5" marker-start="url(#m10)" marker-mid="url(#m10)" marker-end="url(#m10)"/><path d="M3161 2857l19 25-139 98 1 12-104 57" marker-start="url(#m11)" marker-mid="url(#m11)" marker-end="url(#m11)"/><path d="M2933 2768l-42 20 25-2 18 0-38 12-34-5 18 8 2 1 25-2 10 1 112 3-207 10 91 13 2 2 0 6-82 10 62 1 1 3 80-5-60 14-13-1-25 2 26 8 116 1-148 5-36 8 3 1 20 1 11 5 275-3-292 13-16 0 59 11-24 36 27-3-43 12 54 35 232-1-255 20 104-2-44 24-18 7-3 1-8 1-31-2-11-1-6-2-9 4-9 8 40-5 4 2 3 3 2 2 10-2 10 2 3-2 6-2 92 4-5 5-23 0-6 6-46-9-1 7-9-2-19 4-15-7-17 6-2 0-1-4 0 3-25-7 9 15 22 3 40 1 4-7 1 5 10-7 22 7 25-1 11 2 15-5 20 3-8 12-8 1-67-1-6-2-3-6-32 4-8-4-1 5-26-3 0 3-32 7 21 1 26 1 1 1 23 3 1-7 28 3 21-1 33-3 35 10-1 1-57 7-30-4-29 4-4-1-42 7 1 4 2-3 4 1 24-6 15 5 3-3 7 7 2-3-8 10-8-1-3 4-4-9-13 6-11 1-59 1-11 10 14-7 28 5 3 3 6-7 27 6 7-1 0 1 4-4 15 2 0-1-8 12-2-5-1 5-2 0 0-1-1 0-3-2-2 3-18-2-23 2-9 1-29 0-4-8-2 9-19 3 1 0 9 7 5-4 10-5 1 5 13-5 26 7 9-1 8 2 15-8 2 2 0 7 3-7 3 1 4 0 2 4 4 1 6-5 4 6-8 5-4-2-7-1 0 1-18 7 0-2-36-5-9 7-4-9-14 7-11 0-9-7 0 4-1 14 8-6 12-2 5 4 25 1 0 2 5 0 3-5 4 5 21-3 3-4 5 3 0 1 8 3 7 0 6 8-17-3-3-1-22 0-5 5-18-2-1-1-8 4-2-5-2 0-1-2-3 2 29 9 21-1-20 117" marker-start="url(#m0)" marker-mid="url(#m0)" marker-end="url(#m0)"/><path d="M2922 2777l-31 9 8-1 2 2 3 1 2-7 21 0 3 0 111 17-120-7-15 7-8 0-2-2-17 1 0 2-7-3-8 1-48 5 14 7 3-5 2 1 6-3 30 5 7-2 2-3 2 1 4 1 17 0 21 3 104 1-31 10-84 0-4 1-5-5-8 0-7-1-10-3-2 2-6 7-4-2-18 2-16 0-13 0-9-9 14 17 14 2 2-2 20 0 23-5 0-2 4 1 2 0 4 2 0 2 11-4 9 4 1-5 4 3 70 12-64-2-4 6-45 0-13-6-12 2-21-5-18 14 8-4 0 1 6 5 4-1 27 4 2-3 11-2 4-3 1 8 2-4 4-5 13 3 5-1 8-1 9 4 101 7-142 1-1 1-7 0-1 3-13-4-27 6 5 4 11 3 18-4 4 0 9 5 7-3 2-1 15 14-8 0-13-6-12 8-5-8-3 0-10 0-4 2-7-1 6 11 5-2 4 2 13 4 3-1 13-6 17 4 238-4 32 10-192 2-39 2-57 2-3-4-6 1-2 4-6-6-4 2-4 3-3 10 18 2 10-4 10-4 3 2 47 5 232 1 11-3-79 5-137 0-82 9-25-8-4 5-98-5 6 17 4-4 23-2 19 1 40 1 18 0 2 1 28 1 5-5 53 4 162 4 45-2-61 7-200 3-2 2-8-1-6-3-16-5-5 0-4 5-9 11 15-1 17-2 13-1 159 10-171 2-21 2-10-5-7 8-96-1-4 0 111 2 9 8 23-3 23-4 0 4 167-4 68 7-20 4-6-2-50 9-16-2-54 1-126-5-181 12 15-4 185 5 116 1 40 12-41-8-8 6-87-2-8 4-9-3-20 2 0 1-5-5 1 9 25 3 80 3 112-4 1 14-182-6-11 3-11 0-5-6-9 6-11 6 6 4 5 3 10-5 2-1 19 6 13 0 6-2 88-6 78 17-174-3-1 0-3 0-2-1-4 3-4 2-3-2-9-4-11 3-15-4-173 14 177 1 18-7 1 4 6 3 0-4 2 5 4-7 2 1 2 3 5-1 3-2 7-2 2 6 13-3 6 4 10 5-2 6-7-1 0 1-1-1-12-2-4-2-1 2-9-4-3 8-2-5-1 0-8-1-11-3-1 3-1 4-1 0-4-1-5-4-5 6-10-4-2-4 0 2-1-2-5 8-1-5-1 13 14-2 1-1 1-1 8 4 3 0 1-4 4 1 1 2 4-3 3 5 5 0 12 1 3-1 10-5 6 6 15-5 6 4 3-1 0 1 36-2 66 2 7 5-10 4-113-6-9 5-1 2-2-4-8 4-2 2-3-9-11 9-12-7-27 6-1-7-6 7-3 4 2 6 5-7 4 4 6-1 12-3 4 5 1-5 16 4 1-2 11-2 8 1 2 7 60-7 6-2 8 6 14-3 9-3-2 14-36-1-46 1-6 0-2 4-8-1-10-6-2 1 0-1-1 3-3 1-3 4 0-1-4-4 0-1-1 4-5-6-5 5-3-5-8 1-1 1-2 3-7-2-4 5 1 5 1 1 0 2 1-3 7-1 1-2 4 5 5 0 1-5 10 7 3 0 7-4 5-3 6-1 15 4 1 10-11-3-1 2-11 6-8-5-21-3-2 1-5-2-7 4 0 0-4 0-32-2-4-1-16 1-4 12 3-3 5 6 4-6 2 7 3-4 7 5 5-3 5-1 1-1 2 4 6-8 9 7 1-1 3 1 2-6 1 6 1 1 1-2 1-4 2 3 1 3 0-7 7 7 1-2 6 0 1 0 5 2 0 0 0-8 1 9 2-5 2 5 9-2 3 2 8-5 2 6-3 9-1-1 0-6-3 2-1-4 0 9-3-2 0-3-7 0 0 0-2 4-2-8-1 9-2-5-1 2-1 0-2 2-5-3-2 0 0 0-11 1-3 1-5 0-3-7-6 4 0 4-1 1-1-2 0 1-5-3-8-1-5 1-3-2-2-3-1 6-6-4 0 5-4-6 0 8-1-3-1 2-10-4 0 5-5-3-1-3 0 13 10 2 8-1 2-1 2-4 7 1 0-1 8 4 0-5 3 1 0-1 3-1 2 1 1 0 4 3 3 0 0 4 1-5 1-3 4 7 8 2 3-2 2-2 7-5 0 0 2 1 1-1 2 7 0 2 2-2 10 0 4-7 0 8 4-3 1 1 2-3 0-1 1 5 0-1 2-4 2-1 2 0 4 0 0 1-6 13-10 2-17 2-2-1-4-4-7 2-3-4-4-2-1 6-4-3-1 6-4-7-1 4-8-5-2 6-3-2 0 2-8-7-3 6-2-2-1 2-5-1-1 0-3-5-12 3 0 6-1-9-8 0-4 0 7 12 0 2 3-3 8 4 0-1 3-4 8 3 2-1 2 2 12 2 1 2 2-4 4 1 0 4 4-9 25 2 5 1 2-2 13 2 9 0 13 0-12 9-24 3-1-1-2-2-6 7-4-7-25 2-3 3-1-1-10-3-4 5-136 7 163-3 12 1 9 0 4-3-76 127 3 0 6 2 43-4-19 5-28 1" marker-start="url(#m1)" marker-mid="url(#m1)" marker-end="url(#m1)"/><path d="M2934 2768l0 9-23 0-43 0-36 5 24 0 39 5 31-6 1 1 5-1 2 0-10 9-3 0-4 6-6 0-6 1-1-2-5-2-3 3-7 2-13-3-6 3-22-6-33 8 6 2 3 3 2 4 3-2 1-7 8 3 16 1 27 5 6-9 15 0 15 0 6 4 90 4 22-5-122 7-17 9-9-3-21-4-3 4-4-2-10-3-15 3-1 4-12-8-4 3-7 6 3 7 7 3 9-4 12 2 4-2 26-5 5 7 26-6 3 7 4-1 2-4 6 1 78 7-10 1-82-1-3 7-1-2-4-4-7 2 0 4-13-8-2 8-2-3-4-1-2 2-23-2-4-3-15-1-1 8-4 6 0-2 1 6 7 0 4-7 3 6 11 1 5-7 3 3 3 0 2-2 6 7 6-4 44 2 258 5-288 2-1 5-2-9 0 4-12-2 0 2-7-3-1 8-2-9-8 3-12 0-7 5-9-3-10-3 19 12 3 1 16 3 2-4 9 1 5 3 1-4 21-3 7 1 2 3 11 2 0-7 117 5 2-3 116 1 24 1 4 0 2 7-13 1-34-2-242 1-7 1-8 0-22 2-5-2-17 0 4 8 17 4 5 0 2-4 4 8 4-8 6 4 17 3 8 2 32-4 216 3 0-1 22-3 1 0-27 10 0-2-21 7-244-5 0-3-7-1-2 13 19 4 3-1 40-5 9 2 26 6 6-4 167-4 17 5-251 9-12 2-12 2-2-9-25 6-1-1 0-3-8 6-107 11 20-2 17-1 5 2 60 0 12-3 22 4 293 0-26 10-18-3-164-3-52 6-4-5-45-1-13 2-33 0-30-5-13 0-11 4-34 7 43 0 24 5 23-3 25 0 18 0 1 2 18-1 1 4 17-6 205 4 32-1 7 10-2-3-1 0-6-2-106 1-8 6-102-1-14 1-2 1-3-4-6-1-25 1-92-4-5 6-21 1-38-2 38 6 12 2 9-2 2 8 91-5 11 2 20-1 8-3 7 6 232-2 12 7-43 4-11-1-14-6-25 4-20 2-133-3-10 3-19-2-2 0-10 4-104-8-15 8-1-6-3 2-1-4-29 4-3-3 45 17 124-1 44 0 75-2 59 0 49 0 36 0-9 12-4 2-65-6-71-2-82 2-10-3-7 9-10-5-7 9 29-1 71 5 112-3 41-1 14 4-113 4-12 3-108 0-9 1-16-2-17-1-5 7-144 0-10 9 173-1 28 2 2-2 1-1 6-1 114 4 6-8 9 4 9-5 35 8 19 6-18 3-62-6-102 1-7 0-1 2-17 1-7-2-8 4-7-2-182 6 4 7 6-4 159 2 28 3 6-5 13 1 9 2 7-4 7 4 30-7 48 9 6-6 6 5 20 0 37-6 1 7-85 5-58 0-3 1-6-1-7 1-16-2-4 0-9-1-5 3-38 0 28 9 19 0 20 4 8-2 8 1 2-6 4 7 16-6 1-2 41 6 23 3 10 0 3 10-3-6-11-1-1-1-28 5-4-3-23 6-1-3-32-2-2 5-17-1-3-6-5-2-9 1-32 2-1 5-7-2-2-6-160 18 181-3 7-1 0 0 12-2 0 7 2-2 4-3 26-4 16 9 0-4 2 0 33 1 4 2 11-3 38-3 5 0 2 3-6 8-14 0-44 0-35 6-19-1-5-7-2 8-4-2 0-4-13 1-24 3-170 0-8 5 179 4 13-3 23-1-11 10-14 6-2 1-1-9-59 6-6 3-2-2 24 10 4-3 0-1 11 2 31 1 4-6 20 9 16 2-24 3-11-4-10 8-2 1-15-8-19 6-10 2 0-3-16-5-3 13 24 4 5-4 7-2 7 5 50-4 4 4-11 3-12 9-11-5-9-4-7 1-1 8-8-3-15-5-34 1-1 3-110-4 1 9 130 9 6 0 2-4 3 2 18-1 2-1 2-5 7 9 8-9 16 6 2-4 2 4 4 1 6-3-64 8-12-2-7 2-122 7 161 117-45 12 10-3 25-1 4 3 4-6 5 1 5-1-59 11" marker-start="url(#m2)" marker-mid="url(#m2)" marker-end="url(#m2)"/><path d="M2890 2788l1-4 17-2 4 3 16 4 1-7-11 13-11-4-47 7 0-3-2 2-29-5-18 5-5 9 30 0 32 0 20-4 16 5 19-5 99-1-97 17-8-5-75 3-6-6 44 13 19 4 19 0 65 8-73 4-1-2-15-4-11 0-10 0-9 2-15 0-27-5-6 14 20 1 17-5 14 5 3-4 2 5 4-4 2 0 2-2 3 2 21-1 1 8 0-1 11-4 5 3-10 5-13 3-3 4-16-9-18 2-17-1-10 7-5 1 13 4 2-3 0 0 15 1 4 3 17-1 23-1 217 6 60 9-59 2-215-8-15 8-1-2-2-3-3-2 0 7-7-4-25 10 43-5 1 1 245 3 41 3-245 11-101-3 133 11 139-1 19-4 1 3 18 10 0 5-21-8-237 1-12-1-49 5-46 0-9 2-45-2 21 4 28 5 14 0 10-1 29-4 3 0 28 2 18 3 67 3 220 10-222-7-40 7-11-4-5 4-52-8 0 1-5 8-16-1-2-2-5 0-7-6-17 6-28-3-6 0-12 1-5 3-11-1-8 12 55-7 9 3 84 5 21-7 8 3 168-2 38 1 21 4 21 1-278 3-90-1-3 4-2-3-20 2-24 5 11 2 26-1 6 2 20 2 77 4 191-3 19-2 8 1 18-3 17 3 3-1 30 2 4 12-10 1-39-2-41-1-165 1-2-3-51 4-114-7-38 8 32 5 17 3 7-5 113 8 34 0 115-1 94-4-93 7-16 6-6-5-82 3-18 4-2-1-162-7-23 18 160-3 220-2 51-2-51 9-84 8-3-7-18 2-268 1-2-2 166 10 18 4 21 1 102-6 92-2-38 12-150-1-7 6-212 1-12 11 0-3 11 1 158-6 6 0 41 2 146 2 13-5-55 11-27 8-52-2-2 2-16 0-12-1-7 0-6 1-35-3-161 12 182-7 30 4 24 1 4-6 33 9 7-5 50 3 32-6 4 0-67 9-8 7-16 2-54-4-35 4-14-7 42 17 2-5 5-4 6 3 18 3 63-5 53-1-136 15-43-2-7-2-11 5-175-5 2 9 10 2 206 5 0 1 72-7-86 14-2 3-3-8-59 8-146-1 5 6 184 4 18 1 27 2-2 0-12 2-37 0-49 5-143 12 171-6 43-1 33 1-64 16-24-6-18 1-122 0-2-3-1 1-7 3-12 9 14 1 10-3 194 4 16-5 11-1-68 16-32-3-125 5 179 5 25-1-207 8-3 1-1 4 174 96-12 8 4 2 15 11" marker-start="url(#m3)" marker-mid="url(#m3)" marker-end="url(#m3)"/><path d="M2901 2779l-33 10 32-8 7 7-59 18 63 3 8-2 10 5-17 6-22-2-43-3-6 13 19-4 55 7 2 10-26 0-8-6-70 2 60 10 13-2 127 9 0 7-136-9-23 18 31 1 141-5 107 0 36 13-275 2-42 9 22-8 256 2 33-1 17 10-11 3-25 3-16-6-152 0-98 0-13-1-13 5-98 13 115 0 10-1 63-3 177 1 8 0 39-2-12 16-32 0-165-2-107-4-129 11 20-1 22 3 17 3 21-5 1 5 18-7 15 7 6-1 33-6 273 13-1 4-5-5-2 2-25 2-5-1-274-6-16 4-3 3-3-7-14-1-8 0-19 4-3-1-1 2-6-4-5 8-1-4-6-4-6 0-22 5-2-1-3 4 2 10 1-3 7-1 4-4 4 0 5 2 9 4 16-7 13 0 108 6 227-1-1 12-35-6-42 3-24 3-231-4-16 0-26 4 0 2-3-1-33 5 2 3 23 2 39-6 11 1 79 6 153-3 48-3 70 4 24 7-45 3-375-6-32 2 4 8 31 5 159 0 100 0 28-3 11 1 5-3 81-1 6 3-138 14-75-2-195 3-25 0-2-6 5 13 4 0 11-4 0-1 0 7 3-2 1 3 149 0 8-2 135-3 2 4 85-4 33 3-24 9-8 4-65-9-24 4-37-4-1 6-68 0-13 0-168-4-8 7-7-5-16 2 7 13 5-6 4-3 9 1 393 1-10 16-27-8-15 7-23-1-3 0-69 2-268 7 11-2 221 3 87 1 55-5 11 1-50 16-67-8-23-1-62 7-189-4-1 8 2 8 6-9 248 1 6 8 69 0 28-4-1 9-2 5-25-8-325 0-4-1 241 15 57 4-47 9-248-6-10-1 7 9 3 16 223 18-227 2-11 1 12 7 5-1 149-1 73-1-221 12-7 0-17 10 0 0 4 5 13-6 6-1 102 0 101 7-71 4-131 5-15-5-7 5-3 2 12 1-1 18-2-7-2 9 163 103 13 8-7 10" marker-start="url(#m4)" marker-mid="url(#m4)" marker-end="url(#m4)"/><path d="M2912 2792l-50 1 25 21-27 22-4 3-28-2 315 3 6 2-258 17-39-2-17 1 46 10 274-7 1 6 23 2-9 1-271 10 28 8 197-8 45 2-10 17-30-4-2 0-276 6 251 1 9 5 8 2 20-6 6 4 2-2 25 6-22 6-8-6-14 4-7-3-394 12 29-4 55 7 141 0 148 2 6-6 17-2 0 7 12-2 20 2 11 10-28-2-28-4-4-2-88 6-192-1-23-5-46 9-23-6-7 12 3-2 144 4 144 0 13-2 97 3 6-6 12-1 5 18-2-1-10 0-10-3-14-4-8 0-76 1-17 4-15 0-217-2-72 5 36 2 258 2 86 6 7-4 28 3 15-1-38 4-86 1-32 7-249-7-14 2-24 10 342 4 61-6 6 5 16-4 9-2 3 11-5 7 0-5-6 1-15-4-10 7-16-4-8-2-43-1-52 3-279 5 317 9 27-2 40-2 34 4 10 10-4-2-6 1-23-1-39-3-31 4-12-2-299 1-11 4 331 4 37 2 17 8-6 3-22 2-122-6-5 5-230 1-10-6 250 15 62-1 42-6 29 8 8-6-7 15-22-1-373 4 352 2 15 14-12-1-58-1-294 4 0-3 253 4 47 6 8 11-31-6-284 4 1 8 250 0-239 16-3-2 198 9-210 14 6 8 2 0 10-7 2 0-18 11 1 10 6 6 10-5-9 9-13 16 11 0 7-3 152 133" marker-start="url(#m5)" marker-mid="url(#m5)" marker-end="url(#m5)"/><path d="M2915 2783l2 9-26-1-15 6-45-6 46 18-3 38 276-5 11 15-1 3 8 13-16 0-9 6-3-2-19-6-6 16 32-4 13 4 18-2-8 9-312 3 246 7 18-4 6 3 12-1 5 6 7-8 1 5 1-1-1 13-266 1-125 0 334 7 33-1 6-4 5 2 36 15-44 2-28-5-354-3-9 2-9-2-15 5-9 11 3-2 42 2 31-3 390 1-15 7-39 0-12 0-4 5-27 2-4-5-4 4-14-2-345-2-4 6 49 0 17 4 2-4 1 2 210 5 35 2 20-7 52 2 22 13-8 1-411 3 40 8 403 9-65-3-365 9 342 2 69-2-41 13-38-7-34 2-37 4-77 6 54 5 11-7 109 0 40 13-9 5-7-7-4 1-7 4-61 3-91-8-32 3 154 11 4 0-8 13-196-2 213 13-36 8-21-3-1-3-73 15 41 3 39 9-316 32-7 14 106 9-108 6-19 21 12 11" marker-start="url(#m6)" marker-mid="url(#m6)" marker-end="url(#m6)"/><path d="M2916 2814l-86 1-9 30 356 33-3 1-69 10 56 0 9-4-10 5-50 7-248-3 239 8 27 3 0 14-269-2 262 12 12-5 11-3 7 3 2 7-35 3-18-3-1-1-335 3-34 3 364 5 54 15-106-4-16 0-268 15 1 0 345-7 48 18-33 1-12-6-41 2-12-5-53 14 55-4 40 4 35-3-15 14-4 0-136 0 19 8 18-3 10 9 91-5-2 13-33-6-71 0-3 2-55 13 126 2 20-1-16 8-154-3-15-1 121 10 22 4 19-4 7 11-142 4-66 1 151 4 38 7-55 9-3-7-27 15 31-1-146 48-60 9 41 2 16 0-23 13-170 9 13-5" marker-start="url(#m7)" marker-mid="url(#m7)" marker-end="url(#m7)"/><path d="M2879 2799l43 20-11-6-79-3-5 34 72 0 256 2 0 12-274-7 27 17 233-4 11 4 11 1 15-5-20 13-27 10 4-4 36 15-306 1 236 10 26 7-31-6 5 11 34 1-37 14-341 9 286 2 94 5-7 2-32-4-38 2-21 2 14 9 49-2 6 3 5 7-67 6-24-2 96 9 4-4 3 17-24-6-1 8-30-2-40-4-23 2-309 1 424 11-40 8-107-3 73 10 3-2 62 3-156 7 128 11-57 11 29 10-16 9-117 45-21-5-74 47" marker-start="url(#m8)" marker-mid="url(#m8)" marker-end="url(#m8)"/><path d="M2925 2786l-91 31 321 36-324 14 5-6 44 6 298 8-42-1-270-3-23 2 319 14-1 6-26 8-19 22 0 0 41-3-29 20 29 6 11-4-146 22 56 1 52 10-77-4-76 13 66-4 72 9 5 2-115 5 13 13 2-6 57-2-102 9-18 6 111 8-64 14 74 4 9 8-56 10" marker-start="url(#m9)" marker-mid="url(#m9)" marker-end="url(#m9)"/><path d="M2888 2812l279 60-21-1-302 12 274 21 49 0-18 13-16-1-24 8 40-3 22 2-118 23 64-2 14 14 32 3-74 18-54-6-59 15 39-4 52 3 69-4-66 11-91 28 23 5 13-3" marker-start="url(#m10)" marker-mid="url(#m10)" marker-end="url(#m10)"/><path d="M3150 2857l8 66 13 8-179 63 57 6" marker-start="url(#m11)" marker-mid="url(#m11)" marker-end="url(#m11)"/><path d="M2890 2794l-34 11 75 10-20-1-10 4-27 0-20 11 19-4 39 3 87-4-88 10-9-1-31 1-27-3-12 2-16 5 34 12-5 7-25-6 7 11 10 3 36 2-7 5-27 6 19 5 5 1 17 25 54-8-50 20 69 11-162 11 266 42-194 14 9 15 44 14 9 9-2-1-8 1-18 0-2-6-15 7-2-3-5 0-7 3-13 9 38 0 9 2 23-6 5 0 1 5 6-2 43 13-39 0-20-4 0-3-5 7-27 0-8-3-14 3-1-2 0-5-4 10 3 4 2-1 6 3 6-8 19 0 2 6 22 3 16 0 6 0 2-9 63 8 14-6-2 14-4 1-3-5-18 7-8 0-43-8-15 7-17-3-19 1-12 2-26 0 1 7 2-4 13 3 49 5 2-1 1-8 4 8 2-7 0 7 8-4 0-2 1-2 7 9 11-2 28-5 15 7 17-3 15 8-58-1-42 1-12-2-29 0-29-2-47 18 79-4 1 3 10-2 10 0 3 3 7-4 11-4-19 19-27-5-56 3-9-4-8 3-1 2-2 9 1-2 3-3 1-1 3-1 1 7 10 2 2-3 3 1 7-5 1 7 9-3 10 0 0-2 22 5 2-7 8 2 16 7-5 5-2 0-1 0-11-4 0 3-11 4-3-6-1 5-16-6-3 0-3 7-4-5-7-2-4 4-13-2-3 2-10-1-2-3-21 7 22 6 6-2 6 5 9 1 1-1 12-4 10-3 2 3 4 1 11 3 0-1 10-6 6 0 16 5 0 2 6-1-3 6-3 5-11-6-2 1-1 5-19-8-2 7-5-3-66 7 8 5 10-3 5 4 1-6 12 2 2 0 0 2 3-1 12 4 3-3 1 0 9-1 5 4 13-8 5 2 2-2 9 6 1 3-3 3-9 0 0 3-10-1-54-4-2 0-9 0 36 12-10 130" marker-start="url(#m0)" marker-mid="url(#m0)" marker-end="url(#m0)"/><path d="M2862 2784l6 4 5-4 3-1 11 3 1-5 1 4 9-1 2-2 6 6 12-1 4 2 114 9-3 1-103-7-4-1-11 4-1 3-4-6-11 4-11-3-20 1-8-4-11 1-20 5-12 0-1 13 5-3 0-4 1 5 3-2 12-4 11 6 2-6 7 8 8-6 6-2 13 4 30 3 4-8 128 4-118 9-1 0-3 3-8-6-10 3-2 4-11 2-17-5-9 5-1-7-5 1-7 1-2 5-8-4-4 0-8-5-6 8-12-2-9 9 6-3 11 4 32 2 2 0 16-8 0 0 3 5 2-1 9 1 2 1 0-2 5 2 4-3 21 10 0-1-33 1-4 2 0 1-2-4-25 2-14 3-12-3-5 3-10 1-4-6 1 14 8-4 23 6 2-7 4 3 2 4 1-7 15 3 0-1 2 3 6-4 2 0 1 3 2-5 20 5 11-4 0 4 9 0 62-4 182 6-248 5-4 6-13-1-8-5-3 3-5-3-10 4-3-5-4 2-11 4-3-7-10 5-5 2-2-6-7 7-4-6 17 13 21-5 11 7 3-3 8 1 1 2 7 1 1-6 3 7 10-6 7 3 0 1 5 0 93-4 1 2 5-3 152 9-278 6-3-5-10 2-6 2-4-6-16 5-8 6 9 3 22-2 1 4 238-4-181 16-52 0-2-6-13-1-3 6 0 8 10 4 18-4 77-1 14-4-26 17-60-1-1-2-13 1-15 3-82-7 42 14 42-2 22 4 219 6-1 2-214-3-37-2-17 2-100 1 0 8 59 2 60 3 3-2 8 5 28-4 6-5 94 7 48 12-171-5-155 8 140 7 0 0 2 0 25-7 20 4 247 4-43 4-2 1-113-5-92 1-45 8-170-6 185 8 2-1 19 7 98 2 103-7 5 11-44 3-60 0-83 2-10-3-44 6 185 2-53 10-69 6-40-1-1-6-14-2 12 11 38 4 93 1 31-1-111 10-2 0-27 4 0-9-16 2-2 5-2-2-6-1-24 14 5-5 1 2 3 3 6-8 13 2 3-1 15 0 0 1 19 6 4 0 0-3 7-2 5 4 90-7 38 15-111 3-9-7-14 8-5-5-1 1-32-5-1 7-3-4-7 3-23 1 0 0-2-1-6-2 8 12 6 3 1 0 2-3 13 1 10-7 3 0 4 0 2 9 11-9 3 1 2 8 1-3 0-5 11 5 0-6 5 8 6-2 6 2 10-3 49 4 43-5 2 5 20-8-33 12-48 0-36 1-3-3-3 4-1-2-5 0-1 1-1-2-1 7-3-5-20 4-4 1-1-5-1-4-1 0-4 4-12 5-2-3 0-5-4-1-15 6-2-3-11 3 0 8 2-4 1 7 1 0 15 2 3-9 1 5 3 4 2 0 9-7 0 5 9-4 1 1 2-1 3 5 0-2 2 3 5 0 2-9 1 6 2 1 1-4 3 4 1 1 0-6 17 7 1-8 5 0 70 8 21-3-20 4-90 4-6 4-6 1-9-3-3-4-3 7-2-1-3-6-1-2-11 9-2-9 0 2-2 2 0-3-10 3-9-3 0-1-4 2-1 2 21 10 2 0 5-1 12 5 1 0 19 9 0-2-1-4-24-1-1 4-5-1-4-2-8 7-5-4-3-4-4 8-3-4-24 4-3-4-7 4-1 0-8-8-2 3 0 4-5 12 3-5 0 3 5-7 13 2 1 3 15 3 13-6 1 1 3 4 5-5 6 4 7 2 1 0 1-7 1-1 4 0 1 7 2 0 5-1 2-1 0 4 7 0 2-1 3-8 4 2 10 2-8 15-1-7-1 4 0 0-2-6 0 6-8-3-1-2-3 5-3 0-3-4-1 5-1 2-3-6-4-3-4 2-1 7-10-5-9-1-3 6-2-9-10 5-13 3-2-1-4-2-1 3-3-2-3 1-2-2-2-2-8 1 0-4-4 7-1 3 2 8 4-6 0-2 4 9 1 0 4-5 2 4 1 0 6-7 3 8 1-3 3-1 0 0 1 1 2-3 1-3 2 2 0 5 2 0 4-1 3-2 0 0 5 5 0-3 8-6 4 9 1-5 0-4 3 5 1-4 3 2 3-1 7 0 5 6 11-8 2 3 2 0 1-1 0-2 6 7 6-2-3 13-4-2-1-5-1 5 0-2-5 3-5 0-1-3-2 4-4-1 0-4-4 4-1 0-1 0-5 1-4 1-2-7-1 3-1 3-3-6-1-1-6 7 0-2 0-5-6 2-1 0-1 1-10 4-1-1-1 2-6-2-6-5-7-1-4 5-6-5-1 5-3-5-1 4 0-1-1 1 2 7 1 6 2-2 6-4 4 7 0-2 4 0 7-5 2 6 0-2 13 2 8-6 1 5 2-5 2 1 6 4 3 0 1 0 5 1 1 0 3-8 1 7 4-7 2 0 3 0 1 9 0-4 3-5 1 5 0 1 4-3 7 4 2-3-12 6-13 5-14 1-12-2-1 4-1-6-4 4-7 2-4-8-2 3-6 1-6-3-5 0-7 3 35 8 26 1-26 114-8 1" marker-start="url(#m1)" marker-mid="url(#m1)" marker-end="url(#m1)"/><path d="M2929 2776l-12 2 0 0-82 11 5-1 25-2 2-6 1 6 7-4 48-1 10 6-3 5-1 5-4 0-25-7-14 3-7 5-2-7-15 8-3-2-31-2-4-2-4 9 8 0 1 6 9-2 15 0 3-6 17 2 11 0 4 6 9 1 2-2 19 1 87-1 27-4 7 4 7-5 3 3-135 13-2-3-1-2-7-2-3 2-2 0-4-2-7 1-2 2-1-2-1 3-15-2-18 6-6-1-30 1-6 1 2 5 1-3 6 5 4-7 2 0 20 1 3 7 2-3 12 0 0-2 25-3 3 4 1-2 6 1 17 0 1 4 3 1 4-7 6 0 68 2 1-2 1 6-9 10-82 2-19-7-1-2-12 9-1-9-3 1-1 4-15-3-10-2-1 5 0-3-21 3-4-1-5-2 8 8 4 0 15 2 28 3 10-2 21 6 14-9 9 4 226 7-10 5-115 1-108-3-2-2-4 3-4-2-2 5-6-3-14 2-4-7-6 3-17 5-11-5 0 5-8 0-7-1-7-6 7 10 9 1 1-1 1 7 11-5 1 3 12 2 4-6 26 1 5-3 3 0 107 3 5 1 5-2-124 8-1 4-17 0-19-1-1 3-22 6 11 1 9 2 10-4 5 1 3-2 5 5 1 3 2 1 5-9 224 1 31 6 31 9-29 0-8 1-153-4-6 1-87-3-1 0-7-1-15 4-19-1-5 0 22 13 16-2 47 2 6-2 179-2 48 11-41-3-227 6-4-6-2 3-3 1-12 1-24 3-21-5-67-1-19 7-13 1 9 0 34 3 4 6 1-9 77 8 18 1 29-3 223-6 45 4-60 6-13 1-200 2-7-1-7 1-25 0-82 5-18-7-35 5 0-3-3 9 13-2 38 2 9 5 28-2 45 2 29-1 5-6 224 3 5-2 33 13-45-3-59 1-33 3-97-4-13 2-13 3-108-4-6 6-5 0-6-4-19-4-46 19 44-6 113 3 13 0 27 0 19-5 80 2 19-3 62 7 12 2 3-1-49 11-10-2-25-7-120 0-6 0-3 1-12 1-11 5-5-2-99-5-31 8-7-3-11-1 10 10 0 4 151-6 6 3 12-5 6 4 15 3 1 0 85-6 119 7 5 1 7-9 0 16-23-5-42 6 0-3-33 5-33-7-1 6-8 1-65-7-25 2-6-1-1-3-154 8-14-3-13-3-12 17 6-3 200-5 18-1 57 0 42 5 51-4 30 7 28-7 0 15-83 3-22-5-11-2-35 7-49-9-24 3-7 3-4 2-6-2-15-6-175 16 17 2 187-6 3 0 6-2 118 6 22 3 29-3 39 3 6-9-206 10-45 18 21 0 7-8 13 8 7 0 8-3 1-3 1 1 11 2 83-5 24 5 29 3-58 6-5-3-34 3-19 1-8-5-9 0 0 4-15 3-20 1-42-6 0 7 4 7 7-1 6 2 3-1 18-1 7 3 5-3 7 4 34-3 25-4 64 8-21 4-1-3-68 1-18-1-4 8-16-2-25 0-11-5-22 0-159 8 157 6 21-6 13 7 8 2 1-1 2-7 7 5 27 1 2 0 6-3 2 3 41-4 8 3 53-3 2 3 0-1-117 5-2 4-3 4-6-8-18 8-10-6-4-1-197 5 173 11 8-3 4 0 0 5 1-2 38-6 17 6-6 7-17 1-10 1-9-4-10-1-6 5-42 1-3 2-6-1-8 1-125 1 5 1 2 8 139-5 1 5 1-2 0-2 6-5 7 7 6-3 11-1 12 5 8-2 14-3 6 5 0 1 6-2 2 11-3-4-7 2-7-6-3 7-33 1-9-2-18-2-1 5-4-6-14-3-19 3-108-1 135 14 6 2 22 0 19-8 11 3 7 5 6-4 1-3 9 6 5-2 1-3 3 4-6 13-14-4-12 3-15-6-2-1-191 13 125-1 3-1 20 6 12-8 1 8 13-3 15-5 1 0 4 5 2-5 7 5 17 6-13 1-20 3-185 6 310 18-138 91-19 10 9 2 4-1 3 5 9-4 5 1" marker-start="url(#m2)" marker-mid="url(#m2)" marker-end="url(#m2)"/><path d="M2870 2788l10-4 2-3 17 5 18-1 114 14-1-1-94-7-40 7-46-6-17 17 9-6 10-3 58 1 5 7-24 5-3 6-12-1-10-4-3 1-41 4-14 0 20 9 2-2 26 2 1-4 46-1 6 0-17 9-5 1-6 1-30-2-11 2 0 12 39 3 10-6 4 5 10-4 236 3 10-5 12 5-137 10-6 0-114-4-37 6-26-7-9 9 23 0 37 3 13 3 1 2 247 5-256 1-21 0-4-5-31 2 10 16 1-6 0 5 16 1 4-7 10-1 234 2 19 11-12 4-240-5-19-1-6 1-16-1 25 13 17-4 52 4 174 1 33 3 43-5-314 10-1-1-25 3-2-4-76 7-53 10 9-1 35 1 13-7 7 5 33 1 301 0 5-1 32-2-36 7-245 0-25 2-21 3-38-3-13 5-29-2-3-5-30 2 22 8 18 3 2 0 5 2 1-3 1-3 6 8 19-4 18-1 36 2 22-3 11 4 152-6 118 2-44 15-16 0-22-2-6-4-13 3-187 3-75-7-16 9-4-6-15-3-1 3-20 5-24 8 3 3 4-4 13-1 9 3 21-5 10 6 6 1 106-9 7 3 24-2 85 4 151 1 2-6 6 8-54 9-39-3-149-4-31 7-5 2-7-4-112-5-2 3-6 5-16 1-22-7-17 12 25-1 20-2 10 8 143 0 0-4 171 2 31 2 4-3 53 3-27 7-120-2-91-2-185-1-5-1-30 13 7 5 8-5 2-1 20 5 147 2 11-7 3 6 2 1 6 0 9-4 12 0 118-5 50 9 3-1 5 1 1-7 15 5 3 12-11-3-48 0-25 3-317-3-1-1-13 10 8-4 16-1 175 0 12 7 31 1 9 0 116 0 7-7 36 14-14-4-14 5-79-1-82-4-217 6 169 6 4-2 13-1 52 1 140 12-34 6-118-8-52 1-180 3-1 5 241 6 0 2 6-2 44-5 21 7 29-7 16 18-20-6-34 0-49 2-19 2-7-6-31 2 11 10 5-1 110 0 6-1 13 0-24 10-31 0-2 4-5-2-43-2-36 4-9 1-15-6-187 0 8 16 198-5 21-1 20 1 7 12-58 1-186-2-10-2-3 10 1 6 2-3 8-2 0-1 144 3 19 5 4-2 51 1 3-4 4 16-49-6-39-2-139 9 3 7 152-2 43 12-58-4-139-2-14 6-8-1 16 4 11 5 1-2 127 0 18-1 13 0 27 12-13-3-186 6-2-1 13 9 162-3 139 14-9 2 6 5" marker-start="url(#m3)" marker-mid="url(#m3)" marker-end="url(#m3)"/><path d="M2886 2785l10-3 1-2 145 16-7 2-124-3-62 1 48 10 17 3 128-8-149 16-79 2-7-3 34 12 18-6 22 0 29-1 83 6-11 8-99 2-55-4-1 13 43 1 5-4 41-2 239 8-5 3-13-1-126 8-96-2-59 1-5-7-4 6 309 16-13-1-22 0-239 7 0-8-4-1-3 1-22 12 1 1 299-1 17 14-1 1-70-3-124 2-113-1 288 4 21 4 6 11-11 3-45-6-348-2-9 5-37 7 4-2 0 3 6 5 4 0 11-5 3 0 1 1 4 5 28-4 51 2 322 0-11 6-27 1-10-1-16 1-155-4-100 4-28 2-6 3-13-4-5-1-5 2-23 1-22-6-3 5-19-2 5 12 30-4 4 0 1 6 11-4 11 3 0-4 10-2 229 5 107-2 18 1 24 0-59 9-48-2-5 5-283-5-2 0-3 7-15-5-3 5-8-8-2-1-8 3-6 0-26 13 6-6 11 1 7 0 16 6 0-2 6 3 17-5 99-2 37-1 228 11-4 8-121-2-20-1-92-6-23 7-110-3-36 4-16-4-17 10 4 4 10-1 17-3 15-1 7-1 170 0 96 7 23-4 52 5-40 2-14 2-309-3-11 7-13-6-8 7 8 3 1 5 3-7 6 3 1 0 17 4 0-4 167 2 152-5 60 19-7 0-15-2-12-6-201 1-156 2-3-2-17 13 8 1 7 1 185 1 5-7 41 8 19 0 40-6 79 4 28-7 4 0-48 18-7 0-107-7-14 6-51-5-173-2-3 7-4-6-9 8-4-4 9 14 1-7 370 4 18 1 7-4-25 12-24 1-7-2-70-3-271 2-3 3 357 10-20 9-347 10 0 4 0-3 205-6 45 4 27-4 43 3-58 9-255 7 0-3-6-6-1 16 3 3 1-3 232-5-242 24 3 13-4-2 230 17-216-1-6-2-11 8-8 8 8-1 4 3 10-6-8 15-7 0 17 5-10 16-3-7-1 5 0 6 185 102-24 8" marker-start="url(#m4)" marker-mid="url(#m4)" marker-end="url(#m4)"/><path d="M2832 2808l78 14 241 13-6 7 6 2-18 8-261 1-37 7 308 4 18 2-8 5-12 8-7-4-265 1 279 8 30-3 2 11-24 0-9 7-4-6-17 1-16-4-3 1-243-1 306 11-6 17-7-3-11-1-17-1-4-3-7 5-360-1-3 3 1 4 29 8 47-8 27 7 255-7 21 6 14-7 0 5 20-1-10 6-40 3-288 1-18-2-4 7 0-7-14-1-27 6-10-6-8 6-21-2-15 9 61-1 102-1 174 7 54-5 2-1 5 6 10-8 1 5 23 2 3 4-50 6-8-3 0-2-301 0-30 6-47 0-4 0-1 3 14 0 151-2 123 8 7-4 3 3 92-5 56 1-34 15-21-5-1 2-6 3-34-2-37 3-310-2-25 8 14 1 307-6 2 4 24 0 47 3 39 1 7-8 10 17-16-4-14 1-10-3-7 0-50 1-325 3-9 3 1 2 13 0 143 0 114 7 52-5 37 2 13 4 41 7-2-4-13 7-5-1-9-2-6 3-87-5-39 6-248-9-13 6 290 5 91-1 19 9-15 2-388 4 263 11 6-2 84-1 9 5 6-2 6-4 27 9-43 3-20 1-58-1 20 15 59 1-46 9-1-5-318 1-7 10 178 4 124-7 9 7 8-2 28-2 16 7-57-2-109 1-194 19 3 19-15 5 169 20-157 0-2-1-13 2-7 4 14 19-7 9 18-7 2 1 157 120" marker-start="url(#m5)" marker-mid="url(#m5)" marker-end="url(#m5)"/><path d="M2830 2809l79 18 256 21-24 8-4-1-313 3 60 11 237-5 50 4-22 9-17 9 35 9-23 1-5-5-9 8-4-2-13 10 31-5 25 8-4 6-1-2-287 3-133 6 17-3 38 7 318 2 21-9 11 2 6-1-27 13-12-4-87 9-307-9-2 1-3 18 10 0 32-6 12 5 0-6 137 7 215-6 26-1 15 1-25 12-17 3-84-8-3 8-4 0-27-1-231-4-5 1-56 5 10 3 168-2 201 3 3 0 8 4 2-1 12-2 21 2-135 5-316 7 2 10 188-8 139 0 4 9 10-4 1 0 4-4 24 1 19 6 1 0 41-1 22-6-62 18-33-3-145-1-173 1 362 7 4 5-91 9-293 2-11 6 2 4 372 0 19-5 0 7-147 6 114 5 4 3 24 6-41 7-66 3 68 6 19-4 6-1-35 9-18 1-329 1-7 6 199 1 64 2 53 5-90 5-233 10 183 5 18 11-190 2" marker-start="url(#m6)" marker-mid="url(#m6)" marker-end="url(#m6)"/><path d="M2894 2789l14 0 21 4-70 16 44-2 27-6-39 18-79 0 86 53-61-2 30 16 306-4 3 2 7 2-67 31-1-2-19 2-353 9 32 2 378 7-18 2-89-7-163 5 155 10 71-3 13 4 5 0 0 9-45-5-33 4-1 3-25-3-242 3-18-6-3 7 287 3 21 1 6 3 57 3 6-1 15 3-80 8-64-8-280 5 407 10-95 6-154 7 91 8 140-3-16 10-16-2-5 6-14 1-371 5 313-1 79 5-33 5-55 3-48-5 84 10 2 1 16 6 4-4 23 1 1 1 11 4-131 28-27 3 96 5-146 20-60 13-152 1 193 6-7 9-31 18-148 3 219 6" marker-start="url(#m7)" marker-mid="url(#m7)" marker-end="url(#m7)"/><path d="M2864 2806l-3 17 2-2 287 11-310 41 305 8 31 6-3 10-47-4-257 7 230 5 3 0 35 4-9 9-26 5 19 2 34 11-50-1-3 13 57 1-104 18 1-1 34 3 19-9 11 9 39-5 4-3-66 17-102 5 49 0 15 3 50-4 4 13-1-1-8-2-22-1-1 2 27 15 15 3-47 0-27 6-6 1-23 5 7-2 80 7-8 9-19-6-30 8-36-7 22 10 50 8-12 1-10 5-8-2-113 20 54 10 33 2 9 4-120 1-22 44-85 7" marker-start="url(#m8)" marker-mid="url(#m8)" marker-end="url(#m8)"/><path d="M2904 2797l-73 9 40 3-12 9 296 14-11-2-237 18 253 25-307 3-13 0 307 10 16 2-23 17 25 12-14 2-8-5-16 0-7 17 7 17 30 3-127-1 40 26-35-3-26-3-18 6 139 4-50 17-28-4-83 13 93-4-159 22 167-3 11 6 14-4-21 16-33 20-2 12 14 17" marker-start="url(#m9)" marker-mid="url(#m9)" marker-end="url(#m9)"/><path d="M2817 2813l331 51 26 8-65 34 31-3 1 24 14 5-5 5-16-7-12 8-37 20-36-4-57 13 2 1 17-5 55 12-6 1-44 7 25 0 90 11-34 12-81 4 67 21-31 47-13 9" marker-start="url(#m10)" marker-mid="url(#m10)" marker-end="url(#m10)"/><path d="M3162 2888l12 20-128 32 86 22-141 40" marker-start="url(#m11)" marker-mid="url(#m11)" marker-end="url(#m11)"/></g>
<g transform="scale(.5)" fill="none"><path d="M3434 2797l32 357-37 131" marker-start="url(#m0)" marker-mid="url(#m0)" marker-end="url(#m0)"/><path d="M3478 2786l-58 11-16 2 71 18 14 6-76 14 60 9 4-2 124 13-114-2-46 72 37 0-166 15 160 103 46 4-62 16 30 3 123-6-158 24-3 17 23 16-55 2 54 17-96 4 5 2 53-1 17 0-17 157 9 3" marker-start="url(#m1)" marker-mid="url(#m1)" marker-end="url(#m1)"/><path d="M3469 2796l0-6-13 13 150-3 27 0-203 22 0 10 57 8 15 9-1 8-37-7-2 13 6 1 10-1 8-2 242 18-296-3 7 31 114 2 192-4-337 19 24-3 252 18-217 0-112-7 20 13 97 0 263 10-369 2-13-7-39 11 139 8-164 11 28 3 171 0 101 8-93 5-37 1-169 0 171 6-1 8-4 2-162 0 174 12 13 2 13 1-36 11 34 2 8 9-62 10 7 0 9 1 12 0 38 3 15-4 73 8 27 0-21 7-5-3-79 0-2 4-75-3 70 15 54-2 38-3-95 16-3 18-17 1-2-5 20 14-14 9-23-4-48-1-10 6-11-6-12 1-116 5 104 10 35-3 1-4 15 9 32-9 16 3 15 1 11 9-39-2-70 10 82 3-37 16-7 102 9 5 8 8-21 5 0 7 4-4 3-1 9 14-4 2" marker-start="url(#m2)" marker-mid="url(#m2)" marker-end="url(#m2)"/><path d="M3503 2795l-16 1-12-2-34 4-23 8 23 2 57 2-22 8-29-4-2-2-33 6 27 7 60 4 8-3-95 5 35 13 48 3 64 1-116 9 52 6 106 3 140 2-273 3-43 13 301-2-266 16-28 7 329 8-378 11 308 11-235 4-170 10 57-8 388 0-52 12-198-1-138 2-26 14-31 16 182 0 21 5 154-3 5-4 8 7 72 2-407 0-33 2-2-1-9 1-9 4 340 6 99-1-2 9 0 4-237-1 163 23-115-5-55 14 7-4 26 0 13 4 140-2-77 11-53 3-8-2-16-5-22 8-11-3-15-5-5 17 78 0 20-3 53-1-80 15-7 0-16-3-20-3 13 8 8 1 22 4 7-5 39 13-35-4-58 8 45 8-99 12 13 11 3-6 69 7-4 8-2-3-17 3-27 1-47-4-4-4-2 0 41 12 14 2 4-4 7 6 20 2 16 10-83-1-8-6-156 6 2 7 153 1 6-6 20 8 1-6 8 6 1-6-21 9-15 7-132 10 301 11-141 90 14 3 6 11-19 8" marker-start="url(#m3)" marker-mid="url(#m3)" marker-end="url(#m3)"/><path d="M3450 2786l19 0 40 0 116 12-129-1-16-1-15-2-8 1-33 3-16 11 41-9 8 7 36 0 18-6 106-1-172 19-27 2 1 6 50 2 31-9 11 8 66 0-87 4-10 6-57 3 35 5 10-5 17 1 23 11-19 2-71 2-7 2 14 3 27-1 10 8 24-3 10-2-32 8-16-2-21 6 4 12 14 1 114 10-122-3-6 12 49-2 64 9-218-2 410 25-37-5-73 4-96-4-123 5-96-8-14 14 18-1 9 0 5-1 121 2 19 13-25-2-125 8 40-2 2 5 374 3-29 5-221-3-141 1-11 5-5-3-10 2-26-4 0 2-5-1-14 16 17-5 10-1 161 1 106-4-66 12-184 1-2-3-5 6-11-3-7-2-3 3-6-1 330 14 23-3-140 9-205 7 153 9 77-2 169-1-2 9-177-5-17 0-29 9-9-4-1-2-11 1 0 0 21 11 8 2 2-3 1 1 8-2 13 1 9-1 89 11-40 1-2 1 0 3-11-8-12 4-4-1-2 2-6-4-34 7-4 0-1-5-5-1-26 0-1 2-4 1-2 3-7-4-160 0 157 6 4 1 18 4 4-3 29 5 35-8 62 3 3 6 15 3-1-2-67 6-5 0-3 0-6-3 0-1-11 4-14 3-5-8 0 6-2-5-4 5-10-3-4-2-2 5-22 10 1-4 8-2 1 4 8-2 11-2 3 5 53 2 3-3 7 2 8-4 9 3 17-1 37 3-27 5-76-2-45 0-11 6-5 0-173 7 174 2 15-4 17 0 17 4 2-1 13-2 5 0-7 8-8 5-4 2-1 0-4-4-14 4-4-2-7-3-3-2-10-1-40 3-25-1-2 3-4 5 5 9 7-8 11-1 1 1 7 8 6-4 17-1 2 5 11-3 4-3 5-2 9-1 4 8 2 0 14-2 11-5-5 13-3-3-2 6-2-7-6 8-1 0-1-8-1 1-6 6-16-1-20-5-5 5-1-1-3-2-10 6-12-7-1 3-3 2-5-5-1 3-138 9 121-3 1 6 2-4 28 0 0 2 2-3 8-1 7 8 7-3 5 1 32-7 1 3 2 1 1 2 5 2 1-7 2 2 4-1 3 2 7 3 0 8-3 1 0-6-2 0-1 7-18-5 0 3-12-5-13 2-16 4-1 2-2-5-25 5-9-4-3 5-7 3 6 6 13-7 10 7 13-3 2-2 2 3 4 0 15-1 5-3 3 7 15-7 4 10-48 3-5-2-1 2-2 0-12-2-1 3-10-1-131 9 1 1 137-5 24 116 3 7 4-1 11 6-21 7 9 6" marker-start="url(#m4)" marker-mid="url(#m4)" marker-end="url(#m4)"/><path d="M3486 2778l-51 8 30-1 13 0 149 13-160-7-1 1-18 2-44 15 32-3 47 0 4 3 128-5 13-1-32 11-97-3-1 2-26 0-4 6-12-5-15 5-9-1-41 1-1 9 25-8 7 1 3 6 9 2 19-1 5-8 15 1 92 18 0-4-59 4-25-6-14-3-31 3-37 5 34 8 6-4 2 2 15 5 8-2 269 2 8-4-5 9-135 3-105-4-27 2-35-2-6 6 9 10 38-7 12-2 224 4 37 14-19-4-276-4-3 9-25-7-16 1 22 9 4 6 15-7 4 4 2 2 261 0 9 1 33-3-37 8-201 5-90 1 38 7 4 2 5-5 67 4 169 2 35 2-24 0-38 1-223 4-28 1-4 0-3-1-71 0-25 13 7-8 35 5 11 0 30-3 120-1 8-1 4 3 179 3 5 9-357-2 0 3-1-2-31 0-4 2-5-5 0 3-3 2-14-2-29 12 24-6 25 4 3 2 25-6 1 6 15-3 66 1 23 2 153 2 118 8-1-4-17 4-19 1-96-5-6 3-137-1-32-4-86 7-45-2-22 6 19 4 0 2 5-7 26 7 32-5 124 5 92 1 39-9 117 2 4 8-60 6-185 3-4 0-150-4-28 0-1-5-8 2-21 8 0 2 30 5 2 1 243-6 64 0 89 3-15 9-130-1-85 0-32 3-129-6-13 7-13-2 30 8 177 2 6 4 37 0 31-7 42 7 95-4-102 10-145 3-182-2-13 6 9 1 28 0 168 4 1 2 5-2 79-3 36 2 5 0-76 12-23 1-14-9-1 6-21-4-182 7-12-6 170 13 7 0 15 1 5-6 1 1 5 7 7-4 8 0 6 0 18-5 25 2 70 5 27-6 13 7 4-8 11 13-36 1-67 1-17-2-19 0-5 3-5-1-1-2-13 4-1 2-21-2-6 1-5-7-1-1-2 5-19 4-11 4 5 5 3-7 10 0 9 1 15-1 4 0 6 4 12 2 4 0 1-1 6-2 2 5 4-3 14 3 3-3 1 2 112-8-49 16-75-4-1 5-15 1-31 0-36 7 12 3 3-6 13 0 4 2 5-3 20 2 5 3 1-4 12-1 2 6 8 0 2-6 14 7 57-7-72 15-18-3-4 0-11-1-6 5-23-5-7-2-1 4-1 3-3-1-5-3 13 10 12-2 1 2 9 3 10 0 5-2 7 9-2 4 0-1-14-5-3 2-12 0-21 6-19 0-28-4-4 3-3 1-4-6-114 4-17-6 154 18 3 0 5-2 35 0 26-2 2 4 3-9 7 1 7 2-6 14-2-6-6 7-3-4 0-4-4 2-8-2-2 6-1 2-1 0-1 0-1 1-1-8-1 8-24-7-28-2-5 7-2-3-7 3-3 2-1-8-4 7-2 0-126-5 115 13 6 0 13-4 4 7 7-2 1-7 5 7 4 1 9-3 9 3 0-3 2 2 11-6 34 4 2 1 9 3-18 9-3-7-21 4-3-3-12 3-4-4-8-1-4 1-2-1-2 9-2-5-4 0-15-1-8 3-3-6-6 9-121-3 132 8 22-4 17 8 3-8 2 6 11-1 3 4 2-7 2 1 7 4 5-6 1 8 14-3 4 0 5 4-15 0-21 3-25-2-5 4-157 21-3-3 164 115 4 1 1-4 3-3 4 6 7-6-3 9-13 3 6 9" marker-start="url(#m5)" marker-mid="url(#m5)" marker-end="url(#m5)"/><path d="M3505 2771l6 28-76-2-31-2 0-1 2 9 42 4 33 2 14-9 14 11-29 0-19 4-54 1 13 5 52 6 1-5 31 3 226 7-299 7-28-8-2 7 43 4 22 5 264 5-1 2-11 2-3-1-282 14 37-5 272 14-267-1-36-4 263 16 46 1-34 4-189 3 23 10 150-3 10 1 34-5 13 6-1 4-45 8-16-3-155 2-182 9 38-2 15 2 68 3 226-9 5 8 3-4 5 2 21-1 4 4 14-7 2 0-1 10-22 1-15 4-8-7-5 2-9-2-263 9-11-1-3-7-105 4-4-3 11 17 12-3 43-2 253-2 11 2 44-3 5 3-231 14-106 0-16-1-32-2 52 13 118 0 200-1 37-6 0 7 5-4-18 13 0 2-9-9-47 0-37 9-139-2-142-2-52 4 43 4 259-2 43 4 79-2 17 3 8-4-4 9-30 5-1-4-3-1-51 8-13-2-20 0-10-2-290 9 338-2 1 7 13-2 11-2 1 2 17-2 12 7-12 4-8 3-39-7-42-2-7 0-9 3-26 5-265-1-9 1 0 1-9 6 205-4 211 9-24 2-4 0-86-2-53 9-48 9 61 1 114-4-8 8-3-2-12 7-43 0-63-1-19-1-24 2-9-8-11 18 59-1 3-1 5 2 32-5 24 0 7-3 12 9 55-1-17 4-11 0-6 4-14-1-2 4-14-8-36 7-32-5-53 2-24-3 80 9 1 4 17-1 4-3 25 7 0 1 9-2 27-3-37 6-81 9-2-6-32 3-178 1 186 9 24-3-20 22 5 0 20 0 6 8-6 6-12-3-18-6-4 0-38 9-152-6 14 7 149 6 8-1 40 3 11-7 2 7 11 8-63 0-29 1-12 1-13-4 46 15 18-2 7 1 20-2 11 5-10 4-28 1-8-3-37 0-7-3-126 15 167 103-1 2-2 5-24 13 34 9-35-7 25 10" marker-start="url(#m6)" marker-mid="url(#m6)" marker-end="url(#m6)"/><path d="M3474 2784l4 3 12-6-44 11-18 6-32 9 9-7 43 1 21 1 156-1-210 16-13-1-4 0 4 5 43-1 287 12-270-1-12 1-8 9 37 1 240 15-310 4 36 6 31 2 9-7 123 3 141 7-31 2-251 4-10-8-31 11 30 3 238 3 1 0 3-5 11 1 40 6 14 6-66 0-179 7 183 6 43-3-25 12-36-7-209 5-15-2-10 1-129 2-5 2 19 2 4 0 85 0 61 0 212 2 59 2-136 14-216-7-43-1-7 8 102 7 212 4 29-8 2 0 44 11-34 7-28-7-20 0-20 3-178-1-15 3-97 1-50 0 28 8 5-3 301-3 70 3 9-1 12 0-19 15-21 2-369-2-5-7-45 12 56 7 261 0-1 9-4 1-5-1-15-2-113-6-132 8-20-5 188 13 23-6 46 9 10-1 27-6 7 0 91-1 4 4-61 14-39-4-7 2-116 9 203-4 18 2-128 14-9-8-19 6-2 1-17-1-45 3-186 5 190-4 12 7 1-2 27-3 49 4 47 2 30 4-31-2-55 9-6-6-9-2-7-1-5 4-241 0-5-4 154 11 12 3 37 1 52 1 33-2 6 4 38-2 0-3 8-3 2 8 6-8 13 2 7 7-1 8-7-5-22 1-47 6-2-2-4-3-3 1-10 1-29-6-14 8-48 1-182 10 165-8 19 5 21-1 23 4 21 0 32-6 1-3 1 0 6 8 10-6 4-2 19 3 21 5-6 8-118 3-34 8 39 2-17 6-42 13 1 1 33-9 25 1-25 11-28 1-40 1-4 3-18 2-132 5 150 5 8-2 39-4 9 1 3 0 2-2 6-1 14 1 6 2-11 14-30-1-13-7-52 14 3-1 8-3 3 8 23-1 2 1 2 1 26 0 35-1-16 3-38 7-20-5-27-1-140 4 8 7 15 8 178 94" marker-start="url(#m7)" marker-mid="url(#m7)" marker-end="url(#m7)"/><path d="M3484 2778l-40 5 11 1 12 4 42 8-14-1-1-3-2-2-13 8 0 0-18-3-8-3-4 6-54 7 12-3 10 4 25 3 2-2 7-7 7 1 13 4 1 2 12 2 1-3 4-2 117 3-101 8-5 1-28-1-8 1-5-3-21 1-11 1-8-4-8 7-1 1-11 6 15-4 2-1 8 1 17 4 1-2 1-2 15 8 6-9 12 0 31 6-1 5-23 0-9 4-13 2-12-5-7 3-1 3-3-5-13 1-1 3-18-4-2 4 6 3 15 8 4 1 15-8 2 1 4-2 4 5 22-5 15 3 258 14-8 2-3-2-11-7-245 0-13 9-12-2-14 2-17-2-9-6-5 7-2 5 9 0 29 2 10-2 5 3 246 2 40-6 11 6-20 10-1-3-29-4-250 3-30 12 4 0 3 0 1-2 1 4 1-3 10 0 20-4 230 3 14 1 11 3 20-5 8 3 3 1 5 10 0-7-12 1-13 3-21-2-1 4-255-2-4 5-26 8 271-3 4-4 5 1 16 4 19 2 18-7-16 19-260-6-25-1-7 0-20 6-99 7 23-5 2 7 11-4 12 6 27-2 22-1 26 0 83-6 148 5 33 2 14-3-18 14-15 0-69-3-147-4-31 2-65-3-49 0 16 19 94-3 6-2 188 4 56-1 24 1 21 11-8-6-8 6-4-1-2-5-5 6-5-2-24 2-12-5-24 5-4-2-19 1-35 1-273-2-16-5 25 10 145-1 1-1 0 5 103 4 27-1 8-7 12 3 25 3 17 1 3-5 35 4 3-3 9 3 2 2 6-1 0-1-6 8 0 0-29 3-2-4-4 2-2-5-7 4-53 3-47 1-253-4-13-4-8-1-9 9-3-3-22 4 196 1 18 6 85 1 29 0 2-2 26 2 35-6 38 7 1-2 26-7 8 2-11 17-9 0-15-3-38 1-38-3-16 0-33 5-12-2-73 1-45-1-146-3-26 6 277 4 33-3 2 8 11-7 6 6 16-5 9-2 41 2 4 3 1-2 38 5-15 5 0 5-23-1-23 1-1-2-14-5-20 7-23-1-1-3-38-2-6 6-90-6-167 4 172 9 13-1 12-2 38 5 52-7 39 5 4-5 16 7 36 9-5-2-48-5-11 7-93 2-25-4-210 0 247 9 103 5 11-2 7 0 5-2 13-2 2-3 5 1 7 0-18 11-6 7 0-5-2 1-5-3-18 5-17 2-12-2-104-5-48 2 138 14 58-3-15 14-6-4-7 2-81 1-12 0-25-8-2 2-8-1-19-1-15 16 30 3 5-8 29 5 8-3 13 3 63-4 20 3-28 13-38-1-56 1-28-6-17 5 24 3-13 14-13-2-18 23-10-2-32-2-136 5 138 12 0 0 24-6 51 1-41 14-13-5 56 25-9-5-24 2-18-2-159 17 303 9" marker-start="url(#m8)" marker-mid="url(#m8)" marker-end="url(#m8)"/><path d="M3421 2789l37-3 50-2 1 1-5 10-28 4-16-7-37 7-3-6-10 12 9 0 11 0 7 3 2-4 45 0 2 4 20-2 6-6-8 17-23-7-12 8-8-5-10 5-6-2-3-6-1 4-4-3-14 17 7-2 33-4 8 7 12-1 1 1 2-9 5 3 2 3 17-5 1 4 1 2 229 8-260 0-8 0-4 2-12 0-9 2-9-8-6 0 0 0-6 1-5 0-7-1-6 3-10 15 6-9 13 4 29 0 20-4 31 3 3-3 236 13-4-1-249-1-13 7-1-7-2 7-2-8-11 8-8-4-19 1-8-3-11 1 0 7 0 8 20-5 2 1 4-1 24 2 1 1 12-6 9 2 4-1 6 4 1-5 0 2 7-2 229 5 2-3-284 8-7 2-10-1-7 8-1-1-1 2 12 8 24-8 5 4 10-3 10 0 232 4 20 0 5 1 5-6 19 19-25-6-17-2-30 5-222-4-13-1-23 15 4 0 37 3 2 0 224-4 34 2-7 6-8-3-9 5-245-4-27 4-3 2-98 1-20 5 34 2 111-1 19-2 8 4 254 0 15-2 0 15-15-2-31 0-241 0-52-6 25 17 33-1 14 2 89 0 90-3 12-4 16 3 2 2 15 1 34 9-11-1-1 1-3-3-12 4-1-7-28 6-14-5-40-2-21 7-5-1-10 1-5-5-119 3-201 10 165 4 17-4 34-4 69 6 32-4 3 4 4-2 2 1 93 3 19-8 6 6 12 0-24 8 0 0-5 3 0-5-57 2-11 0-20 1-30 0-97-6-28 0-2 6-18 0-139 3-21-3 17 8 146 1 8 1 2-1 4-1 38 4 69 1 0-8 14-1 27 6 10-5 2 5 59-2 5 4 36 0 3-8-5 16-8 3-12-2-31 0-25-5-5 3-9 3-150-5-4 6-7-4-150-3-17 0-8 11 184 4 3 2 0-3 72 0 28-4 83-1 9 7 14-1 10-5 4 3 6-4 8 0-32 17-1-3-9 4-14-5-47-4-45 8-98-1-13-5 11 10 9 6 29-7 105 5 25-4 28 2 37 3-2 8-2-4-9 2-38 4-47-6-36-1-15 8-15-2-27 6 77 7 59-6 1-3 13 1 25 3-17 9-5 4-31-5-94-2-7 8-18-1-47 0 9 10 115-5 78-2-35 11-37 4-4 2-67 0-8-4-1 5-32 1-21-3-28 10 82-2 88 0 24-2 12-1-188 16 31 12 24 6-26-4-58 14 29-2 5 0 8-3 8 12-49 0-44 6 19 10 59 28 20 4" marker-start="url(#m9)" marker-mid="url(#m9)" marker-end="url(#m9)"/><path d="M3509 2772l-1 6-13-3 0 3-19 6 31 10-27-4-15 4-46 3-12 12 16-2 5 0 2-5 0 0 8 7 11 0 3-6 20 5 5-8 3 9 19-7 6 0-4 12-8-2-5 2-23 0-1-4-5 0-29 7-4-1-30 0 0-2 8 15 3-1 14-4 5 2 16-5 14 5 15-5 0-1 18 8 2 0 246 10-259-4-9 5-21-3 0-5-4-1-34 2 16 17 28-5 10 3 7-6 276 18-21-9-261 4-18-4-14 4-26-2 6 10 7 4 3 0 24 1 19-1 248-4 32 3 13 6-27 3-8-3-234 2-14-1-2 3-3-2-19 6-33 0 4 8 41-2 20 4 215-5 3-2 8 2 25 0-7 10-31-3-9 1-6 5-213 2-20 10 13-6 6-2 1 7 228 1 19-8 27 6 17 12-6-3-30 0-17-4-18 3-11 2-5 0-259 3 60 8 211-3 16-3 18-2 21 18-8-8-3 8-44-5-5 6-14-8-47 3-151 3-39-6-71 4-53 1 32 6 117 5 9-1 143-2 44 1 34 0 2 0 70 1-93 9-43 3-2-8-15 4-15 5-274 10 31-5 9 5 115-1 1-3 127-1 43 5 64-4 24 13-14-5-30 2-30-4 0 6-20 2-6-3 0-2-3 1-49 0-3 2-83-1-27-4-19 9 3 5 167-3 55 6 1-6 31-2 4 6 12-1-13 11-46 1-26-6-150 7-2-8-34 2 18 15 41 1 96-5 33 2 41 3 2-2 38-5 7 2-43 9-17-1-1 5-102 0-23-2-32 0-26 2-17-1 3 6 10-1 156 6 21-3 38 4-35 4-15 7-3-1-3 1-27-2-20-3-101 15 143 2-2 1-45 1-147-3 54 17 57-6-76 12 30 11 6 2-5 6-44 1 51 44-13-6-77 18 55 9-86 4" marker-start="url(#m10)" marker-mid="url(#m10)" marker-end="url(#m10)"/><path d="M3479 2782l-60 11 91 12-76 22 62 2-32 4-41 16 59-9 1 5-26 7-14 6-2-6 7 14 278 1-19 10-5-2-237 3 249 9 20 1 3 6-36-1-18 14 9 1 10-6 59 0-63 12-16-1-210-1-75 16 2-3 277 4 1-2 14-1 34 12-37-7-5 5-53 2-144-5-16 14 207 0 5-2 33 4 2-2 34 3-73 9 0-4-17 3-18-1-184 10 23-1 8-6 149 8 19 1 24-7 14-2 42 6-76 8-24 3 0-5 0 0-3 4-4 2-3 1-22 8 50-6 26 3 18 8-232 2-17 5 159 3 57 6 54-3-42 11-228-6 160 19 66 11 5 4-153 29-58 44" marker-start="url(#m11)" marker-mid="url(#m11)" marker-end="url(#m11)"/><path d="M3464 2818l228 90 31-7-30 19 5 3-13 25-73 19 22-6 5 13" marker-start="url(#m12)" marker-mid="url(#m12)" marker-end="url(#m12)"/><path d="M3422 2884l0 282" marker-start="url(#m0)" marker-mid="url(#m0)" marker-end="url(#m0)"/><path d="M3477 2790l9 22-39 1-44 11 63 24-39 15-1 69-44-1-106 24 166 15-143 8 173 8-179 11 318 50 13 2-160 6 67 13 91-3-151 29-1 24-77-3 23 12 81 6-23-3-19 9-4 8-10 15 20 12-13-4" marker-start="url(#m1)" marker-mid="url(#m1)" marker-end="url(#m1)"/><path d="M3453 2784l45 9-15 5-91 11 24-1 212-7-133 14-21-5-40 0-28 18 94 4-15 3-81 3 27 7 4 0 5 3-21 11 187 2 110 11-205 15 4 5-46 14 78 0 197 2-406 6 66 13 27-4 20-3 80 10-163 17 50-4 14 4 250-5-327 13-44 3-4 12-35 8 221 6-42 12 133 23-9 5-122 15-12 5 75 0 0 3 4 11-17-7-26 7-31-7-7 13 33 3 6-3 8-3 29 13-41 2-26-2 2 15 32-4 17 0 101 7-4-1-128 3-27 5 7 3 37 6 24 5-120 4 74 8 4 1 8-4-10 10-53 7 9 6 3-5 10 7 57-1 1-4 4-1-9 11-6 4-10-4-4 6-32-8-28 8-7-2 22 13 4-5 9-1 1 4 37 7-71 4 28 109 18 3-37 18 2 1 33 7-11-1" marker-start="url(#m2)" marker-mid="url(#m2)" marker-end="url(#m2)"/><path d="M3422 2802l47-1 15 0 124 5-110 4-14 2-66 4-16 8 2 5 173-3-8 6-69 3-31-5-60 4 59 7-32 11-6 10 17 0 160-2-153 23 255-3 18 4-293 9 83 13 234 6-320 15 259-1 64-2-27 13-381 11 142-7 246 5 3-6-55 12-393 2 54 6 326 8 47 6-22-1-227-1-14 15 251 1-231 2-157 3-16-1-25 35 166-7 90 9-7 8-83 10 67 1 95-1 59 0-125 11-3-3-8 0-66 2-12-1-3 6 38 7 5-9 2 7 10-7 11 6 102 9-16 4-69-8-21 2-23 0-37 5 31 8 1 0 12-6 3 5 26 2 27 1 17 7-59 4-11-5-18-4-1 9-5-6-10 7 11 6 8-5 31 6-23 5-92 0 73 10 15 3-1 10-2 1-4-1-37 2-4-5-5 4-21 2-31-3 2 6 7 2 5-3 67 2 30 7-20 4-12 4-14-3-58 9 11 0 9 4 16 2 26-2 25 3-3 5-16-4-28 3-10 5 9 120 0 1 17 3-8 8" marker-start="url(#m3)" marker-mid="url(#m3)" marker-end="url(#m3)"/><path d="M3469 2785l20 12-33-7-10 2-28 5-17 10 37 0 12 1 13-1 2 1 6 1 35-2 91 6-9-3-84 4-48 1-43 3-25 3 193 3-7 9-74 1-38-3-4 4-7 4-54 7 17-1 61 1 9 1 9-6 241 9-270 8-24-1-35-2 16 6 11 5 26 20 13-2 11-4-17 17-5 10 102-6-7 10-101 8-10-7-31 7-5 0-74-9-20 18 33-2 5-2 11 2 25-3 10-1 53-1 266 8 6-5-285 12-23-4-8-2-50 1-27 4-7 6 68 2 43 2 54 4 143-2-168 12-100 0-11 0-7-3-3-5-17-1 2 14 32-2 104 1 279 11-274 0-24 2-108-4-33 3-16-5-4 15 19-2 201 13-12-3-34-3-139 3 128 10 136 5 1-3 56-2 52 0-80 7-58 5-282 3-4-3 201 13 218-4-83 11-99-4-20 5-5 0-15 1-8-2-177 14 161-3 13 1 1-5 10-1 8 8 10 0 3-6 13-1 0 4 1 3 7-6 8 0 2 2 84 7-50-1-36 4 0 0-5 1-5-2-3 2-3-6-1 0-1 1-1 4-33-1-30 4-2-7 14 13 42-3 30 0 5 8 86-7 22 4-70 12-25-7-5 4-19-1-10 5-2-7-33 0-17 0-8 4-5-2 4 10 6-3 1 7 6-4 8 5 1-6 1 3 2-4 9 3 0 0 29 2 7-7 41 5 44 1-24 10-69 0-11 1-17-6-5-1-1 6-13 3-17-1-4-6 8 8 2 6 8-1 10 2 7-4 4 0 5 1 33-1 2 1-3 10 0 3-6-7-10 6-5-6-3 2 0 3-12 3-10-7-13 0-1 5-3-5-11 7-3 0-26-3-20 13 5-4 6 4 1-2 2-1 6-4 2 4 7 0 8-2 0 4 5-5 1 7 4-1 19-6 3 2 1-1 4 5 8-1 2 1 8-7 5-1 3 8 0-5 1 3-4 13-1-4-1-1 0 3-9-3-4 4-2-1-2-4-4 2-24-3 0 0-6 1 0 1-11 1-6 4-1-1-30 1 6 2 3 8 5-7 3 1 15 4 2-3 8 5 11-4 12 4 12-4 8 2 4 2 4 0 1-2 4-6 5 1 7 3 4-3-3 12-9 0-19-3-18 0-6 5-10 2-1-3-39-4-9 2-117 2 120 11 2 2 16-5 15-2 3 0 14 8 3-2 2 2 31-5 2-1 12 3 6 3-16 9-7-1-3-7-20 2-8-1-30 0-8 3-139-4 168 10 11 5 130 18 2-1-181 107 51 0 4 7-9-4-11 4 14 9" marker-start="url(#m4)" marker-mid="url(#m4)" marker-end="url(#m4)"/><path d="M3519 2779l-33-4-41 12 19 1 8-8 6 2 6 4 143 8-117-1-4-2-26 8-11-7-10 0-64 11 6 5 13-7 0 6 24-7 10 8 3-7 151 9-101 8-1 1-18-4-28-3-2 5-23 1-11-4-23 13 40 0 9 0 23-4 11 3 10-3 96-1-92 16-5-6-8-1-6 7-34-2-30-3 52 11 3-1 6-2 18 6 19 0 59-7 171 17-130 1-114-6-28 4-24 2-3 0-6-1-14 9 8 2 0-6 16 7 12-3 1-1 8 1 2-2 135 2 150-6 8 7-285 5-5 3-37-3 327 12 6 14-38-7-19 0-4 8-178-1 0-2-100-6 83 11 13 7 171-6 18 7 6-4 21 8-191 2-79-5-31 8-96-3-29 8 0 6 43-6 19-1 16 5 5-2 0-2 3-3 10 4 15 2 263 3 24 0 28 9-10-2-196-4-65 4-21 2-17-2-20-2-16-3-24 1-3 1-7 5-15 1-16-4-9 1-25 10 27-3 9 6 103-9 208 4 110-3-16 9-255 1-17 0-15 5-117-4-8 4-3-5-13 0-8 3-1 4-8-8-9 18 3-6 13 0 3 1 26 5 9-7 23 4 8-3 73 6 8-5 7-1 232 6 6-3 28 11-18-4-365-1-18 8-2-9-6 5-5-1 0-3-15 14 1 0 10-4 10 7 185-5 142 3 5-6 11 7 65-7-58 18-64-8-96 9-19-2-35-3-136 5-25 10 1-1 276-8 26 7 27-3-30 9-8-3-76 9-214-7-18 17 18-4 400 5-1 6 0-4-46-1-16-1-24 6-107 1-9 1-10 0-26-1-164-5-18 1-4 2 18 5 172 9 14-3 6 3 1-1 2-2 23-5 6 6 8-2 142 5-141 0-5 5-9-1-7 3-3-6-5-1-25 0-4 3-3 1-2-4-10 15 10 1 26-6 6 3 20 6 26-7 80 7-35 3-50 5-24-6-4 6-10 2-17-6-14-3-3 6-185 4 174 4 4-4 0 7 3-4 0 3 57-6 5 9 0-5 1 5 5-3 19 6-18 3-4-4-10 2-2 4-26-1-1-5 0 2-5 3-8-2-4-3-7 8-2-7-1 3-5 4-9 0-161-3 183 4 9 0 2 7 14-6 14 5 11-4-12 17-3-1-2-7-3 0-16 5-16-4-192 11 124 6 3 0 4 0 6-1 3 1 7-8 4 2 13 4 0-4 4 5 13-4 17 3 3-3 1 0 3-1 2 5 1-6 0 3 4 4 7-5 6 4 5-2 1-4 9 3 4-4-2 9 0 9-3-9-19 5-2-4-1 6-5-7-3 6-4-2-2 5-6-3-16 0-12-6-1 8-4-2-16 0-1-6-3 0-4 5-3-4-5 4-132 7 116 0 4 1 5-1 0 4 10 1 6-2 12-1 0 2 4 0 14-5 12 2 5-1 4 6 13-6 34 5-13 8-7-2-5 3-15 2-4-3-26 4-1-7-7 7-9-1 0-7-6 6-3-7-17 6-136-3 129 8 12 3 6 0 7-1 17 6 1-6 19 1 19 2 5 1 10 0-10 7-3 4-8-8-10 0-3 8-3-4-14-4-25 5 0 3-1-3-133 2 160 7 2-4 1 1 7 107 4-2 6 13-22-2 4 3 5 3 2-2 0 16-44-7-6 1 40 10 4 3 9-3" marker-start="url(#m5)" marker-mid="url(#m5)" marker-end="url(#m5)"/><path d="M3502 2777l-31 8 12 3 25-5 123 13-160 1-39-3-23 14 183-1 3 0 12-4-97 15-9 1-104-8 96 13 85-4-163 15 7 14 53-2 278 8-264-3-6 1-42 7 273 5 4 3 48 3-282 2-74-2 281 15 10 0 32 2 31 5-12 5-5-2-6-6-17 2-214 7-40-5 227 15 60 7-3 2-22 0-186-1-3 0-61 1-29 4 20 3 263-3 0 12-321-4-24 4-32 5-28 6 23 0 12 3 5-7 84 0 6 3 258-3 7 6 7-4 19 15-4-8-34 7-7-7-2 7-39-7-17 8-65-2-116 3-112-2 210 4 81 0 9 8 69-2 7 9-40 3-37 0-22 0-8-6-6 2-307-5-5 8-7-8 30 19 159-5 5 5 99-4 13-5 9 1 56 4 11-4 39 8 2-5 1 1-5 10-6-2-44 3-5-1-7-3-31 5-188-1-156 5 4 6 5-5 8 4 290 0 129-3-113 15-308-7 398 10-4 18-46-4-185 14 33-4 89-1 11 4 4 0 44-2 8-4 15 6-23 10-60-5-15 6-99-7-6 12 72 2 11-2 18-1 2-3 41 5 13-5 20 8-20 5-8-1-14 0-49 1-14 0-15-2-3 6-22-3-15-4-31 4-4 5-5-1 5 8 4-5 31 3 13-4 23 6 10-3 34 6 12-7 24 2 12 6-21 4-30 2-10-3-35 2-7 4-233 6 183 0 39 2 8-1 9-1-98 9-141-3 121 12 7 2 2 0 3 1 2 3 5-1 61-1 0 2 19-1 12-7-31 14 0-1-22 3-1-2 0-2-4 1-36-3-5 5-7-5-10 6-1 1-129 0-5 3 132 7 6-6 28 0 1 3 25-3 28 4 14 1 8-6-5 15-7-2-27-2-18 1-8 1-35 3-3-5 5 13 43-4 40 16-2-5-48 2-178 12 224-6-216 18 175 84 5 13-8 2" marker-start="url(#m6)" marker-mid="url(#m6)" marker-end="url(#m6)"/><path d="M3494 2783l0 6 8-7-18 16-48-6-37 15 11-6 39 1 38-2 8 9 138-9-179 12-7 5-27 3 82 1 80 2 148 12-230 3-26-8-24 9 13 6 32 3 257 8-154 1-113-5-9-2-16 15 11 0 28 0 245 4-26 4-12-3-278 16 15 3 254-3-224 5 210 18 33-4 8-3 17 4 12 12-60-8-141 6-8 0-92 3-4-5-90-1-11 10 18-3 29 1 309-1 47 18-12 1-19-9-290 5-28 1-19-1-73 11 31 2 8-2 259-4 5 2 114 5 14 5-34-4-46 2-18-1-161 8-121-1-42-4-1 0-15 2-22 13 51-8 7 4 378-2-81 10-22 4-263-2-32-5 118 10 10 1 183 11-8 0-12-1-5 6-37 2-264-2-12 0 10 3 8 5 242 0 1-5 106 5 11-5-61 10-144 9-172 10 250-5 68 2 41 2 22-5 10 1-3 9-161-1-22 7-38-1-176 6 196 4 61-2 49-1 38-3 29-1 2 4 11 1-21 5-22 7-50-3-15 0-31 4-2-5-22-3-1 2-68 15 4-6 2 0 48 4 1 3 29 0 7-5 6 4 8 1 18-9 38 5 17-4 7 1 0 7 25-4-17 13-6 0-16-5-50 0-49 1-34 1-1-4-1 8-208-4 176 6 5 8 30 0 37-7 19 3 16-5 12 4 1-3 20 5 12-3 15 1 0-4-9 15-8 0-12-2-7-3-11 4-9-1-41 3-53 3-1-9-195 19 189-4 3 3 1-6 47 3-59 17 39 1 20 7-23 3-7 3-1 0-46-4-4-1-1 1-27 5-132 2 122 6 8-3 26 1 8 0 13 1 42-4 7 8 4 1 0-9 3 3-52 9-12 4-43 0-121-4 156 13 47 4 4-9 9 13-21-2-28 5-8-2-165 18-1 5 172 108 3 9-5-2" marker-start="url(#m7)" marker-mid="url(#m7)" marker-end="url(#m7)"/><path d="M3488 2778l-63 11 32-2 4-5 50 3 2 0 1 5-7 8-3-3-10 2-3 1-7-5-5 6-3-2-2-4-16 5-8-2-40 3-6-1-1 0-9 10 28-4 1 1 17 2 1 0 5-1 25 3 21-1 7-8 111 4-111 8-19 1-2-3-31 7-3-6-10 8-3 7 21-4 9-2 20 5 4-3 5-2 2 8 5-7 12 5 221 13-1 0-226 0-7-8-8 8-2-4 0 3-16-8-12 8-10-3-19-5-6 6-12-1-2-3-10 3-8 7 16 1 32 3 1-2 15 5 14-3 6 1 4-1 6-2 11 4 238-4 9 6 0 0-22 7-223-4-61 0-2 2-1 3-13-4-13 1-7 2 10 3 39 4 45-1 6-1 210 1 5-2 2 4 19 3 3-5 0 2-38 9-213 1-7-2-46 1-2 5 36 8 269-5 5-2-20 15-14-1-236 2-1-6 253 15 8-2 30 4-43 4-4 3-5-4-24 5-259 1-5 3-3 0-88-9-1 9-29 9 18-2 102-1 33 2 27 0 200-5 8 1 4-2 8 7 34-4 16 5 10-7-18 10-36 2-7 3-215 1-33 0-29-5-100-3-5 16 5 0 44 3 4-9 5 7 53-2 0-3 20-2 6 8 192 0 42 0 7 1 5-2 2-1 29-2 9-4 6 9 8-8-27 13-18-2-13 4-84 0-144-5-6 0-15 8-8-3-1-1-83 3-45-3-35 11 8-3 13 4 15 1 123-5 28 0 18 5 101-1 14-2 85-1 35-3 5 14 0 1-16-4-9 0-22 2-1 4-35-8-10 1-35 7-16-8-127 7-11 2-131-9 0 5-17-4 18 13 128 1 7 4 18-9 5 8 184-1 10-1 44 9-2 2-4-2-27 4-57-4-18 0-16-4-28 7-84-2-4-4-143 1-43-2-2 5 167 6 47 4 52-2 11 3 11-6 11 2 64 6 5-6 37 2 28-2 1 4 2-5-8 15-1-7-23 7-15-1-24 3-44-2-52 2-9-9-62 9-19 0-178-7-1 0 228 13 23-4 12-1 29 5 33-1 27 0 10 2 5 0 1-4 42 0 6 1-20 13-6-3-24-3-352 0 177 17 157 1 20-6 19 0-12 12-17 1-71 2-46 2-1-4-9 3-21-4-4-3-10 1-10 2-19 4 6 3 9 6 29 0 10 2 2-6 4 2 99 2 24 2-86 9-1-2-30-6-23 15 21 0 45 0 25-4 14 5 21-4 6-2 1 6-21 5-11 2-75-3-64 13 12-3 22 2 9-1 13 8 3-6-109 16-2 1 62 3 2 1 15-2 20 0 4 3 1-2-7 8-12 4-105 13 1-2 56-4 1 0 19-2 26 4 5-3 6 4-32 13-65-6 6 14 12-1 8 0 22 5-33 6-149-6 148 138 29-3 11 3-10 3" marker-start="url(#m8)" marker-mid="url(#m8)" marker-end="url(#m8)"/><path d="M3505 2778l-26 2 2 6 3-1 5 3 17-3 3-1-1 8-6 1-4 2-9 2-7-1-42-2-6 0-7-1-14 0-16 12 10 1 21 3 6 0 31-8 6 8 5-8 14 5 2-6 5 11-7 4-23 3-2-1-26 2 0-4-7 1-27 3-1 0-6-9-6 8-1-2 46 12 5-7 11 3 2-3 1 8 15-5 6 4 15-3 20-5-9 16-1-5-29 2-34 5-28-2 0 3-8-2-1-1 7 8 7-3 22 5 5-4 8 7 10-5 281 4 3 2-5 2-21-2-224 2-14 3-5 0-3-2-2 5-17-5-52 3-1-6 23 16 8-3 9-2 9-1 17 9 9-3 9-5 2 2 220 5 19 1 23-1 12-1-4 11-39 0-4-7-4 5-232-1-22 3-5 1-6-8-12 17 6-5 1 6 2-2 12-7 19 6 4-3 232-3 18 8 1-5 10 0 9 6 8-3 8 1 3-4-22 9-39-1-4 1-259 3 6 11 14-1 18-1 213 4 23-6 11 2 19-1 6 3 5-4 8 12-9-3-17 4-7 4-24-3-8-1-1 2-2 0-9-7-239 9-15 0-99 6 32-1 23 3 24 2 14 0 12 0 6-2 10-4 5 4 224-4 4 2 2 4 12 0 14-2 9-6 6 6 21 5-21 0-2 6-4-4-4 3-2 1-2-1-227-2-53 3-23-4-46-3-2 1-74 12 25 1 132 3 5-2 127 2 46-4 2-3 54 5 42 0 7 3 8-2 6 4-5 1-1 6-6-3-8 0-92 0-3-5-145 8-6-7-2-1-4 0-199 11 12 3 11 4 27-7 15-1 2 5 0-3 92 0 1 7 52-4 3 1 86-2 9-4 41 2 9 1 8-2 1 5 2 2 13-7 51 4 25-2 2 2 1-3 7-1-42 11-13 7-2-5-22 2-43-1-1-3-134 0 180 10 4 0 1 6 1-4 34 4 6 1 12 0-1 1-12 7-14-6-213 4-7 1-11 1-164-3-8 9 6 6 192-4 8 3 55-6 14 1 14 0 13 2 42 2 50-5 7 16-4-4-51 2-8 0-3-6-7 2-37 0-16 0-72 2 0 9 28 1 120 3 23 3 0 5-23-5-114 1-3 0-259 8 6 5 194-2 3-1 105 7 43-8 9 3 17 0 21-2-15 9-8 6-6-6-58 0-99 4 27 14 113-1 32 0 1-1-32 7-92-3-1 10 3 6 2-5 17 3 45-1 17 5 15 0-15 2-24 1-147 5 19 28-23 22 1 12-19 1-17 9 30 3-14 135" marker-start="url(#m9)" marker-mid="url(#m9)" marker-end="url(#m9)"/><path d="M3513 2777l-11-1-69 13 21-6 12 1 29 13-11-1-1 0-7 1-2-6-8 4-8 13 11-3 4-4 9 4 4-5 24 6 3 3-16 2-8 4-8 3-18-6-25 3-8 3-29-4-5 8 17-2 36 4 1 4 19-8 18 6 11-3 1 2 5 1 3 7-16-3-6 8-22-2-2-3-56 3 59 8 17 3 11-3 8-2 6 2 221 1 3 9-4 4-237-6-9 3-8-5-2 0-29 6-7-6-12 6-11-5-7 6-2 2 35 7 9 2 2-7 7 6 2-6 26-1 222 5 32 4 29-8-44 11-227 3-5-5-16 5-12-3-10 2-34 8 36 2 6 0 0 1 8-5 291 12-36 1-28-2-15 6-223-6-11 6 9 8 233 3 2-6 1 7 8-1 33-4 30 4-6 5-3 2-50-1-15-3-12 8-217-1-27-8-3 7-70 0-35 8 7-4 38 2 65-1 40 0 227 4 1-2 49 1-29 9-11 2-20-6-1 0-15 7-4-4-183 3-10 0-132 3-11-1-13-8-28 19 182-4 2-2 116 0 21 3 53-1 8-2 1-3 37 3 14 3 2 2 11 2-10 5-37 1-15-4-26-1 0 4-19-1-142-4-6 8-8-2-41 2-128 7 37-4 241 0 4 0 69 4 12 1 3-2 24 5 22-6 13 3-10 5-19-1-48 4-22 4-5-7-14 8-130-2-10-7-33 1-146 0 183 11 130 2 0 0 77-1 16 4 11-3 1-1-22 11-60-4-75 6-82-6-21 9-174 3 1 1 6 6 166-6 6 4 3-5 18-1 79 3 121 13-20-2-9-3-56 6-93-5-33 2-2-5-13 13 5 0 39-2 179 7-2 6-61-4 52 11-219 10 165 9 19 9 5-9 8 7 2 5-155 6-54 5 17 0-13 12 18 30 27 9-47 11 9 3" marker-start="url(#m10)" marker-mid="url(#m10)" marker-end="url(#m10)"/><path d="M3471 2786l35-2-97 23 71 11-1-4-12 0-28 4-31-8 79 19-55 4-13 11 334 10-5-3-264 1-67 13 14 2 68-1 247-4-277 16-42 4 262 3 5-3 7 7 50 9-21-4-4-1-16 6-27-1-248-2 255 5 2-1 5 3 44 13-48 3-6-6-9-3-236 16 26 3 206-2 7-3 4-3 5 5 0 0 1 1 47-4-250 9-40 2-62 0 219 8 68 3 16-5 53 9-3 1-28 9-43-6-184 13 161-3 19 4 45 10-57-6-18 5-2-1 0 2-319 7 267 0 41-4 29 8 26 10-173 10 187 2-16 7-108-3-265-1-21 22 381 6-186 15-13 12 169 11-167 5" marker-start="url(#m11)" marker-mid="url(#m11)" marker-end="url(#m11)"/><path d="M3703 2879l-7 8-9 20 32-6-82 67 22 1-16 14 1 16" marker-start="url(#m12)" marker-mid="url(#m12)" marker-end="url(#m12)"/><path d="M3293 2997l307 86" marker-start="url(#m0)" marker-mid="url(#m0)" marker-end="url(#m0)"/><path d="M3438 2789l54 19-19 24-60 4 6 14 70 12-39 81 9 19-153 37 184 9-11 36 23-1 31 8-14 6-9 10-64 20 42-6 26-1 50 7 0-6 46 15-116 4-21 27 15 2-26 23-45 5 16 7-24 21 30 138" marker-start="url(#m1)" marker-mid="url(#m1)" marker-end="url(#m1)"/><path d="M3479 2780l-44 12-2 7-28 20 6 2 9 7 148 3-153 2-23 3 96 10-36 4 1 10 2 7 291 3-301 1 114 22-114 1 87 14 165 11-288 3 47-2 25 14-55-3-27 4-40 9 4 3 17-7 194 30-279 8 12 5 257 3 108-5-13 12-93 5-68-3-9 24-24 3 161 8-95 3-30 3-43 0-172 11 177-1 1 3 3-4 9 3 15-4 33 15-5 0-29-3-40 3 56 5 13 3 1-2 76 14-91-4 13 11 85 0-32 4-83 2-15 0-20 0-16 1 41 7 20 18-21 0-21-6-48 14 1 0 50-3 21 0 7 12-23 1-21 10 26-2 19 5-34 5-2 5-36-7-18-1 2 12 55 5 24-5 10-1 2 4-236 9 180 114-8 8-35 9 8 0 4-4 21-1 4 6 13 1 7-4-14 12-30-6" marker-start="url(#m2)" marker-mid="url(#m2)" marker-end="url(#m2)"/><path d="M3633 2798l-207 2 52 3 124 6-118 2-1 8-24-8-41 14 3 4 32-2-7 12-23 8 68 0-14 11-1-2-27 7 48 5-43 6-1 5 244 5-138 17 148 9-371 3 89 10 114 6-67 3-112 6-35-8-7 5-4 2 64 3 64 18-89-6-55 12 168 2 277-3-422 9 251 16 63-1 22 11-27-5-59 2-289 14 178-6 15 8-197-1-16 2 340 10-130 16-177-8-20 0 170 10 8 0 21 2 37 0 95 3-2 11-70 3-51-7-47 9 10-1 59 4 21 0 48 1 2 11-32 0-41-6-19 2-1 0 36 13 14 4 15-9 32 4 22 3 3-1-37 6-83 6-42 11 21 0 0-1 3-4 14 5 14-7 2 6 14 5-92-3-19 3 22 15 28 0 8-2 2-4 9-2 15 16-2-5-28 1-8 3-27 0-24 0-16-2 5 15 11-5 25-1 39 4 14-4 11 5 2-5 5 1-7 7-21 1-66 2-142-2 127 11 36 7 25-6 33-2 3 6-53 122-4 3 0 11 23 11" marker-start="url(#m3)" marker-mid="url(#m3)" marker-end="url(#m3)"/><path d="M3486 2789l152 9-159-2-73 12 110-6 90 2 3-4-139 19-21-7-16 7-6-1-38-5 27 10 10-3 10 5 17 4 125-5-4 11-91 1-9-6-2 6-9-3-6 6-17 0-32-9 30 16 12-5 0 3 113-3 37 17-2-1-114-4-72-3-3 15 25 3 20-4 15-1 15 3 273 12-62 11-226 2-5 0 5 9 80 7 4-1 6-4-236 14 29 5 46 6 15 0 56 2 18-2 221 1 30-4-25 12-174-3-126 5-22-6-49 4-1-3-8-2-8 6-5 1-20 0-3 11 53-3 9 2 18-4 11-3 2 0 343 10-373 3-11-4-46 1-17 14 9-5 46 2 4-1 133 3 9 5 236-5 8 3-23 11-400 0-34 9 5-6 22 1 136 7 235 2-3 6-20 0-64-1-132 3-132-8-47 15 284-2 23 2 13 2-16 7-126 1-160-3-22 8 256 17-23-8-22 1-20 0-13 7-157-4-3-1-15 6-1-6 3 11 10 3 156-5 1 7 5-5 21-1 7 4 10-3 12-4 10 0 33 11-36 8-35-8-16 8-9-5-164 2 159 13 9-7 16 5 3-7 9 6 3 2 4 0 18-6 6 3 5 3 16-5 80 4 36 11-47-1-24-4-20 5-7-3-16-1-6-3 0-1-5 6-3-6-14 1-4 8-34-7-2-1-5 7-2 0 0-5-16 1-4 0-170 12 185-6 1 8 8-1 3-2 11 3 16-6 11 7 15-3 1-4 18 0 4 3 3-4 15 5 36 0 27-5-57 12-3 0-47-3-8 8-2-5-15 1-1-3-10 6-1 1-21-6-1 2-1 3-9-2-38 12 52-4 27 3 29-5-25 9-11 4-3 1-3-2 0 1-11-3-2 2-4 0 0 1-10 4-37-5-14 5-124 0 116 10 17 1 37-7 16 7 4-5 13 0 5-3 6 8 6 0 6-1 11 8-8 1-5 0-6 1-6-5 0-1-1 1-2 1-1-1-3 0-18-3-15 1-19 5-2-6-5 4-3-1-10 2-2 0-2-1-5 2-2-3-10-1 7 8 4 6 20 3 10-8 1 5 1 3 6-8 23 2 6 3 3 2 2-2 19-5 1-1 4 9 1 2 0 2-5 5-7-8-2 4-24 4-33-5-1 3-8 1-4 2-14-8-4 7-6-3-1 0 1 5 11 5 4 1 2 3 17-6 9 6 6-9 12 0 4 6 1 0 9 2 16-2 9 1-11 6-24 2-1 3-7-6-10 5-4-1-1 1-1-1-12-3 0-2-9 5 34 109 10 7 3 20-13 2-2 4-1 9" marker-start="url(#m4)" marker-mid="url(#m4)" marker-end="url(#m4)"/><path d="M3454 2784l13 3 29-3 4 3-33 8-16-5 171 11-117 10-20 6-46-2-33-4-18 18 20-1 23-3 5 1 7-4 4 7 48-7 10 2 67 5-77 7-2 0-11-3-4 3-48-1-19 2-12 3 36 9 22-8 107 4-70 5-3 0-1 7-15-3-61 2 6 13 25-2 28 2 4-2 5 1 115-2 1 1 158 10-299 2-2-4 0-1-12 4 28 8 1-2 236-3 42 15-29-3-6 3-9-3-2-2-140-1-110 4-8-2-2 6 74 10 37-6 200 15-1-4-9 2-430 12 15 2 13-8 4 7 44-4 4-1 1 3 5-2 18 0 0 5 11-8 50 8 59-3 207-3 0 11-122-1-92 0 0 0-70-1-28 5-5 2-77-3-4 1-43-6-5 3-12 13 27-6 24 5 34-6 230 9 29-7 81 4-243 7-5 5-30-1-91-1-21 1-14-4-13 5 14 6 9-4 10 1 6 1 23 0 96-1 232 6 28 12-78-5-70-2-1 6-104-2-133 1-33 2-4 0-17 6 297-1 101 5-21 2-61 2-313 2 5 11 15-5 326 0 87 6-37 5-8 5-56-6-21 6-15 1-11-7-260 3-21 8 8 2 0 2 172 1 60-4 121 0 32-2 7 1-48 13-87 0-71 1-10 3-193-2 169 9 9 2 4-3 18 1 16-3 1 5 7-5 0-1 3 3 2-3 0 7 0-5 2 0 140 1 4 3 15 10-112-4-41-4-23 7-4-1-17-1-2-1-12-4-9 2-1 4-5 13 13-7 2 2 2 2 5-2 12 0 19 1 28 0 13-5 67 6 22-5 7 3 20-3 11 5-18 8-1-2-101 7-11-5-17 2-4-2-13 0-8-1-18 5-7-8-20 7-4-1-1-5 6 15 1 0 3-2 6 0 1 1 8 1 6 3 3-7 5 1 7 5 1-6 2-1 21 3 1 4 7-5 3 1 5 4 0-5 66 8-69 3-13 5-1-1-3-3-23-2 0 2-18-4 0 7-5 1-4-2 0-1-176-1-5 12 174-4 3 5 1-5 17 5 1-6 4 1 5 6 2-3 6-3 18-3 0 8 5 1 4-9 0 4 0-2 1 5-3 6-19 4-14-1-14 2-1-3-3 0-13 1-27 0-12 10 6 2 24-8 15 4 4-3 4 3 7-2 3 0 8 4 17 0 7-3 4-3 2 12-12-2-1 7-9-1-1-6 0 7-1-2-1 0-5-4 0 5-1 0-8 3-4-3-2-2-21 1-2 4 0-8-21 1-9 1-17 5-11-6-111-1-18 14 132 2 5-3 6-4 4 5 0 1 3-5 24 0 4 0 1 7 28-8 0 3 6 6 18-2 1-4 3-2 0 0 1 5 3-2 9 4-4 2-8 9-3-9-3 9-3-8-2-1-2 6-8-2-2-4-3 9-4-2-3-1-7 0-7-6 0 0-6 2-5 3-16-3 0-2-1 5-3-5-17 1-13 4-127 4 130 6 4-4 7-1 7 7 2-6 11 3 16 4 6 0 1 1 0-6 10 2 1-1 16 0 15 3 6 0 10-4-11 10-12 2-4 4-3-2-8-7-6 0-11 8-1-7-2-1-23 1-10 2-9 4-133 11 164 99 12-3 0 0 5 11-19-1 1 6 9 1 3 1 4 7 2 5-3 4-4-7-2 1-4 1-1 5" marker-start="url(#m5)" marker-mid="url(#m5)" marker-end="url(#m5)"/><path d="M3447 2786l66 2-44 6-2 1-19 2-12 8 66 4 4-9 84 5 6 2-86 6-6 4-112 5 20 4 26 2 136-2-80 15 236 18-30 18-251 10 259 1-2 4-272 15 303 4-11 3-3 1-9 4-5-3-16-5-232 8-142-5-11 12 41-6 5 3 177 2 5 4 157 0 0-5 10 2 45-4-41 10-11 4-230-3-91 5-50-4-24 5 0 10 125-9 202 6 54-5 12 6 52-2-1 12-30-7-11 2-118 2-101 2-186-4-11 10 285 1 13-2 23 6 107-7 21 8 1 1 6 4-26-3-30 3-10 1-48-4-7 7-9-7-130 5-200 13 376-7 0 1 29 2 2-2 30 12-89 2-12 0-35-1-95 0-200 3-2-3-15 13 3 1 5-9 12 4 158 0 33-3 200 0 34 7-62 3-103 3-8 5-269 4 179 3 164-5 13 5 20 3 30-7-11 11-1 5-53-3-84-1-29 2-39 3-201 1 173 5 16 1 38-2 110 0 6-1 20 1 31 2 7-6 9 3 5 2-20 13-10 1-8-4-12 2-4-6-35-1-66 8-3-1-2-5-14 7-9-4-11 1-3-6-14 4 35 6 10 4 27-3 57 7-7 9-13 0-12-5-16 3-28 0-66 2-24 4 42 4 37 3 60-7 15 5 16 8 0-2-48 4-21-5-15-1-1 3-60-2-10 6-3 4 1 4 10-1 1 5 49-5 2 3-4 9-28 2-2-2-209 4 124 3 6-1 11 7 5-1 8-4 66-4 5 8 11 6-9-2-3 7-10-5-6 1-12-2-18 6-17-6-16 4-19-3-2 2-124 1-1 1 130 11 23-2 25 2 6-9 18 4 5 5 8-9 2 7 7 5-34 1-4 3-30 0-162-1 137 10 21 1 6 0 2-3 2-2 25 7 4-1 34-3-16 8-17 1-46-2-149 8 309 17-142 104 3 12 5 16" marker-start="url(#m6)" marker-mid="url(#m6)" marker-end="url(#m6)"/><path d="M3517 2776l-33 0 30 11 105 8-102 5-5 12-15 0-16-1-21 7-24-5-10-3 81 15 3-5-17 13-4-2-57 8 1 10 22 0 272 8-9 1-247-3-32 5 34 2 7 6 10 0 233-1 21-5 16 15-21-3-1-4-37 3-227 5-3-3-21-3 0 4 14 12-11 19 302 2-28 10-14-3-11 3-9-8-380 10 15 5 207-1 210 8-8 6-307-2-37-6-90 4 17 5 3 4 67-3 246 3 101 1 2 6-5 3-56 2-47 0-17 0-119 1-142 2-24-5-22 5-10 5 55-1 259 5 36-4 65-3 8 2 21 6 5-6-21 7-75 8-23-3-47-1-253 5-49 9 329-3 116 2-120 6-16-2-280 1-18 5 188 11 85 1 48-5 18 5 2 0 65-7 13 3-49 11-21-4-29 1-14-1-8 6-42-3-86 3-162-5-10 3-1 9 190-5 66 5 1-4 134 9-59 2-19 1-320 1-8-1 171 10 8 5 41-1 30-2 10-2 21-1 41 6 62 1 15-7-40 9-11 8-46-2-32-7-14 7-11 0-57 1-186 8 197 0 6-3 55 5 11-1 10-4 62 1 15-4 5 9 8-7 6 5-11 11-11-4-45-3-4 4-20 0-32 1-9-1-7 0-2 3-27 0 34 6 79-3 17 2 10 13-18-3-39 2-17-2-89 4-7 1 0 9 15-3 43 2-12 11-46 2-44 0-154 4 146 3 20 2 40-1 4 1 12-7 3 8-4 5-13-1-18-3-21 0-20 6-8-2-13 2-1-4 0 9 0 3 6 1 11-4 8 6 1-5 1 3 27 3 11 0 35-3 3-1 4 5 12-8-17 14-20 2-8-1-74 3-132-9 140 11 13 1 24 6 23-8 10 7 21 1 2-3-34 12-13-1-4-3-13 0-157-2 176 12 138 15-129 114" marker-start="url(#m7)" marker-mid="url(#m7)" marker-end="url(#m7)"/><path d="M3493 2788l4-7 5 5 3 10-7 1-35-5-4-2 0 2-55 17 11-3 3-2 13 1 6 3 6 0 1-8 12 2 6 7 22 0 1-4 19-4-15 16-18 0-28-4-4 3-6 3 0-4-7-1-15 1-7 0-6 14 5-1 1-1 9-5 1 1 2 1 37-2 0 7 11-9 16 3 249 16-229-6-17 2-6 4-3-1-16-4-17 1-16-1-9 4-9-4-1-3 6 18 10-4 4 0 1-4 1-1 4 4 5-1 13 6 274 8-128-2-104 0-4 3-16-4-1-1-32 3-1 3-7-5-4 0-15 9 0 6 26-7 47-2 4 7 217 1 17-4 44 0-62 12-258-4-14 13 7-5 21 4 2 0 228-3 10-1 3 6 48 10-46-4-6 7-5-1-228-4-8 5-9-6-5-2-10 15 14-1 6-4 278 6 8 0 7 2 17-1-10 5 0-1-9 2-44 2-5-4-2 0-1 3-251-2-18-3-13 5-61-2-8 1-12 5-1 8 8-4 6-3 2 4 6 0 21 1 5 1 76-3 270 3 23-2 4 11-10-1-2-1-12 1-9 2-9-3-2 5-12-5-200 4-32-6-28 5-54-3-13 0-15 6-16-6-31 4 14 9 29-5 15 5 7 2 96-1 3-1 5 1 1-5 149 1 90-3 7 7 34-1-3 5-26 5-8 3-3-3-2 3-49-3-3 1-23-4-5 2-4 4-20-8-304 1-14 3-8 0-4-1 0 7 12 1 3 0 22 3 35 3 236-8 15 0 21 3 76-1 5 6 4-1 8 1 18-2 12 1-4 10-101-1-24-1-24 4-23-2-1-6-85 0-33 5-153-6-1 5-25 0 160 11 15-2 23-4 103 9 56-8 46 0 25 7 7-4 7 6-16 9-22-2-6-6-2 8-25-6-7-1-3 1-26 2-5-4-16 4-3-2-9-2-100 6-8 0-163 2-4-9-10 9-5 4 176 1 22 4 110-1 17 0 18 0 2 0 6 0 23-1 14 1 17 1 8-8 2 1 2 3 11 3-21 4-14 5-18 2-101-3-63 1-8 1-1 2-22-9-1 4-193-1 14 16 174-8 60 1 28-2 41 3 56 2 6-5 5 6 3 3 2-5 18-3 5 18-2-3-33-4-17 4-27 3-14-9-79 7-25-4-27 0 2 12 45-2 18 2 67 3 30-8 7 9 1-1 23-3-60 7-24-1-43-1-21 7-41-3-23-3-10 4 48 14 117 0 11-1 36-1 1 4-14 8-25-9-12 6-2 2-1 1-67-3-39-5-6 8 31 5 68 5 6-3 16 7-120 2 35 10-38 11-20 5 5 2 26 1-232 19 23 4 160-5 4 3 5-1 3-1 17 1 21 3 6 0-28 6-21-2-26 7-37-8-112 15 156-3 44-1-44 9-179 9 160 1-5 128 25-6" marker-start="url(#m8)" marker-mid="url(#m8)" marker-end="url(#m8)"/><path d="M3522 2771l-10 4-111 13 27-2 50-6 32 3 10 0-8 8-17 7-4-4-1 2-1-4-23 7-1-9-11 6-17 1-14 2-4-7-8 9 20 2 3 1 15-4 1 1 2 6 10 2 4-7 0 5 2 0 21 1-9 9-7-4-7-3-23 7-26-5-22 1-6 15 10-4 10-4 1 0 8 4 9 1 7-5 6 0 1 8 7-4 7-2 4 1 1-3 21 8 12-1 5 0 10 3-10 6-2 2-6-1-4 1-14-4-26 4-22-6-21 11 6-3 17 0 3 0 8 1 2 0 13 4 8-5 18 7 9-1 4 3 12-6 224-1 21 11-28 3 0-4-3 2-1 2-2 0-226-5-29 2-6 0-3 0-24 4-14-3-9 1 17 14 29-5 7 5 11-9 5 4 8 3 8 0 239-2 18-5 15 6 10 1-43 12-9-2-263-2-10-5-5 6-2 3-8 3 7 4 21 2 4-6 14-2 225 0 2 5 5-5 7 9 1-3 8-6 26 8 5 2-19 8-21-2-13-6-7 0-231 3-11-3-27 18 304 0 3-7 20 11-56 1-3 4-6-5-225 5-7-2-24-5-98 9-28 6 86 2 4 2 54-9 10 9 31-3 203 3 10-4 2 0 7 2 13-6 2 6 3-5 29 15-7 1-10-6-9 3-2 2-252-2-17-5-17 7-111 2 0-5-44 9 53 4 95-6 24 8 162-4 75 2 5-7 2 2 29 1 14-2-22 14-19-1-13 4-48-3-16-5-15 8-33-1-146-1-98-3-2 0-17 7 1 3 145-3 7 5 7-5 105 0 18 6 20-2 3 2 9 3 14-9 30 2 11 7 29-7-61 12-5-1-4 0-1 4-48 0-22-1-117-3-8-2-17 3 0 0-100-1-35-2-15 5 17 6 155 0 31 4 78-2 3 4 36 1 80-5 2 2 21-6 3 6 13-5-8 9-22 4-6-4-3 1-17 5-1-3-46 4-10 2-6 0-158-7-8 2-138 9 150 6 7-9 14 0 130 3 66 6 12-1 6-5 25 3-45 13-19-2-11 2-12-6-27 2-46 3-1-1-98-1 10 12 195-5 1 1 37 0-52 10-13 5-15-4-8-3-67 13 18 1 67-2 2-2 3 1 0 6 24-2 11 1 11-7-39 13-18-2-2 4-144-4-42 7 10 4 72 2 6 0 87-4 32 5 1 6-24 1-32-1-63 14 87 2-23 3-39 1-74 14 22 5-14 1-88 11 82 16-20-1-16 1-50-4 102 6-98 9 33 14-163 17 154-1 14 118" marker-start="url(#m9)" marker-mid="url(#m9)" marker-end="url(#m9)"/><path d="M3516 2779l-98 8 18-2 4 4 35 0 23-4 4-2 9 16-29-8-6-1-12 0-44 6-25 9 22 2 52 2 23-1 15 0-22 9-59-6-26 9 39 4 0 5 31-8 39 2 0 12-18-4-9 5-9 1-28-7-17 6-11-6-18 6-4-4 17 12 4 1 13-3 5 7 33-6 41 5-5 7-4-2-4 0-5 6-2-4-4 1-20 1-13-7-15 4-27-3-3 6 40 12 31-9 3 7 237 1 34-6 0 16-6-8-15 5-247 0-39-5-8 9 10 10 18-5 2-1 228-2 8 2 43 6 16 2-19 7-6-4-17 1-6-2-28-3-229 1-13 2-6 1-11 2 20 9 7-5 8 3 5 1 11 4 208-1 0-7 5 4 21 4 18-8 0 8-37 8-15 3-229-8-1 7-7-3-74 1-18 1-18 2-1-5 11 12 78-3 46 1 4 4 211 1 13-2 8-6 22 6 3 1 3 1 14-5 3 2-6 12-3-3 0-5-26 8-2-2-6 3-18-3 0 2-3-1-222 2-49-9-17 5-28 6 114 2 154-1 6 2 10 0 2-1 19 4 11-3 10 4 20-4 28 11-32 3-19-8-4 5-9-5-3 7-74-1-111-1-21 4-111-7 126 8 98 2 51 4 13 0 4 0 16-5 6 1 47 5-20 12-50 0-10-8-15 4-31 1-18 3-94-7-188-2-1 6 278 6 62-2 21 6 3-5 31 1 1 4 3-6 4 8 17-7 20 5 0 8-35 2-24 0-32 1-72-7-71 1-33 0 30 10 149 5 20 0 18-4-21 10-40-1-34-1-101 6-192-2-4 6 163 1 113 0 34 4 17-1 25-3 39 5 3-6-15 19-67-9 62 17-35 12-342-4 207 14-46 1 36 14 23 3 119-6-173 22 34 24-108 16 49 2-20 24 23-7" marker-start="url(#m10)" marker-mid="url(#m10)" marker-end="url(#m10)"/><path d="M3516 2797l-27-7-46 11 32 4 21 11-78 8 85-4-9 12-50 0-19-1 312 13-316 25 5-6 310 5 2 0-30 11-5-7-219 1-20 9 228 7 5-3 2-6 45 14-25-3-5-1-35 8 3 11 56 9-47-7-13 4-4-4-205 3-11 0 247 6 37 5-70 12-1 2-227 0 247 3-23 16-7 1-2-5-4-1-14-3-301 12 144 2 134 1 20 4 2-8 14 2 2-3 4 8 1-4 17 5 41 5-20 4-42-5-11 0-2-1-14 4-6 0-1-1-340 6 191 0 152 3 19-1 3-1 58 16-16 1-223 1 236 12-94-2-28 0 109 20-62 3-162 1 215 11-44 5-7 1" marker-start="url(#m11)" marker-mid="url(#m11)" marker-end="url(#m11)"/><path d="M3673 2915l-3 10 86 19-82 10-20 12 11-5-13 14-13-3" marker-start="url(#m12)" marker-mid="url(#m12)" marker-end="url(#m12)"/><path d="M3486 2807l77 89" marker-start="url(#m0)" marker-mid="url(#m0)" marker-end="url(#m0)"/><path d="M3458 2785l-52 41 85 23-78 11 65 2 13-1-17 13-53 3-20 48 63 17 15 39 101 20-103 29 12 10 10 7 145 15-185 12-4 2 55 4 37 10-156 47 5 8-17 6 27 18 51-8 29 3-10 13-52 114 8 16" marker-start="url(#m1)" marker-mid="url(#m1)" marker-end="url(#m1)"/><path d="M3508 2774l127 25-129-6-53-2-2 7-30-1 30 9 155 0 12-1-223 14 64 2-40 23 66 7-10 7-39-3 40 34-19 10-24 0-73 14 75 14 6-6-69 15-18 11 2-3 81-1 0 23 4 6-100-2 113 18-149 7 157 22 18 6 176 10-189 3-178-6 154 19 55-4 1 4 13-7-15 17-2-3-9-4-35 16 11-6 54 5 6 1 31-3 16 12-24 1-67-1-1-4 8 14 86-2 31 5-5 5-106-4-8 3-1 2-12-5-14 3-18 0 18 10 28 10-8-4-17 5-61 3 15 8 40-3 19 1 3 4 21 11-15-1-6-5-34 0-46 13 7-5 2 8 33-3 4 0 56-4-16 14-26-5-7 3-30-3-39 1 8 8 11 4 32 5 15-8 31 6-11 10-1 1-22 104 2 15-47 7 46 0-6 22" marker-start="url(#m2)" marker-mid="url(#m2)" marker-end="url(#m2)"/><path d="M3516 2775l-49 31 152-3-170 10-33 12 8-5 29 9 47-7-39 12-54 6 5 0 22 9 21-4 5 3 4 0 40-1 216 3-123 9-145-8 248 25-229-3-37-3 14 19 40-7 264 8-298 10 95 3 8 0 145 13-181-3-47 8 257 6-244 4-146 17 91-2 9 3 16-5 266 14-415-3 2 5 19 4 2-2 121 4 19 2 12 0 92-3-118 7-150 0-15-2-4 10 339 2-190 17 38 9-17 3-175 17 203 6 0-3-212 12 164 6 68-3 0-5 33 2 44 15-24-5-33 4-8 0-66-7 19 19 6-2 6 1 1-6 69 15-72-4-18-1-16 4-175 9 333 1-161 12-1 10 20-5 21-3 19 7-8 4-40 5-51-2-134-3 116 18 80-6 34 12-1 2-2-6-3 7-17-7-4 0-15 7-30-7 12 11 11 1 25 3 1-3 9 0 15 2-36 9-17-3-2 3-12 0-9 3-21 2-3-2-12-4 76 12-37 12-25-6-12 0 53 112-4 10-17 5-1 2 17 17" marker-start="url(#m3)" marker-mid="url(#m3)" marker-end="url(#m3)"/><path d="M3448 2789l38-9 3 8 136 7-119-2-35-2-20 0-36 3-2 5-8 5 53 4 19-6 113 5 6 5-93 0-23 3-70 11 9-1 31 0 22 0 14-2 15 2 1 1-95 8 15 12 1 3 53-1 31 1-52 8-11-4-20 5-5-6-5 10 19 3 16-4 153 4 158 5-306 4-20 1-5 1 8 11 15-3 251 0 60 10-59 5-180-5-59-1-2 1-9 4-25-5 88 13 43-2 144 2 28 1-188 5-2 5-124-2-69 3-31 4 19 7 17-6 15-2 60 0 329-1-314 18-51-5-18-3-6 3-17 4-4-4-20 3-10-4-28 11 13-3 9 9 1-9 47 5 7-1 7-2 50-2 212 5-145 10-15-5-9 1-116 1-18-2-2 3-2-1-7 2-42 3 12 8 18-2 41 2 4-4 91 0 0 0 37 0 182 4 27 9-21-3-43 4-69-5-86 1-141-1-36 3-2 3-6 0-8 6 2 2 6 0 150 4 9 11-5-1-139-5-27 2-3 9 7 4 169-2 97 2 34-4 105-4 6 4 3 0 17 8-263 7-169-9 198 15 29 3 164-3-2 8-7 1-3 2-146 3-3-3-3-5-8 7-13-4-11 0-7-1-1 5 0-8-17 8 0-6-168 4-6 3 172 6 56 1 19 0 4-2 71 5 9 10-22-6-9-2-53 7-14-3-11-5-1 6-8-3-1-1-24 6-28-8 1 18 2-7 11 3 15 5 7-9 7 9 15-1 14-1 19-6 16 0 5 0 63 0-20 14-2 0-61 0-6-4 0 6-9 0 0-5-1 0-3 5-39-5-5 0-5 4-2 0-3-3-13 7 7 4 28 1 23-3 17 5 51-4 46 2-86 7-16 3-14 1-2 2-3-3-6 4 0-3-9 1-7-5-23 2-53 15 8-2 57-1 1-3 9-3 26 2 1 7 4 2-8 2-10 4-31-5-11 0-43 10 3-1 0 6 0 1 8-1 14 2 22 0 14 0 15-8 1 4 3 3 2 0 5 9-1 1-1-6-6 5-12 1-2-4-2 0-20-3-6 5-6-5-3 3-4-1-5 2-11 4-10-1 8 10 2-7 11 5 18 0 42-2 4 0 1-3 2 8 8 3-12 6-2 0-12-8-11 0-2 6 0-6-24 8-7-2-9 2-10-3-4 0-16 0-1-4-3 4 16 7 3-2 1 0 3 7 21 0 6-6 7 0 8 2 6 3 16-2 25-2 0 11-10 4-16-5-24 1-20-1-24-1 0 4-132 23 167 95-22 11 3-2 1 5 9-3 17-2 7 1 7-3-5 12" marker-start="url(#m4)" marker-mid="url(#m4)" marker-end="url(#m4)"/><path d="M3474 2781l0 8 6 0 27-4-28 10-6-1-27-1-25-1-8-2 5 10 6 9 5 0 17-4 15 4 20-4 9 4-13 2-5-1-8 4-41-3-29 1-1 12 69 4 21-7 4 7 92-4 7 0-6 6-187 1 4 14 3-3 6 4 1 0 21-6 7 7 9-4 24 4 33 0 56-5 181-2-27 14-210-1-38 4-57 0 34 3 1 4 163 3 113-4 43 0 1 15-38-4-7 4-251 1-2-7-26 1-15 2 10 10 289-5 28 2 8-1 3 16-62-3-229 5 45 7 178-4-151 17-70-6-35-3-21 4-57 5-31-6-20 12 37 0 22-5 34 6 2-3 15 3 1 2 23-5 299 6 20-6-338 9-1 2-21-3-15 8-3-1-15 0 0-8-4 9-4-6-13-1-4-1-30 10 7 3 2 3 40 2 268-9 5 4 61-1-22 10-185 3-6 1-1 0-51-6-73 0-33 5-1 0-8 2-1-5-14-3-10 2-8 9 1 5 29-6 20 9 3-3 13-5 22 3 218 4 98 0 17-8 21 7-48 7-222-2-14 3-99 1-63 8 23 5 3-3 7-1 4-4 16 2 5-3 224 8 59-3 6 1 56 10-85 0-125-1-188-4-5 10 6 5 4-3 9-2 1-1 147 1 16 2 16 1 15 0 144 4 70 5-7 4-22-7-188 9-15-8-187 2-7 0 264 8 151 7-9 9-14-3-31 1-132 3-22 0-7-8-6 4-4-3-10 3-1 4-9-5-6 1-8 14 8-3 13-2 1 2 3-5 30 9 11-5 9-4 0 7 1-4 0 2 131-2 7 1-2 9-12-3-119 5-2-1-2 4-6-3-12 3-8-3-2-2-2 6-46-6-163 3-1 0 165 13 3-1 0-7 10-1 12 4 14-2 4 5 13-5 17 6 127-7 14 0-4 10-21 6-21-5-79 7-2-7-1 0-4-2-10 1-6 3-8 3 0-6-14 2-12 5-12-3-23 3-167-7 176 9 6 9 1-4 7 2 14 1 8-1 1-6 7 7 0-5 7-1 11 1 1 5 0-6 1 0 3-2 2 6 2 1 13-5 30 0 38 3 35-4-40 12-21-1-17-1-35 1-27 2-17 3-1 2-10-5-16-3-4 5-1 0 5 10 3 0 10-6 13 5 2 4 19-1 3-4 1 3 5 5-7 3-3-5-20 9-5-4-4-2-10-2-12 8-37-1-1-5-14 6-3 5 12-2 6 2 1-3 15 4 5-4 0 7 13 1 21 0 17-6 3 3 20 8-7 4-8-6-6-1-10 3-6 5-28-2-17 1-11 0 0-2-4 1-1-3-14 2-1 0-2-3-5 6-2-3 6 12 15-8 3 5 11-2 3 1 24 5 13-9 11 2 19 6 1 0 1-5 4 5 2 2-2 7-3 2-13-4-6-5-11 7-5 2-5-3-8-4 0 0-10 2-12 2-20-1-2-4-18 2 6 10 8 0 21 2 6-5 2 5 0 0 11 0 12-2 1 4 24-2 5 4 0 0 1-1 0-2 8-5-13 11-16 5-18-1-1-4-1 3-10 0-1-3-18-1-9 2-7 1-127 12 8-3 171-3 4 2-179 15 166 84 2 7 7-1 1-7 2 2-1 10-19 2 1 14 2-5 19 16-4-4-1 4-11-1-1-3-5-5-11 0 18 15 4 2" marker-start="url(#m5)" marker-mid="url(#m5)" marker-end="url(#m5)"/><path d="M3442 2799l27 4 23 4 3 8-20 4-27-2-18 11 5-3 301 10 0-1-6-1-332-2 79 18 263 5-134 3-160-7-25 13 178 6 117 0 3-2 31-6 5 8 4 6-19 0-273 4-43 5 44 1 243 2 12-3 1 2 33 0 10 9-17 4-5-2-7-1-42-3-1 6-180-5 193 15 29-2-190 3-18 4-185 6 63 6 302-6 12 9 20-9 7 8-32 10-28 1-246-6-28 4-1-3-130 13 45-7 23 9 0-9 86 9 198-1 13 1 74-7-11 12-9 2-1 1-56-7-24 2-153 5-101-3-64 3-27 3 19 6 182-3 120 3 9-1 6-4 8 4 54 8-6 3-64-5-142 7 120 9 11-1 55 3 11-8 17 2 44 6-33 5-11 2-42 2-72-5-259-2 6 14 253 3 46-7 63 0 15 6 0-3 9 3 0-7-19 10-4 7-4-3-174 5-204-8-12 15 178 2 8 0 60 0 69-1 2 0 3 0 2-1 1-1 9 2 7 2 30-9 23 7-5 3-7 7-24-4-9-2-107 2-62 4-181-1 174 9 75 2 122-4 4 6 11 0 14 0-22 7-4-2-19 0-66 4-8-2-43 0-26 0-20-3-196 1 243 15 7-7 46 6 42-5 23 0-14 11-37-3-55 0-73 16 52-5 10-1 19 3 6 3 7-4 19 0 43 0 3 2-22 9-12 2-93-4-20 9 16 8 24-7-94 17-149 8 131 2 9-9 18 6 21 3 10-7 5-2 8 6 31 9-4 1-14 1-1-2-76 2-27 2 8 8 17 2 2 0 11-8 4-1 6 9 13-7 2-1 19 0 16 3 2-4 4 8 21-7-9 18-25-3-8 2-22 1-29-3-2-3-4 2-20 8 1 2 4 2 52-3 22-1 7-2 8 12-12-3-12 7-6-1-18-5-23 6-138 6 183 1-10 103-9 9-17 12 16-1" marker-start="url(#m6)" marker-mid="url(#m6)" marker-end="url(#m6)"/><path d="M3513 2777l-9 0-32 8 13-3-30 9-16 6-19-4-7 5 205 6-119 10-11 3-18 2-12-2-43 8 60-3 26 9-15 8-19 0 0-4-3-1-17 8 26 7 27-4-80 7 177 8 115 3 41 3-282 11-22-4-11 6-2-8-4 17 38-4 248-1 36-3 10 7-9 9-16 2-302 8 247 0 9-3 37 6 9-6 18 4-5 4-1 5-17-4-31 0-16 2-336-1-38 12 38-2 23 2 3 4 47-4 273-4 4 6-234 3-50 2-29 7-32-7-19 6-27 2 59 0 17 0 285 6 26-6 20 9-24 6-4-5-20 1-20 1-76 4-288 3-4 10 50-4 9-3 104 3 156-1 50 4 39-5 54 3-35 10-6-3-7 3-9 0-37-5-348 4 0-3 338 11 3 15-28-3-341 6 286 3 81-4 23 1 41 9-32 7-37-4-68-2-293 15 7 0 1-6 271 1 46 1 9 1 35-3 39 10-6 6-140 1-66-4-197 16 9-3 156-6 12 0 32 2 22 2 2 5 23-6 31 5 90 6-75-2-5 4-44 1-10-2-1-5-17 13 33 6 21-5 68 1-23 11-16-2-1 5-7-9-2 0 0 8-4 1-9-9-4 0-16 6-34-2-2-3-29 4-5 4-5-4-11 14 3-3 80-4 3-1 7 8 11-1 27-4 26-1 6 6-1 3-6 5-9-2-11 1-6 0-25-2-37-2-10 6-8-4-25-1-30-3-176 2 169 14 65 3-9 2-47-1-62 17 41-4 1 1 21-1 23 3 27-2-58 11-1 1-4-3-8 4-19 1-19-3-7-3-119 3 117 13 5-4 23 4 1 0 45-7 5 6 4-5 17 7-14 7-7-2-7 2-12-3-167-3-21 2 139 13 37 1 1 2 6-5 41-2-72 16 38 6 24-1-36 104 8 24-5 6" marker-start="url(#m7)" marker-mid="url(#m7)" marker-end="url(#m7)"/><path d="M3511 2778l-55 7 13-1 15 2 2 2 29-7-5 9-1 5-11 4-14-1-3-1-40 2-9-9-3 1-28 15 12-4 12 5 1-2 33 3 1-2 9 1 22 0 5 2 9-2 3 2 102-6-127 12-4 2-17 1-25-4-6 4-7-5-1 1 13 10 15-3 14 8 1-5 1-4 13 9 15-5 18 10-9 2-4-6-11 2-8 4-1-2-13-1-16-3-17 2-8 0-3-2-22 15 10-3 6 0 2-1 14 1 27 7 16-8 8 4 0 0 8 0 13 1 222-3 7 2 23 13-7 1-17-3-2-2-229 3-50 0-31 12 0-8 34 4 14-2 241 4 9-1 17-1-253 9-1-4-5 8-3 0-6-5-3 3-2 2-14-6-8 2-2-3-14 11 7 1 11-1 0 4 7-5 2 8 19 0 251-5 22 4 2-6 14 13-7-3-7 2-4 1-21-4-20 0-249 4-8 2-2-6 0 17 11-6 250 6 1-1 8 0 30-1 8 1 4 1 4 7-30 4-25-6-17 0-231 3-122 3-25 8 19-5 99 6 273-8 31 0 5 3 9 0 4 0 2-1 11 5 2-6-11 15-9-3-9-1-13-1-4 5-4 2-19-1-3 1-5-3-2 4-209-9-2 6-31 2-84 1-14-3-58 10 13-1 4-4 23 1 6-1 48 4 59 4 177-7 64 5 44-2 12 3 16-8 1 12-16 7-10-7-26-2-1 0-44 3-30-3-25 3-19 1-93-4-136 8-58-3 34 7 262 3 5-1 38 3 1 0 7-4 49 0 5 1 35 3 14 7-6 2-5 1-9 2-21-2-30-2-26 0-16 1-27-3-28-2-89 7-37 1-135-9-1 2-26 7-8 5 6 4 23-5 249 3 13 2 12 1 5-7 4 1 14 3 18 3 17-2 30-3 15 4 10-2 24-3 2 2 8 3-108 5-1 4-21 1-124 1-167-3-12 1-9 0-23 6 21 2 11 1 153-1 97 1 20-5 34 8 5 0 19-7 20 7 54-2 12-7-21 15-25 0-101-3-11 7-16 0-38-1-8-8-212 19 3-9 6 6 172 1 0-6 65 4 5 3 81-8 32 8 8-7 22 15-24 1-16 1-37-3-1-5-80 3-14-3-39 1-3-1-169 3-7 6-14-9 167 15 5 3 5-8 8 7 53-4 119-1 16 7 6-8 22-1 1 1-14 14-16-1 0-1-16-2-6 7-65-1-39-1-65-3-5 8 59 4 20-5 68 7 29-5 14 7 13-1-11 11-3-7-23 3-24-2-12-2-63-1-76 11 21 5 123-3 47 7-56 2-67 6-27-6-8 1 8 13 33-3-39 11-32 17-47 18 41-2 10-5 41 6 16-8-243 11 144 9 23 3 1 4 6-2 5-4 26 5 17 1 3-2-5 12-4-6-58 12-11 127 23 10" marker-start="url(#m8)" marker-mid="url(#m8)" marker-end="url(#m8)"/><path d="M3485 2779l-65 8 5 1 26 1 27-8 14 4 3 0 0 2 4 12-16 0-4-8-1 0-26 0-15 1-1 4-6-1 0 4-10-7-22 12 21 0 3 4 31 0 14 0 6-6 16 1 0 1 13 3-8 4-11 5-4-1-1-4-7 4-4-3-8 3-14-4-6 5-26 2-4-3-6 3-11 1 7 9 23-1 4-2 0 4 3 0 61-4 11 3-35 9-4-3-1-1-6 4-10 0-2 1-31-2 34 7 3 4 4-5 18 6 8-8 15 0 11 0 238 2 7 10 0 1-16 1-17 2-223 3-20-8-3 2-2 0-18 1-1 4-7-6-8 5-26 12 6-7 4 3 17 1 19-1 13-2 0 6 2-3 13-5 226 1 5-2 32 16-272-1-60-3-6-2 17 13 12 0 10-3 251 9 6-5 14 1 2 1 12-3 3-3 4 5 4 0 18 12-39-7-10 9-16-1-237-6-9-2-9 6 9 7 4 5 3-1 5-2 10 1 250 3 1 10-13-2-13 1-1 0-4 1-264-1-99 1-17 4 11-1 98-1 36 3 6-4 26 7 204-5 12-1 17 5 41-1-27 5-7 8-13-2-1 1-17-4-2-3-12 3-222 0-17 4-112-7-23 0 36 18 99-7 188 8 5-3 49-4 18-2 33 9-7 4-9 3-15 1-12 1-21-8-85 0-97 4-15-4-12 5-2-5-18 15 9-3 0 3 141 0 11 0 24 1 0-3 9 4 28 0 16-7 18 1 30 3 10 4-8 8-19 3-19-9-11 3-4 2-73 4-8-1-27-8-13 2-73 5-38-2-9 1-1-5-2 3-97 1-42 2-14 8 11-4 16 3 141-4 9 5 3 4 10-2 2 1 111-6 2 1 88 3 16 1 6-1 8 0 17 6-46-2-2 7-1-6-10 8-31 0-16-5-27 5-1-6-149-2-139 2-16 16 1-6 11-2 163 7 4-7 8-1 75 9 30-3 99 2 8-1 23-1 2 8-23 4-11-1-72-7-8 3-1 2-39-4-55 8-14-5-22 3-8-2-8 2-150 5 168 1 111-1 45 0 47-1 14 16-31-6-107 6-2 1-259-2-14 4 210 6 196-6-47 10-17 9-67-9-98 9-7-4 9 10 26 0 29 4 28-1 39-2 16 1 47-6 12 6 6-7 4 4-22 9-8-1-11-2-27 5-29 1-35-5-28 0-53 4 56 5 54 11-66 12 26-3-40 12-38 16 38 10-42 4 24-1 10 5 7-6 0 18-58-2-38-1 20 5 61 18-19 108 2 21" marker-start="url(#m9)" marker-mid="url(#m9)" marker-end="url(#m9)"/><path d="M3429 2787l36-5 26 4 21-3-11 14-9-4-34-3-51 14 2-2 4 5 4 2 38-7 14 5 9-2 5 0 12-1 2-4 5 2-1 11-6-3-49 9-25-6-1 2-21 3-1-1 5 10 19-4 3-3 26 8 19 1 3 0 13-6 21 16-2-8-30-1-15 1-7 6-12-3-24 0-18-3 11 17 11-7 22 1 29 6 27-2 8-3 233 2-5 12-256-2-16 1-3-2-11 4-8-4-12-2-11 6-7-5 30 12 3 1 37-1 3 0 3-3 112 3 113 2 39 0-42 12-2-4-227-4-1 8-26-8-3 4-2-4-18 4 18 9 5 1 257 2 10-2 38-2-4 16-33-4-23-3-7 1-222-1-34-1 20 12 238 3 2-2 5 2 39-5-30 17-26-1-357 7 367 1 5-4 18 1 6 5 15-6 10 1-19 17-15-5-30 2-213-4-17-2-94 3-25 13 13 2 107-6 9 5 15 2 190-6 30-1 2 6 25-8 11 11-27 2-2 3-3-1-20-2-37-3-22 9-133-8-14 8-128-4-66 4 152 3 3 3 1 1 34-3 16 0 107 2 11 0 4 0 45-5 36 0 27 5 16-3-7 10-3 6-26-1-42-2-6-1-3 2-17-4-24 5-135-2-3 0-158-2-21 0 27 11 133-4 21 1 2 1 10 4 87-6 37 4 12 3 10-5 9 4 38-5 37 1-15 15-59-5-13-1-1 2-50 4-12-4-237 0 121 8 27 0 112 3 12 5 43-6 49 1 6-1 11 4 4 0-5 3-20 3-42 5-121-2-35 0-34 2-7-3-177 12 201-5 8-2 19 8 121-1 55 5-1-1-34 0-13-1-184 3-156-2-4 16 200-6 55 8 106 1-2 6-8 17-6 2-112 10-72 20 32 8-17 11 12 8 5 19-72-1 48 28" marker-start="url(#m10)" marker-mid="url(#m10)" marker-end="url(#m10)"/><path d="M3468 2785l21 6-78 17 77 0-89 14 35-1 31 6 5-1 38-4-91 17 43 10 2 16 243 4 20-8 37 0-13 13-24 5-33-4-243-1 238 14 8-4 7 3 1 3-8 2-230 4-13-1 1 11 232-5 8 4 32 1 22 9-49-1-6 0-8-3-259-1 33 19 210-2 11 0 27-2 27 3-13 5-9 5-2-7-39 17 0 1 2-1 3-7 9-1 5 7 31 1 28 10-66-4-1 0-8 5-1-4-192-1 179 12 4-3 69 1-1 7-26 5-29 2-13-4-16 5-2-5-11-1-187 13 198-6 30 19-202-3-27 3 19 1 44 7-16 13 181 4-60 13 30 3 6 7-16 14" marker-start="url(#m11)" marker-mid="url(#m11)" marker-end="url(#m11)"/><path d="M3489 2813l213 85 0 10-23 37 75 5-114 23 79 7-17 10" marker-start="url(#m12)" marker-mid="url(#m12)" marker-end="url(#m12)"/></g>
<path d="M644.5 1592.6V1679.6H730.5" fill="none" stroke="#000" stroke-width="1.2"/><path d="M644.5 1586.6l-4.5 9h9z"/><path d="M736.5 1679.6l-9 -4.5v9z"/>
<path d="M1320.1 1592.6V1679.6H1406.1" fill="none" stroke="#000" stroke-width="1.2"/><path d="M1320.1 1586.6l-4.5 9h9z"/><path d="M1412.1 1679.6l-9 -4.5v9z"/>
<text font-size="27.5" textLength="100.4" lengthAdjust="spacingAndGlyphs" transform="translate(633.7 1678.4) rotate(-90)">UMAP 2</text>
<text font-size="27.5" textLength="100.4" lengthAdjust="spacingAndGlyphs" transform="translate(1309.5 1678.4) rotate(-90)">UMAP 2</text>
<text x="643.5" y="1704.4" font-size="27.5" textLength="98" lengthAdjust="spacingAndGlyphs">UMAP 1</text>
<text x="1319" y="1704.4" font-size="27.5" textLength="98" lengthAdjust="spacingAndGlyphs">UMAP 1</text>
<path d="M649.8 1896.2L649.8 1894L649.9 1891.9L649.9 1889.7L649.9 1887.5L649.9 1885.3L649.8 1883.2L649.8 1881L649.7 1878.8L649.6 1876.6L649.4 1874.5L649.2 1872.3L648.9 1870.1L648.5 1867.9L648.1 1865.8L647.7 1863.6L647.3 1861.4L646.9 1859.2L646.5 1857L646.1 1854.9L645.8 1852.7L645.5 1850.5L645.2 1848.4L644.9 1846.2L644.6 1844L644.3 1841.8L644.1 1839.7L643.8 1837.5L643.6 1835.3L643.3 1833.1L643.1 1831L642.9 1828.8L642.6 1826.6L642.4 1824.4L642.1 1822.2L641.9 1820.1L641.7 1817.9L641.5 1815.7L641.4 1813.5L641.3 1811.4L641.3 1809.2L641.3 1807L641.5 1804.8L641.6 1802.7L641.8 1800.5L642.1 1798.3L642.3 1796.2L642.6 1794L642.9 1791.8L643.1 1789.6L643.4 1787.5L643.6 1785.3L643.9 1783.1L644.1 1780.9L644.4 1778.8L644.6 1776.6L644.9 1774.4L645.2 1772.2L645.5 1770.1L645.8 1767.9L646.1 1765.7L646.5 1763.5L646.9 1761.4L647.3 1759.2L647.7 1757L648.2 1754.8L648.6 1752.7L649 1750.5L649.4 1748.3L649.8 1746.1L650.1 1744L650.4 1741.8L650.6 1740.7L652.2 1740.7L652.4 1741.8L652.7 1744L653 1746.1L653.4 1748.3L653.8 1750.5L654.2 1752.7L654.6 1754.8L655.1 1757L655.5 1759.2L655.9 1761.4L656.3 1763.5L656.7 1765.7L657 1767.9L657.3 1770.1L657.6 1772.2L657.9 1774.4L658.2 1776.6L658.4 1778.8L658.7 1780.9L658.9 1783.1L659.2 1785.3L659.4 1787.5L659.7 1789.6L659.9 1791.8L660.2 1794L660.5 1796.2L660.7 1798.3L661 1800.5L661.2 1802.7L661.3 1804.8L661.5 1807L661.5 1809.2L661.5 1811.4L661.4 1813.5L661.3 1815.7L661.1 1817.9L660.9 1820.1L660.7 1822.2L660.4 1824.4L660.2 1826.6L659.9 1828.8L659.7 1831L659.5 1833.1L659.2 1835.3L659 1837.5L658.7 1839.7L658.5 1841.8L658.2 1844L657.9 1846.2L657.6 1848.4L657.3 1850.5L657 1852.7L656.7 1854.9L656.3 1857L655.9 1859.2L655.5 1861.4L655.1 1863.6L654.7 1865.8L654.3 1867.9L653.9 1870.1L653.6 1872.3L653.4 1874.5L653.2 1876.6L653.1 1878.8L653 1881L653 1883.2L652.9 1885.3L652.9 1887.5L652.9 1889.7L652.9 1891.9L653 1894L653 1896.2Z" fill="#F8766D" stroke="#000" stroke-width="0.9" stroke-linejoin="round"/>
<path d="M670.8 1896.2L670.8 1894L670.8 1891.9L670.8 1889.7L670.8 1887.5L670.8 1885.3L670.7 1883.2L670.7 1881L670.6 1878.8L670.5 1876.6L670.3 1874.5L670.1 1872.3L669.8 1870.1L669.4 1867.9L669.1 1865.8L668.7 1863.6L668.3 1861.4L668 1859.2L667.6 1857L667.3 1854.9L667.1 1852.7L666.9 1850.5L666.8 1848.4L666.7 1846.2L666.6 1844L666.5 1841.8L666.5 1839.7L666.4 1837.5L666.4 1835.3L666.3 1833.1L666.3 1831L666.2 1828.8L666.2 1826.6L666.1 1824.4L666.1 1822.2L666.1 1820.1L666 1817.9L666 1815.7L666 1813.5L666 1811.4L666 1809.2L666 1807L666.1 1804.8L666.2 1802.7L666.2 1800.5L666.3 1798.3L666.4 1796.2L666.5 1794L666.5 1791.8L666.5 1789.6L666.5 1787.5L666.4 1785.3L666.4 1783.1L666.3 1780.9L666.2 1778.8L666 1776.6L665.9 1774.4L665.7 1772.2L665.4 1770.1L665.2 1767.9L664.9 1765.7L664.5 1763.5L664 1761.4L663.5 1759.2L663 1757L662.6 1754.8L662.2 1752.7L661.8 1750.5L661.5 1748.3L661.6 1746.1L662.1 1744L662.9 1741.8L664.1 1739.6L665.7 1737.4L667.7 1735.3L668.6 1734.2L674.6 1734.2L675.5 1735.3L677.5 1737.4L679.1 1739.6L680.3 1741.8L681.1 1744L681.6 1746.1L681.7 1748.3L681.4 1750.5L681 1752.7L680.6 1754.8L680.2 1757L679.7 1759.2L679.2 1761.4L678.7 1763.5L678.3 1765.7L678 1767.9L677.8 1770.1L677.5 1772.2L677.3 1774.4L677.2 1776.6L677 1778.8L676.9 1780.9L676.8 1783.1L676.8 1785.3L676.7 1787.5L676.7 1789.6L676.7 1791.8L676.7 1794L676.8 1796.2L676.9 1798.3L677 1800.5L677 1802.7L677.1 1804.8L677.2 1807L677.2 1809.2L677.2 1811.4L677.2 1813.5L677.2 1815.7L677.2 1817.9L677.1 1820.1L677.1 1822.2L677.1 1824.4L677 1826.6L677 1828.8L676.9 1831L676.9 1833.1L676.8 1835.3L676.8 1837.5L676.7 1839.7L676.7 1841.8L676.6 1844L676.5 1846.2L676.4 1848.4L676.3 1850.5L676.1 1852.7L675.9 1854.9L675.6 1857L675.2 1859.2L674.9 1861.4L674.5 1863.6L674.1 1865.8L673.8 1867.9L673.4 1870.1L673.1 1872.3L672.9 1874.5L672.7 1876.6L672.6 1878.8L672.5 1881L672.5 1883.2L672.4 1885.3L672.4 1887.5L672.4 1889.7L672.4 1891.9L672.4 1894L672.4 1896.2Z" fill="#1DBDC2" stroke="#000" stroke-width="0.9" stroke-linejoin="round"/>
<path d="M661.5 1903.7L661.5 1907.9" stroke="#333" stroke-width="1"/>
<text font-size="22.4" text-anchor="end" transform="translate(669.7 1910.5) rotate(-90)">IE</text>
<path d="M691.1 1896.2L691.6 1894L692.2 1891.9L693.4 1889.7L694.7 1887.5L695.4 1885.3L695.1 1883.2L694.2 1881L692.9 1878.8L691.6 1876.6L690.6 1874.5L689.8 1872.3L689.1 1870.1L688.5 1867.9L687.9 1865.8L687.4 1863.6L687 1861.4L686.6 1859.2L686.3 1857L686.1 1854.9L686.1 1852.7L686.3 1850.5L686.6 1848.4L687 1846.2L687.6 1844L688.2 1841.8L689 1839.7L690 1837.5L691 1835.3L691.9 1833.1L692.7 1831L693.3 1828.8L693.7 1826.6L694.1 1824.4L694.4 1822.2L694.6 1820.1L694.8 1817.9L695 1815.7L695.1 1813.5L695.1 1811.4L695.2 1809.2L695.3 1807L695.4 1804.8L695.4 1802.7L695.5 1800.5L695.5 1798.3L695.6 1796.2L695.6 1794L695.6 1791.8L695.7 1789.6L695.7 1787.5L695.8 1785.3L695.8 1783.1L695.9 1780.9L695.9 1778.8L695.9 1776.6L696 1774.4L696 1772.2L696.1 1770.1L696.1 1767.9L696.1 1765.7L696.1 1763.5L696.1 1761.4L696.4 1761.4L696.4 1763.5L696.4 1765.7L696.4 1767.9L696.4 1770.1L696.4 1772.2L696.5 1774.4L696.5 1776.6L696.5 1778.8L696.6 1780.9L696.6 1783.1L696.7 1785.3L696.7 1787.5L696.8 1789.6L696.8 1791.8L696.8 1794L696.9 1796.2L696.9 1798.3L697 1800.5L697 1802.7L697.1 1804.8L697.1 1807L697.2 1809.2L697.3 1811.4L697.4 1813.5L697.5 1815.7L697.6 1817.9L697.8 1820.1L698.1 1822.2L698.4 1824.4L698.7 1826.6L699.2 1828.8L699.7 1831L700.5 1833.1L701.4 1835.3L702.5 1837.5L703.4 1839.7L704.2 1841.8L704.8 1844L705.4 1846.2L705.8 1848.4L706.2 1850.5L706.3 1852.7L706.3 1854.9L706.1 1857L705.8 1859.2L705.5 1861.4L705 1863.6L704.5 1865.8L704 1867.9L703.3 1870.1L702.6 1872.3L701.8 1874.5L700.8 1876.6L699.5 1878.8L698.3 1881L697.4 1883.2L697 1885.3L697.7 1887.5L699 1889.7L700.2 1891.9L700.8 1894L701.3 1896.2Z" fill="#F8766D" stroke="#000" stroke-width="0.9" stroke-linejoin="round"/>
<path d="M713.2 1896.2L713.3 1894L713.3 1891.9L713.2 1889.7L713 1887.5L712.6 1885.3L712.2 1883.2L711.8 1881L711.4 1878.8L711.1 1876.6L710.8 1874.5L710.7 1872.3L710.7 1870.1L710.7 1867.9L710.8 1865.8L710.8 1863.6L710.9 1861.4L710.8 1859.2L710.7 1857L710.5 1854.9L710.3 1852.7L710.1 1850.5L709.8 1848.4L709.5 1846.2L709.2 1844L708.9 1841.8L708.6 1839.7L708.4 1837.5L708.1 1835.3L707.8 1833.1L707.6 1831L707.4 1828.8L707.3 1826.6L707.1 1824.4L707 1822.2L706.8 1820.1L706.7 1817.9L706.6 1815.7L706.5 1813.5L706.5 1811.4L706.4 1809.2L706.4 1807L706.4 1804.8L706.3 1802.7L706.3 1800.5L706.3 1798.3L706.4 1796.2L706.4 1794L706.5 1791.8L706.7 1789.6L706.8 1787.5L707 1785.3L707.3 1783.1L707.6 1780.9L708 1778.8L708.4 1776.6L708.9 1774.4L709.4 1772.2L710 1770.1L710.6 1767.9L711.1 1765.7L711.6 1763.5L712.1 1761.4L712.6 1759.2L713.1 1757L713.5 1754.8L713.9 1752.7L714.3 1750.5L714.6 1748.3L714.9 1746.1L715.1 1745L717.7 1745L717.9 1746.1L718.2 1748.3L718.6 1750.5L718.9 1752.7L719.3 1754.8L719.8 1757L720.2 1759.2L720.7 1761.4L721.2 1763.5L721.7 1765.7L722.3 1767.9L722.8 1770.1L723.4 1772.2L723.9 1774.4L724.4 1776.6L724.8 1778.8L725.2 1780.9L725.5 1783.1L725.8 1785.3L726 1787.5L726.2 1789.6L726.3 1791.8L726.4 1794L726.5 1796.2L726.5 1798.3L726.5 1800.5L726.5 1802.7L726.5 1804.8L726.5 1807L726.4 1809.2L726.4 1811.4L726.3 1813.5L726.2 1815.7L726.1 1817.9L726 1820.1L725.9 1822.2L725.7 1824.4L725.6 1826.6L725.4 1828.8L725.2 1831L725 1833.1L724.8 1835.3L724.5 1837.5L724.2 1839.7L723.9 1841.8L723.6 1844L723.3 1846.2L723 1848.4L722.8 1850.5L722.5 1852.7L722.3 1854.9L722.1 1857L722 1859.2L722 1861.4L722 1863.6L722.1 1865.8L722.1 1867.9L722.2 1870.1L722.1 1872.3L722 1874.5L721.8 1876.6L721.4 1878.8L721 1881L720.6 1883.2L720.2 1885.3L719.9 1887.5L719.6 1889.7L719.5 1891.9L719.6 1894L719.6 1896.2Z" fill="#1DBDC2" stroke="#000" stroke-width="0.9" stroke-linejoin="round"/>
<path d="M706.3 1903.7L706.3 1907.9" stroke="#333" stroke-width="1"/>
<text font-size="22.4" text-anchor="end" transform="translate(714.5 1910.5) rotate(-90)">GC</text>
<path d="M735.4 1896.2L735.9 1894L736.8 1891.9L738.3 1889.7L739.1 1887.5L738.6 1885.3L737.4 1883.2L735.9 1881L734.6 1878.8L733.5 1876.6L732.3 1874.5L731.3 1872.3L730.6 1870.1L730.6 1867.9L731 1865.8L731.4 1863.6L731.9 1861.4L732.5 1859.2L733.2 1857L733.8 1854.9L734.3 1852.7L734.8 1850.5L735.3 1848.4L735.7 1846.2L736.1 1844L736.5 1841.8L736.9 1839.7L737.3 1837.5L737.6 1835.3L737.9 1833.1L738.1 1831L738.4 1828.8L738.6 1826.6L738.8 1824.4L739 1822.2L739.2 1820.1L739.4 1817.9L739.5 1815.7L739.7 1813.5L739.8 1811.4L739.9 1809.2L740 1807L740.1 1804.8L740.2 1802.7L740.3 1800.5L740.3 1798.3L740.4 1796.2L740.4 1794L740.5 1791.8L740.5 1789.6L740.5 1787.5L740.6 1785.3L740.6 1783.1L740.7 1780.9L740.7 1778.8L740.7 1776.6L740.8 1774.4L740.8 1772.2L740.8 1770.1L740.8 1767.9L740.9 1765.7L740.9 1763.5L740.9 1761.4L740.9 1759.2L740.9 1757L740.9 1754.8L740.9 1752.7L741.2 1752.7L741.2 1754.8L741.2 1757L741.2 1759.2L741.2 1761.4L741.2 1763.5L741.2 1765.7L741.2 1767.9L741.3 1770.1L741.3 1772.2L741.3 1774.4L741.3 1776.6L741.4 1778.8L741.4 1780.9L741.5 1783.1L741.5 1785.3L741.5 1787.5L741.6 1789.6L741.6 1791.8L741.7 1794L741.7 1796.2L741.7 1798.3L741.8 1800.5L741.9 1802.7L741.9 1804.8L742 1807L742.1 1809.2L742.3 1811.4L742.4 1813.5L742.5 1815.7L742.7 1817.9L742.9 1820.1L743.1 1822.2L743.3 1824.4L743.5 1826.6L743.7 1828.8L743.9 1831L744.2 1833.1L744.5 1835.3L744.8 1837.5L745.2 1839.7L745.5 1841.8L745.9 1844L746.3 1846.2L746.8 1848.4L747.2 1850.5L747.7 1852.7L748.3 1854.9L748.9 1857L749.6 1859.2L750.1 1861.4L750.6 1863.6L751.1 1865.8L751.5 1867.9L751.4 1870.1L750.8 1872.3L749.8 1874.5L748.6 1876.6L747.4 1878.8L746.1 1881L744.6 1883.2L743.4 1885.3L742.9 1887.5L743.8 1889.7L745.3 1891.9L746.2 1894L746.6 1896.2Z" fill="#F8766D" stroke="#000" stroke-width="0.9" stroke-linejoin="round"/>
<path d="M759.3 1896.2L759.2 1894L759.1 1891.9L758.8 1889.7L758.3 1887.5L757.6 1885.3L756.7 1883.2L755.9 1881L755 1878.8L754.2 1876.6L753.5 1874.5L752.9 1872.3L752.3 1870.1L751.8 1867.9L751.5 1865.8L751.2 1863.6L751.2 1861.4L751.4 1859.2L751.7 1857L752.1 1854.9L752.4 1852.7L752.9 1850.5L753.3 1848.4L753.9 1846.2L754.4 1844L754.8 1841.8L755.3 1839.7L755.7 1837.5L756 1835.3L756.4 1833.1L756.7 1831L757.1 1828.8L757.4 1826.6L757.6 1824.4L757.9 1822.2L758 1820.1L758.1 1817.9L758.1 1815.7L758.1 1813.5L758.1 1811.4L758 1809.2L758 1807L758 1804.8L758 1802.7L757.9 1800.5L757.9 1798.3L757.9 1796.2L757.8 1794L757.8 1791.8L757.8 1789.6L757.7 1787.5L757.7 1785.3L757.7 1783.1L757.6 1780.9L757.6 1778.8L757.6 1776.6L757.6 1774.4L757.6 1772.2L757.6 1770.1L757.6 1767.9L757.7 1765.7L757.9 1763.5L758.1 1761.4L758.3 1759.2L758.6 1757L758.8 1754.8L759.1 1752.7L759.3 1750.5L759.6 1748.3L759.9 1746.1L760.1 1744L760.2 1742.9L762.2 1742.9L762.4 1744L762.6 1746.1L762.9 1748.3L763.1 1750.5L763.4 1752.7L763.6 1754.8L763.9 1757L764.1 1759.2L764.4 1761.4L764.6 1763.5L764.7 1765.7L764.8 1767.9L764.9 1770.1L764.9 1772.2L764.9 1774.4L764.9 1776.6L764.9 1778.8L764.8 1780.9L764.8 1783.1L764.8 1785.3L764.7 1787.5L764.7 1789.6L764.7 1791.8L764.7 1794L764.6 1796.2L764.6 1798.3L764.6 1800.5L764.5 1802.7L764.5 1804.8L764.5 1807L764.4 1809.2L764.4 1811.4L764.4 1813.5L764.3 1815.7L764.4 1817.9L764.4 1820.1L764.6 1822.2L764.8 1824.4L765.1 1826.6L765.4 1828.8L765.7 1831L766.1 1833.1L766.4 1835.3L766.8 1837.5L767.2 1839.7L767.6 1841.8L768.1 1844L768.6 1846.2L769.1 1848.4L769.6 1850.5L770 1852.7L770.4 1854.9L770.8 1857L771.1 1859.2L771.2 1861.4L771.2 1863.6L771 1865.8L770.6 1867.9L770.1 1870.1L769.6 1872.3L768.9 1874.5L768.3 1876.6L767.5 1878.8L766.6 1881L765.7 1883.2L764.9 1885.3L764.2 1887.5L763.6 1889.7L763.3 1891.9L763.2 1894L763.1 1896.2Z" fill="#1DBDC2" stroke="#000" stroke-width="0.9" stroke-linejoin="round"/>
<path d="M751.1 1903.7L751.1 1907.9" stroke="#333" stroke-width="1"/>
<text font-size="22.4" text-anchor="end" transform="translate(759.3 1910.5) rotate(-90)">TA</text>
<path d="M777.6 1896.2L778.8 1894L780.3 1891.9L782.5 1889.7L784.2 1887.5L784.5 1885.3L783.4 1883.2L781.8 1881L780.3 1878.8L779 1876.6L777.6 1874.5L776.5 1872.3L775.9 1870.1L776 1867.9L776.7 1865.8L777.5 1863.6L778.2 1861.4L778.5 1859.2L778.8 1857L779.1 1854.9L779.5 1852.7L779.9 1850.5L780.4 1848.4L780.9 1846.2L781.4 1844L781.9 1841.8L782.3 1839.7L782.7 1837.5L783 1835.3L783.4 1833.1L783.7 1831L783.9 1828.8L784.1 1826.6L784.3 1824.4L784.4 1822.2L784.6 1820.1L784.7 1817.9L784.8 1815.7L784.9 1813.5L785 1811.4L785.1 1809.2L785.2 1807L785.2 1804.8L785.3 1802.7L785.4 1800.5L785.4 1798.3L785.5 1796.2L785.5 1794L785.6 1791.8L785.6 1789.6L785.7 1787.5L785.7 1785.3L785.7 1783.1L785.7 1780.9L785.7 1778.8L785.7 1777.7L786 1777.7L786 1778.8L786 1780.9L786 1783.1L786 1785.3L786.1 1787.5L786.1 1789.6L786.2 1791.8L786.2 1794L786.2 1796.2L786.3 1798.3L786.4 1800.5L786.4 1802.7L786.5 1804.8L786.6 1807L786.7 1809.2L786.8 1811.4L786.9 1813.5L786.9 1815.7L787.1 1817.9L787.2 1820.1L787.3 1822.2L787.5 1824.4L787.6 1826.6L787.8 1828.8L788.1 1831L788.3 1833.1L788.7 1835.3L789 1837.5L789.4 1839.7L789.9 1841.8L790.3 1844L790.8 1846.2L791.3 1848.4L791.8 1850.5L792.3 1852.7L792.6 1854.9L792.9 1857L793.2 1859.2L793.6 1861.4L794.2 1863.6L795.1 1865.8L795.7 1867.9L795.9 1870.1L795.2 1872.3L794.1 1874.5L792.8 1876.6L791.5 1878.8L790 1881L788.3 1883.2L787.2 1885.3L787.5 1887.5L789.2 1889.7L791.4 1891.9L792.9 1894L794.2 1896.2Z" fill="#F8766D" stroke="#000" stroke-width="0.9" stroke-linejoin="round"/>
<path d="M803.7 1896.2L803.7 1894L803.9 1891.9L803.9 1889.7L803.7 1887.5L803.1 1885.3L802.2 1883.2L801.3 1881L800.5 1878.8L799.7 1876.6L798.8 1874.5L798.1 1872.3L797.3 1870.1L796.8 1867.9L796.3 1865.8L796 1863.6L796 1861.4L796.1 1859.2L796.4 1857L796.8 1854.9L797.3 1852.7L797.8 1850.5L798.5 1848.4L799.2 1846.2L799.9 1844L800.5 1841.8L801 1839.7L801.4 1837.5L801.8 1835.3L802.2 1833.1L802.6 1831L802.9 1828.8L803.1 1826.6L803.3 1824.4L803.5 1822.2L803.7 1820.1L803.8 1817.9L803.9 1815.7L803.9 1813.5L803.9 1811.4L804 1809.2L804 1807L804 1804.8L803.9 1802.7L803.9 1800.5L803.9 1798.3L803.8 1796.2L803.8 1794L803.7 1791.8L803.7 1789.6L803.7 1787.5L803.6 1785.3L803.5 1783.1L803.4 1780.9L803.4 1778.8L803.3 1776.6L803.3 1774.4L803.4 1772.2L803.5 1770.1L803.7 1767.9L803.9 1765.7L804.2 1763.5L804.5 1761.4L804.7 1759.2L805 1757L805.3 1754.8L805.6 1752.7L806.6 1752.7L806.8 1754.8L807.1 1757L807.4 1759.2L807.7 1761.4L807.9 1763.5L808.2 1765.7L808.4 1767.9L808.6 1770.1L808.8 1772.2L808.8 1774.4L808.8 1776.6L808.8 1778.8L808.7 1780.9L808.6 1783.1L808.5 1785.3L808.5 1787.5L808.4 1789.6L808.4 1791.8L808.3 1794L808.3 1796.2L808.2 1798.3L808.2 1800.5L808.2 1802.7L808.2 1804.8L808.2 1807L808.2 1809.2L808.2 1811.4L808.2 1813.5L808.3 1815.7L808.3 1817.9L808.5 1820.1L808.6 1822.2L808.8 1824.4L809 1826.6L809.3 1828.8L809.6 1831L809.9 1833.1L810.3 1835.3L810.7 1837.5L811.2 1839.7L811.7 1841.8L812.3 1844L812.9 1846.2L813.6 1848.4L814.3 1850.5L814.9 1852.7L815.3 1854.9L815.7 1857L816 1859.2L816.2 1861.4L816.1 1863.6L815.8 1865.8L815.4 1867.9L814.8 1870.1L814.1 1872.3L813.3 1874.5L812.5 1876.6L811.7 1878.8L810.8 1881L809.9 1883.2L809 1885.3L808.5 1887.5L808.2 1889.7L808.3 1891.9L808.4 1894L808.5 1896.2Z" fill="#1DBDC2" stroke="#000" stroke-width="0.9" stroke-linejoin="round"/>
<path d="M796 1903.7L796 1907.9" stroke="#333" stroke-width="1"/>
<text font-size="22.4" text-anchor="end" transform="translate(804.2 1910.5) rotate(-90)">SC</text>
<path d="M828.8 1896.2L828.9 1894L829 1891.9L829 1889.7L828.8 1887.5L828.3 1885.3L827.5 1883.2L826.7 1881L825.8 1878.8L825 1876.6L824.3 1874.5L823.8 1872.3L823.4 1870.1L823 1867.9L822.7 1865.8L822.4 1863.6L822 1861.4L821.6 1859.2L821.3 1857L820.9 1854.9L820.7 1852.7L820.5 1850.5L820.6 1848.4L820.9 1846.2L821.4 1844L822 1841.8L822.7 1839.7L823.4 1837.5L824.3 1835.3L825.1 1833.1L825.9 1831L826.5 1828.8L827 1826.6L827.5 1824.4L827.9 1822.2L828.3 1820.1L828.5 1817.9L828.7 1815.7L828.9 1813.5L829 1811.4L829.1 1809.2L829.2 1807L829.3 1804.8L829.4 1802.7L829.5 1800.5L829.5 1798.3L829.6 1796.2L829.7 1794L829.7 1791.8L829.8 1789.6L829.9 1787.5L829.9 1785.3L830 1783.1L830.1 1780.9L830.1 1778.8L830.2 1776.6L830.2 1774.4L830.3 1772.2L830.3 1770.1L830.4 1767.9L830.4 1765.7L830.5 1763.5L830.5 1761.4L830.5 1759.2L830.5 1757L830.5 1755.9L830.8 1755.9L830.8 1757L830.8 1759.2L830.8 1761.4L830.9 1763.5L830.9 1765.7L831 1767.9L831 1770.1L831.1 1772.2L831.1 1774.4L831.2 1776.6L831.2 1778.8L831.3 1780.9L831.4 1783.1L831.4 1785.3L831.5 1787.5L831.5 1789.6L831.6 1791.8L831.7 1794L831.7 1796.2L831.8 1798.3L831.9 1800.5L832 1802.7L832.1 1804.8L832.2 1807L832.3 1809.2L832.4 1811.4L832.5 1813.5L832.6 1815.7L832.8 1817.9L833.1 1820.1L833.4 1822.2L833.8 1824.4L834.3 1826.6L834.9 1828.8L835.5 1831L836.2 1833.1L837.1 1835.3L837.9 1837.5L838.7 1839.7L839.4 1841.8L840 1844L840.5 1846.2L840.8 1848.4L840.8 1850.5L840.7 1852.7L840.4 1854.9L840.1 1857L839.7 1859.2L839.3 1861.4L839 1863.6L838.7 1865.8L838.4 1867.9L838 1870.1L837.6 1872.3L837.1 1874.5L836.4 1876.6L835.6 1878.8L834.7 1881L833.8 1883.2L833.1 1885.3L832.6 1887.5L832.4 1889.7L832.4 1891.9L832.5 1894L832.6 1896.2Z" fill="#F8766D" stroke="#000" stroke-width="0.9" stroke-linejoin="round"/>
<path d="M849.9 1896.2L849.4 1894L848.9 1891.9L848.5 1889.7L848 1887.5L847.4 1885.3L846.7 1883.2L845.9 1881L845.1 1878.8L844.3 1876.6L843.7 1874.5L843.2 1872.3L842.8 1870.1L842.4 1867.9L842.2 1865.8L842.1 1863.6L842.1 1861.4L842.3 1859.2L842.5 1857L842.8 1854.9L842.9 1852.7L842.9 1850.5L842.8 1848.4L842.8 1846.2L842.7 1844L842.6 1841.8L842.5 1839.7L842.4 1837.5L842.3 1835.3L842.2 1833.1L842.1 1831L842 1828.8L841.9 1826.6L841.8 1824.4L841.7 1822.2L841.6 1820.1L841.5 1817.9L841.5 1815.7L841.4 1813.5L841.3 1811.4L841.3 1809.2L841.3 1807L841.2 1804.8L841.2 1802.7L841.3 1800.5L841.3 1798.3L841.3 1796.2L841.3 1794L841.3 1791.8L841.3 1789.6L841.3 1787.5L841.2 1785.3L841 1783.1L840.9 1780.9L840.7 1778.8L840.6 1776.6L840.6 1774.4L840.8 1772.2L841.1 1770.1L841.7 1767.9L842.3 1765.7L843 1763.5L843.7 1761.4L844.4 1759.2L845.2 1757L846.1 1754.8L846.9 1752.7L847.7 1750.5L848.5 1748.3L849.3 1746.1L852.5 1746.1L853.3 1748.3L854.1 1750.5L854.9 1752.7L855.7 1754.8L856.5 1757L857.3 1759.2L858.1 1761.4L858.8 1763.5L859.5 1765.7L860.1 1767.9L860.6 1770.1L861 1772.2L861.1 1774.4L861.2 1776.6L861.1 1778.8L860.9 1780.9L860.7 1783.1L860.6 1785.3L860.5 1787.5L860.5 1789.6L860.4 1791.8L860.5 1794L860.5 1796.2L860.5 1798.3L860.5 1800.5L860.5 1802.7L860.5 1804.8L860.5 1807L860.5 1809.2L860.4 1811.4L860.4 1813.5L860.3 1815.7L860.2 1817.9L860.1 1820.1L860.1 1822.2L860 1824.4L859.9 1826.6L859.8 1828.8L859.7 1831L859.6 1833.1L859.5 1835.3L859.4 1837.5L859.3 1839.7L859.2 1841.8L859.1 1844L859 1846.2L858.9 1848.4L858.9 1850.5L858.9 1852.7L859 1854.9L859.2 1857L859.5 1859.2L859.7 1861.4L859.7 1863.6L859.5 1865.8L859.3 1867.9L859 1870.1L858.6 1872.3L858.1 1874.5L857.5 1876.6L856.7 1878.8L855.9 1881L855.1 1883.2L854.4 1885.3L853.8 1887.5L853.3 1889.7L852.8 1891.9L852.4 1894L851.9 1896.2Z" fill="#1DBDC2" stroke="#000" stroke-width="0.9" stroke-linejoin="round"/>
<path d="M840.8 1903.7L840.8 1907.9" stroke="#333" stroke-width="1"/>
<text font-size="22.4" text-anchor="end" transform="translate(849 1910.5) rotate(-90)">IS</text>
<path d="M874.9 1896.2L874.9 1894L874.9 1891.9L874.9 1889.7L874.9 1887.5L874.9 1885.3L874.9 1883.2L874.9 1881L874.8 1878.8L874.8 1876.6L874.7 1874.5L874.6 1872.3L874.5 1870.1L874.4 1867.9L874.3 1865.8L874.1 1863.6L874 1861.4L873.8 1859.2L873.6 1857L873.4 1854.9L873.1 1852.7L872.8 1850.5L872.5 1848.4L872.1 1846.2L871.7 1844L871.4 1841.8L870.9 1839.7L870.5 1837.5L870.1 1835.3L869.8 1833.1L869.4 1831L869.1 1828.8L868.7 1826.6L868.4 1824.4L868 1822.2L867.7 1820.1L867.3 1817.9L867 1815.7L866.7 1813.5L866.5 1811.4L866.2 1809.2L866 1807L865.7 1804.8L865.5 1802.7L865.4 1800.5L865.4 1798.3L865.5 1796.2L865.7 1794L866 1791.8L866.4 1789.6L866.7 1787.5L867.1 1785.3L867.5 1783.1L867.9 1780.9L868.3 1778.8L868.8 1776.6L869.2 1774.4L869.7 1772.2L870.2 1770.1L870.6 1767.9L871 1765.7L871.4 1763.5L871.8 1761.4L872.2 1759.2L872.6 1757L872.9 1754.8L873.3 1752.7L873.6 1750.5L873.9 1748.3L874.2 1746.1L874.4 1744L874.6 1741.8L874.9 1739.6L876.1 1739.6L876.4 1741.8L876.6 1744L876.8 1746.1L877.1 1748.3L877.4 1750.5L877.7 1752.7L878.1 1754.8L878.4 1757L878.8 1759.2L879.2 1761.4L879.6 1763.5L880 1765.7L880.4 1767.9L880.8 1770.1L881.3 1772.2L881.8 1774.4L882.2 1776.6L882.7 1778.8L883.1 1780.9L883.5 1783.1L883.9 1785.3L884.3 1787.5L884.6 1789.6L885 1791.8L885.3 1794L885.5 1796.2L885.6 1798.3L885.6 1800.5L885.5 1802.7L885.3 1804.8L885 1807L884.8 1809.2L884.5 1811.4L884.3 1813.5L884 1815.7L883.7 1817.9L883.3 1820.1L883 1822.2L882.6 1824.4L882.3 1826.6L881.9 1828.8L881.6 1831L881.2 1833.1L880.9 1835.3L880.5 1837.5L880.1 1839.7L879.6 1841.8L879.3 1844L878.9 1846.2L878.5 1848.4L878.2 1850.5L877.9 1852.7L877.6 1854.9L877.4 1857L877.2 1859.2L877 1861.4L876.9 1863.6L876.7 1865.8L876.6 1867.9L876.5 1870.1L876.4 1872.3L876.3 1874.5L876.2 1876.6L876.2 1878.8L876.1 1881L876.1 1883.2L876.1 1885.3L876.1 1887.5L876.1 1889.7L876.1 1891.9L876.1 1894L876.1 1896.2Z" fill="#F8766D" stroke="#000" stroke-width="0.9" stroke-linejoin="round"/>
<path d="M895.4 1896.2L895.4 1894L895.4 1891.9L895.4 1889.7L895.4 1887.5L895.5 1885.3L895.5 1883.2L895.5 1881L895.5 1878.8L895.4 1876.6L895.4 1874.5L895.4 1872.3L895.3 1870.1L895.3 1867.9L895.2 1865.8L895.2 1863.6L895.1 1861.4L895 1859.2L894.8 1857L894.6 1854.9L894.4 1852.7L894.1 1850.5L893.8 1848.4L893.4 1846.2L892.9 1844L892.5 1841.8L892 1839.7L891.5 1837.5L891 1835.3L890.6 1833.1L890.1 1831L889.6 1828.8L889.1 1826.6L888.6 1824.4L888.1 1822.2L887.7 1820.1L887.4 1817.9L887.1 1815.7L886.8 1813.5L886.6 1811.4L886.4 1809.2L886.2 1807L886 1804.8L885.8 1802.7L885.7 1800.5L885.6 1798.3L885.6 1796.2L885.6 1794L885.7 1791.8L885.8 1789.6L886 1787.5L886.2 1785.3L886.5 1783.1L886.9 1780.9L887.2 1778.8L887.7 1776.6L888.3 1774.4L889 1772.2L889.8 1770.1L890.6 1767.9L891.2 1765.7L891.7 1763.5L892.1 1761.4L892.4 1759.2L892.6 1757L892.8 1754.8L892.8 1752.7L892.8 1750.5L892.7 1748.3L892.5 1746.1L892.5 1744L892.5 1741.8L892.6 1739.6L892.8 1737.4L893.3 1735.3L894.1 1733.1L894.4 1732L897 1732L897.3 1733.1L898.1 1735.3L898.6 1737.4L898.8 1739.6L898.9 1741.8L898.9 1744L898.9 1746.1L898.7 1748.3L898.6 1750.5L898.6 1752.7L898.6 1754.8L898.8 1757L899 1759.2L899.3 1761.4L899.7 1763.5L900.2 1765.7L900.8 1767.9L901.6 1770.1L902.4 1772.2L903.1 1774.4L903.7 1776.6L904.2 1778.8L904.5 1780.9L904.9 1783.1L905.2 1785.3L905.4 1787.5L905.6 1789.6L905.7 1791.8L905.8 1794L905.8 1796.2L905.8 1798.3L905.7 1800.5L905.6 1802.7L905.4 1804.8L905.2 1807L905 1809.2L904.8 1811.4L904.6 1813.5L904.3 1815.7L904 1817.9L903.7 1820.1L903.3 1822.2L902.8 1824.4L902.3 1826.6L901.8 1828.8L901.3 1831L900.8 1833.1L900.4 1835.3L899.9 1837.5L899.4 1839.7L898.9 1841.8L898.5 1844L898 1846.2L897.6 1848.4L897.3 1850.5L897 1852.7L896.8 1854.9L896.6 1857L896.4 1859.2L896.3 1861.4L896.2 1863.6L896.2 1865.8L896.1 1867.9L896.1 1870.1L896 1872.3L896 1874.5L896 1876.6L895.9 1878.8L895.9 1881L895.9 1883.2L895.9 1885.3L896 1887.5L896 1889.7L896 1891.9L896 1894L896 1896.2Z" fill="#1DBDC2" stroke="#000" stroke-width="0.9" stroke-linejoin="round"/>
<path d="M885.6 1903.7L885.6 1907.9" stroke="#333" stroke-width="1"/>
<text font-size="22.4" text-anchor="end" transform="translate(893.8 1910.5) rotate(-90)">E</text>
<path d="M919.3 1896.2L919.4 1894L919.4 1891.9L919.5 1889.7L919.5 1887.5L919.5 1885.3L919.4 1883.2L919.3 1881L919.1 1878.8L918.9 1876.6L918.7 1874.5L918.5 1872.3L918.2 1870.1L918.1 1867.9L918.3 1865.8L918.6 1863.6L918.7 1861.4L918.5 1859.2L918.2 1857L917.6 1854.9L916.8 1852.7L915.5 1850.5L913.8 1848.4L912.3 1846.2L910.9 1844L910.2 1841.8L910.9 1839.7L912.4 1837.5L913.9 1835.3L915.2 1833.1L916.6 1831L917.8 1828.8L918.7 1826.6L919.3 1824.4L919.6 1822.2L919.8 1820.1L919.8 1817.9L919.8 1815.7L919.8 1813.5L919.8 1811.4L919.8 1809.2L919.9 1807L920 1804.8L920 1802.7L920.1 1800.5L920.1 1798.3L920.2 1796.2L920.2 1794L920.2 1791.8L920.2 1789.6L920.5 1789.6L920.5 1791.8L920.5 1794L920.5 1796.2L920.5 1798.3L920.5 1800.5L920.6 1802.7L920.7 1804.8L920.7 1807L920.8 1809.2L920.9 1811.4L920.8 1813.5L920.8 1815.7L920.8 1817.9L920.9 1820.1L921 1822.2L921.4 1824.4L921.9 1826.6L922.8 1828.8L924 1831L925.4 1833.1L926.7 1835.3L928.2 1837.5L929.7 1839.7L930.4 1841.8L929.7 1844L928.3 1846.2L926.8 1848.4L925.1 1850.5L923.8 1852.7L923 1854.9L922.4 1857L922.1 1859.2L921.9 1861.4L922 1863.6L922.3 1865.8L922.5 1867.9L922.4 1870.1L922.2 1872.3L921.9 1874.5L921.7 1876.6L921.5 1878.8L921.4 1881L921.2 1883.2L921.1 1885.3L921.1 1887.5L921.1 1889.7L921.2 1891.9L921.3 1894L921.3 1896.2Z" fill="#F8766D" stroke="#000" stroke-width="0.9" stroke-linejoin="round"/>
<path d="M938.9 1896.2L938.5 1894L938 1891.9L937.5 1889.7L937.1 1887.5L936.5 1885.3L935.9 1883.2L935.2 1881L934.5 1878.8L933.8 1876.6L933.3 1874.5L933 1872.3L932.7 1870.1L932.6 1867.9L932.5 1865.8L932.5 1863.6L932.7 1861.4L933 1859.2L933.4 1857L933.8 1854.9L934.1 1852.7L934.5 1850.5L934.8 1848.4L934.9 1846.2L934.8 1844L934.6 1841.8L934.3 1839.7L933.9 1837.5L933.5 1835.3L933.1 1833.1L932.8 1831L932.6 1828.8L932.3 1826.6L932 1824.4L931.7 1822.2L931.5 1820.1L931.2 1817.9L931 1815.7L930.8 1813.5L930.7 1811.4L930.5 1809.2L930.4 1807L930.3 1804.8L930.3 1802.7L930.4 1800.5L930.5 1798.3L930.8 1796.2L931.1 1794L931.5 1791.8L932 1789.6L932.5 1787.5L933.1 1785.3L933.8 1783.1L934.4 1780.9L935.1 1778.8L935.7 1776.6L936.3 1774.4L936.8 1772.2L937.3 1770.1L937.7 1767.9L938.1 1765.7L938.5 1763.5L938.8 1761.4L939.1 1759.2L939.4 1757L939.7 1754.8L941.3 1754.8L941.6 1757L941.9 1759.2L942.2 1761.4L942.5 1763.5L942.9 1765.7L943.3 1767.9L943.8 1770.1L944.3 1772.2L944.8 1774.4L945.3 1776.6L945.9 1778.8L946.6 1780.9L947.3 1783.1L947.9 1785.3L948.5 1787.5L949 1789.6L949.5 1791.8L949.9 1794L950.3 1796.2L950.5 1798.3L950.7 1800.5L950.7 1802.7L950.7 1804.8L950.6 1807L950.5 1809.2L950.4 1811.4L950.2 1813.5L950 1815.7L949.8 1817.9L949.6 1820.1L949.3 1822.2L949 1824.4L948.8 1826.6L948.5 1828.8L948.2 1831L947.9 1833.1L947.5 1835.3L947.1 1837.5L946.8 1839.7L946.4 1841.8L946.2 1844L946.1 1846.2L946.3 1848.4L946.6 1850.5L946.9 1852.7L947.3 1854.9L947.7 1857L948 1859.2L948.3 1861.4L948.5 1863.6L948.6 1865.8L948.5 1867.9L948.3 1870.1L948.1 1872.3L947.7 1874.5L947.2 1876.6L946.6 1878.8L945.9 1881L945.1 1883.2L944.5 1885.3L944 1887.5L943.5 1889.7L943 1891.9L942.6 1894L942.1 1896.2Z" fill="#1DBDC2" stroke="#000" stroke-width="0.9" stroke-linejoin="round"/>
<path d="M930.4 1903.7L930.4 1907.9" stroke="#333" stroke-width="1"/>
<text font-size="22.4" text-anchor="end" transform="translate(938.6 1910.5) rotate(-90)">PC1</text>
<path d="M964.6 1896.2L964.1 1894L963.5 1891.9L962.7 1889.7L961.7 1887.5L960.6 1885.3L959.3 1883.2L958.1 1881L957.1 1878.8L956.3 1876.6L955.5 1874.5L955.1 1872.3L955.2 1870.1L956 1867.9L957 1865.8L957.9 1863.6L958.8 1861.4L959.6 1859.2L960 1857L959.8 1854.9L959.1 1852.7L958.4 1850.5L957.8 1848.4L957.3 1846.2L957.1 1844L957.6 1841.8L958.4 1839.7L959.4 1837.5L960.3 1835.3L961.3 1833.1L962.3 1831L963.2 1828.8L963.8 1826.6L964.2 1824.4L964.5 1822.2L964.6 1820.1L964.7 1817.9L964.7 1815.7L964.6 1813.5L964.6 1811.4L964.6 1809.2L964.7 1807L964.7 1804.8L964.8 1802.7L964.8 1800.5L964.9 1798.3L964.9 1796.2L964.9 1794L964.9 1791.8L965 1789.6L965 1787.5L965 1785.3L965 1783.1L965 1780.9L965 1778.8L965 1776.6L965 1774.4L965 1772.2L965 1770.1L965 1767.9L965 1765.7L965 1763.5L965 1761.4L965 1759.2L965 1757L965 1754.8L965.3 1754.8L965.3 1757L965.3 1759.2L965.3 1761.4L965.3 1763.5L965.3 1765.7L965.3 1767.9L965.3 1770.1L965.3 1772.2L965.3 1774.4L965.3 1776.6L965.3 1778.8L965.3 1780.9L965.3 1783.1L965.3 1785.3L965.3 1787.5L965.3 1789.6L965.3 1791.8L965.4 1794L965.4 1796.2L965.4 1798.3L965.4 1800.5L965.5 1802.7L965.5 1804.8L965.6 1807L965.6 1809.2L965.7 1811.4L965.6 1813.5L965.6 1815.7L965.6 1817.9L965.7 1820.1L965.8 1822.2L966 1824.4L966.4 1826.6L967.1 1828.8L968 1831L969 1833.1L969.9 1835.3L970.9 1837.5L971.9 1839.7L972.7 1841.8L973.1 1844L973 1846.2L972.4 1848.4L971.8 1850.5L971.2 1852.7L970.5 1854.9L970.2 1857L970.7 1859.2L971.5 1861.4L972.3 1863.6L973.3 1865.8L974.3 1867.9L975.1 1870.1L975.2 1872.3L974.8 1874.5L974 1876.6L973.1 1878.8L972.1 1881L971 1883.2L969.7 1885.3L968.5 1887.5L967.5 1889.7L966.8 1891.9L966.2 1894L965.6 1896.2Z" fill="#F8766D" stroke="#000" stroke-width="0.9" stroke-linejoin="round"/>
<path d="M985 1896.2L985 1894L985.1 1891.9L985.1 1889.7L985.1 1887.5L985.2 1885.3L985.2 1883.2L985.2 1881L985.2 1878.8L985.1 1876.6L985 1874.5L984.9 1872.3L984.7 1870.1L984.4 1867.9L984.2 1865.8L984 1863.6L983.9 1861.4L983.9 1859.2L983.9 1857L983.9 1854.9L983.9 1852.7L983.9 1850.5L983.9 1848.4L983.8 1846.2L983.6 1844L983.4 1841.8L983.3 1839.7L983 1837.5L982.1 1835.3L980.3 1833.1L978.1 1831L976.3 1828.8L975.2 1826.6L976.2 1824.4L978.1 1822.2L979.6 1820.1L980.9 1817.9L982.1 1815.7L982.9 1813.5L983.5 1811.4L983.8 1809.2L983.9 1807L984 1804.8L984 1802.7L984 1800.5L984 1798.3L984.1 1796.2L984.2 1794L984.3 1791.8L984.4 1789.6L984.5 1787.5L984.5 1785.3L984.6 1783.1L984.6 1780.9L984.7 1778.8L984.7 1776.6L984.8 1774.4L984.8 1772.2L984.9 1770.1L984.9 1767.9L984.9 1765.7L985 1763.5L985 1761.4L985 1759.2L985.1 1757L985.1 1754.8L985.1 1752.7L985.5 1752.7L985.6 1754.8L985.6 1757L985.6 1759.2L985.7 1761.4L985.7 1763.5L985.7 1765.7L985.8 1767.9L985.8 1770.1L985.8 1772.2L985.9 1774.4L985.9 1776.6L986 1778.8L986 1780.9L986.1 1783.1L986.2 1785.3L986.2 1787.5L986.3 1789.6L986.4 1791.8L986.4 1794L986.5 1796.2L986.6 1798.3L986.7 1800.5L986.7 1802.7L986.7 1804.8L986.8 1807L986.9 1809.2L987.2 1811.4L987.7 1813.5L988.6 1815.7L989.8 1817.9L991.1 1820.1L992.5 1822.2L994.4 1824.4L995.4 1826.6L994.4 1828.8L992.5 1831L990.4 1833.1L988.5 1835.3L987.7 1837.5L987.4 1839.7L987.2 1841.8L987 1844L986.9 1846.2L986.8 1848.4L986.8 1850.5L986.8 1852.7L986.8 1854.9L986.8 1857L986.8 1859.2L986.7 1861.4L986.6 1863.6L986.5 1865.8L986.2 1867.9L986 1870.1L985.8 1872.3L985.6 1874.5L985.6 1876.6L985.5 1878.8L985.5 1881L985.5 1883.2L985.5 1885.3L985.5 1887.5L985.6 1889.7L985.6 1891.9L985.6 1894L985.6 1896.2Z" fill="#1DBDC2" stroke="#000" stroke-width="0.9" stroke-linejoin="round"/>
<path d="M975.2 1903.7L975.2 1907.9" stroke="#333" stroke-width="1"/>
<text font-size="22.4" text-anchor="end" transform="translate(983.4 1910.5) rotate(-90)">PC2</text>
<path d="M1007.6 1896.2L1007.8 1894L1008.1 1891.9L1008.4 1889.7L1008.7 1887.5L1008.7 1885.3L1008.2 1883.2L1007.6 1881L1006.7 1878.8L1005.9 1876.6L1005.2 1874.5L1004.5 1872.3L1003.9 1870.1L1003.3 1867.9L1002.7 1865.8L1002.3 1863.6L1001.8 1861.4L1001.5 1859.2L1001.2 1857L1000.9 1854.9L1000.7 1852.7L1000.4 1850.5L1000.1 1848.4L999.9 1846.2L1000 1844L1000.4 1841.8L1001.1 1839.7L1001.9 1837.5L1002.8 1835.3L1003.7 1833.1L1004.7 1831L1005.6 1828.8L1006.5 1826.6L1007.1 1824.4L1007.6 1822.2L1008 1820.1L1008.4 1817.9L1008.6 1815.7L1008.8 1813.5L1009 1811.4L1009.1 1809.2L1009.1 1807L1009.2 1804.8L1009.2 1802.7L1009.3 1800.5L1009.4 1798.3L1009.4 1796.2L1009.5 1794L1009.5 1791.8L1009.6 1789.6L1009.6 1787.5L1009.7 1785.3L1009.7 1783.1L1009.7 1780.9L1009.8 1778.8L1009.8 1776.6L1009.8 1774.4L1009.8 1772.2L1009.8 1770.1L1009.8 1767.9L1009.8 1765.7L1009.8 1763.5L1010.1 1763.5L1010.1 1765.7L1010.1 1767.9L1010.1 1770.1L1010.1 1772.2L1010.1 1774.4L1010.1 1776.6L1010.2 1778.8L1010.2 1780.9L1010.2 1783.1L1010.2 1785.3L1010.3 1787.5L1010.3 1789.6L1010.4 1791.8L1010.4 1794L1010.5 1796.2L1010.6 1798.3L1010.6 1800.5L1010.7 1802.7L1010.7 1804.8L1010.8 1807L1010.9 1809.2L1011 1811.4L1011.1 1813.5L1011.3 1815.7L1011.6 1817.9L1011.9 1820.1L1012.3 1822.2L1012.8 1824.4L1013.5 1826.6L1014.3 1828.8L1015.3 1831L1016.3 1833.1L1017.2 1835.3L1018 1837.5L1018.8 1839.7L1019.5 1841.8L1020 1844L1020 1846.2L1019.9 1848.4L1019.6 1850.5L1019.3 1852.7L1019 1854.9L1018.7 1857L1018.4 1859.2L1018.1 1861.4L1017.7 1863.6L1017.2 1865.8L1016.6 1867.9L1016 1870.1L1015.4 1872.3L1014.8 1874.5L1014 1876.6L1013.2 1878.8L1012.4 1881L1011.7 1883.2L1011.3 1885.3L1011.3 1887.5L1011.5 1889.7L1011.9 1891.9L1012.1 1894L1012.4 1896.2Z" fill="#F8766D" stroke="#000" stroke-width="0.9" stroke-linejoin="round"/>
<path d="M1028.9 1896.2L1028.5 1894L1028.2 1891.9L1027.8 1889.7L1027.2 1887.5L1026.5 1885.3L1025.8 1883.2L1025 1881L1024.3 1878.8L1023.6 1876.6L1023 1874.5L1022.4 1872.3L1021.8 1870.1L1021.2 1867.9L1020.8 1865.8L1020.4 1863.6L1020.2 1861.4L1020.1 1859.2L1020.3 1857L1020.6 1854.9L1020.9 1852.7L1021.2 1850.5L1021.7 1848.4L1022.2 1846.2L1022.7 1844L1023.2 1841.8L1023.5 1839.7L1023.6 1837.5L1023.6 1835.3L1023.6 1833.1L1023.5 1831L1023.3 1828.8L1023.1 1826.6L1022.9 1824.4L1022.6 1822.2L1022.5 1820.1L1022.3 1817.9L1022.2 1815.7L1022 1813.5L1021.9 1811.4L1021.9 1809.2L1021.8 1807L1021.9 1804.8L1021.9 1802.7L1022 1800.5L1022.2 1798.3L1022.4 1796.2L1022.7 1794L1023 1791.8L1023.3 1789.6L1023.7 1787.5L1024.2 1785.3L1024.7 1783.1L1025.2 1780.9L1025.7 1778.8L1026.2 1776.6L1026.6 1774.4L1027.1 1772.2L1027.5 1770.1L1027.9 1767.9L1028.3 1765.7L1028.5 1763.5L1028.8 1761.4L1029 1759.2L1029.1 1757L1029.3 1754.8L1029.5 1752.7L1029.7 1750.5L1030.7 1750.5L1030.8 1752.7L1031 1754.8L1031.2 1757L1031.4 1759.2L1031.5 1761.4L1031.8 1763.5L1032.1 1765.7L1032.4 1767.9L1032.8 1770.1L1033.3 1772.2L1033.7 1774.4L1034.2 1776.6L1034.6 1778.8L1035.1 1780.9L1035.6 1783.1L1036.1 1785.3L1036.6 1787.5L1037 1789.6L1037.4 1791.8L1037.7 1794L1037.9 1796.2L1038.1 1798.3L1038.3 1800.5L1038.4 1802.7L1038.5 1804.8L1038.5 1807L1038.4 1809.2L1038.4 1811.4L1038.3 1813.5L1038.1 1815.7L1038 1817.9L1037.9 1820.1L1037.7 1822.2L1037.5 1824.4L1037.2 1826.6L1037 1828.8L1036.9 1831L1036.8 1833.1L1036.7 1835.3L1036.7 1837.5L1036.9 1839.7L1037.2 1841.8L1037.6 1844L1038.1 1846.2L1038.6 1848.4L1039.1 1850.5L1039.5 1852.7L1039.8 1854.9L1040 1857L1040.2 1859.2L1040.2 1861.4L1039.9 1863.6L1039.6 1865.8L1039.1 1867.9L1038.5 1870.1L1037.9 1872.3L1037.4 1874.5L1036.7 1876.6L1036 1878.8L1035.3 1881L1034.5 1883.2L1033.8 1885.3L1033.1 1887.5L1032.6 1889.7L1032.1 1891.9L1031.8 1894L1031.5 1896.2Z" fill="#1DBDC2" stroke="#000" stroke-width="0.9" stroke-linejoin="round"/>
<path d="M1020.1 1903.7L1020.1 1907.9" stroke="#333" stroke-width="1"/>
<text font-size="22.4" text-anchor="end" transform="translate(1028.3 1910.5) rotate(-90)">PC/GC</text>
<path d="M1050.8 1896.2L1051.1 1894L1051.4 1891.9L1051.6 1889.7L1051.8 1887.5L1052 1885.3L1051.9 1883.2L1051.3 1881L1050.3 1878.8L1049.3 1876.6L1048.4 1874.5L1047.7 1872.3L1047 1870.1L1046.4 1867.9L1045.9 1865.8L1045.5 1863.6L1045.1 1861.4L1044.8 1859.2L1044.7 1857L1044.7 1854.9L1044.9 1852.7L1045.3 1850.5L1045.9 1848.4L1046.4 1846.2L1047 1844L1047.6 1841.8L1048.1 1839.7L1048.7 1837.5L1049.2 1835.3L1049.8 1833.1L1050.3 1831L1050.8 1828.8L1051.2 1826.6L1051.6 1824.4L1052 1822.2L1052.4 1820.1L1052.7 1817.9L1052.9 1815.7L1053.1 1813.5L1053.3 1811.4L1053.5 1809.2L1053.6 1807L1053.7 1804.8L1053.8 1802.7L1053.9 1800.5L1054 1798.3L1054 1796.2L1054.1 1794L1054.1 1791.8L1054.1 1789.6L1054.2 1787.5L1054.2 1785.3L1054.2 1783.1L1054.3 1780.9L1054.3 1778.8L1054.3 1776.6L1054.3 1774.4L1054.3 1772.2L1055.3 1772.2L1055.3 1774.4L1055.3 1776.6L1055.3 1778.8L1055.3 1780.9L1055.3 1783.1L1055.3 1785.3L1055.4 1787.5L1055.4 1789.6L1055.5 1791.8L1055.5 1794L1055.5 1796.2L1055.6 1798.3L1055.7 1800.5L1055.7 1802.7L1055.8 1804.8L1055.9 1807L1056.1 1809.2L1056.2 1811.4L1056.4 1813.5L1056.6 1815.7L1056.9 1817.9L1057.2 1820.1L1057.5 1822.2L1057.9 1824.4L1058.3 1826.6L1058.8 1828.8L1059.3 1831L1059.8 1833.1L1060.3 1835.3L1060.9 1837.5L1061.4 1839.7L1062 1841.8L1062.5 1844L1063.1 1846.2L1063.7 1848.4L1064.2 1850.5L1064.6 1852.7L1064.9 1854.9L1064.9 1857L1064.7 1859.2L1064.5 1861.4L1064.1 1863.6L1063.6 1865.8L1063.1 1867.9L1062.5 1870.1L1061.9 1872.3L1061.2 1874.5L1060.3 1876.6L1059.3 1878.8L1058.3 1881L1057.7 1883.2L1057.5 1885.3L1057.7 1887.5L1058 1889.7L1058.2 1891.9L1058.5 1894L1058.8 1896.2Z" fill="#F8766D" stroke="#000" stroke-width="0.9" stroke-linejoin="round"/>
<path d="M1072.1 1896.2L1072.1 1894L1072.1 1891.9L1072 1889.7L1071.8 1887.5L1071.2 1885.3L1070.5 1883.2L1069.7 1881L1068.8 1878.8L1068 1876.6L1067.3 1874.5L1066.7 1872.3L1066.2 1870.1L1065.7 1867.9L1065.3 1865.8L1065 1863.6L1064.9 1861.4L1064.9 1859.2L1065 1857L1065.3 1854.9L1065.7 1852.7L1066.1 1850.5L1066.7 1848.4L1067.3 1846.2L1067.9 1844L1068.3 1841.8L1068.6 1839.7L1068.8 1837.5L1068.9 1835.3L1068.9 1833.1L1068.9 1831L1068.7 1828.8L1068.4 1826.6L1068 1824.4L1067.7 1822.2L1067.4 1820.1L1067.3 1817.9L1067.4 1815.7L1067.6 1813.5L1067.9 1811.4L1068.3 1809.2L1068.7 1807L1069.1 1804.8L1069.5 1802.7L1070 1800.5L1070.5 1798.3L1071 1796.2L1071.6 1794L1072.2 1791.8L1072.7 1789.6L1073.1 1787.5L1073.3 1785.3L1073.5 1783.1L1073.6 1780.9L1073.6 1778.8L1073.7 1776.6L1073.6 1774.4L1073.6 1772.2L1073.6 1770.1L1073.6 1767.9L1073.7 1765.7L1073.8 1763.5L1073.8 1761.4L1073.9 1759.2L1074 1757L1074.1 1754.8L1074.2 1752.7L1074.3 1750.5L1074.3 1748.3L1074.4 1747.2L1075.6 1747.2L1075.6 1748.3L1075.7 1750.5L1075.8 1752.7L1075.9 1754.8L1076 1757L1076 1759.2L1076.1 1761.4L1076.2 1763.5L1076.3 1765.7L1076.3 1767.9L1076.3 1770.1L1076.3 1772.2L1076.3 1774.4L1076.3 1776.6L1076.3 1778.8L1076.4 1780.9L1076.5 1783.1L1076.6 1785.3L1076.9 1787.5L1077.3 1789.6L1077.8 1791.8L1078.4 1794L1078.9 1796.2L1079.5 1798.3L1080 1800.5L1080.4 1802.7L1080.9 1804.8L1081.3 1807L1081.7 1809.2L1082 1811.4L1082.4 1813.5L1082.6 1815.7L1082.7 1817.9L1082.6 1820.1L1082.3 1822.2L1081.9 1824.4L1081.6 1826.6L1081.2 1828.8L1081.1 1831L1081 1833.1L1081.1 1835.3L1081.2 1837.5L1081.4 1839.7L1081.7 1841.8L1082.1 1844L1082.7 1846.2L1083.3 1848.4L1083.8 1850.5L1084.3 1852.7L1084.6 1854.9L1084.9 1857L1085.1 1859.2L1085.1 1861.4L1084.9 1863.6L1084.6 1865.8L1084.2 1867.9L1083.8 1870.1L1083.2 1872.3L1082.7 1874.5L1082 1876.6L1081.2 1878.8L1080.3 1881L1079.5 1883.2L1078.7 1885.3L1078.2 1887.5L1077.9 1889.7L1077.9 1891.9L1077.9 1894L1077.9 1896.2Z" fill="#1DBDC2" stroke="#000" stroke-width="0.9" stroke-linejoin="round"/>
<path d="M1064.9 1903.7L1064.9 1907.9" stroke="#333" stroke-width="1"/>
<text font-size="22.4" text-anchor="end" transform="translate(1073.1 1910.5) rotate(-90)">EE</text>
<path d="M1097.2 1896.2L1097.3 1894L1097.3 1891.9L1097.2 1889.7L1096.8 1887.5L1096.2 1885.3L1095.5 1883.2L1094.8 1881L1094.1 1878.8L1093.5 1876.6L1092.8 1874.5L1092.1 1872.3L1091.6 1870.1L1091.1 1867.9L1090.7 1865.8L1090.3 1863.6L1090 1861.4L1089.8 1859.2L1089.6 1857L1089.5 1854.9L1089.6 1852.7L1089.8 1850.5L1090 1848.4L1090.3 1846.2L1090.8 1844L1091.3 1841.8L1091.8 1839.7L1092.4 1837.5L1092.9 1835.3L1093.4 1833.1L1094 1831L1094.6 1828.8L1095.1 1826.6L1095.6 1824.4L1096 1822.2L1096.4 1820.1L1096.7 1817.9L1097 1815.7L1097.3 1813.5L1097.5 1811.4L1097.7 1809.2L1097.9 1807L1098 1804.8L1098.1 1802.7L1098.1 1800.5L1098.2 1798.3L1098.2 1796.2L1098.2 1794L1098.3 1791.8L1098.3 1789.6L1098.3 1787.5L1098.3 1785.3L1098.3 1783.1L1098.3 1780.9L1098.3 1778.8L1098.3 1776.6L1098.3 1774.4L1098.3 1772.2L1098.3 1770.1L1098.3 1767.9L1098.3 1765.7L1098.3 1763.5L1098.4 1761.4L1098.5 1759.2L1098.5 1757L1098.6 1754.8L1098.7 1752.7L1098.7 1750.5L1098.8 1748.3L1100.4 1748.3L1100.5 1750.5L1100.5 1752.7L1100.6 1754.8L1100.7 1757L1100.7 1759.2L1100.8 1761.4L1100.9 1763.5L1100.9 1765.7L1100.9 1767.9L1100.9 1770.1L1100.9 1772.2L1100.9 1774.4L1100.9 1776.6L1100.9 1778.8L1100.9 1780.9L1100.9 1783.1L1100.9 1785.3L1100.9 1787.5L1100.9 1789.6L1100.9 1791.8L1101 1794L1101 1796.2L1101 1798.3L1101.1 1800.5L1101.1 1802.7L1101.2 1804.8L1101.3 1807L1101.5 1809.2L1101.7 1811.4L1101.9 1813.5L1102.2 1815.7L1102.5 1817.9L1102.8 1820.1L1103.2 1822.2L1103.6 1824.4L1104.1 1826.6L1104.6 1828.8L1105.2 1831L1105.8 1833.1L1106.3 1835.3L1106.8 1837.5L1107.4 1839.7L1107.9 1841.8L1108.4 1844L1108.9 1846.2L1109.2 1848.4L1109.4 1850.5L1109.6 1852.7L1109.7 1854.9L1109.6 1857L1109.4 1859.2L1109.2 1861.4L1108.9 1863.6L1108.5 1865.8L1108.1 1867.9L1107.6 1870.1L1107.1 1872.3L1106.4 1874.5L1105.7 1876.6L1105.1 1878.8L1104.4 1881L1103.7 1883.2L1103 1885.3L1102.4 1887.5L1102 1889.7L1101.9 1891.9L1101.9 1894L1102 1896.2Z" fill="#F8766D" stroke="#000" stroke-width="0.9" stroke-linejoin="round"/>
<path d="M1117.9 1896.2L1117.8 1894L1117.7 1891.9L1117.4 1889.7L1116.9 1887.5L1116.2 1885.3L1115.5 1883.2L1114.7 1881L1113.9 1878.8L1113.2 1876.6L1112.6 1874.5L1112.1 1872.3L1111.6 1870.1L1111.2 1867.9L1110.8 1865.8L1110.5 1863.6L1110.3 1861.4L1110.1 1859.2L1110 1857L1109.9 1854.9L1109.8 1852.7L1109.7 1850.5L1109.7 1848.4L1109.6 1846.2L1109.6 1844L1109.6 1841.8L1109.6 1839.7L1109.6 1837.5L1109.6 1835.3L1109.7 1833.1L1109.8 1831L1109.9 1828.8L1110.1 1826.6L1110.4 1824.4L1110.7 1822.2L1111 1820.1L1111.4 1817.9L1111.9 1815.7L1112.4 1813.5L1112.9 1811.4L1113.4 1809.2L1113.8 1807L1114.2 1804.8L1114.6 1802.7L1115 1800.5L1115.3 1798.3L1115.6 1796.2L1115.9 1794L1116.1 1791.8L1116.4 1789.6L1116.6 1787.5L1116.8 1785.3L1117 1783.1L1117.2 1780.9L1117.3 1778.8L1117.5 1776.6L1117.7 1774.4L1117.8 1772.2L1117.9 1770.1L1118.1 1767.9L1118.2 1765.7L1118.3 1763.5L1118.4 1761.4L1118.5 1759.2L1118.6 1757L1118.7 1754.8L1118.8 1752.7L1118.9 1750.5L1119 1748.3L1119 1746.1L1119.1 1744L1119.2 1741.8L1119.3 1739.6L1120.3 1739.6L1120.4 1741.8L1120.5 1744L1120.6 1746.1L1120.6 1748.3L1120.7 1750.5L1120.8 1752.7L1120.9 1754.8L1121 1757L1121.1 1759.2L1121.2 1761.4L1121.3 1763.5L1121.4 1765.7L1121.5 1767.9L1121.7 1770.1L1121.8 1772.2L1121.9 1774.4L1122.1 1776.6L1122.3 1778.8L1122.4 1780.9L1122.6 1783.1L1122.8 1785.3L1123 1787.5L1123.2 1789.6L1123.5 1791.8L1123.7 1794L1124 1796.2L1124.3 1798.3L1124.6 1800.5L1125 1802.7L1125.4 1804.8L1125.8 1807L1126.2 1809.2L1126.7 1811.4L1127.2 1813.5L1127.7 1815.7L1128.2 1817.9L1128.6 1820.1L1128.9 1822.2L1129.2 1824.4L1129.5 1826.6L1129.7 1828.8L1129.8 1831L1129.9 1833.1L1130 1835.3L1130 1837.5L1130 1839.7L1130 1841.8L1130 1844L1130 1846.2L1129.9 1848.4L1129.9 1850.5L1129.8 1852.7L1129.7 1854.9L1129.6 1857L1129.5 1859.2L1129.3 1861.4L1129.1 1863.6L1128.8 1865.8L1128.4 1867.9L1128 1870.1L1127.5 1872.3L1127 1874.5L1126.4 1876.6L1125.7 1878.8L1124.9 1881L1124.1 1883.2L1123.4 1885.3L1122.7 1887.5L1122.2 1889.7L1121.9 1891.9L1121.8 1894L1121.7 1896.2Z" fill="#1DBDC2" stroke="#000" stroke-width="0.9" stroke-linejoin="round"/>
<path d="M1109.7 1903.7L1109.7 1907.9" stroke="#333" stroke-width="1"/>
<text font-size="22.4" text-anchor="end" transform="translate(1117.9 1910.5) rotate(-90)">T</text>
<path d="M1138.3 1896.2L1139.2 1894L1140.2 1891.9L1141.4 1889.7L1142.4 1887.5L1142.4 1885.3L1141.4 1883.2L1140 1881L1138.8 1878.8L1137.9 1876.6L1137 1874.5L1136.3 1872.3L1135.6 1870.1L1135.1 1867.9L1134.7 1865.8L1134.5 1863.6L1134.4 1861.4L1134.6 1859.2L1135 1857L1135.5 1854.9L1136.1 1852.7L1136.7 1850.5L1137.5 1848.4L1138.2 1846.2L1139 1844L1139.6 1841.8L1140.2 1839.7L1140.7 1837.5L1141.2 1835.3L1141.6 1833.1L1142 1831L1142.3 1828.8L1142.6 1826.6L1142.8 1824.4L1143 1822.2L1143.1 1820.1L1143.2 1817.9L1143.3 1815.7L1143.4 1813.5L1143.4 1811.4L1143.5 1809.2L1143.5 1807L1143.5 1804.8L1143.5 1802.7L1143.6 1800.5L1143.6 1798.3L1143.6 1796.2L1145.2 1796.2L1145.3 1798.3L1145.3 1800.5L1145.3 1802.7L1145.3 1804.8L1145.3 1807L1145.4 1809.2L1145.4 1811.4L1145.4 1813.5L1145.5 1815.7L1145.6 1817.9L1145.7 1820.1L1145.9 1822.2L1146 1824.4L1146.2 1826.6L1146.5 1828.8L1146.8 1831L1147.2 1833.1L1147.6 1835.3L1148.1 1837.5L1148.6 1839.7L1149.2 1841.8L1149.9 1844L1150.6 1846.2L1151.4 1848.4L1152.1 1850.5L1152.7 1852.7L1153.3 1854.9L1153.8 1857L1154.2 1859.2L1154.4 1861.4L1154.4 1863.6L1154.1 1865.8L1153.7 1867.9L1153.2 1870.1L1152.6 1872.3L1151.8 1874.5L1150.9 1876.6L1150 1878.8L1148.8 1881L1147.5 1883.2L1146.5 1885.3L1146.5 1887.5L1147.4 1889.7L1148.7 1891.9L1149.7 1894L1150.5 1896.2Z" fill="#F8766D" stroke="#000" stroke-width="0.9" stroke-linejoin="round"/>
<path d="M1164.3 1896.2L1164.3 1894L1164.3 1891.9L1164.3 1889.7L1164.4 1887.5L1164.4 1885.3L1164.4 1883.2L1164.4 1881L1164.4 1878.8L1164.5 1876.6L1164.5 1874.5L1164.5 1872.3L1164.4 1870.1L1164.4 1867.9L1164.4 1865.8L1164.3 1863.6L1164.3 1861.4L1164.4 1859.2L1164.3 1857L1163.8 1854.9L1162.8 1852.7L1161.4 1850.5L1159.9 1848.4L1158.3 1846.2L1156.9 1844L1155.9 1841.8L1155.2 1839.7L1154.7 1837.5L1154.5 1835.3L1154.9 1833.1L1155.7 1831L1156.6 1828.8L1157.7 1826.6L1158.9 1824.4L1160.1 1822.2L1161.1 1820.1L1161.8 1817.9L1162.3 1815.7L1162.7 1813.5L1163 1811.4L1163.3 1809.2L1163.5 1807L1163.7 1804.8L1163.8 1802.7L1163.9 1800.5L1164 1798.3L1164 1796.2L1164 1794L1164 1791.8L1164.1 1789.6L1164.1 1787.5L1164.2 1785.3L1164.2 1783.1L1164.3 1780.9L1164.3 1778.8L1164.3 1776.6L1164.4 1774.4L1164.4 1772.2L1164.4 1770.1L1164.8 1770.1L1164.9 1772.2L1164.9 1774.4L1164.9 1776.6L1164.9 1778.8L1165 1780.9L1165 1783.1L1165.1 1785.3L1165.1 1787.5L1165.2 1789.6L1165.2 1791.8L1165.2 1794L1165.2 1796.2L1165.3 1798.3L1165.3 1800.5L1165.4 1802.7L1165.5 1804.8L1165.7 1807L1165.9 1809.2L1166.2 1811.4L1166.5 1813.5L1166.9 1815.7L1167.4 1817.9L1168.1 1820.1L1169.1 1822.2L1170.3 1824.4L1171.6 1826.6L1172.6 1828.8L1173.6 1831L1174.4 1833.1L1174.7 1835.3L1174.6 1837.5L1174.1 1839.7L1173.3 1841.8L1172.3 1844L1171 1846.2L1169.4 1848.4L1167.8 1850.5L1166.4 1852.7L1165.4 1854.9L1165 1857L1164.9 1859.2L1164.9 1861.4L1164.9 1863.6L1164.9 1865.8L1164.8 1867.9L1164.8 1870.1L1164.8 1872.3L1164.8 1874.5L1164.8 1876.6L1164.8 1878.8L1164.8 1881L1164.8 1883.2L1164.9 1885.3L1164.9 1887.5L1164.9 1889.7L1164.9 1891.9L1164.9 1894L1164.9 1896.2Z" fill="#1DBDC2" stroke="#000" stroke-width="0.9" stroke-linejoin="round"/>
<path d="M1154.5 1903.7L1154.5 1907.9" stroke="#333" stroke-width="1"/>
<text font-size="22.4" text-anchor="end" transform="translate(1162.7 1910.5) rotate(-90)">B</text>
<path d="M1184.1 1896.2L1184.8 1894L1185.8 1891.9L1187.2 1889.7L1187.9 1887.5L1187.3 1885.3L1185.9 1883.2L1184.2 1881L1182.8 1878.8L1181.7 1876.6L1180.5 1874.5L1179.6 1872.3L1179.1 1870.1L1179.5 1867.9L1180.3 1865.8L1181.2 1863.6L1182 1861.4L1182.9 1859.2L1183.7 1857L1184.5 1854.9L1185.2 1852.7L1185.8 1850.5L1186.4 1848.4L1186.9 1846.2L1187.3 1844L1187.6 1841.8L1187.9 1839.7L1188.1 1837.5L1188.3 1835.3L1188.4 1833.1L1188.4 1831L1188.5 1828.8L1188.5 1826.6L1188.5 1824.4L1188.5 1822.2L1188.5 1820.1L1188.5 1817.9L1188.5 1815.7L1188.4 1813.5L1188.4 1811.4L1188.4 1809.2L1188.5 1807L1188.5 1804.8L1188.5 1802.7L1188.5 1800.5L1188.6 1798.3L1188.6 1796.2L1188.6 1794L1188.7 1791.8L1188.7 1789.6L1188.7 1787.5L1188.8 1785.3L1188.8 1783.1L1188.8 1780.9L1188.8 1778.8L1188.9 1776.6L1188.9 1774.4L1188.9 1772.2L1188.9 1770.1L1189.5 1770.1L1189.6 1772.2L1189.6 1774.4L1189.6 1776.6L1189.6 1778.8L1189.7 1780.9L1189.7 1783.1L1189.7 1785.3L1189.7 1787.5L1189.8 1789.6L1189.8 1791.8L1189.8 1794L1189.9 1796.2L1189.9 1798.3L1189.9 1800.5L1190 1802.7L1190 1804.8L1190 1807L1190 1809.2L1190 1811.4L1190 1813.5L1190 1815.7L1190 1817.9L1190 1820.1L1189.9 1822.2L1189.9 1824.4L1189.9 1826.6L1190 1828.8L1190 1831L1190.1 1833.1L1190.2 1835.3L1190.4 1837.5L1190.6 1839.7L1190.8 1841.8L1191.2 1844L1191.6 1846.2L1192.1 1848.4L1192.6 1850.5L1193.2 1852.7L1193.9 1854.9L1194.7 1857L1195.6 1859.2L1196.4 1861.4L1197.2 1863.6L1198.1 1865.8L1199 1867.9L1199.3 1870.1L1198.9 1872.3L1198 1874.5L1196.8 1876.6L1195.6 1878.8L1194.2 1881L1192.6 1883.2L1191.2 1885.3L1190.5 1887.5L1191.2 1889.7L1192.7 1891.9L1193.6 1894L1194.3 1896.2Z" fill="#F8766D" stroke="#000" stroke-width="0.9" stroke-linejoin="round"/>
<path d="M1205.4 1896.2L1205.5 1894L1205.6 1891.9L1205.4 1889.7L1205 1887.5L1204.3 1885.3L1203.6 1883.2L1202.9 1881L1202.2 1878.8L1201.7 1876.6L1201.3 1874.5L1200.8 1872.3L1200.5 1870.1L1200.1 1867.9L1199.8 1865.8L1199.6 1863.6L1199.4 1861.4L1199.3 1859.2L1199.4 1857L1199.7 1854.9L1200 1852.7L1200.3 1850.5L1200.6 1848.4L1201 1846.2L1201.3 1844L1201.7 1841.8L1202.1 1839.7L1202.5 1837.5L1202.9 1835.3L1203.4 1833.1L1203.8 1831L1204.4 1828.8L1204.9 1826.6L1205.5 1824.4L1206.1 1822.2L1206.5 1820.1L1207 1817.9L1207.3 1815.7L1207.7 1813.5L1207.9 1811.4L1208.1 1809.2L1208.3 1807L1208.3 1804.8L1208.4 1802.7L1208.4 1800.5L1208.3 1798.3L1208.3 1796.2L1208.2 1794L1208.2 1791.8L1208.2 1789.6L1208.1 1787.5L1208.1 1785.3L1208.1 1783.1L1208.1 1780.9L1208.1 1778.8L1208.1 1776.6L1208.1 1774.4L1208.1 1772.2L1208.1 1770.1L1208.1 1767.9L1208.1 1765.7L1208.1 1763.5L1208.1 1761.4L1208.1 1759.2L1208.1 1757L1208.1 1754.8L1210.7 1754.8L1210.7 1757L1210.7 1759.2L1210.7 1761.4L1210.7 1763.5L1210.7 1765.7L1210.7 1767.9L1210.7 1770.1L1210.7 1772.2L1210.7 1774.4L1210.7 1776.6L1210.7 1778.8L1210.7 1780.9L1210.7 1783.1L1210.7 1785.3L1210.7 1787.5L1210.7 1789.6L1210.7 1791.8L1210.6 1794L1210.6 1796.2L1210.5 1798.3L1210.5 1800.5L1210.5 1802.7L1210.5 1804.8L1210.6 1807L1210.7 1809.2L1210.9 1811.4L1211.2 1813.5L1211.5 1815.7L1211.9 1817.9L1212.3 1820.1L1212.8 1822.2L1213.4 1824.4L1214 1826.6L1214.5 1828.8L1215 1831L1215.5 1833.1L1215.9 1835.3L1216.4 1837.5L1216.8 1839.7L1217.2 1841.8L1217.5 1844L1217.9 1846.2L1218.2 1848.4L1218.6 1850.5L1218.9 1852.7L1219.2 1854.9L1219.4 1857L1219.5 1859.2L1219.5 1861.4L1219.3 1863.6L1219 1865.8L1218.7 1867.9L1218.4 1870.1L1218 1872.3L1217.6 1874.5L1217.1 1876.6L1216.6 1878.8L1216 1881L1215.3 1883.2L1214.5 1885.3L1213.9 1887.5L1213.4 1889.7L1213.3 1891.9L1213.4 1894L1213.4 1896.2Z" fill="#1DBDC2" stroke="#000" stroke-width="0.9" stroke-linejoin="round"/>
<path d="M1199.3 1903.7L1199.3 1907.9" stroke="#333" stroke-width="1"/>
<text font-size="22.4" text-anchor="end" transform="translate(1207.5 1910.5) rotate(-90)">TC</text>
<path d="M634.7 1727V1903.7H1226.5" fill="none" stroke="#333" stroke-width="1.1"/>
<path d="M631.2 1896.2L634.7 1896.2" stroke="#333" stroke-width="1"/>
<text x="629.2" y="1904.5" font-size="24.5" text-anchor="end">0</text>
<path d="M631.2 1852.7L634.7 1852.7" stroke="#333" stroke-width="1"/>
<text x="629.2" y="1861" font-size="24.5" text-anchor="end">2</text>
<path d="M631.2 1809.2L634.7 1809.2" stroke="#333" stroke-width="1"/>
<text x="629.2" y="1817.5" font-size="24.5" text-anchor="end">4</text>
<path d="M631.2 1765.7L634.7 1765.7" stroke="#333" stroke-width="1"/>
<text x="629.2" y="1774" font-size="24.5" text-anchor="end">6</text>
<path d="M1324.7 1895.5L1325.1 1893.2L1325.4 1891L1325.7 1888.7L1325.9 1886.5L1326 1884.2L1325.9 1882L1325.7 1879.7L1325.2 1877.5L1324.4 1875.2L1323.5 1873L1322.7 1870.7L1322 1868.4L1321.5 1866.2L1321 1863.9L1320.5 1861.7L1320.1 1859.4L1319.7 1857.2L1319.4 1854.9L1319.1 1852.7L1318.8 1850.4L1318.5 1848.1L1318.3 1845.9L1318.1 1843.6L1317.9 1841.4L1317.8 1839.1L1317.6 1836.9L1317.6 1834.6L1317.5 1832.4L1317.5 1830.1L1317.5 1827.8L1317.5 1825.6L1317.6 1823.3L1317.7 1821.1L1317.9 1818.8L1318 1816.6L1318.2 1814.3L1318.3 1812.1L1318.5 1809.8L1318.8 1807.6L1319 1805.3L1319.3 1803L1319.6 1800.8L1319.9 1798.5L1320.3 1796.3L1320.7 1794L1321.1 1791.8L1321.5 1789.5L1322 1787.3L1322.4 1785L1322.8 1782.8L1323.2 1780.5L1323.6 1778.2L1324.1 1776L1324.5 1773.7L1324.9 1771.5L1325.3 1769.2L1325.7 1767L1326 1764.7L1326.4 1762.5L1326.6 1760.2L1326.9 1757.9L1327.1 1755.7L1327.3 1753.4L1327.4 1751.2L1327.4 1748.9L1327.5 1746.7L1327.5 1744.4L1327.5 1743.3L1327.8 1743.3L1327.8 1744.4L1327.8 1746.7L1327.8 1748.9L1327.8 1751.2L1327.9 1753.4L1328.1 1755.7L1328.3 1757.9L1328.6 1760.2L1328.8 1762.5L1329.2 1764.7L1329.5 1767L1329.9 1769.2L1330.3 1771.5L1330.7 1773.7L1331.1 1776L1331.6 1778.2L1332 1780.5L1332.4 1782.8L1332.8 1785L1333.2 1787.3L1333.7 1789.5L1334.1 1791.8L1334.5 1794L1334.9 1796.3L1335.3 1798.5L1335.6 1800.8L1335.9 1803L1336.2 1805.3L1336.4 1807.6L1336.7 1809.8L1336.9 1812.1L1337 1814.3L1337.2 1816.6L1337.3 1818.8L1337.5 1821.1L1337.6 1823.3L1337.7 1825.6L1337.7 1827.8L1337.7 1830.1L1337.7 1832.4L1337.6 1834.6L1337.6 1836.9L1337.4 1839.1L1337.3 1841.4L1337.1 1843.6L1336.9 1845.9L1336.7 1848.1L1336.4 1850.4L1336.1 1852.7L1335.8 1854.9L1335.5 1857.2L1335.1 1859.4L1334.7 1861.7L1334.2 1863.9L1333.7 1866.2L1333.2 1868.4L1332.5 1870.7L1331.7 1873L1330.8 1875.2L1330 1877.5L1329.5 1879.7L1329.3 1882L1329.2 1884.2L1329.3 1886.5L1329.5 1888.7L1329.8 1891L1330.1 1893.2L1330.5 1895.5Z" fill="#F8766D" stroke="#000" stroke-width="0.9" stroke-linejoin="round"/>
<path d="M1347.5 1895.5L1347.5 1893.2L1347.5 1891L1347.5 1888.7L1347.6 1886.5L1347.6 1884.2L1347.6 1882L1347.6 1879.7L1347.6 1877.5L1347.6 1875.2L1347.6 1873L1347.6 1870.7L1347.6 1868.4L1347.6 1866.2L1347.6 1863.9L1347.6 1861.7L1347.6 1859.4L1347.6 1857.2L1347.6 1854.9L1347.6 1852.7L1347.5 1850.4L1347.4 1848.1L1347.3 1845.9L1347.1 1843.6L1346.8 1841.4L1346.5 1839.1L1346.1 1836.9L1345.6 1834.6L1345 1832.4L1344.4 1830.1L1343.8 1827.8L1343.2 1825.6L1342.4 1823.3L1341.7 1821.1L1341 1818.8L1340.3 1816.6L1339.8 1814.3L1339.3 1812.1L1338.9 1809.8L1338.5 1807.6L1338.1 1805.3L1337.9 1803L1337.7 1800.8L1337.7 1798.5L1337.9 1796.3L1338.2 1794L1338.7 1791.8L1339.3 1789.5L1339.8 1787.3L1340.5 1785L1341.2 1782.8L1342 1780.5L1342.7 1778.2L1343 1776L1342.9 1773.7L1342.6 1771.5L1342.1 1769.2L1341.5 1767L1341.1 1764.7L1340.7 1762.5L1340.4 1760.2L1340.1 1757.9L1340.1 1755.7L1340.4 1753.4L1340.9 1751.2L1341.5 1748.9L1342.2 1746.7L1343 1744.4L1343.9 1742.2L1344.9 1739.9L1345.8 1737.7L1346.8 1735.4L1348.8 1735.4L1349.8 1737.7L1350.7 1739.9L1351.7 1742.2L1352.6 1744.4L1353.4 1746.7L1354.1 1748.9L1354.7 1751.2L1355.2 1753.4L1355.5 1755.7L1355.5 1757.9L1355.2 1760.2L1354.9 1762.5L1354.5 1764.7L1354.1 1767L1353.5 1769.2L1353 1771.5L1352.7 1773.7L1352.6 1776L1352.9 1778.2L1353.6 1780.5L1354.4 1782.8L1355.1 1785L1355.8 1787.3L1356.3 1789.5L1356.9 1791.8L1357.4 1794L1357.7 1796.3L1357.9 1798.5L1357.9 1800.8L1357.7 1803L1357.5 1805.3L1357.1 1807.6L1356.7 1809.8L1356.3 1812.1L1355.8 1814.3L1355.3 1816.6L1354.6 1818.8L1353.9 1821.1L1353.2 1823.3L1352.4 1825.6L1351.8 1827.8L1351.2 1830.1L1350.6 1832.4L1350 1834.6L1349.5 1836.9L1349.1 1839.1L1348.8 1841.4L1348.5 1843.6L1348.3 1845.9L1348.2 1848.1L1348.1 1850.4L1348 1852.7L1348 1854.9L1348 1857.2L1348 1859.4L1348 1861.7L1348 1863.9L1348 1866.2L1348 1868.4L1348 1870.7L1348 1873L1348 1875.2L1348 1877.5L1348 1879.7L1348 1882L1348 1884.2L1348 1886.5L1348.1 1888.7L1348.1 1891L1348.1 1893.2L1348.1 1895.5Z" fill="#1DBDC2" stroke="#000" stroke-width="0.9" stroke-linejoin="round"/>
<path d="M1337.7 1903.7L1337.7 1907.9" stroke="#333" stroke-width="1"/>
<text font-size="22.4" text-anchor="end" transform="translate(1345.9 1910.5) rotate(-90)">IE</text>
<path d="M1363.1 1895.5L1364.5 1893.2L1366.1 1891L1368.2 1888.7L1370.2 1886.5L1371.1 1884.2L1370.6 1882L1369.2 1879.7L1367.4 1877.5L1366 1875.2L1365.1 1873L1364.3 1870.7L1363.6 1868.4L1363.1 1866.2L1362.7 1863.9L1362.4 1861.7L1362.3 1859.4L1362.3 1857.2L1362.6 1854.9L1363 1852.7L1363.6 1850.4L1364.2 1848.1L1364.7 1845.9L1365.2 1843.6L1365.8 1841.4L1366.3 1839.1L1366.9 1836.9L1367.4 1834.6L1368 1832.4L1368.5 1830.1L1368.9 1827.8L1369.3 1825.6L1369.7 1823.3L1370 1821.1L1370.3 1818.8L1370.5 1816.6L1370.8 1814.3L1371 1812.1L1371.1 1809.8L1371.3 1807.6L1371.4 1805.3L1371.5 1803L1371.6 1800.8L1371.7 1798.5L1371.8 1796.3L1371.9 1794L1372 1791.8L1372 1789.5L1372.1 1787.3L1372.1 1785L1372.2 1782.8L1372.2 1780.5L1372.3 1778.2L1372.3 1776L1372.3 1773.7L1372.6 1773.7L1372.6 1776L1372.6 1778.2L1372.6 1780.5L1372.7 1782.8L1372.7 1785L1372.8 1787.3L1372.8 1789.5L1372.9 1791.8L1373 1794L1373 1796.3L1373.1 1798.5L1373.2 1800.8L1373.3 1803L1373.4 1805.3L1373.6 1807.6L1373.7 1809.8L1373.9 1812.1L1374.1 1814.3L1374.3 1816.6L1374.6 1818.8L1374.9 1821.1L1375.2 1823.3L1375.5 1825.6L1375.9 1827.8L1376.4 1830.1L1376.9 1832.4L1377.4 1834.6L1377.9 1836.9L1378.5 1839.1L1379.1 1841.4L1379.6 1843.6L1380.1 1845.9L1380.7 1848.1L1381.3 1850.4L1381.8 1852.7L1382.3 1854.9L1382.5 1857.2L1382.6 1859.4L1382.4 1861.7L1382.1 1863.9L1381.7 1866.2L1381.2 1868.4L1380.5 1870.7L1379.7 1873L1378.8 1875.2L1377.4 1877.5L1375.7 1879.7L1374.2 1882L1373.7 1884.2L1374.7 1886.5L1376.6 1888.7L1378.7 1891L1380.4 1893.2L1381.7 1895.5Z" fill="#F8766D" stroke="#000" stroke-width="0.9" stroke-linejoin="round"/>
<path d="M1391.6 1895.5L1391.6 1893.2L1391.7 1891L1391.7 1888.7L1391.8 1886.5L1391.8 1884.2L1391.8 1882L1391.9 1879.7L1391.9 1877.5L1391.9 1875.2L1391.8 1873L1391.8 1870.7L1391.7 1868.4L1391.6 1866.2L1391.5 1863.9L1391.4 1861.7L1391.3 1859.4L1391.2 1857.2L1391 1854.9L1390.9 1852.7L1390.7 1850.4L1390.6 1848.1L1390.4 1845.9L1390.2 1843.6L1390 1841.4L1389.7 1839.1L1389.5 1836.9L1389.3 1834.6L1389.1 1832.4L1388.8 1830.1L1388.6 1827.8L1388.4 1825.6L1388.2 1823.3L1388 1821.1L1387.8 1818.8L1387.6 1816.6L1387.5 1814.3L1387.2 1812.1L1387 1809.8L1386.8 1807.6L1386.5 1805.3L1386.2 1803L1385.9 1800.8L1385.5 1798.5L1385.2 1796.3L1384.8 1794L1384.5 1791.8L1384.1 1789.5L1383.8 1787.3L1383.5 1785L1383.2 1782.8L1382.9 1780.5L1382.6 1778.2L1382.5 1776L1382.5 1773.7L1382.7 1771.5L1383 1769.2L1383.5 1767L1384 1764.7L1384.6 1762.5L1385.3 1760.2L1386.1 1757.9L1387 1755.7L1387.8 1753.4L1388.6 1751.2L1389.3 1748.9L1390 1746.7L1390.7 1744.4L1391.5 1742.2L1391.8 1741L1393.4 1741L1393.8 1742.2L1394.5 1744.4L1395.2 1746.7L1395.9 1748.9L1396.7 1751.2L1397.4 1753.4L1398.2 1755.7L1399.1 1757.9L1399.9 1760.2L1400.6 1762.5L1401.2 1764.7L1401.7 1767L1402.2 1769.2L1402.5 1771.5L1402.7 1773.7L1402.7 1776L1402.6 1778.2L1402.4 1780.5L1402 1782.8L1401.7 1785L1401.4 1787.3L1401.1 1789.5L1400.8 1791.8L1400.4 1794L1400.1 1796.3L1399.7 1798.5L1399.3 1800.8L1399 1803L1398.7 1805.3L1398.5 1807.6L1398.2 1809.8L1398 1812.1L1397.8 1814.3L1397.6 1816.6L1397.4 1818.8L1397.2 1821.1L1397 1823.3L1396.8 1825.6L1396.6 1827.8L1396.4 1830.1L1396.2 1832.4L1396 1834.6L1395.7 1836.9L1395.5 1839.1L1395.3 1841.4L1395.1 1843.6L1394.9 1845.9L1394.7 1848.1L1394.5 1850.4L1394.4 1852.7L1394.2 1854.9L1394.1 1857.2L1393.9 1859.4L1393.8 1861.7L1393.7 1863.9L1393.6 1866.2L1393.5 1868.4L1393.5 1870.7L1393.4 1873L1393.4 1875.2L1393.4 1877.5L1393.4 1879.7L1393.4 1882L1393.4 1884.2L1393.5 1886.5L1393.5 1888.7L1393.6 1891L1393.6 1893.2L1393.6 1895.5Z" fill="#1DBDC2" stroke="#000" stroke-width="0.9" stroke-linejoin="round"/>
<path d="M1382.5 1903.7L1382.5 1907.9" stroke="#333" stroke-width="1"/>
<text font-size="22.4" text-anchor="end" transform="translate(1390.7 1910.5) rotate(-90)">GC</text>
<path d="M1406.8 1895.5L1407.8 1893.2L1409.2 1891L1411.3 1888.7L1412.9 1886.5L1413.2 1884.2L1412.1 1882L1410.5 1879.7L1409.2 1877.5L1408.5 1875.2L1407.8 1873L1407.4 1870.7L1407.1 1868.4L1407.2 1866.2L1407.6 1863.9L1408 1861.7L1408.4 1859.4L1408.8 1857.2L1409.2 1854.9L1409.6 1852.7L1410 1850.4L1410.5 1848.1L1411 1845.9L1411.5 1843.6L1412 1841.4L1412.4 1839.1L1412.9 1836.9L1413.3 1834.6L1413.6 1832.4L1414 1830.1L1414.3 1827.8L1414.7 1825.6L1414.9 1823.3L1415.2 1821.1L1415.4 1818.8L1415.6 1816.6L1415.8 1814.3L1416 1812.1L1416.1 1809.8L1416.2 1807.6L1416.3 1805.3L1416.4 1803L1416.5 1800.8L1416.6 1798.5L1416.7 1796.3L1416.7 1794L1416.8 1791.8L1416.9 1789.5L1416.9 1787.3L1417 1785L1417 1782.8L1417.1 1780.5L1417.1 1778.2L1417.1 1776L1417.1 1773.7L1417.1 1771.5L1417.1 1769.2L1417.4 1769.2L1417.4 1771.5L1417.4 1773.7L1417.4 1776L1417.4 1778.2L1417.4 1780.5L1417.5 1782.8L1417.5 1785L1417.6 1787.3L1417.6 1789.5L1417.7 1791.8L1417.7 1794L1417.8 1796.3L1417.9 1798.5L1418 1800.8L1418.1 1803L1418.2 1805.3L1418.3 1807.6L1418.4 1809.8L1418.5 1812.1L1418.7 1814.3L1418.8 1816.6L1419 1818.8L1419.3 1821.1L1419.5 1823.3L1419.8 1825.6L1420.1 1827.8L1420.5 1830.1L1420.8 1832.4L1421.2 1834.6L1421.6 1836.9L1422 1839.1L1422.5 1841.4L1423 1843.6L1423.5 1845.9L1424 1848.1L1424.4 1850.4L1424.9 1852.7L1425.3 1854.9L1425.7 1857.2L1426 1859.4L1426.5 1861.7L1426.9 1863.9L1427.3 1866.2L1427.3 1868.4L1427.1 1870.7L1426.7 1873L1426 1875.2L1425.2 1877.5L1424 1879.7L1422.4 1882L1421.3 1884.2L1421.6 1886.5L1423.2 1888.7L1425.2 1891L1426.6 1893.2L1427.6 1895.5Z" fill="#F8766D" stroke="#000" stroke-width="0.9" stroke-linejoin="round"/>
<path d="M1436.6 1895.5L1436.7 1893.2L1436.7 1891L1436.8 1888.7L1436.8 1886.5L1436.9 1884.2L1436.9 1882L1436.8 1879.7L1436.6 1877.5L1436.4 1875.2L1436 1873L1435.5 1870.7L1435 1868.4L1434.5 1866.2L1433.9 1863.9L1433.3 1861.7L1432.7 1859.4L1432 1857.2L1431.4 1854.9L1430.8 1852.7L1430.2 1850.4L1429.7 1848.1L1429.1 1845.9L1428.5 1843.6L1428 1841.4L1427.6 1839.1L1427.3 1836.9L1427.3 1834.6L1427.4 1832.4L1427.7 1830.1L1428 1827.8L1428.3 1825.6L1428.6 1823.3L1429 1821.1L1429.4 1818.8L1429.8 1816.6L1430.3 1814.3L1430.7 1812.1L1431.2 1809.8L1431.5 1807.6L1431.8 1805.3L1432.1 1803L1432.2 1800.8L1432.4 1798.5L1432.5 1796.3L1432.6 1794L1432.6 1791.8L1432.7 1789.5L1432.8 1787.3L1432.8 1785L1432.9 1782.8L1433 1780.5L1433.1 1778.2L1433.2 1776L1433.3 1773.7L1433.4 1771.5L1433.7 1769.2L1434 1767L1434.4 1764.7L1434.7 1762.5L1435 1760.2L1435.3 1757.9L1435.6 1755.7L1435.9 1753.4L1436.2 1751.2L1436.5 1748.9L1436.8 1746.7L1438 1746.7L1438.3 1748.9L1438.6 1751.2L1438.9 1753.4L1439.2 1755.7L1439.5 1757.9L1439.8 1760.2L1440.2 1762.5L1440.5 1764.7L1440.9 1767L1441.2 1769.2L1441.4 1771.5L1441.6 1773.7L1441.7 1776L1441.8 1778.2L1441.9 1780.5L1441.9 1782.8L1442 1785L1442.1 1787.3L1442.2 1789.5L1442.2 1791.8L1442.3 1794L1442.4 1796.3L1442.5 1798.5L1442.6 1800.8L1442.8 1803L1443 1805.3L1443.3 1807.6L1443.7 1809.8L1444.1 1812.1L1444.6 1814.3L1445 1816.6L1445.5 1818.8L1445.9 1821.1L1446.2 1823.3L1446.6 1825.6L1446.9 1827.8L1447.2 1830.1L1447.5 1832.4L1447.6 1834.6L1447.5 1836.9L1447.3 1839.1L1446.9 1841.4L1446.4 1843.6L1445.8 1845.9L1445.2 1848.1L1444.6 1850.4L1444.1 1852.7L1443.5 1854.9L1442.8 1857.2L1442.2 1859.4L1441.6 1861.7L1440.9 1863.9L1440.4 1866.2L1439.8 1868.4L1439.3 1870.7L1438.9 1873L1438.5 1875.2L1438.2 1877.5L1438.1 1879.7L1438 1882L1438 1884.2L1438 1886.5L1438.1 1888.7L1438.2 1891L1438.2 1893.2L1438.2 1895.5Z" fill="#1DBDC2" stroke="#000" stroke-width="0.9" stroke-linejoin="round"/>
<path d="M1427.3 1903.7L1427.3 1907.9" stroke="#333" stroke-width="1"/>
<text font-size="22.4" text-anchor="end" transform="translate(1435.5 1910.5) rotate(-90)">TA</text>
<path d="M1452 1895.5L1453.3 1893.2L1455 1891L1457.1 1888.7L1459.1 1886.5L1460.2 1884.2L1459.8 1882L1458.4 1879.7L1457.3 1877.5L1456.5 1875.2L1455.8 1873L1455.2 1870.7L1454.9 1868.4L1454.9 1866.2L1455.2 1863.9L1455.7 1861.7L1456.1 1859.4L1456.6 1857.2L1457.1 1854.9L1457.6 1852.7L1458.1 1850.4L1458.4 1848.1L1458.8 1845.9L1459.1 1843.6L1459.4 1841.4L1459.7 1839.1L1459.9 1836.9L1460.2 1834.6L1460.4 1832.4L1460.6 1830.1L1460.8 1827.8L1460.9 1825.6L1461 1823.3L1461.1 1821.1L1461.2 1818.8L1461.3 1816.6L1461.3 1814.3L1461.4 1812.1L1461.4 1809.8L1461.5 1807.6L1461.6 1805.3L1461.6 1803L1461.7 1800.8L1461.7 1798.5L1461.8 1796.3L1461.8 1794L1461.9 1791.8L1461.9 1789.5L1461.9 1787.3L1461.9 1785L1461.9 1782.8L1461.9 1781.6L1462.2 1781.6L1462.2 1782.8L1462.2 1785L1462.2 1787.3L1462.2 1789.5L1462.3 1791.8L1462.3 1794L1462.3 1796.3L1462.4 1798.5L1462.4 1800.8L1462.5 1803L1462.6 1805.3L1462.6 1807.6L1462.7 1809.8L1462.7 1812.1L1462.8 1814.3L1462.9 1816.6L1462.9 1818.8L1463 1821.1L1463.1 1823.3L1463.2 1825.6L1463.4 1827.8L1463.5 1830.1L1463.7 1832.4L1464 1834.6L1464.2 1836.9L1464.5 1839.1L1464.7 1841.4L1465 1843.6L1465.3 1845.9L1465.7 1848.1L1466.1 1850.4L1466.5 1852.7L1467 1854.9L1467.5 1857.2L1468 1859.4L1468.5 1861.7L1468.9 1863.9L1469.2 1866.2L1469.3 1868.4L1468.9 1870.7L1468.4 1873L1467.6 1875.2L1466.9 1877.5L1465.7 1879.7L1464.4 1882L1464 1884.2L1465 1886.5L1467 1888.7L1469.2 1891L1470.8 1893.2L1472.2 1895.5Z" fill="#F8766D" stroke="#000" stroke-width="0.9" stroke-linejoin="round"/>
<path d="M1481 1895.5L1481.1 1893.2L1481.3 1891L1481.4 1888.7L1481.5 1886.5L1481.5 1884.2L1481.3 1882L1481 1879.7L1480.7 1877.5L1480.3 1875.2L1479.9 1873L1479.3 1870.7L1478.7 1868.4L1478 1866.2L1477.3 1863.9L1476.7 1861.7L1476.1 1859.4L1475.6 1857.2L1475.1 1854.9L1474.7 1852.7L1474.3 1850.4L1473.9 1848.1L1473.5 1845.9L1473.2 1843.6L1472.8 1841.4L1472.6 1839.1L1472.4 1836.9L1472.2 1834.6L1472.2 1832.4L1472.2 1830.1L1472.4 1827.8L1472.7 1825.6L1473.1 1823.3L1473.5 1821.1L1473.8 1818.8L1474.3 1816.6L1474.7 1814.3L1475.2 1812.1L1475.7 1809.8L1476.2 1807.6L1476.7 1805.3L1477.1 1803L1477.6 1800.8L1478 1798.5L1478.4 1796.3L1478.8 1794L1479 1791.8L1479.2 1789.5L1479.3 1787.3L1479.3 1785L1479.4 1782.8L1479.3 1780.5L1479.2 1778.2L1479.1 1776L1479 1773.7L1479.1 1771.5L1479.3 1769.2L1479.6 1767L1479.9 1764.7L1480.3 1762.5L1480.7 1760.2L1481 1757.9L1481.4 1755.7L1481.8 1753.4L1482.8 1753.4L1483.1 1755.7L1483.5 1757.9L1483.9 1760.2L1484.2 1762.5L1484.6 1764.7L1485 1767L1485.3 1769.2L1485.5 1771.5L1485.5 1773.7L1485.4 1776L1485.3 1778.2L1485.2 1780.5L1485.2 1782.8L1485.2 1785L1485.3 1787.3L1485.4 1789.5L1485.5 1791.8L1485.8 1794L1486.1 1796.3L1486.5 1798.5L1486.9 1800.8L1487.4 1803L1487.9 1805.3L1488.3 1807.6L1488.8 1809.8L1489.3 1812.1L1489.8 1814.3L1490.2 1816.6L1490.7 1818.8L1491.1 1821.1L1491.4 1823.3L1491.8 1825.6L1492.1 1827.8L1492.3 1830.1L1492.4 1832.4L1492.3 1834.6L1492.2 1836.9L1492 1839.1L1491.7 1841.4L1491.4 1843.6L1491 1845.9L1490.6 1848.1L1490.3 1850.4L1489.9 1852.7L1489.4 1854.9L1488.9 1857.2L1488.4 1859.4L1487.9 1861.7L1487.2 1863.9L1486.6 1866.2L1485.9 1868.4L1485.2 1870.7L1484.7 1873L1484.2 1875.2L1483.8 1877.5L1483.5 1879.7L1483.2 1882L1483.1 1884.2L1483 1886.5L1483.1 1888.7L1483.3 1891L1483.4 1893.2L1483.6 1895.5Z" fill="#1DBDC2" stroke="#000" stroke-width="0.9" stroke-linejoin="round"/>
<path d="M1472.2 1903.7L1472.2 1907.9" stroke="#333" stroke-width="1"/>
<text font-size="22.4" text-anchor="end" transform="translate(1480.4 1910.5) rotate(-90)">SC</text>
<path d="M1502.9 1895.5L1503 1893.2L1503.2 1891L1503.4 1888.7L1503.7 1886.5L1503.7 1884.2L1503.2 1882L1502.3 1879.7L1501.4 1877.5L1500.4 1875.2L1499.7 1873L1499.1 1870.7L1498.7 1868.4L1498.2 1866.2L1497.9 1863.9L1497.6 1861.7L1497.3 1859.4L1497 1857.2L1496.8 1854.9L1496.8 1852.7L1497 1850.4L1497.5 1848.1L1498 1845.9L1498.6 1843.6L1499.2 1841.4L1499.7 1839.1L1500.2 1836.9L1500.7 1834.6L1501.2 1832.4L1501.7 1830.1L1502.1 1827.8L1502.5 1825.6L1502.8 1823.3L1503.1 1821.1L1503.4 1818.8L1503.7 1816.6L1503.9 1814.3L1504.1 1812.1L1504.3 1809.8L1504.5 1807.6L1504.7 1805.3L1504.8 1803L1505 1800.8L1505.2 1798.5L1505.3 1796.3L1505.4 1794L1505.6 1791.8L1505.7 1789.5L1505.8 1787.3L1506 1785L1506.1 1782.8L1506.2 1780.5L1506.3 1778.2L1506.4 1776L1506.5 1773.7L1506.6 1771.5L1506.7 1769.2L1506.7 1767L1506.7 1764.7L1507 1764.7L1507 1767L1507.1 1769.2L1507.2 1771.5L1507.3 1773.7L1507.4 1776L1507.5 1778.2L1507.6 1780.5L1507.7 1782.8L1507.8 1785L1507.9 1787.3L1508.1 1789.5L1508.2 1791.8L1508.3 1794L1508.5 1796.3L1508.6 1798.5L1508.8 1800.8L1508.9 1803L1509.1 1805.3L1509.3 1807.6L1509.4 1809.8L1509.6 1812.1L1509.8 1814.3L1510.1 1816.6L1510.3 1818.8L1510.6 1821.1L1511 1823.3L1511.3 1825.6L1511.7 1827.8L1512.1 1830.1L1512.6 1832.4L1513.1 1834.6L1513.6 1836.9L1514.1 1839.1L1514.6 1841.4L1515.2 1843.6L1515.8 1845.9L1516.3 1848.1L1516.7 1850.4L1517 1852.7L1517 1854.9L1516.8 1857.2L1516.5 1859.4L1516.2 1861.7L1515.9 1863.9L1515.5 1866.2L1515.1 1868.4L1514.6 1870.7L1514.1 1873L1513.3 1875.2L1512.4 1877.5L1511.4 1879.7L1510.6 1882L1510.1 1884.2L1510.1 1886.5L1510.4 1888.7L1510.5 1891L1510.7 1893.2L1510.9 1895.5Z" fill="#F8766D" stroke="#000" stroke-width="0.9" stroke-linejoin="round"/>
<path d="M1526.6 1895.5L1526.6 1893.2L1526.6 1891L1526.6 1888.7L1526.6 1886.5L1526.6 1884.2L1526.6 1882L1526.6 1879.7L1526.5 1877.5L1526.4 1875.2L1526.3 1873L1526.1 1870.7L1525.8 1868.4L1525.4 1866.2L1525.1 1863.9L1524.7 1861.7L1524.2 1859.4L1523.8 1857.2L1523.2 1854.9L1522.7 1852.7L1522.3 1850.4L1521.9 1848.1L1521.4 1845.9L1521.1 1843.6L1520.7 1841.4L1520.4 1839.1L1520.1 1836.9L1519.9 1834.6L1519.7 1832.4L1519.5 1830.1L1519.4 1827.8L1519.3 1825.6L1519.2 1823.3L1519.2 1821.1L1519.1 1818.8L1519.1 1816.6L1519.1 1814.3L1519 1812.1L1519 1809.8L1519 1807.6L1519 1805.3L1518.9 1803L1518.8 1800.8L1518.6 1798.5L1518.4 1796.3L1518.1 1794L1517.9 1791.8L1517.6 1789.5L1517.4 1787.3L1517.2 1785L1517.1 1782.8L1517 1780.5L1517 1778.2L1517 1776L1517.1 1773.7L1517.5 1771.5L1518 1769.2L1518.8 1767L1519.7 1764.7L1520.6 1762.5L1521.5 1760.2L1522.3 1757.9L1523.2 1755.7L1524 1753.4L1524.9 1751.2L1525.8 1748.9L1528.4 1748.9L1529.2 1751.2L1530.1 1753.4L1531 1755.7L1531.8 1757.9L1532.7 1760.2L1533.6 1762.5L1534.5 1764.7L1535.4 1767L1536.1 1769.2L1536.7 1771.5L1537 1773.7L1537.2 1776L1537.2 1778.2L1537.2 1780.5L1537.1 1782.8L1537 1785L1536.8 1787.3L1536.6 1789.5L1536.3 1791.8L1536 1794L1535.8 1796.3L1535.5 1798.5L1535.4 1800.8L1535.3 1803L1535.2 1805.3L1535.2 1807.6L1535.1 1809.8L1535.1 1812.1L1535.1 1814.3L1535 1816.6L1535 1818.8L1535 1821.1L1534.9 1823.3L1534.9 1825.6L1534.8 1827.8L1534.6 1830.1L1534.5 1832.4L1534.3 1834.6L1534 1836.9L1533.8 1839.1L1533.5 1841.4L1533.1 1843.6L1532.7 1845.9L1532.3 1848.1L1531.9 1850.4L1531.4 1852.7L1530.9 1854.9L1530.4 1857.2L1529.9 1859.4L1529.5 1861.7L1529.1 1863.9L1528.7 1866.2L1528.4 1868.4L1528.1 1870.7L1527.9 1873L1527.7 1875.2L1527.6 1877.5L1527.6 1879.7L1527.6 1882L1527.5 1884.2L1527.6 1886.5L1527.6 1888.7L1527.6 1891L1527.6 1893.2L1527.6 1895.5Z" fill="#1DBDC2" stroke="#000" stroke-width="0.9" stroke-linejoin="round"/>
<path d="M1517 1903.7L1517 1907.9" stroke="#333" stroke-width="1"/>
<text font-size="22.4" text-anchor="end" transform="translate(1525.2 1910.5) rotate(-90)">IS</text>
<path d="M1548.2 1895.5L1548.4 1893.2L1548.6 1891L1548.8 1888.7L1549 1886.5L1549.3 1884.2L1549.3 1882L1549.1 1879.7L1548.7 1877.5L1548.2 1875.2L1547.7 1873L1547.2 1870.7L1546.7 1868.4L1546.2 1866.2L1545.8 1863.9L1545.3 1861.7L1544.9 1859.4L1544.5 1857.2L1544.1 1854.9L1543.7 1852.7L1543.4 1850.4L1543.1 1848.1L1542.8 1845.9L1542.5 1843.6L1542.2 1841.4L1542 1839.1L1541.8 1836.9L1541.7 1834.6L1541.6 1832.4L1541.7 1830.1L1541.7 1827.8L1541.8 1825.6L1541.9 1823.3L1542.1 1821.1L1542.3 1818.8L1542.5 1816.6L1542.8 1814.3L1543 1812.1L1543.3 1809.8L1543.7 1807.6L1544 1805.3L1544.4 1803L1544.8 1800.8L1545.2 1798.5L1545.7 1796.3L1546.1 1794L1546.5 1791.8L1547 1789.5L1547.4 1787.3L1547.8 1785L1548.2 1782.8L1548.6 1780.5L1548.9 1778.2L1549.2 1776L1549.5 1773.7L1549.8 1771.5L1550.1 1769.2L1550.3 1767L1550.5 1764.7L1550.7 1762.5L1550.9 1760.2L1551.1 1757.9L1551.2 1755.7L1551.3 1753.4L1551.4 1751.2L1551.5 1750.1L1551.9 1750.1L1552 1751.2L1552.1 1753.4L1552.2 1755.7L1552.3 1757.9L1552.5 1760.2L1552.7 1762.5L1552.9 1764.7L1553.1 1767L1553.3 1769.2L1553.6 1771.5L1553.9 1773.7L1554.2 1776L1554.5 1778.2L1554.8 1780.5L1555.2 1782.8L1555.6 1785L1556 1787.3L1556.4 1789.5L1556.9 1791.8L1557.3 1794L1557.7 1796.3L1558.2 1798.5L1558.6 1800.8L1559 1803L1559.4 1805.3L1559.7 1807.6L1560.1 1809.8L1560.4 1812.1L1560.6 1814.3L1560.9 1816.6L1561.1 1818.8L1561.3 1821.1L1561.5 1823.3L1561.6 1825.6L1561.7 1827.8L1561.7 1830.1L1561.8 1832.4L1561.7 1834.6L1561.6 1836.9L1561.4 1839.1L1561.2 1841.4L1560.9 1843.6L1560.6 1845.9L1560.3 1848.1L1560 1850.4L1559.7 1852.7L1559.3 1854.9L1558.9 1857.2L1558.5 1859.4L1558.1 1861.7L1557.6 1863.9L1557.2 1866.2L1556.7 1868.4L1556.2 1870.7L1555.7 1873L1555.2 1875.2L1554.7 1877.5L1554.3 1879.7L1554.1 1882L1554.1 1884.2L1554.4 1886.5L1554.6 1888.7L1554.8 1891L1555 1893.2L1555.2 1895.5Z" fill="#F8766D" stroke="#000" stroke-width="0.9" stroke-linejoin="round"/>
<path d="M1571.6 1895.5L1571.6 1893.2L1571.6 1891L1571.6 1888.7L1571.7 1886.5L1571.7 1884.2L1571.7 1882L1571.7 1879.7L1571.7 1877.5L1571.7 1875.2L1571.7 1873L1571.7 1870.7L1571.7 1868.4L1571.7 1866.2L1571.7 1863.9L1571.7 1861.7L1571.7 1859.4L1571.7 1857.2L1571.7 1854.9L1571.7 1852.7L1571.7 1850.4L1571.7 1848.1L1571.6 1845.9L1571.5 1843.6L1571.3 1841.4L1571 1839.1L1570.6 1836.9L1570 1834.6L1569.3 1832.4L1568.6 1830.1L1567.9 1827.8L1567.3 1825.6L1566.8 1823.3L1566.2 1821.1L1565.7 1818.8L1565.2 1816.6L1564.6 1814.3L1564.1 1812.1L1563.5 1809.8L1563 1807.6L1562.6 1805.3L1562.2 1803L1561.9 1800.8L1561.8 1798.5L1561.8 1796.3L1562.1 1794L1562.5 1791.8L1563.2 1789.5L1563.9 1787.3L1564.8 1785L1565.9 1782.8L1567 1780.5L1567.9 1778.2L1568.6 1776L1569.2 1773.7L1569.6 1771.5L1570 1769.2L1570.2 1767L1570.3 1764.7L1570.3 1762.5L1570.3 1760.2L1570.2 1757.9L1570.1 1755.7L1569.9 1753.4L1569.7 1751.2L1569.7 1748.9L1569.8 1746.7L1570 1744.4L1570.3 1742.2L1570.6 1739.9L1570.9 1737.7L1571.2 1735.4L1571.4 1734.3L1572.4 1734.3L1572.6 1735.4L1572.9 1737.7L1573.2 1739.9L1573.5 1742.2L1573.8 1744.4L1574 1746.7L1574.1 1748.9L1574.1 1751.2L1573.9 1753.4L1573.7 1755.7L1573.6 1757.9L1573.5 1760.2L1573.5 1762.5L1573.5 1764.7L1573.6 1767L1573.8 1769.2L1574.2 1771.5L1574.6 1773.7L1575.2 1776L1575.9 1778.2L1576.8 1780.5L1577.9 1782.8L1579 1785L1579.9 1787.3L1580.6 1789.5L1581.2 1791.8L1581.7 1794L1582 1796.3L1582 1798.5L1581.9 1800.8L1581.6 1803L1581.2 1805.3L1580.8 1807.6L1580.3 1809.8L1579.7 1812.1L1579.2 1814.3L1578.6 1816.6L1578.1 1818.8L1577.6 1821.1L1577 1823.3L1576.5 1825.6L1575.9 1827.8L1575.2 1830.1L1574.5 1832.4L1573.8 1834.6L1573.2 1836.9L1572.8 1839.1L1572.5 1841.4L1572.3 1843.6L1572.2 1845.9L1572.1 1848.1L1572 1850.4L1572 1852.7L1572 1854.9L1572 1857.2L1572 1859.4L1572 1861.7L1572 1863.9L1572 1866.2L1572 1868.4L1572 1870.7L1572 1873L1572 1875.2L1572 1877.5L1572 1879.7L1572.1 1882L1572.1 1884.2L1572.1 1886.5L1572.2 1888.7L1572.2 1891L1572.2 1893.2L1572.2 1895.5Z" fill="#1DBDC2" stroke="#000" stroke-width="0.9" stroke-linejoin="round"/>
<path d="M1561.8 1903.7L1561.8 1907.9" stroke="#333" stroke-width="1"/>
<text font-size="22.4" text-anchor="end" transform="translate(1570 1910.5) rotate(-90)">E</text>
<path d="M1595.7 1895.5L1595.7 1893.2L1595.8 1891L1595.8 1888.7L1595.8 1886.5L1595.7 1884.2L1595.6 1882L1595.4 1879.7L1595.2 1877.5L1595 1875.2L1594.6 1873L1594.2 1870.7L1593.6 1868.4L1593 1866.2L1592.4 1863.9L1591.7 1861.7L1591 1859.4L1590.1 1857.2L1589.2 1854.9L1588.4 1852.7L1587.7 1850.4L1587.1 1848.1L1586.6 1845.9L1586.4 1843.6L1586.7 1841.4L1587.4 1839.1L1588.1 1836.9L1588.8 1834.6L1589.5 1832.4L1590.1 1830.1L1590.8 1827.8L1591.4 1825.6L1592 1823.3L1592.5 1821.1L1593 1818.8L1593.4 1816.6L1593.8 1814.3L1594.1 1812.1L1594.5 1809.8L1594.8 1807.6L1595 1805.3L1595.3 1803L1595.5 1800.8L1595.7 1798.5L1595.9 1796.3L1596 1794L1596.2 1791.8L1596.3 1789.5L1596.7 1789.5L1596.9 1791.8L1597 1794L1597.2 1796.3L1597.3 1798.5L1597.5 1800.8L1597.8 1803L1598 1805.3L1598.3 1807.6L1598.6 1809.8L1598.9 1812.1L1599.3 1814.3L1599.7 1816.6L1600.1 1818.8L1600.5 1821.1L1601 1823.3L1601.6 1825.6L1602.2 1827.8L1602.9 1830.1L1603.6 1832.4L1604.2 1834.6L1604.9 1836.9L1605.7 1839.1L1606.3 1841.4L1606.6 1843.6L1606.5 1845.9L1605.9 1848.1L1605.3 1850.4L1604.6 1852.7L1603.8 1854.9L1602.9 1857.2L1602.1 1859.4L1601.3 1861.7L1600.6 1863.9L1600 1866.2L1599.4 1868.4L1598.9 1870.7L1598.4 1873L1598.1 1875.2L1597.8 1877.5L1597.6 1879.7L1597.4 1882L1597.3 1884.2L1597.2 1886.5L1597.2 1888.7L1597.3 1891L1597.3 1893.2L1597.3 1895.5Z" fill="#F8766D" stroke="#000" stroke-width="0.9" stroke-linejoin="round"/>
<path d="M1616.4 1870.7L1616.2 1868.4L1615.9 1866.2L1615.7 1863.9L1615.4 1861.7L1615.1 1859.4L1614.8 1857.2L1614.5 1854.9L1614.1 1852.7L1613.8 1850.4L1613.5 1848.1L1613.3 1845.9L1613 1843.6L1612.7 1841.4L1612.5 1839.1L1612.2 1836.9L1612 1834.6L1611.7 1832.4L1611.4 1830.1L1611.1 1827.8L1610.8 1825.6L1610.5 1823.3L1610.2 1821.1L1609.8 1818.8L1609.5 1816.6L1609.1 1814.3L1608.8 1812.1L1608.5 1809.8L1608.2 1807.6L1607.9 1805.3L1607.7 1803L1607.4 1800.8L1607.1 1798.5L1606.9 1796.3L1606.7 1794L1606.6 1791.8L1606.6 1789.5L1606.7 1787.3L1606.9 1785L1607.2 1782.8L1607.5 1780.5L1607.9 1778.2L1608.4 1776L1609 1773.7L1609.7 1771.5L1610.4 1769.2L1611.1 1767L1611.9 1764.7L1612.7 1762.5L1613.5 1760.2L1614.3 1757.9L1615.1 1755.7L1615.8 1753.4L1616.2 1752.3L1617.2 1752.3L1617.6 1753.4L1618.4 1755.7L1619.1 1757.9L1619.9 1760.2L1620.8 1762.5L1621.6 1764.7L1622.3 1767L1623 1769.2L1623.7 1771.5L1624.4 1773.7L1625 1776L1625.5 1778.2L1625.9 1780.5L1626.3 1782.8L1626.6 1785L1626.7 1787.3L1626.8 1789.5L1626.8 1791.8L1626.7 1794L1626.5 1796.3L1626.3 1798.5L1626.1 1800.8L1625.8 1803L1625.5 1805.3L1625.3 1807.6L1625 1809.8L1624.6 1812.1L1624.3 1814.3L1624 1816.6L1623.6 1818.8L1623.3 1821.1L1622.9 1823.3L1622.6 1825.6L1622.3 1827.8L1622 1830.1L1621.8 1832.4L1621.5 1834.6L1621.2 1836.9L1621 1839.1L1620.7 1841.4L1620.5 1843.6L1620.2 1845.9L1619.9 1848.1L1619.6 1850.4L1619.3 1852.7L1619 1854.9L1618.6 1857.2L1618.3 1859.4L1618 1861.7L1617.8 1863.9L1617.5 1866.2L1617.3 1868.4L1617 1870.7Z" fill="#1DBDC2" stroke="#000" stroke-width="0.9" stroke-linejoin="round"/>
<path d="M1606.6 1903.7L1606.6 1907.9" stroke="#333" stroke-width="1"/>
<text font-size="22.4" text-anchor="end" transform="translate(1614.8 1910.5) rotate(-90)">PC1</text>
<path d="M1640.7 1895.5L1640.7 1893.2L1640.7 1891L1640.7 1888.7L1640.5 1886.5L1640.3 1884.2L1639.9 1882L1639.4 1879.7L1638.9 1877.5L1638.4 1875.2L1637.9 1873L1637.3 1870.7L1636.7 1868.4L1636.1 1866.2L1635.5 1863.9L1634.9 1861.7L1634.4 1859.4L1633.9 1857.2L1633.4 1854.9L1633 1852.7L1632.5 1850.4L1632 1848.1L1631.5 1845.9L1631.1 1843.6L1630.9 1841.4L1631.3 1839.1L1631.9 1836.9L1632.6 1834.6L1633.3 1832.4L1634 1830.1L1634.6 1827.8L1635.3 1825.6L1635.9 1823.3L1636.5 1821.1L1637.1 1818.8L1637.6 1816.6L1638.1 1814.3L1638.5 1812.1L1638.9 1809.8L1639.3 1807.6L1639.7 1805.3L1640 1803L1640.3 1800.8L1640.5 1798.5L1640.7 1796.3L1640.8 1794L1641 1791.8L1641 1789.5L1641.1 1787.3L1641.1 1785L1641.2 1782.8L1641.2 1780.5L1641.2 1778.2L1641.2 1776L1641.2 1773.7L1641.2 1771.5L1641.2 1770.3L1641.5 1770.3L1641.5 1771.5L1641.5 1773.7L1641.5 1776L1641.5 1778.2L1641.5 1780.5L1641.5 1782.8L1641.5 1785L1641.6 1787.3L1641.6 1789.5L1641.7 1791.8L1641.8 1794L1642 1796.3L1642.1 1798.5L1642.4 1800.8L1642.6 1803L1643 1805.3L1643.3 1807.6L1643.7 1809.8L1644.2 1812.1L1644.6 1814.3L1645.1 1816.6L1645.6 1818.8L1646.1 1821.1L1646.7 1823.3L1647.4 1825.6L1648 1827.8L1648.7 1830.1L1649.3 1832.4L1650 1834.6L1650.8 1836.9L1651.4 1839.1L1651.7 1841.4L1651.6 1843.6L1651.2 1845.9L1650.7 1848.1L1650.1 1850.4L1649.7 1852.7L1649.2 1854.9L1648.8 1857.2L1648.3 1859.4L1647.7 1861.7L1647.2 1863.9L1646.6 1866.2L1646 1868.4L1645.4 1870.7L1644.8 1873L1644.3 1875.2L1643.7 1877.5L1643.3 1879.7L1642.8 1882L1642.4 1884.2L1642.1 1886.5L1642 1888.7L1642 1891L1642 1893.2L1641.9 1895.5Z" fill="#F8766D" stroke="#000" stroke-width="0.9" stroke-linejoin="round"/>
<path d="M1659.9 1848.1L1659.9 1845.9L1659.8 1843.6L1659.7 1841.4L1659.6 1839.1L1659.6 1836.9L1659.5 1834.6L1659.5 1832.4L1659.3 1830.1L1659.1 1827.8L1658.9 1825.6L1658.6 1823.3L1658.1 1821.1L1657.5 1818.8L1656.7 1816.6L1655.7 1814.3L1654.6 1812.1L1653.5 1809.8L1652.3 1807.6L1651.3 1805.3L1651.3 1803L1652.3 1800.8L1653.5 1798.5L1654.7 1796.3L1655.8 1794L1657 1791.8L1658 1789.5L1658.9 1787.3L1659.7 1785L1660.2 1782.8L1660.6 1780.5L1660.8 1778.2L1660.8 1776L1660.9 1773.7L1660.9 1771.5L1661 1769.2L1661 1767L1661 1764.7L1661 1762.5L1661 1760.2L1661 1759.1L1662 1759.1L1662 1760.2L1662 1762.5L1662 1764.7L1662.1 1767L1662.1 1769.2L1662.1 1771.5L1662.2 1773.7L1662.2 1776L1662.3 1778.2L1662.5 1780.5L1662.8 1782.8L1663.4 1785L1664.2 1787.3L1665 1789.5L1666.1 1791.8L1667.2 1794L1668.4 1796.3L1669.5 1798.5L1670.8 1800.8L1671.8 1803L1671.8 1805.3L1670.7 1807.6L1669.5 1809.8L1668.5 1812.1L1667.4 1814.3L1666.4 1816.6L1665.5 1818.8L1664.9 1821.1L1664.5 1823.3L1664.2 1825.6L1663.9 1827.8L1663.7 1830.1L1663.6 1832.4L1663.6 1834.6L1663.5 1836.9L1663.4 1839.1L1663.4 1841.4L1663.3 1843.6L1663.2 1845.9L1663.1 1848.1Z" fill="#1DBDC2" stroke="#000" stroke-width="0.9" stroke-linejoin="round"/>
<path d="M1651.4 1903.7L1651.4 1907.9" stroke="#333" stroke-width="1"/>
<text font-size="22.4" text-anchor="end" transform="translate(1659.6 1910.5) rotate(-90)">PC2</text>
<path d="M1680.6 1895.5L1681.3 1893.2L1682.2 1891L1683.4 1888.7L1684.6 1886.5L1684.8 1884.2L1684.2 1882L1683.1 1879.7L1682.2 1877.5L1681.3 1875.2L1680.5 1873L1679.7 1870.7L1679 1868.4L1678.4 1866.2L1678 1863.9L1677.7 1861.7L1677.4 1859.4L1676.9 1857.2L1676.5 1854.9L1676.2 1852.7L1676.1 1850.4L1676.3 1848.1L1676.8 1845.9L1677.4 1843.6L1678.1 1841.4L1678.9 1839.1L1679.8 1836.9L1680.6 1834.6L1681.4 1832.4L1682 1830.1L1682.5 1827.8L1683 1825.6L1683.4 1823.3L1683.8 1821.1L1684.1 1818.8L1684.4 1816.6L1684.6 1814.3L1684.8 1812.1L1685 1809.8L1685.2 1807.6L1685.4 1805.3L1685.5 1803L1685.6 1800.8L1685.7 1798.5L1685.8 1796.3L1685.9 1794L1685.9 1791.8L1686 1789.5L1686 1787.3L1686 1785L1686.3 1785L1686.3 1787.3L1686.3 1789.5L1686.4 1791.8L1686.4 1794L1686.5 1796.3L1686.6 1798.5L1686.7 1800.8L1686.8 1803L1687 1805.3L1687.1 1807.6L1687.3 1809.8L1687.5 1812.1L1687.7 1814.3L1687.9 1816.6L1688.2 1818.8L1688.6 1821.1L1688.9 1823.3L1689.4 1825.6L1689.8 1827.8L1690.4 1830.1L1691 1832.4L1691.7 1834.6L1692.5 1836.9L1693.4 1839.1L1694.3 1841.4L1695 1843.6L1695.6 1845.9L1696 1848.1L1696.3 1850.4L1696.2 1852.7L1695.8 1854.9L1695.4 1857.2L1695 1859.4L1694.6 1861.7L1694.3 1863.9L1693.9 1866.2L1693.4 1868.4L1692.7 1870.7L1691.9 1873L1691 1875.2L1690.2 1877.5L1689.2 1879.7L1688.2 1882L1687.5 1884.2L1687.7 1886.5L1688.9 1888.7L1690.2 1891L1691 1893.2L1691.8 1895.5Z" fill="#F8766D" stroke="#000" stroke-width="0.9" stroke-linejoin="round"/>
<path d="M1705.9 1895.5L1705.9 1893.2L1705.9 1891L1706 1888.7L1706 1886.5L1706 1884.2L1706 1882L1706 1879.7L1705.9 1877.5L1705.7 1875.2L1705.4 1873L1705.1 1870.7L1704.8 1868.4L1704.3 1866.2L1703.8 1863.9L1703.3 1861.7L1702.8 1859.4L1702.2 1857.2L1701.7 1854.9L1701.2 1852.7L1700.8 1850.4L1700.4 1848.1L1700.1 1845.9L1699.8 1843.6L1699.6 1841.4L1699.3 1839.1L1699.1 1836.9L1698.9 1834.6L1698.7 1832.4L1698.4 1830.1L1698.1 1827.8L1697.8 1825.6L1697.6 1823.3L1697.6 1821.1L1697.7 1818.8L1697.9 1816.6L1698.2 1814.3L1698.4 1812.1L1698.3 1809.8L1698.2 1807.6L1698 1805.3L1697.8 1803L1697.6 1800.8L1697.3 1798.5L1697.1 1796.3L1696.7 1794L1696.4 1791.8L1696.2 1789.5L1696 1787.3L1695.9 1785L1696 1782.8L1696.2 1780.5L1696.6 1778.2L1697.1 1776L1697.7 1773.7L1698.4 1771.5L1699.1 1769.2L1700.1 1767L1701.1 1764.7L1702 1762.5L1702.9 1760.2L1703.6 1757.9L1704.2 1755.7L1704.8 1753.4L1705.4 1751.2L1705.8 1750.1L1707 1750.1L1707.3 1751.2L1707.9 1753.4L1708.5 1755.7L1709.1 1757.9L1709.9 1760.2L1710.7 1762.5L1711.7 1764.7L1712.6 1767L1713.6 1769.2L1714.4 1771.5L1715 1773.7L1715.6 1776L1716.1 1778.2L1716.5 1780.5L1716.8 1782.8L1716.8 1785L1716.7 1787.3L1716.5 1789.5L1716.3 1791.8L1716 1794L1715.7 1796.3L1715.4 1798.5L1715.2 1800.8L1715 1803L1714.7 1805.3L1714.5 1807.6L1714.4 1809.8L1714.4 1812.1L1714.5 1814.3L1714.8 1816.6L1715 1818.8L1715.2 1821.1L1715.1 1823.3L1714.9 1825.6L1714.6 1827.8L1714.3 1830.1L1714.1 1832.4L1713.8 1834.6L1713.6 1836.9L1713.4 1839.1L1713.1 1841.4L1712.9 1843.6L1712.6 1845.9L1712.3 1848.1L1712 1850.4L1711.5 1852.7L1711.1 1854.9L1710.5 1857.2L1710 1859.4L1709.4 1861.7L1708.9 1863.9L1708.4 1866.2L1708 1868.4L1707.6 1870.7L1707.3 1873L1707 1875.2L1706.9 1877.5L1706.8 1879.7L1706.7 1882L1706.7 1884.2L1706.7 1886.5L1706.8 1888.7L1706.8 1891L1706.8 1893.2L1706.9 1895.5Z" fill="#1DBDC2" stroke="#000" stroke-width="0.9" stroke-linejoin="round"/>
<path d="M1696.3 1903.7L1696.3 1907.9" stroke="#333" stroke-width="1"/>
<text font-size="22.4" text-anchor="end" transform="translate(1704.5 1910.5) rotate(-90)">PC/GC</text>
<path d="M1720.9 1895.5L1721.3 1893.2L1721.8 1891L1722.2 1888.7L1722.5 1886.5L1722.8 1884.2L1722.9 1882L1723 1879.7L1722.9 1877.5L1722.6 1875.2L1722.2 1873L1721.9 1870.7L1721.7 1868.4L1721.5 1866.2L1721.4 1863.9L1721.3 1861.7L1721.2 1859.4L1721.2 1857.2L1721.4 1854.9L1721.7 1852.7L1722.2 1850.4L1722.7 1848.1L1723.3 1845.9L1723.8 1843.6L1724.2 1841.4L1724.7 1839.1L1725.2 1836.9L1725.6 1834.6L1726.1 1832.4L1726.5 1830.1L1727 1827.8L1727.4 1825.6L1727.9 1823.3L1728.4 1821.1L1728.8 1818.8L1729.1 1816.6L1729.3 1814.3L1729.4 1812.1L1729.5 1809.8L1729.6 1807.6L1729.7 1805.3L1729.8 1803L1729.8 1800.8L1729.9 1798.5L1729.9 1796.3L1730 1794L1730 1791.8L1730 1789.5L1730.1 1787.3L1730.1 1785L1730.2 1782.8L1730.2 1781.6L1731.8 1781.6L1731.8 1782.8L1731.8 1785L1731.9 1787.3L1731.9 1789.5L1732 1791.8L1732 1794L1732 1796.3L1732.1 1798.5L1732.1 1800.8L1732.2 1803L1732.3 1805.3L1732.4 1807.6L1732.4 1809.8L1732.5 1812.1L1732.7 1814.3L1732.9 1816.6L1733.2 1818.8L1733.6 1821.1L1734.1 1823.3L1734.5 1825.6L1735 1827.8L1735.4 1830.1L1735.9 1832.4L1736.3 1834.6L1736.8 1836.9L1737.2 1839.1L1737.7 1841.4L1738.2 1843.6L1738.7 1845.9L1739.3 1848.1L1739.8 1850.4L1740.3 1852.7L1740.6 1854.9L1740.7 1857.2L1740.8 1859.4L1740.7 1861.7L1740.6 1863.9L1740.4 1866.2L1740.3 1868.4L1740.1 1870.7L1739.7 1873L1739.4 1875.2L1739.1 1877.5L1739 1879.7L1739 1882L1739.2 1884.2L1739.5 1886.5L1739.8 1888.7L1740.2 1891L1740.6 1893.2L1741.1 1895.5Z" fill="#F8766D" stroke="#000" stroke-width="0.9" stroke-linejoin="round"/>
<path d="M1748 1895.5L1748.2 1893.2L1748.5 1891L1748.8 1888.7L1749.1 1886.5L1749.5 1884.2L1749.6 1882L1749.2 1879.7L1748.6 1877.5L1747.8 1875.2L1747.2 1873L1746.7 1870.7L1746.2 1868.4L1745.7 1866.2L1745.2 1863.9L1744.8 1861.7L1744.4 1859.4L1743.9 1857.2L1743.6 1854.9L1743.2 1852.7L1742.9 1850.4L1742.6 1848.1L1742.3 1845.9L1742 1843.6L1741.7 1841.4L1741.5 1839.1L1741.3 1836.9L1741.1 1834.6L1741.1 1832.4L1741.1 1830.1L1741.2 1827.8L1741.3 1825.6L1741.5 1823.3L1741.8 1821.1L1742.1 1818.8L1742.4 1816.6L1742.7 1814.3L1743.2 1812.1L1743.6 1809.8L1744.1 1807.6L1744.6 1805.3L1745.1 1803L1745.6 1800.8L1746 1798.5L1746.5 1796.3L1746.9 1794L1747.3 1791.8L1747.7 1789.5L1748.1 1787.3L1748.5 1785L1748.8 1782.8L1749 1780.5L1749.2 1778.2L1749.3 1776L1749.4 1773.7L1749.6 1771.5L1749.7 1769.2L1749.9 1767L1750 1764.7L1750.1 1762.5L1750.3 1760.2L1750.4 1757.9L1750.5 1755.7L1750.6 1754.6L1751.8 1754.6L1751.8 1755.7L1752 1757.9L1752.1 1760.2L1752.2 1762.5L1752.4 1764.7L1752.5 1767L1752.6 1769.2L1752.8 1771.5L1752.9 1773.7L1753 1776L1753.2 1778.2L1753.3 1780.5L1753.6 1782.8L1753.9 1785L1754.2 1787.3L1754.6 1789.5L1755 1791.8L1755.5 1794L1755.9 1796.3L1756.3 1798.5L1756.8 1800.8L1757.2 1803L1757.7 1805.3L1758.2 1807.6L1758.7 1809.8L1759.2 1812.1L1759.6 1814.3L1760 1816.6L1760.3 1818.8L1760.6 1821.1L1760.8 1823.3L1761 1825.6L1761.2 1827.8L1761.3 1830.1L1761.3 1832.4L1761.2 1834.6L1761.1 1836.9L1760.9 1839.1L1760.7 1841.4L1760.4 1843.6L1760.1 1845.9L1759.8 1848.1L1759.5 1850.4L1759.2 1852.7L1758.8 1854.9L1758.4 1857.2L1758 1859.4L1757.6 1861.7L1757.1 1863.9L1756.7 1866.2L1756.2 1868.4L1755.7 1870.7L1755.2 1873L1754.5 1875.2L1753.8 1877.5L1753.1 1879.7L1752.8 1882L1752.9 1884.2L1753.2 1886.5L1753.6 1888.7L1753.8 1891L1754.1 1893.2L1754.4 1895.5Z" fill="#1DBDC2" stroke="#000" stroke-width="0.9" stroke-linejoin="round"/>
<path d="M1741.1 1903.7L1741.1 1907.9" stroke="#333" stroke-width="1"/>
<text font-size="22.4" text-anchor="end" transform="translate(1749.3 1910.5) rotate(-90)">EE</text>
<path d="M1767.8 1895.5L1768.3 1893.2L1768.8 1891L1769.1 1888.7L1769 1886.5L1768.8 1884.2L1768.4 1882L1768.1 1879.7L1767.8 1877.5L1767.4 1875.2L1767.1 1873L1766.7 1870.7L1766.5 1868.4L1766.3 1866.2L1766.2 1863.9L1766.2 1861.7L1766.1 1859.4L1766.2 1857.2L1766.2 1854.9L1766.3 1852.7L1766.4 1850.4L1766.5 1848.1L1766.7 1845.9L1767 1843.6L1767.3 1841.4L1767.8 1839.1L1768.2 1836.9L1768.7 1834.6L1769.2 1832.4L1769.7 1830.1L1770.2 1827.8L1770.7 1825.6L1771.2 1823.3L1771.7 1821.1L1772.2 1818.8L1772.6 1816.6L1772.9 1814.3L1773.2 1812.1L1773.5 1809.8L1773.7 1807.6L1773.9 1805.3L1774 1803L1774.1 1800.8L1774.2 1798.5L1774.3 1796.3L1774.3 1794L1774.4 1791.8L1774.4 1789.5L1774.4 1787.3L1774.4 1785L1774.5 1782.8L1774.6 1780.5L1774.6 1778.2L1774.7 1776L1774.8 1773.7L1774.8 1771.5L1774.9 1769.2L1775 1767L1775 1765.8L1776.6 1765.8L1776.6 1767L1776.7 1769.2L1776.8 1771.5L1776.8 1773.7L1776.9 1776L1777 1778.2L1777 1780.5L1777.1 1782.8L1777.2 1785L1777.2 1787.3L1777.2 1789.5L1777.2 1791.8L1777.3 1794L1777.3 1796.3L1777.4 1798.5L1777.5 1800.8L1777.6 1803L1777.7 1805.3L1777.9 1807.6L1778.1 1809.8L1778.4 1812.1L1778.7 1814.3L1779 1816.6L1779.4 1818.8L1779.9 1821.1L1780.4 1823.3L1780.9 1825.6L1781.4 1827.8L1781.9 1830.1L1782.4 1832.4L1782.9 1834.6L1783.4 1836.9L1783.8 1839.1L1784.3 1841.4L1784.6 1843.6L1784.9 1845.9L1785.1 1848.1L1785.2 1850.4L1785.3 1852.7L1785.4 1854.9L1785.4 1857.2L1785.5 1859.4L1785.4 1861.7L1785.4 1863.9L1785.3 1866.2L1785.1 1868.4L1784.9 1870.7L1784.5 1873L1784.2 1875.2L1783.8 1877.5L1783.5 1879.7L1783.2 1882L1782.8 1884.2L1782.6 1886.5L1782.5 1888.7L1782.8 1891L1783.3 1893.2L1783.8 1895.5Z" fill="#F8766D" stroke="#000" stroke-width="0.9" stroke-linejoin="round"/>
<path d="M1794.1 1895.5L1794.1 1893.2L1794.2 1891L1794.2 1888.7L1794.1 1886.5L1793.9 1884.2L1793.6 1882L1793.2 1879.7L1792.8 1877.5L1792.4 1875.2L1791.9 1873L1791.5 1870.7L1791 1868.4L1790.5 1866.2L1790 1863.9L1789.6 1861.7L1789.2 1859.4L1788.8 1857.2L1788.5 1854.9L1788.1 1852.7L1787.8 1850.4L1787.5 1848.1L1787.2 1845.9L1786.9 1843.6L1786.6 1841.4L1786.4 1839.1L1786.1 1836.9L1785.9 1834.6L1785.8 1832.4L1785.6 1830.1L1785.6 1827.8L1785.6 1825.6L1785.7 1823.3L1785.9 1821.1L1786.1 1818.8L1786.4 1816.6L1786.7 1814.3L1787.1 1812.1L1787.5 1809.8L1788 1807.6L1788.4 1805.3L1789 1803L1789.4 1800.8L1789.9 1798.5L1790.3 1796.3L1790.8 1794L1791.2 1791.8L1791.6 1789.5L1792.1 1787.3L1792.4 1785L1792.8 1782.8L1793.1 1780.5L1793.4 1778.2L1793.7 1776L1794 1773.7L1794.2 1771.5L1794.4 1769.2L1794.6 1767L1794.7 1764.7L1794.9 1762.5L1795 1760.2L1795.1 1757.9L1795.2 1755.7L1795.3 1753.4L1795.4 1751.2L1795.5 1748.9L1796.5 1748.9L1796.6 1751.2L1796.7 1753.4L1796.8 1755.7L1796.9 1757.9L1797 1760.2L1797.1 1762.5L1797.3 1764.7L1797.4 1767L1797.6 1769.2L1797.8 1771.5L1798 1773.7L1798.3 1776L1798.6 1778.2L1798.9 1780.5L1799.2 1782.8L1799.6 1785L1799.9 1787.3L1800.4 1789.5L1800.8 1791.8L1801.2 1794L1801.7 1796.3L1802.1 1798.5L1802.6 1800.8L1803 1803L1803.6 1805.3L1804 1807.6L1804.5 1809.8L1804.9 1812.1L1805.3 1814.3L1805.6 1816.6L1805.9 1818.8L1806.1 1821.1L1806.3 1823.3L1806.4 1825.6L1806.4 1827.8L1806.4 1830.1L1806.2 1832.4L1806.1 1834.6L1805.9 1836.9L1805.6 1839.1L1805.4 1841.4L1805.1 1843.6L1804.8 1845.9L1804.5 1848.1L1804.2 1850.4L1803.9 1852.7L1803.5 1854.9L1803.2 1857.2L1802.8 1859.4L1802.4 1861.7L1802 1863.9L1801.5 1866.2L1801 1868.4L1800.5 1870.7L1800.1 1873L1799.6 1875.2L1799.2 1877.5L1798.8 1879.7L1798.4 1882L1798.1 1884.2L1797.9 1886.5L1797.8 1888.7L1797.8 1891L1797.9 1893.2L1797.9 1895.5Z" fill="#1DBDC2" stroke="#000" stroke-width="0.9" stroke-linejoin="round"/>
<path d="M1785.9 1903.7L1785.9 1907.9" stroke="#333" stroke-width="1"/>
<text font-size="22.4" text-anchor="end" transform="translate(1794.1 1910.5) rotate(-90)">T</text>
<path d="M1811.8 1895.5L1812.9 1893.2L1813.9 1891L1815.2 1888.7L1816.5 1886.5L1817.1 1884.2L1816.5 1882L1815.2 1879.7L1813.8 1877.5L1812.6 1875.2L1811.9 1873L1811.3 1870.7L1810.9 1868.4L1810.6 1866.2L1810.5 1863.9L1810.6 1861.7L1810.9 1859.4L1811.3 1857.2L1811.8 1854.9L1812.5 1852.7L1813.3 1850.4L1814.2 1848.1L1815 1845.9L1815.9 1843.6L1816.7 1841.4L1817.5 1839.1L1818.2 1836.9L1818.8 1834.6L1819.2 1832.4L1819.6 1830.1L1819.8 1827.8L1820 1825.6L1820.1 1823.3L1820.1 1821.1L1820.1 1818.8L1820.1 1816.6L1820.1 1814.3L1821.1 1814.3L1821.1 1816.6L1821.1 1818.8L1821.1 1821.1L1821.2 1823.3L1821.2 1825.6L1821.4 1827.8L1821.7 1830.1L1822 1832.4L1822.5 1834.6L1823 1836.9L1823.7 1839.1L1824.5 1841.4L1825.4 1843.6L1826.2 1845.9L1827.1 1848.1L1827.9 1850.4L1828.8 1852.7L1829.4 1854.9L1829.9 1857.2L1830.4 1859.4L1830.6 1861.7L1830.7 1863.9L1830.6 1866.2L1830.3 1868.4L1829.9 1870.7L1829.3 1873L1828.6 1875.2L1827.5 1877.5L1826 1879.7L1824.7 1882L1824.1 1884.2L1824.7 1886.5L1826 1888.7L1827.3 1891L1828.4 1893.2L1829.4 1895.5Z" fill="#F8766D" stroke="#000" stroke-width="0.9" stroke-linejoin="round"/>
<path d="M1840.5 1895.5L1840.5 1893.2L1840.6 1891L1840.6 1888.7L1840.6 1886.5L1840.7 1884.2L1840.7 1882L1840.7 1879.7L1840.7 1877.5L1840.6 1875.2L1840.5 1873L1840.4 1870.7L1840.2 1868.4L1839.9 1866.2L1839.5 1863.9L1839.1 1861.7L1838.7 1859.4L1838.1 1857.2L1837.3 1854.9L1836.2 1852.7L1834.9 1850.4L1833.6 1848.1L1832.4 1845.9L1831.3 1843.6L1830.7 1841.4L1831.1 1839.1L1832.1 1836.9L1833.1 1834.6L1834.1 1832.4L1835.1 1830.1L1836 1827.8L1836.9 1825.6L1837.6 1823.3L1838.3 1821.1L1838.9 1818.8L1839.4 1816.6L1839.7 1814.3L1840 1812.1L1840.2 1809.8L1840.4 1807.6L1840.5 1805.3L1840.6 1803L1840.7 1800.8L1840.7 1798.5L1840.7 1796.3L1840.7 1794L1840.7 1791.8L1840.7 1789.5L1840.7 1787.3L1840.7 1785L1840.7 1782.8L1840.7 1780.5L1840.6 1778.2L1840.6 1776L1840.6 1773.7L1840.6 1771.5L1840.6 1769.2L1840.6 1768.1L1841 1768.1L1841 1769.2L1841 1771.5L1841 1773.7L1841 1776L1841 1778.2L1841 1780.5L1841 1782.8L1841 1785L1841 1787.3L1841 1789.5L1841 1791.8L1841 1794L1841 1796.3L1841 1798.5L1841 1800.8L1841 1803L1841.1 1805.3L1841.3 1807.6L1841.4 1809.8L1841.6 1812.1L1841.9 1814.3L1842.3 1816.6L1842.7 1818.8L1843.3 1821.1L1844 1823.3L1844.8 1825.6L1845.6 1827.8L1846.6 1830.1L1847.6 1832.4L1848.5 1834.6L1849.6 1836.9L1850.5 1839.1L1850.9 1841.4L1850.4 1843.6L1849.2 1845.9L1848 1848.1L1846.8 1850.4L1845.4 1852.7L1844.3 1854.9L1843.5 1857.2L1843 1859.4L1842.5 1861.7L1842.1 1863.9L1841.8 1866.2L1841.5 1868.4L1841.3 1870.7L1841.1 1873L1841 1875.2L1841 1877.5L1841 1879.7L1841 1882L1841 1884.2L1841 1886.5L1841 1888.7L1841.1 1891L1841.1 1893.2L1841.1 1895.5Z" fill="#1DBDC2" stroke="#000" stroke-width="0.9" stroke-linejoin="round"/>
<path d="M1830.7 1903.7L1830.7 1907.9" stroke="#333" stroke-width="1"/>
<text font-size="22.4" text-anchor="end" transform="translate(1838.9 1910.5) rotate(-90)">B</text>
<path d="M1857.7 1895.5L1857.9 1893.2L1858.1 1891L1858.3 1888.7L1858.2 1886.5L1858 1884.2L1857.6 1882L1857.1 1879.7L1856.6 1877.5L1856.2 1875.2L1855.8 1873L1855.4 1870.7L1855.3 1868.4L1855.6 1866.2L1856.1 1863.9L1856.8 1861.7L1857.4 1859.4L1858.2 1857.2L1859 1854.9L1859.9 1852.7L1860.6 1850.4L1861.3 1848.1L1862 1845.9L1862.6 1843.6L1863.1 1841.4L1863.5 1839.1L1863.9 1836.9L1864.2 1834.6L1864.4 1832.4L1864.5 1830.1L1864.6 1827.8L1864.7 1825.6L1864.8 1823.3L1864.9 1821.1L1864.9 1818.8L1864.9 1816.6L1864.9 1814.3L1864.9 1812.1L1864.9 1809.8L1864.9 1807.6L1864.9 1805.3L1865 1803L1865 1800.8L1865 1798.5L1865.1 1796.3L1865.1 1794L1865.1 1791.8L1865.2 1789.5L1865.2 1787.3L1865.2 1785L1865.6 1785L1865.7 1787.3L1865.7 1789.5L1865.7 1791.8L1865.8 1794L1865.8 1796.3L1865.8 1798.5L1865.9 1800.8L1865.9 1803L1865.9 1805.3L1866 1807.6L1866 1809.8L1866 1812.1L1866 1814.3L1866 1816.6L1866 1818.8L1866 1821.1L1866.1 1823.3L1866.1 1825.6L1866.2 1827.8L1866.4 1830.1L1866.5 1832.4L1866.7 1834.6L1867 1836.9L1867.3 1839.1L1867.8 1841.4L1868.3 1843.6L1868.9 1845.9L1869.6 1848.1L1870.2 1850.4L1871 1852.7L1871.9 1854.9L1872.7 1857.2L1873.4 1859.4L1874.1 1861.7L1874.8 1863.9L1875.3 1866.2L1875.5 1868.4L1875.5 1870.7L1875.1 1873L1874.7 1875.2L1874.2 1877.5L1873.8 1879.7L1873.3 1882L1872.9 1884.2L1872.6 1886.5L1872.6 1888.7L1872.8 1891L1873 1893.2L1873.1 1895.5Z" fill="#F8766D" stroke="#000" stroke-width="0.9" stroke-linejoin="round"/>
<path d="M1883.7 1895.5L1883.6 1893.2L1883.5 1891L1883.2 1888.7L1882.6 1886.5L1881.8 1884.2L1880.9 1882L1880 1879.7L1879.2 1877.5L1878.5 1875.2L1877.8 1873L1877.1 1870.7L1876.5 1868.4L1876 1866.2L1875.8 1863.9L1875.6 1861.7L1875.5 1859.4L1875.5 1857.2L1875.5 1854.9L1875.5 1852.7L1875.6 1850.4L1875.7 1848.1L1875.8 1845.9L1876 1843.6L1876.4 1841.4L1876.8 1839.1L1877.3 1836.9L1877.9 1834.6L1878.4 1832.4L1879 1830.1L1879.7 1827.8L1880.4 1825.6L1881 1823.3L1881.6 1821.1L1882.2 1818.8L1882.8 1816.6L1883.4 1814.3L1883.7 1812.1L1884 1809.8L1884.2 1807.6L1884.3 1805.3L1884.3 1803L1884.3 1800.8L1884.3 1798.5L1884.3 1796.3L1884.3 1794L1884.4 1791.8L1884.4 1789.5L1884.4 1787.3L1884.4 1785L1884.4 1782.8L1884.4 1780.5L1884.4 1778.2L1884.4 1776L1884.4 1773.7L1884.4 1771.5L1884.4 1769.2L1884.4 1767L1884.3 1764.7L1884.3 1762.5L1884.3 1761.3L1886.9 1761.3L1886.9 1762.5L1886.9 1764.7L1886.9 1767L1886.9 1769.2L1886.9 1771.5L1886.9 1773.7L1886.9 1776L1886.9 1778.2L1886.9 1780.5L1886.9 1782.8L1886.9 1785L1886.9 1787.3L1886.9 1789.5L1886.9 1791.8L1886.9 1794L1887 1796.3L1887 1798.5L1887 1800.8L1887 1803L1887 1805.3L1887.1 1807.6L1887.3 1809.8L1887.5 1812.1L1887.9 1814.3L1888.4 1816.6L1889 1818.8L1889.6 1821.1L1890.3 1823.3L1890.9 1825.6L1891.6 1827.8L1892.2 1830.1L1892.8 1832.4L1893.4 1834.6L1893.9 1836.9L1894.5 1839.1L1894.9 1841.4L1895.2 1843.6L1895.5 1845.9L1895.6 1848.1L1895.7 1850.4L1895.7 1852.7L1895.7 1854.9L1895.7 1857.2L1895.7 1859.4L1895.7 1861.7L1895.5 1863.9L1895.2 1866.2L1894.8 1868.4L1894.2 1870.7L1893.5 1873L1892.8 1875.2L1892 1877.5L1891.2 1879.7L1890.3 1882L1889.5 1884.2L1888.7 1886.5L1888 1888.7L1887.7 1891L1887.6 1893.2L1887.5 1895.5Z" fill="#1DBDC2" stroke="#000" stroke-width="0.9" stroke-linejoin="round"/>
<path d="M1875.5 1903.7L1875.5 1907.9" stroke="#333" stroke-width="1"/>
<text font-size="22.4" text-anchor="end" transform="translate(1883.7 1910.5) rotate(-90)">TC</text>
<path d="M1310.9 1727V1903.7H1902.3" fill="none" stroke="#333" stroke-width="1.1"/>
<path d="M1307.4 1895.5L1310.9 1895.5" stroke="#333" stroke-width="1"/>
<text x="1305.4" y="1903.8" font-size="24.5" text-anchor="end">0</text>
<path d="M1307.4 1850.4L1310.9 1850.4" stroke="#333" stroke-width="1"/>
<text x="1305.4" y="1858.7" font-size="24.5" text-anchor="end">2</text>
<path d="M1307.4 1805.3L1310.9 1805.3" stroke="#333" stroke-width="1"/>
<text x="1305.4" y="1813.6" font-size="24.5" text-anchor="end">4</text>
<path d="M1307.4 1760.2L1310.9 1760.2" stroke="#333" stroke-width="1"/>
<text x="1305.4" y="1768.5" font-size="24.5" text-anchor="end">6</text>
<text font-size="27" text-anchor="middle" transform="translate(574.1 1811.2) rotate(-90)">Average</text>
<text font-size="27" text-anchor="middle" transform="translate(606.7 1811.8) rotate(-90)">gene expression</text>
<rect x="1653.3" y="1696" width="20" height="19.5" fill="#F8766D" stroke="#333" stroke-width="1"/>
<rect x="1653.3" y="1724" width="20" height="19.5" fill="#1DBDC2" stroke="#333" stroke-width="1"/>
<text x="1683.2" y="1709.9" font-size="26.5" font-style="italic">Tet2/3<tspan font-size="15.3" dy="-8.2">fl/fl</tspan></text>
<text x="1683.2" y="1738.4" font-size="26.5" font-style="italic">Tet2/3<tspan font-size="15.3" dy="-8.2">fl/fl</tspan><tspan dy="8.2"> VillinCre</tspan></text>
<linearGradient id="jet" x1="0" y1="0" x2="0" y2="1"><stop offset="0%" stop-color="#0000a3"/><stop offset="5%" stop-color="#0000d4"/><stop offset="10%" stop-color="#0006ff"/><stop offset="15%" stop-color="#0037ff"/><stop offset="20%" stop-color="#0068ff"/><stop offset="25%" stop-color="#0099ff"/><stop offset="30%" stop-color="#00caff"/><stop offset="35%" stop-color="#00fbff"/><stop offset="40%" stop-color="#28ffd7"/><stop offset="45%" stop-color="#54ffac"/><stop offset="50%" stop-color="#80ff80"/><stop offset="55%" stop-color="#b3ff4d"/><stop offset="60%" stop-color="#e6ff1a"/><stop offset="65%" stop-color="#ffe800"/><stop offset="70%" stop-color="#ffbc00"/><stop offset="75%" stop-color="#ff8e00"/><stop offset="80%" stop-color="#ff6100"/><stop offset="85%" stop-color="#ff3400"/><stop offset="90%" stop-color="#eb1900"/><stop offset="95%" stop-color="#c40f00"/><stop offset="100%" stop-color="#9c0400"/></linearGradient>
<rect x="1865.5" y="1593.5" width="18" height="89" fill="url(#jet)" stroke="#444" stroke-width="1"/>
<text x="1874.8" y="1588.8" font-size="25" text-anchor="middle">0</text>
<text x="1853.3" y="1702.5" font-size="26" textLength="50.9" lengthAdjust="spacingAndGlyphs">Max</text>
<text font-size="27.3" text-anchor="middle" transform="translate(1954.9 1634.1) rotate(90)">Average</text>
<text font-size="27.2" text-anchor="middle" transform="translate(1916.7 1638.5) rotate(90)">gene expression</text>
</svg>
</body></html>
